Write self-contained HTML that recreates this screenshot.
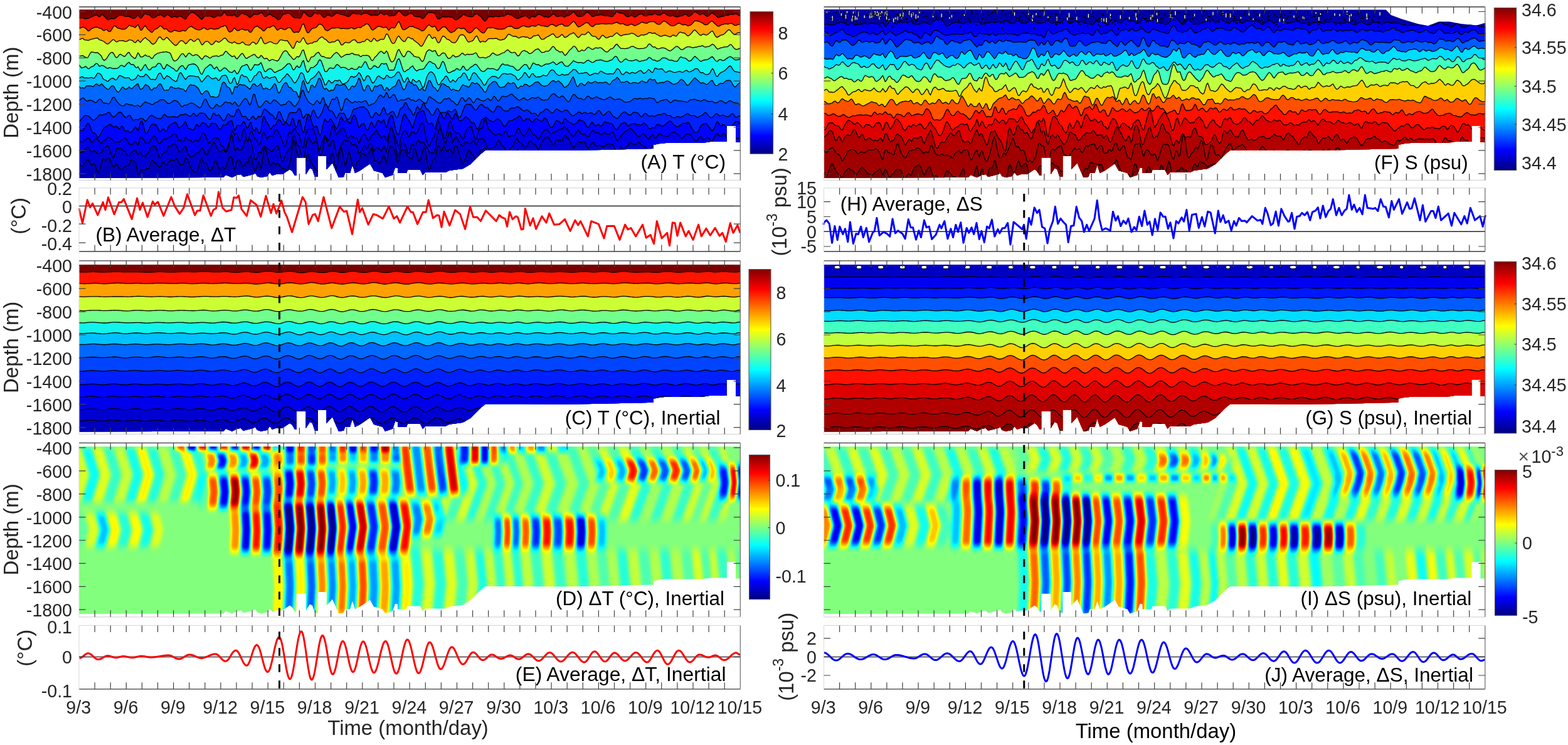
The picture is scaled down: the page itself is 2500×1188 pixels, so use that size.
<!DOCTYPE html><html><head><meta charset="utf-8"><style>html,body{margin:0;padding:0;background:#fff;}svg{display:block}text{font-family:"Liberation Sans",Arial,sans-serif}</style></head><body>
<svg width="2500" height="1188" viewBox="0 0 2500 1188">
<defs><linearGradient id="jetv" x1="0" y1="1" x2="0" y2="0"><stop offset="0.0000" stop-color="#000080"/><stop offset="0.1250" stop-color="#0000ff"/><stop offset="0.3750" stop-color="#00ffff"/><stop offset="0.6250" stop-color="#ffff00"/><stop offset="0.8750" stop-color="#ff0000"/><stop offset="1.0000" stop-color="#800000"/></linearGradient><clipPath id="cA"><path d="M126,15.3 L1180.3,15.3 L1180.3,227 L1173,227 L1173,200.8 L1159,200.8 L1159,226 L1133,226 L1120,228 L1062,228 L1052,229 L1042,231 L1042,237 L1000,238 L960,239 L900,240 L830,239.5 L774,239.5 L766,246 L750,262 L738,269 L716,272 L710,275 L678,275 L674,279 L670,271 L650,271 L648,276 L634,276 L634,268 L630,267 L626,279 L614,283 L610,276 L596,272 L590,261 L574,272 L566,276 L562,263 L558,276 L550,276 L548,282 L540,283 L536,274 L530,260 L520.7,270 L520.7,248.7 L506.8,248.7 L506.8,282 L502,282 L498,270 L494,268 L487.8,278 L487.8,251.3 L472.7,251.3 L472.7,280 L470,280 L466,273 L462,270 L450,278 L440,278 L434,280 L430,275 L426,281 L416,283 L410,281 L407,276 L404,278 L388,282 L384,278 L378,279 L370,283 L360,279 L356,283 L330,283 L126,283.5Z"/></clipPath><clipPath id="cF"><path d="M1313.5,15 L2209.7,15.5 L2218,24 L2234,30 L2259.6,37.8 L2276.8,41.3 L2294,34.4 L2311,34.4 L2328,37.8 L2354,40.4 L2366,37 L2368.5,37 L2367.8,227 L2360.5,227 L2360.5,200.8 L2346.5,200.8 L2346.5,226 L2320.5,226 L2307.5,228 L2249.5,228 L2239.5,229 L2229.5,231 L2229.5,237 L2187.5,238 L2147.5,239 L2087.5,240 L2017.5,239.5 L1961.5,239.5 L1953.5,246 L1937.5,262 L1925.5,269 L1903.5,272 L1897.5,275 L1865.5,275 L1861.5,279 L1857.5,271 L1837.5,271 L1835.5,276 L1821.5,276 L1821.5,268 L1817.5,267 L1813.5,279 L1801.5,283 L1797.5,276 L1783.5,272 L1777.5,261 L1761.5,272 L1753.5,276 L1749.5,263 L1745.5,276 L1737.5,276 L1735.5,282 L1727.5,283 L1723.5,274 L1717.5,260 L1708.2,270 L1708.2,248.7 L1694.3,248.7 L1694.3,282 L1689.5,282 L1685.5,270 L1681.5,268 L1675.3,278 L1675.3,251.3 L1660.2,251.3 L1660.2,280 L1657.5,280 L1653.5,273 L1649.5,270 L1637.5,278 L1627.5,278 L1621.5,280 L1617.5,275 L1613.5,281 L1603.5,283 L1597.5,281 L1594.5,276 L1591.5,278 L1575.5,282 L1571.5,278 L1565.5,279 L1557.5,283 L1547.5,279 L1543.5,283 L1517.5,283 L1313.5,283.5Z"/></clipPath><clipPath id="cC"><path d="M126,422 L1180.3,422 L1180.3,631.8 L1173,631.8 L1173,605.6 L1159,605.6 L1159,630.8 L1133,630.8 L1120,632.8 L1062,632.8 L1052,633.8 L1042,635.8 L1042,641.8 L1000,642.8 L960,643.8 L900,644.8 L830,644.3 L774,644.3 L766,650.8 L750,666.8 L738,673.8 L716,676.8 L710,679.8 L678,679.8 L674,683.8 L670,675.8 L650,675.8 L648,680.8 L634,680.8 L634,672.8 L630,671.8 L626,683.8 L614,687.8 L610,680.8 L596,676.8 L590,665.8 L574,676.8 L566,680.8 L562,667.8 L558,680.8 L550,680.8 L548,686.8 L540,687.8 L536,678.8 L530,664.8 L520.7,674.8 L520.7,653.5 L506.8,653.5 L506.8,686.8 L502,686.8 L498,674.8 L494,672.8 L487.8,682.8 L487.8,656.1 L472.7,656.1 L472.7,684.8 L470,684.8 L466,677.8 L462,674.8 L450,682.8 L440,682.8 L434,684.8 L430,679.8 L426,685.8 L416,687.8 L410,685.8 L407,680.8 L404,682.8 L388,686.8 L384,682.8 L378,683.8 L370,687.8 L360,683.8 L356,687.8 L330,687.8 L126,688.3Z"/></clipPath><clipPath id="cG"><path d="M1313.5,422 L2367.8,422 L2367.8,631.8 L2360.5,631.8 L2360.5,605.6 L2346.5,605.6 L2346.5,630.8 L2320.5,630.8 L2307.5,632.8 L2249.5,632.8 L2239.5,633.8 L2229.5,635.8 L2229.5,641.8 L2187.5,642.8 L2147.5,643.8 L2087.5,644.8 L2017.5,644.3 L1961.5,644.3 L1953.5,650.8 L1937.5,666.8 L1925.5,673.8 L1903.5,676.8 L1897.5,679.8 L1865.5,679.8 L1861.5,683.8 L1857.5,675.8 L1837.5,675.8 L1835.5,680.8 L1821.5,680.8 L1821.5,672.8 L1817.5,671.8 L1813.5,683.8 L1801.5,687.8 L1797.5,680.8 L1783.5,676.8 L1777.5,665.8 L1761.5,676.8 L1753.5,680.8 L1749.5,667.8 L1745.5,680.8 L1737.5,680.8 L1735.5,686.8 L1727.5,687.8 L1723.5,678.8 L1717.5,664.8 L1708.2,674.8 L1708.2,653.5 L1694.3,653.5 L1694.3,686.8 L1689.5,686.8 L1685.5,674.8 L1681.5,672.8 L1675.3,682.8 L1675.3,656.1 L1660.2,656.1 L1660.2,684.8 L1657.5,684.8 L1653.5,677.8 L1649.5,674.8 L1637.5,682.8 L1627.5,682.8 L1621.5,684.8 L1617.5,679.8 L1613.5,685.8 L1603.5,687.8 L1597.5,685.8 L1594.5,680.8 L1591.5,682.8 L1575.5,686.8 L1571.5,682.8 L1565.5,683.8 L1557.5,687.8 L1547.5,683.8 L1543.5,687.8 L1517.5,687.8 L1313.5,688.3Z"/></clipPath><filter id="jetf" filterUnits="userSpaceOnUse" x="0" y="690" width="2500" height="310" color-interpolation-filters="sRGB"><feGaussianBlur stdDeviation="2.6 2.6"/><feComponentTransfer><feFuncR type="table" tableValues="0 0 0 0 .5 1 1 1 .5"/><feFuncG type="table" tableValues="0 0 .5 1 1 1 .5 0 0"/><feFuncB type="table" tableValues=".5 1 1 1 .5 0 0 0 0"/></feComponentTransfer></filter><clipPath id="cD"><path d="M126,712 L1180.3,712 L1180.3,922.4 L1173,922.4 L1173,896.2 L1159,896.2 L1159,921.4 L1133,921.4 L1120,923.4 L1062,923.4 L1052,924.4 L1042,926.4 L1042,932.4 L1000,933.4 L960,934.4 L900,935.4 L830,934.9 L774,934.9 L766,941.4 L750,957.4 L738,964.4 L716,967.4 L710,970.4 L678,970.4 L674,974.4 L670,966.4 L650,966.4 L648,971.4 L634,971.4 L634,963.4 L630,962.4 L626,974.4 L614,978.4 L610,971.4 L596,967.4 L590,956.4 L574,967.4 L566,971.4 L562,958.4 L558,971.4 L550,971.4 L548,977.4 L540,978.4 L536,969.4 L530,955.4 L520.7,965.4 L520.7,944.1 L506.8,944.1 L506.8,977.4 L502,977.4 L498,965.4 L494,963.4 L487.8,973.4 L487.8,946.7 L472.7,946.7 L472.7,975.4 L470,975.4 L466,968.4 L462,965.4 L450,973.4 L440,973.4 L434,975.4 L430,970.4 L426,976.4 L416,978.4 L410,976.4 L407,971.4 L404,973.4 L388,977.4 L384,973.4 L378,974.4 L370,978.4 L360,974.4 L356,978.4 L330,978.4 L126,978.9Z"/></clipPath><linearGradient id="cD0w" x1="0" y1="0" x2="0" y2="1"><stop offset="0" stop-color="#fff" stop-opacity="0"/><stop offset="0.122" stop-color="#fff"/><stop offset="0.878" stop-color="#fff"/><stop offset="1" stop-color="#fff" stop-opacity="0"/></linearGradient><linearGradient id="cD0k" x1="0" y1="0" x2="0" y2="1"><stop offset="0" stop-color="#000" stop-opacity="0"/><stop offset="0.122" stop-color="#000"/><stop offset="0.878" stop-color="#000"/><stop offset="1" stop-color="#000" stop-opacity="0"/></linearGradient><linearGradient id="cD1w" x1="0" y1="0" x2="0" y2="1"><stop offset="0" stop-color="#fff" stop-opacity="0"/><stop offset="0.119" stop-color="#fff"/><stop offset="0.881" stop-color="#fff"/><stop offset="1" stop-color="#fff" stop-opacity="0"/></linearGradient><linearGradient id="cD1k" x1="0" y1="0" x2="0" y2="1"><stop offset="0" stop-color="#000" stop-opacity="0"/><stop offset="0.119" stop-color="#000"/><stop offset="0.881" stop-color="#000"/><stop offset="1" stop-color="#000" stop-opacity="0"/></linearGradient><linearGradient id="cD2w" x1="0" y1="0" x2="0" y2="1"><stop offset="0" stop-color="#fff" stop-opacity="0"/><stop offset="0.155" stop-color="#fff"/><stop offset="0.845" stop-color="#fff"/><stop offset="1" stop-color="#fff" stop-opacity="0"/></linearGradient><linearGradient id="cD2k" x1="0" y1="0" x2="0" y2="1"><stop offset="0" stop-color="#000" stop-opacity="0"/><stop offset="0.155" stop-color="#000"/><stop offset="0.845" stop-color="#000"/><stop offset="1" stop-color="#000" stop-opacity="0"/></linearGradient><linearGradient id="cD3w" x1="0" y1="0" x2="0" y2="1"><stop offset="0" stop-color="#fff" stop-opacity="0"/><stop offset="0.333" stop-color="#fff"/><stop offset="0.667" stop-color="#fff"/><stop offset="1" stop-color="#fff" stop-opacity="0"/></linearGradient><linearGradient id="cD3k" x1="0" y1="0" x2="0" y2="1"><stop offset="0" stop-color="#000" stop-opacity="0"/><stop offset="0.333" stop-color="#000"/><stop offset="0.667" stop-color="#000"/><stop offset="1" stop-color="#000" stop-opacity="0"/></linearGradient><linearGradient id="cD4w" x1="0" y1="0" x2="0" y2="1"><stop offset="0" stop-color="#fff" stop-opacity="0"/><stop offset="0.273" stop-color="#fff"/><stop offset="0.727" stop-color="#fff"/><stop offset="1" stop-color="#fff" stop-opacity="0"/></linearGradient><linearGradient id="cD4k" x1="0" y1="0" x2="0" y2="1"><stop offset="0" stop-color="#000" stop-opacity="0"/><stop offset="0.273" stop-color="#000"/><stop offset="0.727" stop-color="#000"/><stop offset="1" stop-color="#000" stop-opacity="0"/></linearGradient><linearGradient id="cD5w" x1="0" y1="0" x2="0" y2="1"><stop offset="0" stop-color="#fff" stop-opacity="0"/><stop offset="0.286" stop-color="#fff"/><stop offset="0.714" stop-color="#fff"/><stop offset="1" stop-color="#fff" stop-opacity="0"/></linearGradient><linearGradient id="cD5k" x1="0" y1="0" x2="0" y2="1"><stop offset="0" stop-color="#000" stop-opacity="0"/><stop offset="0.286" stop-color="#000"/><stop offset="0.714" stop-color="#000"/><stop offset="1" stop-color="#000" stop-opacity="0"/></linearGradient><linearGradient id="cD6w" x1="0" y1="0" x2="0" y2="1"><stop offset="0" stop-color="#fff" stop-opacity="0"/><stop offset="0.333" stop-color="#fff"/><stop offset="0.667" stop-color="#fff"/><stop offset="1" stop-color="#fff" stop-opacity="0"/></linearGradient><linearGradient id="cD6k" x1="0" y1="0" x2="0" y2="1"><stop offset="0" stop-color="#000" stop-opacity="0"/><stop offset="0.333" stop-color="#000"/><stop offset="0.667" stop-color="#000"/><stop offset="1" stop-color="#000" stop-opacity="0"/></linearGradient><linearGradient id="cD7w" x1="0" y1="0" x2="0" y2="1"><stop offset="0" stop-color="#fff" stop-opacity="0"/><stop offset="0.163" stop-color="#fff"/><stop offset="0.837" stop-color="#fff"/><stop offset="1" stop-color="#fff" stop-opacity="0"/></linearGradient><linearGradient id="cD7k" x1="0" y1="0" x2="0" y2="1"><stop offset="0" stop-color="#000" stop-opacity="0"/><stop offset="0.163" stop-color="#000"/><stop offset="0.837" stop-color="#000"/><stop offset="1" stop-color="#000" stop-opacity="0"/></linearGradient><linearGradient id="cD8w" x1="0" y1="0" x2="0" y2="1"><stop offset="0" stop-color="#fff" stop-opacity="0"/><stop offset="0.227" stop-color="#fff"/><stop offset="0.773" stop-color="#fff"/><stop offset="1" stop-color="#fff" stop-opacity="0"/></linearGradient><linearGradient id="cD8k" x1="0" y1="0" x2="0" y2="1"><stop offset="0" stop-color="#000" stop-opacity="0"/><stop offset="0.227" stop-color="#000"/><stop offset="0.773" stop-color="#000"/><stop offset="1" stop-color="#000" stop-opacity="0"/></linearGradient><linearGradient id="cD9w" x1="0" y1="0" x2="0" y2="1"><stop offset="0" stop-color="#fff" stop-opacity="0"/><stop offset="0.333" stop-color="#fff"/><stop offset="0.667" stop-color="#fff"/><stop offset="1" stop-color="#fff" stop-opacity="0"/></linearGradient><linearGradient id="cD9k" x1="0" y1="0" x2="0" y2="1"><stop offset="0" stop-color="#000" stop-opacity="0"/><stop offset="0.333" stop-color="#000"/><stop offset="0.667" stop-color="#000"/><stop offset="1" stop-color="#000" stop-opacity="0"/></linearGradient><linearGradient id="cD10w" x1="0" y1="0" x2="0" y2="1"><stop offset="0" stop-color="#fff" stop-opacity="0"/><stop offset="0.278" stop-color="#fff"/><stop offset="0.722" stop-color="#fff"/><stop offset="1" stop-color="#fff" stop-opacity="0"/></linearGradient><linearGradient id="cD10k" x1="0" y1="0" x2="0" y2="1"><stop offset="0" stop-color="#000" stop-opacity="0"/><stop offset="0.278" stop-color="#000"/><stop offset="0.722" stop-color="#000"/><stop offset="1" stop-color="#000" stop-opacity="0"/></linearGradient><linearGradient id="cD11w" x1="0" y1="0" x2="0" y2="1"><stop offset="0" stop-color="#fff" stop-opacity="0"/><stop offset="0.235" stop-color="#fff"/><stop offset="0.765" stop-color="#fff"/><stop offset="1" stop-color="#fff" stop-opacity="0"/></linearGradient><linearGradient id="cD11k" x1="0" y1="0" x2="0" y2="1"><stop offset="0" stop-color="#000" stop-opacity="0"/><stop offset="0.235" stop-color="#000"/><stop offset="0.765" stop-color="#000"/><stop offset="1" stop-color="#000" stop-opacity="0"/></linearGradient><linearGradient id="cD12w" x1="0" y1="0" x2="0" y2="1"><stop offset="0" stop-color="#fff" stop-opacity="0"/><stop offset="0.203" stop-color="#fff"/><stop offset="0.797" stop-color="#fff"/><stop offset="1" stop-color="#fff" stop-opacity="0"/></linearGradient><linearGradient id="cD12k" x1="0" y1="0" x2="0" y2="1"><stop offset="0" stop-color="#000" stop-opacity="0"/><stop offset="0.203" stop-color="#000"/><stop offset="0.797" stop-color="#000"/><stop offset="1" stop-color="#000" stop-opacity="0"/></linearGradient><linearGradient id="cD13w" x1="0" y1="0" x2="0" y2="1"><stop offset="0" stop-color="#fff" stop-opacity="0"/><stop offset="0.222" stop-color="#fff"/><stop offset="0.778" stop-color="#fff"/><stop offset="1" stop-color="#fff" stop-opacity="0"/></linearGradient><linearGradient id="cD13k" x1="0" y1="0" x2="0" y2="1"><stop offset="0" stop-color="#000" stop-opacity="0"/><stop offset="0.222" stop-color="#000"/><stop offset="0.778" stop-color="#000"/><stop offset="1" stop-color="#000" stop-opacity="0"/></linearGradient><linearGradient id="cD14w" x1="0" y1="0" x2="0" y2="1"><stop offset="0" stop-color="#fff" stop-opacity="0"/><stop offset="0.229" stop-color="#fff"/><stop offset="0.771" stop-color="#fff"/><stop offset="1" stop-color="#fff" stop-opacity="0"/></linearGradient><linearGradient id="cD14k" x1="0" y1="0" x2="0" y2="1"><stop offset="0" stop-color="#000" stop-opacity="0"/><stop offset="0.229" stop-color="#000"/><stop offset="0.771" stop-color="#000"/><stop offset="1" stop-color="#000" stop-opacity="0"/></linearGradient><linearGradient id="cD15w" x1="0" y1="0" x2="0" y2="1"><stop offset="0" stop-color="#fff" stop-opacity="0"/><stop offset="0.190" stop-color="#fff"/><stop offset="0.810" stop-color="#fff"/><stop offset="1" stop-color="#fff" stop-opacity="0"/></linearGradient><linearGradient id="cD15k" x1="0" y1="0" x2="0" y2="1"><stop offset="0" stop-color="#000" stop-opacity="0"/><stop offset="0.190" stop-color="#000"/><stop offset="0.810" stop-color="#000"/><stop offset="1" stop-color="#000" stop-opacity="0"/></linearGradient><linearGradient id="cD16w" x1="0" y1="0" x2="0" y2="1"><stop offset="0" stop-color="#fff" stop-opacity="0"/><stop offset="0.158" stop-color="#fff"/><stop offset="0.842" stop-color="#fff"/><stop offset="1" stop-color="#fff" stop-opacity="0"/></linearGradient><linearGradient id="cD16k" x1="0" y1="0" x2="0" y2="1"><stop offset="0" stop-color="#000" stop-opacity="0"/><stop offset="0.158" stop-color="#000"/><stop offset="0.842" stop-color="#000"/><stop offset="1" stop-color="#000" stop-opacity="0"/></linearGradient><linearGradient id="cD17w" x1="0" y1="0" x2="0" y2="1"><stop offset="0" stop-color="#fff" stop-opacity="0"/><stop offset="0.160" stop-color="#fff"/><stop offset="0.840" stop-color="#fff"/><stop offset="1" stop-color="#fff" stop-opacity="0"/></linearGradient><linearGradient id="cD17k" x1="0" y1="0" x2="0" y2="1"><stop offset="0" stop-color="#000" stop-opacity="0"/><stop offset="0.160" stop-color="#000"/><stop offset="0.840" stop-color="#000"/><stop offset="1" stop-color="#000" stop-opacity="0"/></linearGradient><linearGradient id="cD18w" x1="0" y1="0" x2="0" y2="1"><stop offset="0" stop-color="#fff" stop-opacity="0"/><stop offset="0.225" stop-color="#fff"/><stop offset="0.775" stop-color="#fff"/><stop offset="1" stop-color="#fff" stop-opacity="0"/></linearGradient><linearGradient id="cD18k" x1="0" y1="0" x2="0" y2="1"><stop offset="0" stop-color="#000" stop-opacity="0"/><stop offset="0.225" stop-color="#000"/><stop offset="0.775" stop-color="#000"/><stop offset="1" stop-color="#000" stop-opacity="0"/></linearGradient><linearGradient id="cD19w" x1="0" y1="0" x2="0" y2="1"><stop offset="0" stop-color="#fff" stop-opacity="0"/><stop offset="0.219" stop-color="#fff"/><stop offset="0.781" stop-color="#fff"/><stop offset="1" stop-color="#fff" stop-opacity="0"/></linearGradient><linearGradient id="cD19k" x1="0" y1="0" x2="0" y2="1"><stop offset="0" stop-color="#000" stop-opacity="0"/><stop offset="0.219" stop-color="#000"/><stop offset="0.781" stop-color="#000"/><stop offset="1" stop-color="#000" stop-opacity="0"/></linearGradient><linearGradient id="cD20w" x1="0" y1="0" x2="0" y2="1"><stop offset="0" stop-color="#fff" stop-opacity="0"/><stop offset="0.232" stop-color="#fff"/><stop offset="0.768" stop-color="#fff"/><stop offset="1" stop-color="#fff" stop-opacity="0"/></linearGradient><linearGradient id="cD20k" x1="0" y1="0" x2="0" y2="1"><stop offset="0" stop-color="#000" stop-opacity="0"/><stop offset="0.232" stop-color="#000"/><stop offset="0.768" stop-color="#000"/><stop offset="1" stop-color="#000" stop-opacity="0"/></linearGradient><linearGradient id="cD21w" x1="0" y1="0" x2="0" y2="1"><stop offset="0" stop-color="#fff" stop-opacity="0"/><stop offset="0.250" stop-color="#fff"/><stop offset="0.750" stop-color="#fff"/><stop offset="1" stop-color="#fff" stop-opacity="0"/></linearGradient><linearGradient id="cD21k" x1="0" y1="0" x2="0" y2="1"><stop offset="0" stop-color="#000" stop-opacity="0"/><stop offset="0.250" stop-color="#000"/><stop offset="0.750" stop-color="#000"/><stop offset="1" stop-color="#000" stop-opacity="0"/></linearGradient><linearGradient id="cD22w" x1="0" y1="0" x2="0" y2="1"><stop offset="0" stop-color="#fff" stop-opacity="0"/><stop offset="0.232" stop-color="#fff"/><stop offset="0.768" stop-color="#fff"/><stop offset="1" stop-color="#fff" stop-opacity="0"/></linearGradient><linearGradient id="cD22k" x1="0" y1="0" x2="0" y2="1"><stop offset="0" stop-color="#000" stop-opacity="0"/><stop offset="0.232" stop-color="#000"/><stop offset="0.768" stop-color="#000"/><stop offset="1" stop-color="#000" stop-opacity="0"/></linearGradient><clipPath id="cI"><path d="M1313.5,712 L2367.8,712 L2367.8,922.4 L2360.5,922.4 L2360.5,896.2 L2346.5,896.2 L2346.5,921.4 L2320.5,921.4 L2307.5,923.4 L2249.5,923.4 L2239.5,924.4 L2229.5,926.4 L2229.5,932.4 L2187.5,933.4 L2147.5,934.4 L2087.5,935.4 L2017.5,934.9 L1961.5,934.9 L1953.5,941.4 L1937.5,957.4 L1925.5,964.4 L1903.5,967.4 L1897.5,970.4 L1865.5,970.4 L1861.5,974.4 L1857.5,966.4 L1837.5,966.4 L1835.5,971.4 L1821.5,971.4 L1821.5,963.4 L1817.5,962.4 L1813.5,974.4 L1801.5,978.4 L1797.5,971.4 L1783.5,967.4 L1777.5,956.4 L1761.5,967.4 L1753.5,971.4 L1749.5,958.4 L1745.5,971.4 L1737.5,971.4 L1735.5,977.4 L1727.5,978.4 L1723.5,969.4 L1717.5,955.4 L1708.2,965.4 L1708.2,944.1 L1694.3,944.1 L1694.3,977.4 L1689.5,977.4 L1685.5,965.4 L1681.5,963.4 L1675.3,973.4 L1675.3,946.7 L1660.2,946.7 L1660.2,975.4 L1657.5,975.4 L1653.5,968.4 L1649.5,965.4 L1637.5,973.4 L1627.5,973.4 L1621.5,975.4 L1617.5,970.4 L1613.5,976.4 L1603.5,978.4 L1597.5,976.4 L1594.5,971.4 L1591.5,973.4 L1575.5,977.4 L1571.5,973.4 L1565.5,974.4 L1557.5,978.4 L1547.5,974.4 L1543.5,978.4 L1517.5,978.4 L1313.5,978.9Z"/></clipPath><linearGradient id="cI0w" x1="0" y1="0" x2="0" y2="1"><stop offset="0" stop-color="#fff" stop-opacity="0"/><stop offset="0.231" stop-color="#fff"/><stop offset="0.769" stop-color="#fff"/><stop offset="1" stop-color="#fff" stop-opacity="0"/></linearGradient><linearGradient id="cI0k" x1="0" y1="0" x2="0" y2="1"><stop offset="0" stop-color="#000" stop-opacity="0"/><stop offset="0.231" stop-color="#000"/><stop offset="0.769" stop-color="#000"/><stop offset="1" stop-color="#000" stop-opacity="0"/></linearGradient><linearGradient id="cI1w" x1="0" y1="0" x2="0" y2="1"><stop offset="0" stop-color="#fff" stop-opacity="0"/><stop offset="0.122" stop-color="#fff"/><stop offset="0.878" stop-color="#fff"/><stop offset="1" stop-color="#fff" stop-opacity="0"/></linearGradient><linearGradient id="cI1k" x1="0" y1="0" x2="0" y2="1"><stop offset="0" stop-color="#000" stop-opacity="0"/><stop offset="0.122" stop-color="#000"/><stop offset="0.878" stop-color="#000"/><stop offset="1" stop-color="#000" stop-opacity="0"/></linearGradient><linearGradient id="cI2w" x1="0" y1="0" x2="0" y2="1"><stop offset="0" stop-color="#fff" stop-opacity="0"/><stop offset="0.119" stop-color="#fff"/><stop offset="0.881" stop-color="#fff"/><stop offset="1" stop-color="#fff" stop-opacity="0"/></linearGradient><linearGradient id="cI2k" x1="0" y1="0" x2="0" y2="1"><stop offset="0" stop-color="#000" stop-opacity="0"/><stop offset="0.119" stop-color="#000"/><stop offset="0.881" stop-color="#000"/><stop offset="1" stop-color="#000" stop-opacity="0"/></linearGradient><linearGradient id="cI3w" x1="0" y1="0" x2="0" y2="1"><stop offset="0" stop-color="#fff" stop-opacity="0"/><stop offset="0.156" stop-color="#fff"/><stop offset="0.844" stop-color="#fff"/><stop offset="1" stop-color="#fff" stop-opacity="0"/></linearGradient><linearGradient id="cI3k" x1="0" y1="0" x2="0" y2="1"><stop offset="0" stop-color="#000" stop-opacity="0"/><stop offset="0.156" stop-color="#000"/><stop offset="0.844" stop-color="#000"/><stop offset="1" stop-color="#000" stop-opacity="0"/></linearGradient><linearGradient id="cI4w" x1="0" y1="0" x2="0" y2="1"><stop offset="0" stop-color="#fff" stop-opacity="0"/><stop offset="0.231" stop-color="#fff"/><stop offset="0.769" stop-color="#fff"/><stop offset="1" stop-color="#fff" stop-opacity="0"/></linearGradient><linearGradient id="cI4k" x1="0" y1="0" x2="0" y2="1"><stop offset="0" stop-color="#000" stop-opacity="0"/><stop offset="0.231" stop-color="#000"/><stop offset="0.769" stop-color="#000"/><stop offset="1" stop-color="#000" stop-opacity="0"/></linearGradient><linearGradient id="cI5w" x1="0" y1="0" x2="0" y2="1"><stop offset="0" stop-color="#fff" stop-opacity="0"/><stop offset="0.200" stop-color="#fff"/><stop offset="0.800" stop-color="#fff"/><stop offset="1" stop-color="#fff" stop-opacity="0"/></linearGradient><linearGradient id="cI5k" x1="0" y1="0" x2="0" y2="1"><stop offset="0" stop-color="#000" stop-opacity="0"/><stop offset="0.200" stop-color="#000"/><stop offset="0.800" stop-color="#000"/><stop offset="1" stop-color="#000" stop-opacity="0"/></linearGradient><linearGradient id="cI6w" x1="0" y1="0" x2="0" y2="1"><stop offset="0" stop-color="#fff" stop-opacity="0"/><stop offset="0.200" stop-color="#fff"/><stop offset="0.800" stop-color="#fff"/><stop offset="1" stop-color="#fff" stop-opacity="0"/></linearGradient><linearGradient id="cI6k" x1="0" y1="0" x2="0" y2="1"><stop offset="0" stop-color="#000" stop-opacity="0"/><stop offset="0.200" stop-color="#000"/><stop offset="0.800" stop-color="#000"/><stop offset="1" stop-color="#000" stop-opacity="0"/></linearGradient><linearGradient id="cI7w" x1="0" y1="0" x2="0" y2="1"><stop offset="0" stop-color="#fff" stop-opacity="0"/><stop offset="0.127" stop-color="#fff"/><stop offset="0.873" stop-color="#fff"/><stop offset="1" stop-color="#fff" stop-opacity="0"/></linearGradient><linearGradient id="cI7k" x1="0" y1="0" x2="0" y2="1"><stop offset="0" stop-color="#000" stop-opacity="0"/><stop offset="0.127" stop-color="#000"/><stop offset="0.873" stop-color="#000"/><stop offset="1" stop-color="#000" stop-opacity="0"/></linearGradient><linearGradient id="cI8w" x1="0" y1="0" x2="0" y2="1"><stop offset="0" stop-color="#fff" stop-opacity="0"/><stop offset="0.163" stop-color="#fff"/><stop offset="0.837" stop-color="#fff"/><stop offset="1" stop-color="#fff" stop-opacity="0"/></linearGradient><linearGradient id="cI8k" x1="0" y1="0" x2="0" y2="1"><stop offset="0" stop-color="#000" stop-opacity="0"/><stop offset="0.163" stop-color="#000"/><stop offset="0.837" stop-color="#000"/><stop offset="1" stop-color="#000" stop-opacity="0"/></linearGradient><linearGradient id="cI9w" x1="0" y1="0" x2="0" y2="1"><stop offset="0" stop-color="#fff" stop-opacity="0"/><stop offset="0.163" stop-color="#fff"/><stop offset="0.837" stop-color="#fff"/><stop offset="1" stop-color="#fff" stop-opacity="0"/></linearGradient><linearGradient id="cI9k" x1="0" y1="0" x2="0" y2="1"><stop offset="0" stop-color="#000" stop-opacity="0"/><stop offset="0.163" stop-color="#000"/><stop offset="0.837" stop-color="#000"/><stop offset="1" stop-color="#000" stop-opacity="0"/></linearGradient><linearGradient id="cI10w" x1="0" y1="0" x2="0" y2="1"><stop offset="0" stop-color="#fff" stop-opacity="0"/><stop offset="0.175" stop-color="#fff"/><stop offset="0.825" stop-color="#fff"/><stop offset="1" stop-color="#fff" stop-opacity="0"/></linearGradient><linearGradient id="cI10k" x1="0" y1="0" x2="0" y2="1"><stop offset="0" stop-color="#000" stop-opacity="0"/><stop offset="0.175" stop-color="#000"/><stop offset="0.825" stop-color="#000"/><stop offset="1" stop-color="#000" stop-opacity="0"/></linearGradient><linearGradient id="cI11w" x1="0" y1="0" x2="0" y2="1"><stop offset="0" stop-color="#fff" stop-opacity="0"/><stop offset="0.255" stop-color="#fff"/><stop offset="0.745" stop-color="#fff"/><stop offset="1" stop-color="#fff" stop-opacity="0"/></linearGradient><linearGradient id="cI11k" x1="0" y1="0" x2="0" y2="1"><stop offset="0" stop-color="#000" stop-opacity="0"/><stop offset="0.255" stop-color="#000"/><stop offset="0.745" stop-color="#000"/><stop offset="1" stop-color="#000" stop-opacity="0"/></linearGradient><linearGradient id="cI12w" x1="0" y1="0" x2="0" y2="1"><stop offset="0" stop-color="#fff" stop-opacity="0"/><stop offset="0.333" stop-color="#fff"/><stop offset="0.667" stop-color="#fff"/><stop offset="1" stop-color="#fff" stop-opacity="0"/></linearGradient><linearGradient id="cI12k" x1="0" y1="0" x2="0" y2="1"><stop offset="0" stop-color="#000" stop-opacity="0"/><stop offset="0.333" stop-color="#000"/><stop offset="0.667" stop-color="#000"/><stop offset="1" stop-color="#000" stop-opacity="0"/></linearGradient><linearGradient id="cI13w" x1="0" y1="0" x2="0" y2="1"><stop offset="0" stop-color="#fff" stop-opacity="0"/><stop offset="0.323" stop-color="#fff"/><stop offset="0.677" stop-color="#fff"/><stop offset="1" stop-color="#fff" stop-opacity="0"/></linearGradient><linearGradient id="cI13k" x1="0" y1="0" x2="0" y2="1"><stop offset="0" stop-color="#000" stop-opacity="0"/><stop offset="0.323" stop-color="#000"/><stop offset="0.677" stop-color="#000"/><stop offset="1" stop-color="#000" stop-opacity="0"/></linearGradient><linearGradient id="cI14w" x1="0" y1="0" x2="0" y2="1"><stop offset="0" stop-color="#fff" stop-opacity="0"/><stop offset="0.276" stop-color="#fff"/><stop offset="0.724" stop-color="#fff"/><stop offset="1" stop-color="#fff" stop-opacity="0"/></linearGradient><linearGradient id="cI14k" x1="0" y1="0" x2="0" y2="1"><stop offset="0" stop-color="#000" stop-opacity="0"/><stop offset="0.276" stop-color="#000"/><stop offset="0.724" stop-color="#000"/><stop offset="1" stop-color="#000" stop-opacity="0"/></linearGradient><linearGradient id="cI15w" x1="0" y1="0" x2="0" y2="1"><stop offset="0" stop-color="#fff" stop-opacity="0"/><stop offset="0.182" stop-color="#fff"/><stop offset="0.818" stop-color="#fff"/><stop offset="1" stop-color="#fff" stop-opacity="0"/></linearGradient><linearGradient id="cI15k" x1="0" y1="0" x2="0" y2="1"><stop offset="0" stop-color="#000" stop-opacity="0"/><stop offset="0.182" stop-color="#000"/><stop offset="0.818" stop-color="#000"/><stop offset="1" stop-color="#000" stop-opacity="0"/></linearGradient><linearGradient id="cI16w" x1="0" y1="0" x2="0" y2="1"><stop offset="0" stop-color="#fff" stop-opacity="0"/><stop offset="0.242" stop-color="#fff"/><stop offset="0.758" stop-color="#fff"/><stop offset="1" stop-color="#fff" stop-opacity="0"/></linearGradient><linearGradient id="cI16k" x1="0" y1="0" x2="0" y2="1"><stop offset="0" stop-color="#000" stop-opacity="0"/><stop offset="0.242" stop-color="#000"/><stop offset="0.758" stop-color="#000"/><stop offset="1" stop-color="#000" stop-opacity="0"/></linearGradient></defs>
<g clip-path="url(#cA)">
<rect x="124" y="0" width="1058.3" height="300" fill="#780000"/>
<path d="M120,28.5 L126,28.5l2 .2 2-.2 2-.2 2 1.4 2 .3 2-.4 2-.1 2-.7 2-.8 2-1.2 2-.9 2-.9 2-.7 2-.3 2 .9 2 2.1 2-1.1 2-2.6 2 .4 2 2 2 2 2 2.1 2 1.9 2-.1 2-1.6 2-.5 2 .3 2 0 2-.7 2-1.8 2-1.7 2-.9 2-.2 2 .1 2 0 2 1.1 2 .3 2 .1 2 .2 2-.2 2 1.4 2 1.2 2 .6 2-.1 2-.9 2-2.4 2-1.8 2 2.6 2 2.5 2-1.2 2-2.8 2-2.6 2-1.3 2 1.8 2 .4 2 0 2 2 2 2.2 2 1 2-.3 2-.9 2-2 2-1 2-.3 2-.9 2 1 2 1.8 2 1.1 2-1.8 2-2 2 .5 2 1.2 2 1.6 2 1.3 2-.7 2-1.2 2 .6 2 1.1 2-.8 2-1.5 2 .2 2 1.3 2 1.6 2 1.6 2 .2 2-3 2-2.9 2-2.2 2-2.2 2-.5 2 .6 2 .8 2 1.5 2 1.7 2 1.6 2 2 2 2.2 2 .8 2-2.3 2-2.7 2-.6 2 .7 2-.3 2-.2 2 .4 2 1 2 1 2 .1 2-1.5 2-1.3 2 .1 2 .1 2 .3 2-1.2 2-3.3 2-1.8 2 2.4 2 3 2 .2 2-.6 2 .2 2 .9 2-1.3 2-.6 2 2.4 2 1.4 2-1.3 2-2 2-2.1 2-.9 2 1 2 1 2 .3 2 .8 2 1.9 2 1.9 2-.6 2-1.9 2-1.8 2-1.1 2 .6 2 0 2-.4 2-1 2-2.1 2 1.2 2 2.7 2 2.5 2 .3 2-1.3 2-1.6 2-.6 2 .7 2 1.8 2 1 2 .6 2 1.4 2 2.4 2 1.1 2-1.2 2-2.8 2-3.2 2-1.8 2-.5 2-.5 2-.6 2 .3 2 .3 2 1.5 2 2.3 2 1.9 2 1 2 .1 2-.4 2 .8 2-.1 2-1.4 2-4.4 2-4.1 2 1.1 2 2.2 2 2.2 2 1.4 2 .8 2-.1 2-1.8 2-3.1 2-1.3 2 .8 2 1.1 2-.6 2 .1 2 1.2 2 2.8 2 1.9 2 0 2-2.1 2-1.4 2-.5 2 1.3 2 1 2-.3 2-1.2 2-1.7 2-1.8 2-.1 2 .8 2 .8 2 .8 2 .1 2 .4 2 .7 2 .8 2 .9 2 .2 2-1.3 2-2.2 2-1.8 2-.2 2 .5 2 1 2 0 2-.9 2 1.5 2 .7 2-1.7 2-.7 2 .1 2-.3 2 .4 2 1.1 2 1 2 1 2 .3 2-.7 2-.2 2 .6 2-.1 2-2 2-1.8 2-.1 2 1.8 2 1.4 2-.6 2-1.6 2 1 2 2.4 2 .3 2-.3 2-.4 2 .2 2-.7 2-2.4 2-2.8 2-1.3 2 1 2 2.1 2 2.2 2 1.6 2 .8 2-.6 2-1.3 2-1.2 2-.8 2 .3 2 .5 2 3.1 2 .9 2 .4 2 .3 2-.3 2 .5 2 1.6 2 1 2-1.2 2-2.6 2-2.8 2-2.1 2-1.1 2 .1 2 .3 2 .1 2 .2 2 2 2 4.3 2 3 2 .5 2-.9 2-2.2 2-.8 2 .6 2 .3 2-.2 2-.5 2 .1 2 .7 2 .1 2 .2 2 2.3 2 1.7 2-.3 2-.9 2-1.5 2-1.6 2-1.8 2-2.2 2-.3 2 1.3 2 .8 2 .6 2 .3 2 .4 2 .3 2-.5 2-2.2 2-1.9 2-.7 2 1.7 2 1.5 2 1.5 2 1.7 2 2.6 2 2.6 2 .5 2-2.5 2-3.4 2-1.5 2 .2 2 .4 2 .3 2-.6 2-1.1 2 .4 2 1 2-.2 2-.7 2-.5 2 0 2 0 2-1.2 2-1.4 2-.7 2 1.1 2 .4 2 .5 2 1.5 2 1.8 2 1 2 1 2 .1 2-.9 2-1.3 2-.5 2-.5 2-1.3 2 .2 2 .7 2 2.1 2 1.6 2-1.9 2-1.8 2-.1 2 1.3 2-.6 2-2.1 2-1.5 2 .4 2 .3 2 .8 2 1.5 2 1 2-.5 2 .5 2 .6 2-.7 2-1.3 2-1.8 2-1.5 2 .4 2 2.6 2 1.2 2-.5 2-.5 2-.2 2-.1 2 1.3 2 .9 2-1.2 2-1.2 2-.1 2-.7 2-1.4 2-2.1 2-2.3 2 1.4 2 3 2 2.4 2 1.3 2-.3 2-.1 2-.4 2-.6 2-2.3 2-2.2 2-.9 2 0 2 1.9 2 2.2 2 2.3 2 .2 2-1 2-.9 2 .2 2-.2 2-.7 2-.3 2 .5 2 .6 2 .5 2 .2 2-.3 2 .2 2 .7 2 .6 2 .2 2-1.4 2-2.8 2-2.8 2-1.1 2 1.4 2 .7 2 .7 2-.2 2 .8 2 1.7 2 1.8 2 1.1 2 0 2-.9 2-1.1 2 .4 2 1.3 2 1.3 2-.9 2-1.6 2-1.2 2-1.1 2-.8 2 .8 2 1.7 2 .7 2 .3 2-.3 2-1.5 2-.2 2 .3 2 .1 2-1.3 2-1.2 2 1.3 2 .9 2 .3 2 .4 2-.9 2-1.7 2-.6 2 .4 2 1.3 2 1.5 2 1 2 .5 2-.3 2-.8 2 .4 2 1.1 2 .7 2 .2 2-.6 2-.9 2-.2 2 0 2-1.4 2-1.3 2 .5 2 1.9 2 1.1 2-.7 2-1.5 2-1.8 2-2.1 2-1.6 2 1.1 2 1.4 2 1.7 2 1.2 2-.8 2-1.7 2 .9 2 1.9 2 1.5 2 .4 2-.8 2-2 2-2.2 2-.3 2 1.7 2 1.3 2 1.6 2 2.2 2 .5 2-.6 2-1.4 2 0 2-.2 2-.9 2-.9 2 .4 2-.4 2-1.1 2 0 2 .6 2-.7 2-1 2 .2 2 1.3 2 1.6 2 0 2-1.1 L1186.3,23.8 V310 H120Z" fill="#ff1400" stroke="#000" stroke-width="1.3" stroke-linejoin="round"/>
<path d="M120,44.7 L126,44.7l2 .1 2-.6 2-1.2 2 1 2 .9 2 1.7 2 2.4 2 .3 2-1.5 2-1.9 2-.9 2-.8 2-.7 2-.2 2 .3 2 1.5 2 .3 2 .6 2 2.1 2 .7 2-1.2 2-.5 2 1.9 2 1.5 2-.5 2-2.5 2-3.8 2-2.6 2 .5 2 1.8 2 1.6 2 .4 2 .5 2 .7 2-.1 2 .3 2-.7 2-1.5 2-2.3 2-2.1 2 1.1 2 .5 2 .3 2 1.3 2 .4 2-2.8 2-1.9 2 4.3 2 4.7 2-.1 2-2.9 2-3 2-.9 2 3.5 2 2.4 2 1.3 2 2.3 2 1.1 2-1.6 2-2.7 2-1.2 2-.7 2-1.2 2-1.9 2-1.4 2 1.4 2 2.4 2 1.7 2-.6 2 .3 2 2.6 2 1.6 2 .6 2-.2 2-1.4 2-1.2 2 .3 2 .7 2 .5 2 .5 2-.1 2-1.3 2-.4 2 .8 2 .1 2-2.6 2-2 2-1.5 2-1.1 2 .4 2 1.4 2 1.2 2 1.2 2 .8 2 .4 2 .2 2-.5 2-1.2 2-1.7 2 .1 2 1.5 2 1.3 2-.4 2-.8 2-.6 2 .2 2 .7 2 .4 2-.6 2-.2 2 .1 2-1.6 2-1.5 2-.3 2-.5 2-1.6 2 .3 2 4.1 2 4.3 2 1.9 2-.5 2-1.1 2-3.1 2-1.8 2 2.2 2 2 2 0 2-.8 2-1.3 2-.7 2 1 2 .9 2 .1 2-.6 2 1 2 2.8 2 .3 2-2.5 2-3.1 2-2.7 2-.9 2-.7 2 1.2 2 1.9 2 .4 2 2.6 2 1.6 2-.6 2-2.6 2-2.1 2-.4 2 .2 2-1 2-1.5 2-.5 2 1.6 2 3 2 2.5 2-.4 2-2.1 2-.3 2 .8 2 .8 2 .6 2-.7 2-1.8 2-.6 2-.3 2 1.5 2 3.4 2 2.6 2 .3 2-.6 2-.2 2 .5 2-2.8 2-4.9 2-4.8 2-1.3 2 5.1 2 5.5 2 3.8 2 .2 2-2.5 2-2.7 2-1.5 2-.8 2-.2 2-.8 2-1.8 2-2.9 2-.6 2 .3 2 1.6 2 2.6 2 3.7 2 1.8 2 .6 2-.8 2-1.3 2-1.6 2-.8 2 .2 2 .1 2-.6 2 0 2 0 2 .6 2 .9 2-.5 2 .1 2 .3 2 .1 2 .1 2-.1 2-1 2-.7 2 .6 2 1.5 2-.2 2-1.1 2-.8 2-.6 2 .8 2-.7 2-2 2-.7 2-1.4 2-1.6 2 .2 2 1.7 2 2.9 2 3.8 2 1.6 2-1 2-1.5 2-1.3 2-1.7 2-.8 2 .6 2 .5 2 .9 2 .4 2-.7 2-.3 2 2.9 2 2.2 2-2.2 2-2 2-.1 2 .9 2-1.1 2-3.6 2-4.3 2-1.6 2 3.7 2 5.4 2 3.4 2 .7 2-.5 2-1.2 2-1.4 2-1.4 2-.9 2 .5 2-.7 2 1.7 2 .4 2 .8 2 .8 2 .7 2 1.5 2 1.2 2 .3 2-1.1 2-2.2 2-2.6 2-2.5 2-1.3 2 1.2 2 1.9 2 .5 2-1.4 2 .4 2 4.2 2 3 2-.5 2-2 2-2.5 2-1.3 2-.4 2 .3 2 2.2 2 2.7 2 1.9 2 1.8 2 .4 2-1.2 2-.6 2-1.7 2-2.6 2-1.2 2-.2 2 .9 2 .4 2-.8 2 .3 2 1.8 2 2.1 2 2.3 2 1 2-.3 2-1.1 2-2 2-2.7 2-1.6 2-.6 2 1.9 2 2 2 2.2 2 1.4 2 1 2-.4 2-2.6 2-3.4 2-2 2 .1 2 .3 2-.6 2-.1 2 1 2 .7 2 .4 2 .5 2 .1 2-.1 2-.1 2-.1 2-.2 2-1.5 2-1.2 2-1.1 2 0 2-.5 2 .3 2 1.5 2 1.5 2 .3 2 0 2-.2 2-.7 2-1.6 2-1 2-.6 2-.4 2 1.4 2 .4 2 0 2 .3 2-1.4 2-.4 2-.1 2 .7 2 0 2-1.2 2-1.6 2 .6 2 1.1 2 .3 2 .1 2 .6 2 .2 2 .6 2-.4 2-1.7 2-1.3 2-.3 2 .5 2 1.1 2 1.5 2-.5 2-1.4 2-.6 2-.6 2-.7 2 1.6 2 1.8 2 .1 2-.1 2 0 2-1.6 2-2.1 2-1.9 2-2.2 2 1.3 2 2.8 2 3 2 2.1 2-.4 2-1.1 2-1.4 2-1 2-1.6 2-1.1 2-.3 2 .7 2 2.6 2 1.9 2 1.2 2-.5 2-1.7 2-1.6 2 0 2 0 2-.4 2-.5 2-.1 2 .2 2 .3 2 .1 2-.2 2-.2 2-.1 2 .2 2 .1 2-.7 2-.7 2-.9 2-.3 2 1.6 2 .8 2 .4 2-.8 2 .5 2 1.3 2 .8 2 .4 2-.1 2-.9 2-1.2 2 .5 2 1.4 2 .9 2-.8 2-1 2-.7 2-1.1 2-1.7 2-.5 2 .8 2 .5 2 .6 2-.2 2-1.6 2-.5 2-.3 2 0 2 .1 2 .5 2 1.9 2 1.3 2 .4 2 0 2-1.5 2-2.4 2-1.2 2 .1 2 1.2 2 1.7 2 1.6 2 1.5 2 1 2 .4 2-.1 2-.6 2-1.2 2-1.4 2-1 2 .2 2 1.3 2 1.3 2-.2 2-.5 2 .8 2 1.2 2 .2 2-.9 2-.8 2-1.9 2-2.6 2-2 2 .4 2 .1 2 .4 2 1.1 2 1 2 .6 2 1.8 2 1.1 2 .2 2-.7 2-1.6 2-2 2-1.7 2 .1 2 2.4 2 1.9 2 1.6 2 1.8 2 .4 2-.7 2-1.6 2-.3 2-.6 2-.7 2-.2 2 .7 2-.4 2-.8 2-.1 2 1 2 1.6 2 .9 2-.3 2-1 2-.2 2-.7 2-.9 L1186.3,37.6 V310 H120Z" fill="#ffa000" stroke="#000" stroke-width="1.3" stroke-linejoin="round"/>
<path d="M120,62.6 L126,62.6l2 .1 2-1.1 2-.6 2 2.1 2 .8 2 0 2 .5 2-.4 2-.9 2-.8 2-.2 2-.5 2-.4 2-.6 2 .2 2 2.3 2 .9 2 .3 2 1.2 2 1 2 1.7 2 1.6 2 .3 2-1.3 2-1.8 2-2.1 2-1.7 2 .4 2 2.3 2 .9 2-.7 2-1.3 2 0 2 .3 2-.4 2 1 2 .6 2-.4 2-1 2-1.5 2 .4 2 .3 2 1.3 2 2.1 2 .6 2-2.3 2-2.2 2 2.6 2 1.4 2-2.5 2-2.3 2-1.8 2-1.1 2 2.4 2 1.5 2 1.2 2 2.5 2 2.2 2 .9 2-.9 2-1.7 2-3.2 2-3.5 2-2.3 2 .2 2 2.8 2 1.5 2-.1 2-2.5 2-1.5 2 1.9 2 2.2 2 2.1 2 2.1 2 2 2 1.9 2 1 2-.9 2-2.3 2-2.7 2-1.6 2-.4 2 1.1 2 2.1 2 2.1 2-1.4 2-2.4 2-2.3 2-1.3 2 1.1 2 2.1 2 .4 2-1.6 2-2 2-.7 2 2.3 2 4.3 2 3.2 2-1.2 2-2.7 2-1.7 2-.3 2 .7 2 2.1 2 2 2 .7 2-1.3 2-2.5 2-2.2 2 .4 2 1.7 2-.5 2-1.5 2-1.5 2-1.9 2-1.4 2 .8 2 2.6 2 2.3 2 1.3 2 .3 2 1 2-1.1 2-1.2 2 1.7 2 1.2 2-.1 2 .4 2-1.1 2-1.8 2 .8 2 2 2 1.7 2 .3 2 .1 2 .1 2-2.2 2-2.4 2 0 2 1.1 2 2.1 2-1 2-3.4 2-3.9 2-3.2 2 3.4 2 5.1 2 2.4 2-.5 2-.8 2-1.1 2-.9 2 .1 2 1.1 2 1.2 2 .7 2 .1 2-.2 2-2.4 2-3.1 2-.7 2 .5 2 .5 2 .6 2-.2 2-.1 2 2.8 2 2.8 2 3.1 2 3.3 2 .4 2-4 2-5.3 2-2.4 2 2 2 .3 2-2.4 2-3.8 2-1.5 2 4.3 2 3.7 2 2.3 2-.2 2-1 2-.2 2 0 2-1.8 2-.8 2 .2 2-1.1 2-3.1 2-1.4 2-1.8 2-.1 2 1.7 2 2 2 .5 2 2.3 2 2 2 .7 2-.8 2-.7 2 .1 2-.3 2-1.8 2-1.1 2 .6 2 3.4 2 4 2 .1 2-2 2-1.9 2-.4 2 .7 2 .3 2-1 2-1.6 2-1.6 2-.7 2 0 2 2.3 2 2.4 2-.4 2 .3 2-.8 2-1.2 2 .6 2-1.2 2-2.7 2-.4 2 1.5 2 2.1 2 .6 2-2.8 2-2.8 2 1.3 2 2.9 2 .5 2-1.4 2-1 2-.9 2 .5 2-.4 2-3.8 2-4.6 2 .6 2 4 2 4 2 4.5 2 2.2 2-.2 2-2.1 2-4.3 2-4.3 2-1.1 2 2.9 2 2.8 2 1.9 2 1.4 2-.5 2-3.5 2-2.9 2-.1 2 1.4 2 1.2 2-.5 2 2.9 2 1.4 2 1.4 2 1.5 2 1.8 2 2.6 2 .9 2-2 2-3.8 2-4 2-3.6 2-3.4 2-2.4 2 1.7 2 4 2 1.1 2-2.3 2 .2 2 4.7 2 3.8 2 .2 2-2.7 2-5 2-3 2 .3 2 1.9 2 2.5 2 .8 2 .5 2 1.9 2 1.9 2 .5 2 .6 2-.6 2-2.2 2-3.4 2-4.1 2-2.3 2-.3 2-.1 2 1.3 2 3 2 3.8 2 3.1 2 .4 2-.8 2-.6 2-.7 2-3 2-3.2 2-1.6 2 3.3 2 4.5 2 2.6 2-1.2 2-.8 2 1.2 2 0 2-2 2-2.3 2-.7 2-.1 2-.2 2 .3 2 0 2-.5 2 .2 2 1.2 2 .9 2 .3 2-.3 2-.5 2-.4 2-1.8 2-2.8 2-3.2 2-.1 2 1 2 1.3 2 .8 2 .2 2-.1 2 1 2 1.4 2 .4 2-1.3 2-.8 2 .1 2-.1 2 .9 2-.4 2 .6 2 1.9 2-.4 2-1.1 2-2.3 2-.7 2-.1 2-.7 2-.9 2 2.6 2 3.4 2 1.5 2-.3 2-.7 2-1.8 2-1.1 2-.8 2-1.3 2-1.2 2-1.3 2-.3 2 1.8 2 3.1 2 .9 2-.5 2-.9 2-2.1 2-1.7 2 2.2 2 2.6 2 0 2-1.1 2-1.4 2-2 2-.9 2-.5 2-1.5 2 1.3 2 2.4 2 2.5 2 1.8 2-1.4 2-2.5 2-1.7 2 .6 2 .3 2-.9 2-2.3 2-1.6 2 2.1 2 2.5 2 2.1 2 .5 2 0 2 .7 2 2.6 2 1.7 2-.9 2-3.1 2-2.4 2 .1 2 2.1 2 1.7 2 0 2-1 2-.9 2-.2 2 0 2-1.5 2-2 2-1.7 2-.6 2 2.2 2 1.5 2 1.2 2-1 2-.7 2-.3 2-.3 2-.2 2-.2 2-.5 2-1 2 .1 2 .5 2 1.1 2 1.4 2 1.7 2 .4 2-1.1 2-1.5 2 0 2 .4 2-.8 2-.3 2-.8 2-2.1 2-.2 2 .5 2 .9 2-.3 2-.5 2 1.8 2 1.2 2 .7 2 1.4 2 .5 2-.8 2-.8 2-.4 2 .6 2 .7 2 .6 2 .8 2-.5 2-1.9 2-.5 2 1.3 2 .6 2-1.9 2-3 2-1.7 2 .3 2 1 2 .1 2 .4 2 2.1 2 1.9 2 0 2-1.6 2-1.8 2-2.6 2-2.5 2-.9 2 2.2 2 2.1 2 2.2 2 1.9 2 .4 2-1.7 2-.3 2 .9 2 .7 2-.8 2-1.5 2-1.6 2-2.1 2-.7 2 3.2 2 4.1 2 2.4 2 .5 2-1.4 2-1.2 2-1.2 2-.1 2-1 2-1.6 2-2.3 2-1.9 2-1.5 2 .8 2 2.5 2 2.5 2 1.4 2 .3 2-1 2-1.5 2-.1 2 .1 2 .6 L1186.3,52.9 V310 H120Z" fill="#ccff33" stroke="#000" stroke-width="1.3" stroke-linejoin="round"/>
<path d="M120,89.3 L126,89.3l2 0 2-.3 2-.5 2 1.7 2 1 2 1 2-.4 2-3.6 2-3.7 2-1.7 2 .4 2 .5 2 .3 2 0 2 0 2 2 2 1.5 2 2.7 2 4.3 2 1.8 2-1 2-2.2 2-2.9 2-3.4 2-2.5 2-.8 2 .5 2 2.8 2 4 2 1.3 2-1.7 2-3.1 2-.9 2 1.3 2 1.1 2 1.3 2-.9 2-2.8 2-2.4 2-.5 2 3.6 2 2.7 2 1.5 2 1.7 2 0 2-4.4 2-4.5 2 2.6 2 3.9 2 .4 2-.8 2-1.4 2-1.4 2 1.9 2 .3 2 0 2 2.3 2 1.7 2-1.7 2-3.4 2-1.4 2-1.3 2-1.1 2-.3 2-.8 2-.3 2-.5 2 .3 2-.6 2 .1 2 1.1 2 .1 2 2 2 5.1 2 4.7 2 1.8 2-.5 2-1.2 2-2 2-3 2-2.8 2-2.3 2 0 2 2.6 2 2.8 2-2.5 2-3.2 2-.5 2 1.3 2 1.9 2 .8 2-.9 2-.8 2 .3 2 1.2 2 1.9 2 2.6 2 1.6 2-2.3 2-2.8 2-.7 2 .9 2 1.2 2 1.6 2-.3 2-1.8 2-1 2 .1 2-.6 2 .1 2 1.1 2-.7 2-1.3 2-.2 2-.9 2-3.4 2-2.3 2 1.5 2 2.5 2 1.9 2 1.3 2 1.9 2-.9 2-.4 2 3.4 2 1.4 2-2.4 2-2.4 2-2.5 2-1.8 2 1.7 2 3.5 2 2.9 2 0 2-1.7 2-1 2-1.1 2-1.1 2-.9 2-.6 2 2.5 2 2.3 2 1 2-1 2-3.2 2 1.4 2 2.8 2 1.5 2-1.1 2 .3 2 2.7 2 1.4 2-1.7 2-1 2 .8 2 .7 2 .6 2 .8 2-1.3 2-3.5 2-3.3 2-3.9 2-3.1 2-1.2 2-.1 2 1.3 2 3.7 2 2.5 2 1.9 2 2.7 2 1.8 2-.7 2-2.4 2-1.7 2 1 2-1.8 2-4.3 2-4.7 2-.8 2 6.5 2 6 2 5.4 2 1.4 2-3.5 2-4.1 2-.5 2-.5 2-2.2 2-2.5 2-1.4 2-.9 2 3.2 2 2.9 2 1.1 2-.4 2 1.3 2 .8 2 .4 2-.1 2 .5 2-1.2 2-2.7 2-2.2 2-1.9 2-1.5 2 1 2 1.9 2 2.5 2 2.5 2-.8 2-1.5 2-1.1 2-1 2-.4 2 .4 2-.4 2-1.4 2-.3 2 1.7 2 .5 2 .3 2 .4 2-.4 2 2.5 2 .5 2-1.9 2-.1 2 .3 2-.5 2 .4 2 .7 2 2.3 2 4.2 2 1.2 2-2.9 2-3.1 2-1.7 2-2.2 2-2.6 2-1.8 2-.9 2 1.6 2 2 2-1 2-3.1 2 2.4 2 6.7 2 5.1 2 3.2 2 0 2-1.8 2-4.1 2-6.1 2-5.9 2-1.9 2 3.3 2 4.1 2 3.2 2 1.4 2-2.1 2-4.5 2-2.5 2 .1 2 .9 2 2.6 2 1.4 2 3.2 2 .3 2 .7 2 .3 2 .3 2 2.7 2 3.1 2 .9 2-3.2 2-6.5 2-5.4 2-2.5 2-1.2 2 .5 2 1.5 2 .7 2-1.3 2-.2 2 4 2 4 2 .6 2-1.2 2-2.4 2-1.2 2 .1 2 1.3 2 3.8 2 3 2 .7 2-.7 2-2.2 2-2.5 2 1.2 2 1.8 2-.4 2-.5 2-.8 2-1.9 2-2.1 2-.4 2 2.3 2 .9 2-1.3 2-.2 2 .5 2-.1 2-.5 2 .2 2-1.3 2-1.1 2 1 2 4.3 2 2.1 2 .5 2-.5 2-.2 2 .8 2 .5 2-.9 2-1.2 2-.5 2-1.8 2-2.7 2-1.2 2 1.2 2 1.6 2 .7 2 0 2-.8 2-1 2-1.1 2-.8 2-.4 2-1.9 2-1.8 2-.7 2 2.2 2 1.8 2 .8 2-.4 2-.5 2 1.1 2 3.2 2 1.8 2-1.3 2-3.2 2-2.5 2-1.4 2-.6 2 1.3 2 .5 2 1.4 2 2.1 2-.6 2-.7 2-2 2-1.7 2-1.6 2-.8 2-.5 2 2 2 2.4 2 1.4 2 0 2-.5 2-1.4 2-.1 2 .1 2-1.2 2-2.3 2-2.9 2-1.4 2 1.5 2 3.5 2 1.3 2 .9 2 1.7 2 .2 2-.9 2 2.4 2 3.3 2 .2 2-2.5 2-2.6 2-2.8 2-1.7 2-1.8 2-2.8 2 0 2 1.7 2 3.2 2 3.4 2 .1 2-1.5 2-1.1 2 1.2 2-.2 2-1.9 2-2.3 2-1.3 2 1.2 2 1.2 2 1.3 2-.4 2-1.4 2-.9 2 .5 2 0 2-.6 2 .2 2 1.2 2 1.8 2 2.1 2 1.4 2 .2 2-1.1 2-2.4 2-1.6 2-.1 2-1.4 2-2.8 2-2.6 2-.4 2 2.8 2 2.1 2 1.9 2 0 2 .1 2 .2 2-.2 2-.4 2-.4 2-.8 2-1.5 2-.5 2 .3 2 1.2 2 1 2 .8 2 .4 2 .2 2-.3 2-.1 2-.2 2-.7 2-.5 2-2 2-3.3 2-.5 2 1.6 2 2.6 2 .8 2-.5 2 1.9 2 1.4 2-.2 2-.4 2-.8 2-.3 2 .2 2 .4 2 1 2 1.4 2 1.2 2 .8 2-.6 2-1.7 2-1.6 2-1.7 2-1.5 2-.1 2 1.4 2 2.1 2 1.5 2 .2 2-1 2-1.4 2-1.4 2-.8 2 0 2 0 2 .7 2 .7 2 0 2-.9 2 .2 2-.7 2-.6 2-.2 2-.5 2-.7 2 1.4 2 1 2-.1 2-.5 2-.3 2-.8 2-1.7 2-1.2 2 1.1 2 2.1 2 2.8 2 1.9 2-.7 2-.8 2-1 2 0 2-.8 2-.2 2-.2 2-.1 2-1.7 2-1.7 2 .1 2 2.4 2 2.9 2 1.6 2 .8 2-.4 2-.5 2-1.3 2-.3 L1186.3,76.4 V310 H120Z" fill="#70ff8c" stroke="#000" stroke-width="1.3" stroke-linejoin="round"/>
<path d="M120,103 L126,103l2 3.1 2 2.2 2-.5 2-.5 2-1.4 2 .9 2 2.6 2 .1 2-1.8 2-1.5 2-.1 2-1.6 2-2.5 2-1 2 1.3 2 3.2 2 0 2-1.3 2 .4 2 .9 2 1.5 2 1.6 2 .5 2-1.2 2-.1 2 1.1 2 .4 2-.1 2 .1 2-.4 2-.3 2-1.7 2-2.3 2-.4 2 .9 2 1.4 2-1.7 2-2.9 2-1.7 2-.8 2 2.7 2 1 2-.4 2 1.4 2 3.3 2 .6 2-1.6 2 3.3 2 3.3 2-1.6 2-3.6 2-3.3 2-1.7 2 3.9 2 3.5 2 1.4 2-.8 2-2.6 2-1.3 2 0 2-.6 2-2.9 2-2.1 2-.3 2 .9 2 3.6 2 3.6 2 1 2-3.8 2-3.4 2 1 2 1.5 2 1.3 2 1.5 2 .9 2 1.5 2 2.4 2 .7 2-2.6 2-3.4 2-1.8 2-1.4 2 .7 2 3.3 2 2.6 2-3.5 2-3.5 2-.9 2-.5 2-.6 2-.3 2 .3 2 1.3 2 1.6 2 2.9 2 5 2 4.6 2 1.2 2-3.7 2-4.2 2-2.6 2-1.2 2-1.9 2-1.6 2-.4 2 1.6 2 3.4 2 1.9 2-2.4 2-.9 2 3.9 2 2.7 2-.4 2-1.8 2-1.9 2-1 2 .6 2 2 2 2.3 2 1.8 2 .2 2 .8 2-2.1 2-1.8 2 3.3 2 2.7 2-1.9 2-3.9 2-4.2 2-2.6 2-.5 2-.7 2-1.2 2-.1 2 3.2 2 5 2 1 2-2.4 2-3.4 2-3.4 2 .3 2 .5 2-.2 2-1.4 2-2.3 2 4.1 2 5.8 2 4.3 2 .1 2-2.1 2-1.8 2-.6 2 .1 2 1.6 2 2.8 2 1.7 2-.9 2-1.2 2-.8 2-1 2-.5 2-1.4 2-1.7 2-1.7 2-2.1 2-2.3 2-.6 2-.2 2 2.7 2 4.9 2 2.7 2-1.7 2-3.6 2-1.4 2 2.5 2 0 2-3.6 2-5.7 2-1.8 2 7.8 2 7.4 2 3.8 2-1.3 2-3.9 2-2.6 2 .2 2-.5 2-1.7 2-1.6 2-2.3 2-5 2-1.5 2 1.8 2 5 2 6 2 5.7 2 .8 2-1.6 2-3.1 2-1.5 2 .1 2 .7 2-.1 2-1.9 2-3.5 2-.7 2 1.3 2 2.2 2 1.8 2-.8 2-.1 2 .6 2 .7 2 1.6 2 1.2 2-1.1 2-1.7 2 .3 2 1.7 2 0 2 0 2-1 2-3.3 2 .5 2 .7 2-3 2-3.8 2-2.5 2 1.3 2 5.2 2 4.3 2 1.3 2-.6 2-2.4 2-2.3 2-.2 2 1.6 2 1.4 2-.5 2-2.8 2-3.1 2 0 2 .9 2-.6 2-.5 2 4.7 2 5.7 2 .4 2-.3 2 .3 2-.6 2-4.3 2-6.7 2-5.5 2-1.5 2 3.9 2 6.4 2 6.6 2 4 2 .1 2-2 2-1.1 2-1 2-2.4 2-1.4 2-1.6 2 3.6 2 2.7 2 1.8 2-.5 2-1.6 2-.3 2 0 2-.1 2-1.2 2-2.9 2-3.1 2-2.5 2-2.5 2-.3 2 1.5 2 1.4 2 .5 2 1.7 2 4 2 2.4 2-.3 2-3 2-5.9 2-2.7 2 2.1 2 5.3 2 7 2 3.8 2 .1 2-.5 2-1 2-1.4 2 0 2-1.7 2-2.2 2 1 2 1.6 2-.1 2-2.8 2-3.4 2 1.2 2 3.9 2 1.7 2-.5 2-2.1 2-2 2-1.4 2-.9 2-2 2-.9 2 .6 2 3.1 2 2.5 2 3 2 1.8 2 .6 2-.2 2-1.6 2-2.1 2-1.3 2 .5 2 .4 2-.4 2 0 2 .7 2 1 2 1 2-.5 2-2.8 2-3.2 2-2.8 2-.8 2 1.4 2 .3 2 0 2-.1 2 1.4 2 .5 2 .2 2 .6 2 1.8 2 2.2 2 1.8 2 .2 2-1 2-2.4 2-2.3 2-1.8 2-1.8 2 0 2 .7 2 3.5 2 3.6 2-2.6 2-4.3 2-3.4 2 .6 2 1.7 2 .6 2-.4 2 1.2 2 1.3 2 .3 2-1.2 2-1.1 2-1.3 2 0 2-.1 2-.5 2-.8 2-1.2 2-.8 2 1.1 2 2.8 2 .4 2-1.6 2-1.3 2-1 2-.6 2 2.6 2 3.1 2 1.2 2 .3 2-.2 2-1.9 2-2 2-2.2 2-2.6 2 .8 2 1.2 2 .6 2 .6 2-.4 2 .1 2 .2 2 1 2-.9 2-1.9 2-1.6 2-.6 2 1.4 2 1.1 2 1.3 2-.3 2-1.3 2-1.6 2-.3 2-.2 2-.3 2-.3 2 .7 2 .7 2 .6 2 .4 2 .2 2-.3 2-1 2-.9 2-.7 2-2.2 2-2.4 2-.8 2 1.7 2 4.2 2 2.3 2 1.6 2-1 2-1.9 2-2.1 2-.6 2 1.3 2 1.1 2 .4 2 .1 2 .2 2-.6 2-.5 2-.7 2 .6 2 1.6 2 .7 2-.8 2-.5 2-.2 2-.8 2-.2 2-1.1 2-2.6 2-.2 2 1.3 2 2.1 2 .8 2-.2 2 1.5 2 .4 2-.7 2-.7 2-2.1 2-1.7 2-.1 2 .1 2 .4 2 1.3 2 1.5 2 .6 2-.2 2 .2 2 .9 2 .6 2 .2 2-.4 2-2.6 2-3.2 2-1 2 1.1 2 .6 2 .3 2 .9 2 1.8 2 1.9 2 .1 2-1 2-2.2 2-2.8 2-1.7 2 1.7 2 1.8 2 1.9 2 2.1 2 .9 2-1.5 2-.8 2-.3 2-.1 2-.6 2-1 2-1.2 2-1.7 2-.4 2 2.5 2 2.7 2 1.9 2 .2 2-2.2 2-.8 2 .5 2 1.4 2-.3 2-1 2-1.8 2-1.2 2-1.4 2-.7 2 .5 2 1.5 2 2 2 1.2 2 .1 2-.5 2-.1 2-1.1 2-1 L1186.3,92.9 V310 H120Z" fill="#10f4ec" stroke="#000" stroke-width="1.3" stroke-linejoin="round"/>
<path d="M120,124.1 L126,124.1l2-.4 2-1 2-.2 2 1.8 2 0 2-.4 2 .5 2-.1 2-.4 2-.5 2 1.1 2 .3 2-2.2 2-3.7 2-2.4 2 .7 2 .7 2 2.7 2 4.5 2 1.8 2 .7 2 1.5 2 .7 2-1.8 2-2 2-1 2-.3 2 1 2 2 2-.7 2-3.1 2-3.2 2-.3 2 1.2 2 .7 2 1.7 2 .3 2-.5 2 0 2 .3 2 2.7 2 1 2-.4 2-1 2-.7 2-2.8 2-3.5 2 1.6 2 1.6 2-.6 2 .4 2-1 2-3.3 2 1 2 2.1 2 2.6 2 2.7 2 .2 2-.3 2 .4 2 .2 2-3.5 2-4.4 2-2.3 2-.2 2 3.5 2 4.3 2 1.7 2-3 2-2.4 2 1 2 .8 2 1.5 2 2.3 2 1.3 2 1.1 2 1.5 2-1.3 2-5.8 2-6.1 2-1.2 2 2.2 2 3.4 2 3.4 2 2 2-2.7 2-2.2 2-.9 2-.4 2 .2 2 .3 2 .2 2 .9 2 .1 2-.1 2 2.7 2 4.1 2 1.7 2-2.3 2-2.5 2-2.3 2-2.5 2-1 2 2 2 2.1 2 1.3 2 .2 2-.8 2-1 2 1.6 2 3 2-.9 2-3.8 2-2.9 2-.4 2-.4 2-.2 2 2.8 2 5.1 2 4.6 2 .8 2-1.9 2-5.9 2-1.8 2 6.5 2 5.1 2-2.3 2-6.5 2-6 2-1.5 2 2.3 2 .9 2-.1 2 1.2 2 3.5 2 3.9 2-.3 2-2.7 2-3.4 2-3.6 2-.3 2-2.4 2-3.2 2-.7 2 1.3 2 6.2 2 3.3 2-.2 2-2.1 2 0 2 1.9 2 .8 2-1.4 2-.5 2-.2 2-.9 2 1.7 2 4.8 2 3 2-.3 2-2.1 2-3.3 2-1.9 2-1.7 2-2.9 2-2.1 2 2.3 2 2.4 2 2.1 2 3.1 2 3.5 2 1.6 2-1.7 2-3.5 2-2.9 2-5.6 2-2.9 2 .8 2 2.4 2 6.7 2 4.5 2 3.1 2-.9 2-3.7 2-2.9 2-.9 2-1.5 2-1.7 2-2.3 2-2.8 2-3.1 2 2.9 2 4.2 2 4.1 2 4.9 2 6 2-.4 2-3.9 2-3.2 2 1.4 2 2.6 2 .1 2-2.3 2-1.6 2 .1 2 .9 2-1.4 2 0 2 3.6 2 2 2 .2 2-.9 2-.9 2-1.4 2-2.8 2-3.7 2-2.2 2 .3 2 1.5 2-1.2 2-1.1 2-2 2-3.6 2 1.7 2 3.7 2 4.2 2 3.9 2-1.9 2-5 2-1.8 2 .9 2 2.8 2 4.9 2 3.2 2-.6 2-3 2-3.5 2-3.3 2-.9 2 1.8 2 1 2 1.3 2 1 2-1.8 2-4.1 2 .1 2 2.5 2 .6 2 .5 2-1.1 2-1.1 2-1.7 2-3.1 2-2.3 2 0 2 2.9 2 4.2 2 5.5 2 3.9 2-.8 2-4.9 2-1.9 2 4.3 2 4.8 2-.3 2-5.9 2 1.2 2 2.1 2 1.3 2-1.3 2-1.6 2 2.2 2 5.1 2 4.3 2-1.2 2-7 2-7.3 2-4.5 2-3.3 2-1.7 2-.2 2 1.7 2 2.2 2 4.1 2 7 2 5 2 1 2-2 2-4 2-2 2-2.3 2-3.6 2-.3 2 2.9 2 4.1 2 2.9 2-1.3 2-2.8 2 2 2 1.8 2-2.5 2-3.2 2-1.6 2-.4 2-2.3 2-3.8 2-.8 2 1.5 2 3.2 2 4.8 2 2.5 2-2.2 2-5.7 2-3.6 2-.9 2 1.1 2 1.8 2 3.7 2 2.1 2 2.3 2 3 2 3.8 2 2.4 2-1 2-3.7 2-4 2-2 2-1.6 2-1.7 2-.5 2 .3 2 .3 2 1 2 1.7 2-.8 2-2.8 2-2.6 2-1.2 2-.2 2 .1 2 1 2-.3 2-.3 2-.5 2 1 2 1.4 2 .9 2 1.5 2 3.8 2 1.8 2-1.5 2-2.1 2-1.4 2-3 2-4 2 .7 2 2.6 2 3.2 2 1.7 2-3.4 2-2.9 2-.3 2 3 2 2 2 .7 2-.7 2 .2 2-.2 2-1.3 2-1.4 2 .8 2 .6 2-.3 2-2.5 2-3.5 2-2.3 2-1 2 .3 2 1.8 2 3.1 2 1.9 2 1.3 2 .8 2-.8 2-1.6 2 .9 2 .9 2-.7 2-.3 2-.2 2-2.2 2-1.9 2-1.5 2-2.6 2 .2 2 .9 2 2.2 2 2.9 2 .3 2-.1 2-.3 2 .2 2-1 2-.5 2 .8 2 1.7 2 2.5 2-.7 2-1 2-.9 2-.8 2-.2 2 1.1 2-.6 2-2.4 2-1.6 2 .9 2 1.4 2 1 2 .8 2 .6 2 0 2-.5 2-.2 2 .6 2-.3 2-2.1 2-3.4 2-2.8 2 .9 2 2 2 4.3 2 2.2 2 .1 2-2.1 2-2 2 .2 2 1.8 2 1 2-1.5 2-.8 2 .5 2 1 2-.5 2-1.3 2-1.5 2-1 2-.1 2 2.3 2 2.2 2-.5 2-1.2 2-2.2 2-2.4 2 1.3 2 2.5 2 1.4 2-2.6 2-4.5 2-.1 2 1.4 2 .2 2-.1 2-.6 2 .4 2 2.2 2 2.4 2 .8 2-1 2-1.3 2 0 2 .6 2 .7 2 .9 2 .3 2-.4 2-.7 2-.7 2-.1 2 1 2 .8 2-.9 2-1.5 2-.9 2 .6 2 1.7 2 .1 2-1 2-1 2-1 2-2 2-.3 2 .3 2 2.4 2 2.9 2 1.3 2-.6 2 1.2 2 1.5 2 .7 2-.3 2-.5 2-1.9 2-4.2 2-2.8 2 2.6 2 5.1 2 4.4 2 .7 2-3.2 2-2.1 2-1.6 2-.6 2-1.2 2-1.2 2-2.1 2-1.8 2-2.2 2-1.2 2 1.6 2 3.3 2 3 2 1.4 2 .3 2 0 2 1 2-.2 2-.9 L1186.3,114.4 V310 H120Z" fill="#00c0ff" stroke="#000" stroke-width="1.3" stroke-linejoin="round"/>
<path d="M120,137.5 L126,137.5l2 2.5 2 .3 2-.7 2 1.2 2-1.6 2-2.2 2-.1 2 .1 2 0 2 .1 2 1 2-.9 2-2.5 2-1 2 1.2 2 2.2 2-1.9 2-1.8 2 2.1 2 2.5 2 1.7 2 1.6 2 1.4 2-.9 2-2.6 2-2.1 2-.6 2 1.9 2 3.7 2 2.9 2 1.8 2-.7 2-2.9 2-3.1 2-1.5 2 2.1 2 1.6 2-.3 2-1.6 2-2 2 2.1 2 .9 2-1.7 2-2.2 2-1 2-2.2 2-1 2 5.4 2 4 2-.9 2-1.6 2-2.9 2-2.9 2 1.8 2 .8 2 1.7 2 4.2 2 1.2 2-2.3 2-2 2 .7 2-1.3 2-2.9 2-2.2 2-.6 2 3.3 2 4.2 2 3.4 2-.2 2-.8 2 .6 2-2.4 2-3.1 2 0 2 1.3 2 .7 2 .3 2-.2 2-.6 2 .4 2 1.5 2 0 2 .2 2 1.9 2 2 2-3.3 2-3.6 2-2.7 2-1.4 2 .7 2 .3 2 0 2 1.3 2 1.6 2 1.9 2 3.6 2 3.9 2 2.3 2-1.9 2-2.4 2-1.3 2-.1 2 1.4 2 4.6 2 3.4 2 .1 2-.4 2 1.1 2 0 2-.3 2-.6 2-5.6 2-8.1 2-6.6 2-3.1 2 .5 2 3.2 2 3.7 2 1.1 2 1.1 2 4.2 2 5.6 2-3.8 2-7.7 2-.5 2 .9 2-2.7 2-1.9 2 .3 2 .7 2 .1 2-.1 2 1.7 2 1.5 2 1.5 2 2 2-2.2 2-4.2 2-2 2-.2 2 2.8 2 1.1 2-.6 2-2.1 2-1.8 2 5.8 2 3.5 2-.8 2-1.5 2 1 2 1.5 2 .7 2-1.5 2-2.8 2-3.5 2-2.3 2 2.5 2 7.6 2 5.2 2-1 2-4.2 2-5 2-3.4 2-2.3 2-.8 2 2 2 4.8 2 1.2 2 .3 2 2.9 2 2.8 2 .2 2 .2 2 3.6 2 5.7 2-3.6 2-11.1 2-10.1 2-2.7 2 6.6 2 5 2 5.6 2 2.7 2-4.5 2-7 2-.8 2 2.9 2 .6 2-3.4 2-4.8 2-5.6 2-.2 2 3.6 2 7.4 2 5.1 2 1.5 2-1.8 2 1.7 2 2.4 2 .2 2-1.5 2 .4 2-.4 2-4 2-4.9 2-.1 2 1.2 2 .2 2 0 2-1.3 2-.4 2 .7 2 2.7 2 3.7 2 2.2 2-1.7 2-3.6 2-1.5 2 1.7 2-.8 2-3.1 2-4.7 2-5.5 2 2.2 2 6.8 2 6.5 2 4.9 2-1.1 2-5.2 2-2.7 2 .6 2 3.8 2 5.1 2-.1 2-5.2 2-3.3 2 1.1 2 0 2-1.8 2-.7 2 0 2 3 2 5 2 .8 2-4.6 2 .6 2 3.8 2-1.1 2-1.8 2-2 2-1 2-.7 2-3.3 2-5.3 2-2.1 2 3.8 2 5.6 2 5.3 2 2.1 2-2.3 2-5.6 2-4.6 2-1 2 .8 2 2.2 2 .1 2 3.1 2-.9 2 .8 2 3.7 2 3.4 2 .5 2-2.6 2 .1 2 3.2 2-.2 2-5.4 2-6.5 2-3.9 2 .6 2 3.8 2 5 2 1.8 2 .9 2 3.9 2 1.2 2-3.5 2-4.3 2-3.9 2-.6 2 1.2 2 1.2 2 1.8 2 .4 2 1 2 3.6 2 1.6 2-1.8 2 .5 2 1.1 2 .2 2 1 2-.6 2-3.1 2-3.8 2-2.4 2 .9 2 1.1 2 .1 2 1.5 2 0 2-3.1 2-3.9 2 0 2 1.5 2 .5 2-1.5 2 1.4 2 1.9 2 2.6 2 2 2 2.8 2 3.4 2 .9 2-3.5 2-5.3 2-2.8 2-1.5 2-2.2 2-1.6 2-.5 2 .2 2 2 2 3.6 2 2.6 2 1.3 2-.2 2-.6 2-.2 2-2 2-2.7 2-2.2 2 1.3 2 .8 2-.7 2-1.1 2 .6 2 2.8 2 4.3 2 1.5 2-1.8 2-2.1 2 .4 2-.3 2-2.8 2 0 2 .5 2 1.4 2 1.6 2-1.4 2-.7 2-2 2-1.6 2-1.2 2-.3 2-.3 2 2 2 2.3 2 1.3 2 .7 2 .8 2-.8 2-.4 2-.9 2-2.1 2-2.4 2-1.9 2-.5 2 .6 2 1.7 2-.7 2-1.3 2 1.1 2 2.1 2 1.4 2 3.4 2 2.6 2-.7 2-1.8 2-1.5 2-3.1 2-3.7 2-4 2-2.5 2 4.7 2 6.7 2 4.1 2 .2 2-3.3 2-1.8 2 0 2 2.4 2 .9 2-1.4 2-2.8 2-1.8 2 1.7 2 .6 2-.2 2-1.2 2-1.1 2-.1 2 1.9 2 .4 2-.7 2 .2 2 .6 2-.5 2-.7 2-.1 2 1.1 2 1.9 2 .8 2-2 2-3.1 2-1.9 2-.5 2-1.8 2-2.3 2 2 2 2.9 2 3 2 .1 2 .1 2-.3 2-1.1 2-.3 2 1.5 2 2 2 .1 2-.8 2-.9 2 .4 2 .1 2 .6 2 .2 2-1.1 2-2.2 2-.3 2 1.1 2 .6 2 1.1 2-.8 2-3.7 2-1.5 2 .4 2 1.3 2-.5 2-.3 2 4 2 2.3 2-.7 2-.4 2-.3 2-.2 2 0 2-.9 2-1.1 2-.4 2 .4 2 1.4 2 1.4 2 1.2 2 .8 2-.3 2-.9 2-.6 2-1.6 2-2.8 2-1.7 2 .8 2 1.5 2 2.4 2 3.1 2 1.8 2-.6 2-2.5 2-2.4 2-2.4 2-2.5 2-1.7 2 2 2 1.8 2 1.8 2 2.1 2 1.1 2-.9 2 .4 2 1.2 2 1.1 2-.4 2-1.7 2-2 2-2 2 .1 2 3.8 2 3.1 2 1.3 2-.1 2-2.3 2-1.1 2-.5 2 .7 2-1.4 2-2.1 2-1.6 2 .2 2-.4 2 .1 2 2.1 2 3.8 2 3.6 2 1 2-1.5 2-2.8 2-1.4 2-1.6 2-.9 L1186.3,130.5 V310 H120Z" fill="#0068ff" stroke="#000" stroke-width="1.3" stroke-linejoin="round"/>
<path d="M120,160.7 L126,160.7l2-1.7 2-1.7 2-1.5 2 1.2 2 2.2 2 1.8 2 .1 2-1.2 2-.2 2 .4 2 .9 2 1.4 2 1.4 2-.6 2-2.8 2-1.8 2-.4 2 1.9 2 3.1 2 1.3 2 0 2 .2 2 .9 2-.2 2-2.6 2-4.2 2-3.3 2-.4 2 2.9 2 3.3 2 2.7 2 2.1 2 1.6 2 1.1 2 .3 2-.5 2-2.1 2-1.3 2 1.1 2 .9 2 .3 2-.1 2 1 2 .6 2 0 2-.7 2-.6 2 1.9 2 .8 2-2.3 2-2.5 2-1.7 2-1.3 2 1.1 2 .8 2 .3 2 1 2 1 2-.2 2-1.7 2-1.3 2-.4 2-.8 2-2.1 2-1.3 2 .4 2-.3 2 .7 2 1.6 2 2.2 2 1.6 2-.1 2-.9 2-1.2 2-1.8 2-.9 2 .4 2 .9 2 1.4 2 2.3 2 3.3 2 1.8 2-.9 2-1.7 2 .3 2-.2 2-1.4 2-1.3 2-.7 2 0 2 .7 2 1.2 2 1.4 2 1.2 2 1.6 2 1.8 2-.7 2-3.7 2-5.4 2-3.7 2-.5 2 3.2 2 4.5 2 3.8 2 2 2 1.2 2-.2 2-2 2-3.2 2-.9 2 2.1 2 1 2-.6 2-1.3 2-1.9 2-2.6 2-1.1 2 1.2 2 .6 2-.6 2 .8 2 2.5 2-1.5 2-2.8 2 1.3 2 3.7 2 2 2-.9 2-3 2-3.1 2-2.7 2-2.4 2-.1 2 2 2 3.9 2 4.3 2-1.9 2-8.3 2-7 2-.1 2 7.2 2 7.6 2 4.9 2 1.6 2-1.6 2-1.7 2-3 2-2.6 2-1.6 2 .2 2 1.8 2 2.2 2-.2 2-2.7 2-2.5 2-.3 2 1.2 2 1.9 2 1.8 2 2 2 1.9 2-.6 2-1.3 2 .4 2-.8 2-3.2 2-1.5 2 .5 2 1.9 2 2.6 2 2.7 2 1 2-1.9 2-2.9 2-2.4 2-5.9 2-7.8 2-5.1 2 1 2 6.5 2 4.2 2 3.7 2 3.5 2 1.4 2 1.1 2 1.9 2 0 2-2.5 2-3.4 2-1.1 2 2.3 2 2.9 2-3.4 2-5.6 2-.2 2 6.7 2 6.1 2 2.9 2-1.4 2-4.4 2-5.7 2-2.8 2 1 2-.3 2-3.4 2 .5 2 7 2 9.3 2 5.1 2-3.1 2-7.9 2-6.9 2-2 2 1.4 2 1.6 2 1.5 2 2.1 2 .7 2-1.2 2-1.4 2 .8 2 .7 2-1.5 2 .5 2 1.1 2-.8 2-1.1 2-.9 2 .7 2 4.1 2 3.4 2-.6 2-1.8 2-.7 2-.2 2-1.8 2-3 2-3 2-3.5 2-2.5 2 .3 2 2.8 2 .8 2-3.8 2-4.1 2 2.4 2 5.3 2 1.2 2-2.2 2-2.9 2-.6 2 2.2 2 4.4 2 4.1 2 .2 2-1.9 2-.7 2 .4 2 0 2-.4 2-1.1 2-1.5 2 .1 2 1.8 2 1.8 2-1 2 1.2 2 1.1 2 .2 2-1.8 2-1.8 2 .7 2 1.9 2 1.7 2 1.3 2 1.4 2-.8 2-5 2-4.9 2 0 2 1.9 2 1.3 2 1.1 2 1.3 2 2.2 2 1.4 2 .6 2 .3 2-1.4 2-2.6 2-2.6 2-.5 2 .8 2-1.1 2-.8 2 2.4 2 2.5 2 .4 2 1.4 2 2.6 2 2 2-.6 2-4 2-4.3 2-2.9 2 .1 2 3.6 2 2.6 2-1.9 2-3.2 2-1 2 1.7 2 2.8 2 3.1 2 0 2-3.2 2-3.1 2 .2 2 1 2 1.2 2 .8 2 .5 2-.2 2-1.1 2-1.7 2-.7 2 1.5 2 1.8 2-1.5 2-3.8 2-1.7 2 1.9 2 3.3 2 2.2 2-.9 2-3.2 2-2.8 2-.9 2 .7 2 .4 2-.3 2-1 2-1.1 2-1.5 2-.2 2 1.5 2 2.3 2 1.7 2 1.6 2 1.8 2 1 2-.8 2-1.4 2-1.2 2-.4 2 2 2 1.3 2-.2 2-.8 2-1.8 2-1.1 2-.1 2 1.1 2 0 2-1 2-.8 2 1.2 2 1.9 2 1.2 2 .4 2 .2 2-.4 2-.2 2-.8 2-2.6 2-3 2-2.1 2-1.1 2 .1 2 1.8 2 2.1 2 1.6 2 .5 2-1.2 2-1.8 2 .9 2 2.4 2 2.3 2 2.4 2 1.9 2-1.3 2-3.6 2-4.1 2-3 2 .3 2 1.9 2 2.4 2 1.8 2-.1 2-.1 2 1.1 2 1.7 2-.6 2-2.4 2-2.6 2-.8 2 1.7 2 1.6 2 .7 2-.5 2-.9 2-1.2 2 .1 2 1.2 2 1.1 2 .5 2 .9 2 .7 2-.1 2-.9 2-1.1 2-1.2 2-1.1 2 .3 2 1.6 2 1.4 2 .9 2-.2 2-.6 2 0 2-.1 2 1 2 .9 2 1.5 2 1.3 2 .2 2-.4 2-.1 2-.3 2-1.1 2-1.5 2-1.8 2-.7 2 .3 2 .6 2-.3 2-.9 2 .2 2 1 2-.1 2-.9 2 .3 2 .3 2-1.3 2-.2 2 .5 2 .4 2 .2 2 1.5 2 3.8 2 1.7 2-1.5 2-1.2 2-.7 2-.7 2-.4 2-.7 2-.4 2 .8 2 2 2 2.1 2 .2 2-1.8 2-1.6 2-.5 2 .3 2 .6 2 .4 2 0 2 .2 2 .4 2 .1 2 .4 2 .7 2-.1 2-1.4 2-1.7 2-.7 2 .1 2-.4 2-.3 2 1.2 2 .7 2 .1 2 .9 2 .5 2-1.5 2-1.3 2 .2 2 1.3 2 1.2 2 .5 2-.2 2-.5 2 .3 2 1.6 2 .6 2 0 2-.5 2-1.8 2-1 2 .1 2 1 2 1.1 2 1.4 2 .2 2-1.3 2-1.8 2-.7 2 1 2 1.2 2 .8 2 .4 2 .2 2 .3 2 1.4 2 1.4 2 .8 L1186.3,168 V310 H120Z" fill="#0044ff" stroke="#000" stroke-width="1.3" stroke-linejoin="round"/>
<path d="M120,194.3 L126,194.3l2-2.2 2-2.6 2-2 2-2.5 2-1 2 .3 2 .3 2 .9 2 1.8 2 2.6 2 1.6 2-.1 2-1.5 2-1.8 2-1.9 2-2.7 2-.8 2 .9 2-.5 2-.8 2-.2 2-.9 2-1.8 2-.5 2 2.1 2 3.1 2 2.2 2 0 2-1.7 2-2 2-2.1 2-1.5 2-.4 2 1.5 2 2.9 2 2.2 2 2.1 2-.1 2-2.3 2-1.3 2 1.1 2 4.1 2 2.7 2-.2 2-.8 2 .2 2 .5 2-1.4 2-1.1 2 .1 2 .5 2 2.1 2 2.4 2-1.9 2-3.3 2-2.5 2-1.6 2-.5 2 .7 2 1.7 2 1.1 2 .9 2 .3 2 .2 2 .6 2-1.7 2-3.6 2-2.3 2 1.8 2 2.2 2 .2 2 .4 2 0 2-.6 2 .1 2 .2 2 .3 2 .6 2-.9 2-1.9 2-1.4 2 .1 2 0 2-.9 2-.5 2 1.4 2 .9 2 1 2 .5 2-2.1 2-2.7 2 .5 2 2.9 2 1.2 2-2.3 2-2.6 2-.2 2 .3 2 .3 2 .2 2 1.9 2 3.2 2 2.7 2 1.6 2-.4 2-4.8 2-4.7 2 .3 2 3.2 2 .5 2-1.7 2 1.2 2 3.3 2 3.1 2 1.6 2-.2 2-3.2 2-5.1 2-2.2 2 1.7 2 2.3 2-.1 2 .7 2-1.1 2-5.5 2-4.5 2-.8 2 2.4 2 5 2 4.1 2 .7 2-.8 2 .6 2 3.1 2 2.3 2-.5 2-1.8 2-2.8 2-.8 2 3.2 2 1.6 2-2 2-2.7 2 .4 2 .8 2-5.2 2-5.6 2-1.9 2 1.1 2 1.5 2 2 2 2.1 2 1.7 2 .8 2 2.1 2 4.2 2 .7 2-6.3 2-6.1 2 .2 2 4.1 2 5.3 2 4.8 2 2.9 2-1 2-4.6 2-6.4 2-3.2 2-.4 2 .1 2-.1 2 .2 2-.2 2-2.1 2-4 2-.2 2 5 2 7.3 2 3.3 2-3.9 2-2.9 2 .4 2 4 2 2.6 2-4.1 2-7.6 2-2.2 2 4.2 2 5.4 2 2.7 2 .8 2-3 2-3.3 2-4.2 2-5.8 2-5.5 2-.4 2 3.6 2 5.1 2 2.1 2 0 2 .9 2 2.6 2 4.2 2 3.9 2-1.6 2-4.6 2-2.1 2 .5 2 .3 2-.6 2 2.7 2 4.9 2 2.3 2-.2 2-1.8 2-4.6 2-6.1 2-3.6 2 .1 2-.5 2-1.6 2-.3 2-.7 2-.3 2-.1 2-.1 2 1.7 2 1.9 2 1.3 2 3.7 2 5.5 2 3.1 2-.5 2-3.3 2-3.6 2-.7 2 2.2 2 2.1 2-.5 2-3.9 2-5.7 2-2.5 2 4.1 2 6.6 2 1.2 2-2.1 2-.9 2-1.8 2-1 2 2 2 4.5 2 3.7 2-.9 2-6.1 2-6.6 2-1.7 2-.8 2-4.1 2-3.9 2 1.2 2 4.5 2 3.9 2 2.2 2 2.7 2 5.3 2 0 2-4.6 2-6.8 2-2.1 2 3.8 2 1.9 2-4 2-6.1 2-.6 2 5.3 2 3.6 2 .7 2 2.5 2 3.7 2 3.2 2 .3 2-2.6 2-4 2-4.1 2-.5 2 3.6 2 2.9 2 .4 2-.8 2 .3 2 .7 2-1.8 2-1.7 2 .7 2 1.1 2 .3 2-.5 2-2.9 2-1 2 4.3 2 6 2 3.3 2-1.2 2-4.5 2-5.5 2-5 2-3.7 2-1.7 2 0 2 .3 2-.2 2 1.6 2 3 2 2.9 2 1.5 2 0 2-3.1 2-3.5 2-2 2-.1 2 1.4 2 2.4 2 1.2 2-.4 2 1 2 2.4 2 1.9 2 1.6 2 1 2-1.2 2-3.9 2-3.8 2-1 2 .7 2 .6 2 2 2 2.9 2 1.1 2 .4 2 .4 2-.3 2-2.3 2-1.9 2-.7 2 .3 2 0 2-1 2-1.1 2 .2 2 1 2 1.6 2 1.7 2 1.7 2 .8 2-1.4 2-.7 2 .8 2 1.6 2 2.3 2 1 2 .4 2-.8 2 .6 2 2.7 2 1.3 2-2.9 2-2.9 2-.5 2-.7 2-2.6 2-1.6 2 .1 2 1.2 2 1.8 2 1.8 2 1.3 2-.3 2-2.4 2-3.1 2-.5 2 1.4 2 1.2 2 1.3 2 1 2-1.2 2-1.6 2-.5 2 .3 2 1.8 2 2.9 2 2.3 2 1.5 2 .7 2-1.6 2-1.1 2-1.2 2-2.3 2-.2 2 1.7 2 1.3 2-1.3 2-1 2 .6 2 1.2 2 .2 2-1 2-.1 2 .3 2 1.5 2 1 2-1.5 2-3.3 2-1.9 2 .6 2 2.7 2 3.3 2 1.3 2-1.2 2-2 2-2.1 2-1.5 2 .5 2 2.8 2 3.2 2 2.1 2 1 2 1.1 2 1.2 2-1.4 2-2.8 2-3 2-1.5 2-1.5 2-.7 2 1.1 2 1.9 2 1.4 2 .7 2-.3 2-2.1 2-1.8 2-.4 2 .8 2 .3 2 1 2 2.8 2 2.5 2-.6 2-2.5 2-2 2-.3 2 2.1 2 2.4 2 0 2-.6 2-.1 2 .8 2 .2 2-1.2 2-.9 2-.5 2-.4 2 .2 2-.7 2-1.4 2 .2 2 1.9 2 1.4 2 .1 2-.1 2 1.3 2 1.7 2 .7 2-.3 2-1 2-.8 2 .4 2 .8 2-.1 2-1 2-1.1 2-1.2 2-1.5 2-.8 2 .7 2 1.8 2 .9 2-.1 2-.5 2 .6 2 1.4 2 1.5 2-.8 2-1.7 2-.8 2-.7 2-2.3 2-1.8 2 .5 2 2.6 2 2.6 2 1.7 2 .9 2-.5 2-2.3 2-2.5 2-1.3 2 .6 2 2.3 2 .8 2-.5 2-.9 2 .5 2 1 2 1 2 .1 2-.4 2-1.4 2-2.4 2-.9 2 1.9 2 3 2 1.3 2-.9 2-1.6 2 .2 2 .8 L1186.3,185.6 V310 H120Z" fill="#0020ff" stroke="#000" stroke-width="1.3" stroke-linejoin="round"/>
<path d="M120,210 L126,210l2-1.7 2-.2 2 0 2-3.6 2-2.1 2-2.9 2-3.4 2 1.5 2 5.3 2 5.8 2 2.6 2 .6 2 .9 2 3.2 2 3.7 2-1.7 2-3.3 2-4.1 2-4.5 2-2.5 2-1.3 2-.8 2-1.5 2-1.3 2-.4 2 1.3 2 2.4 2 .7 2-1.6 2 .3 2 2.3 2 1.9 2-2.1 2-2.9 2 2 2 4 2 3 2-.9 2-.5 2 2.9 2-.3 2-.6 2-2 2-3.6 2-2.3 2 2.8 2 3.2 2-6.3 2-7.8 2-1.2 2 4.3 2 7.9 2 7.7 2-.6 2-2.7 2-3.8 2-5 2-2.7 2-.4 2 1.1 2-.5 2 1.7 2 4.7 2 4.2 2 .9 2-3 2-1.4 2 .9 2 3.4 2-.7 2-6 2-3.3 2-.7 2-1.2 2-1.3 2-1.2 2-.2 2 2.4 2 4.5 2 2.4 2-2 2-1.6 2-1.4 2-3.5 2-2.3 2 5.6 2 4.8 2 1.1 2 .6 2 1.1 2 .7 2-2.2 2-4.8 2-2.4 2 2.1 2 1.8 2-2.3 2-4.1 2 .2 2 .9 2 .7 2 2.7 2 3.3 2-1.9 2-4 2-1.1 2 .8 2-.5 2 1 2 2.8 2 2.8 2 3.3 2-.6 2-4.4 2-3.1 2 .7 2 .2 2-2.3 2-2.2 2-1.5 2-.6 2-.3 2 7.8 2 7.7 2-3.5 2-4.9 2 .3 2 .7 2-.6 2-2.7 2-3.4 2 1 2 4.9 2 4.6 2-1.2 2-7 2-1.1 2 6.8 2 6.2 2 .3 2-4.8 2 1.9 2 5.5 2 1.4 2-3.9 2-14.3 2-8.7 2 1.7 2 5.8 2 2.7 2 3.1 2 4.7 2 2.3 2-2.8 2-2.8 2-.2 2-1.4 2-4.9 2-3.1 2 .8 2 2.2 2 4 2 1.5 2-2.5 2-2 2 2.4 2 2.5 2 1.2 2-5.2 2-6.7 2 .6 2 8.3 2 6.2 2-3.1 2-9.4 2 .1 2 8 2 9.4 2 3.3 2-9.2 2-8.6 2-8.9 2-3.9 2 3.2 2 6.5 2 6.1 2 5.2 2 .4 2-2.1 2 1.5 2 9.6 2 4.5 2-3 2-10 2-8.8 2-4.8 2 2.8 2 2.1 2-.8 2-4 2 0 2 3.5 2 3.4 2 3.7 2 4.5 2-1.5 2-5.7 2-7.3 2-4.4 2 2.9 2 3.9 2 .9 2-2 2 0 2 3.6 2 1.6 2-3.9 2-5.7 2-4.1 2 .8 2 4.1 2 7.3 2 8 2-1.8 2-3.3 2-.6 2-1.3 2 3.5 2 6.5 2 1.1 2-3.6 2-5.5 2-4.2 2 2.4 2 5.5 2 .5 2-5.6 2-4.7 2-.5 2 2 2 1.8 2-3.2 2-1.9 2 5.8 2 6.7 2-4.8 2-8.4 2-3.4 2-3.1 2 2.1 2 7.7 2 9.6 2 7.8 2 4.1 2-1 2-7.8 2-9.6 2-8.8 2-5.2 2-.2 2 3.9 2 3.4 2 2.3 2 4 2 3.7 2 4.5 2-6.3 2-6.8 2-7.2 2-4.1 2-1.1 2-1.1 2-.3 2-.6 2 .8 2 6.1 2 8.4 2 4.6 2 1.6 2-1.1 2-1 2 2 2 6 2 .9 2-8.1 2-6.8 2-4.7 2-5 2 1.2 2 5 2 3.2 2-2.2 2-6.2 2-1.6 2 3.2 2 2.9 2 3 2 1.3 2-5.5 2-3.8 2 3 2 4.5 2 3.8 2 .8 2-1 2-.4 2-2.8 2-2.5 2 1.2 2 1.3 2 1.6 2 3.2 2 2.9 2-1 2 .7 2 4.1 2 5.6 2-.5 2-3.1 2-6.1 2-4.9 2-1.4 2-1 2-1.7 2 .3 2 2.9 2 1.6 2 .6 2 1.2 2 .7 2-.9 2-1.7 2-1.7 2-.4 2 1.4 2 1.4 2 2.9 2 3.9 2 1.9 2-.1 2-2.8 2-3 2-2.9 2 .4 2 0 2-1.4 2-1.6 2-.5 2-1.5 2-1.7 2-1.2 2 1.6 2 3.2 2 2.7 2 .7 2-3 2-.5 2 .1 2-.3 2 3.5 2 1.8 2-.2 2-3.1 2-1.9 2-.1 2 1.4 2 .9 2 1.8 2 .2 2-2.6 2-3.1 2 .9 2 2.3 2 4.4 2 5.3 2 2.3 2-.2 2-1.5 2-3.6 2-4.6 2-.9 2 .6 2 1 2 2.3 2 1.5 2-3.9 2-4.3 2-.1 2 2.4 2 1.8 2 1.5 2 .6 2 1 2 2.2 2-1.3 2-.8 2-1.3 2-3.3 2-1 2 .5 2 1.3 2-.1 2 2.3 2 3.5 2 3.3 2 1.7 2-3.2 2-3.8 2-2 2 2.1 2 2.9 2 1.5 2-1.8 2-1.3 2 1.3 2 1.9 2-1.3 2-3.6 2-2.3 2 .4 2 .9 2 .4 2 .5 2 .4 2 .8 2 3.2 2 3.5 2 2.1 2 .4 2-3.3 2-2.6 2-3.3 2-.7 2-1 2-.6 2 1.6 2 3.1 2 1.1 2-1.7 2-1.4 2-.5 2-.1 2-.5 2 1.1 2 .9 2-.1 2 .3 2 1 2-1.7 2-2.4 2 .9 2 1.7 2 2.3 2 3.7 2 .9 2-.5 2-1.6 2 .2 2 .4 2-3.7 2-1.9 2 .7 2 .2 2 1.3 2 1.2 2-1 2-1.8 2-1.5 2-1.7 2-1.8 2-1.2 2 .9 2 2.6 2 2.4 2 1.7 2 1.4 2 .5 2-.7 2-1.7 2-1.6 2-1.4 2-.3 2 .1 2-.3 2-.9 2 .1 2 3.2 2 3.9 2 3.5 2 2.7 2 2.4 2 0 2-.3 2-2.7 2-4.5 2-3.9 2-1.2 2-1.1 2-.3 2-.3 2 1.6 2 3.2 2 3 2 2.7 2 1.1 2-2.8 2-4.2 2-5.2 2-2.7 2 3 2 3.1 2 1.1 2-2.1 2 0 2 1.6 2 2.2 2 1.6 2 2.4 2 .5 2-3.2 2-4.1 2-2.8 2-1.8 2-1.5 2 0 2 .8 2 3.9 2 4.5 L1186.3,202.8 V310 H120Z" fill="#0004ff" stroke="#000" stroke-width="1.3" stroke-linejoin="round"/>
<path d="M120,226.6 L126,226.6l2-.7 2 .3 2 .2 2-3 2-.9 2-.7 2-1.6 2 .5 2 2.8 2 3.7 2-.3 2-3 2-2.6 2-.7 2 2.1 2 2.2 2 3.5 2 .2 2-3.3 2-1.3 2-.6 2-2.1 2-2.6 2 .5 2 1.6 2 .7 2 1.8 2 2.6 2 .6 2 0 2-.2 2 .3 2-1.3 2-2.1 2-.8 2-2.4 2 0 2 2.7 2 3.3 2 3.9 2 .5 2 .5 2-1.5 2-3 2-1.2 2 3.7 2 2.8 2-7.1 2-6.3 2 .8 2 2 2 3 2 4.5 2-.3 2-.3 2-1 2-3.1 2-3 2-2.8 2-1.3 2 .9 2 4.9 2 4.8 2 1.5 2-.8 2-3.4 2-2 2-1.4 2 .7 2 0 2-2.6 2-.7 2-.3 2-2 2-2.2 2-1.2 2 .8 2 3.6 2 5.2 2 2.2 2-1.5 2 1.4 2 1.7 2-2.9 2-5.1 2 2.2 2 2.4 2-.1 2 1.3 2 2 2 .4 2-1.4 2-1.9 2 .4 2 1.6 2-1.9 2-4.8 2-5.2 2-1.3 2 .8 2 3.4 2 5.7 2 5.5 2 .5 2-2.5 2-2.4 2-1.6 2-2 2 .2 2 1 2-.3 2 4.5 2 6.4 2 1.5 2 .6 2 5.1 2 3.4 2-4.1 2-6.9 2-7.1 2-7.5 2-8.2 2 2.2 2 5.2 2-2.8 2-.1 2 7.1 2 5.8 2-.3 2-8.3 2-10.8 2-.8 2 9.3 2 9.8 2 0 2-9.3 2-6.1 2 .9 2 5.5 2 5.6 2 .4 2 3.8 2 4.7 2 .5 2-3.4 2-11.3 2-5.2 2 1.8 2 6 2 2.7 2-2.1 2-2.5 2 .7 2 .4 2-3.1 2-4.9 2-2.5 2 .7 2 3.4 2 4.3 2 3.4 2 5.4 2 5.8 2 3.6 2-2.3 2-9.3 2-10.2 2-.5 2 1.4 2-3 2-4.1 2-.6 2 3 2 4.2 2 1.2 2 5.2 2 7.4 2 8.8 2 1.7 2-14 2-10.4 2-4.7 2-1.2 2 .4 2 .3 2-1.6 2 2 2 4.8 2 6.2 2 8.1 2 10.8 2 1 2-4.6 2-7.6 2-6.1 2-4.2 2 3.2 2 3.9 2 1.3 2-6.2 2-9.5 2-7.6 2-.6 2 7.2 2 7.1 2-1.4 2-2.5 2-2.1 2-4.1 2-.8 2 1.3 2 4 2 6.5 2 4.9 2 0 2-3.1 2-1.5 2 2.5 2 1.4 2 .1 2-1.3 2 3.2 2 7.2 2-3.9 2-6.6 2-1.9 2-2 2 .3 2 4.3 2 3.9 2 1.1 2-3.1 2-4.6 2-1.4 2-.8 2-3.8 2-2.8 2 2.5 2 4.1 2 2.8 2 3.4 2-1.1 2-3.2 2 2.3 2 5.7 2-3.4 2-7.1 2-1.8 2-2 2 .5 2 2.7 2 5.1 2 7.2 2 6.3 2 1.2 2-7 2-8.4 2-4.9 2-2.1 2-1.7 2 1.9 2 4.9 2 2.8 2-2.6 2-5.9 2 1.9 2-.7 2 2.8 2-.6 2-3.6 2-4.5 2-4.9 2-3.3 2-.8 2 5.8 2 11.1 2 9.7 2 6.5 2 3.9 2-2.7 2-6 2-3.7 2-1.4 2-7.6 2-14.4 2-6.2 2 3.8 2 6 2 7.6 2 5.9 2 5.3 2 1.6 2-7.8 2-10.1 2-7.4 2-3.4 2 4.4 2 9 2 3 2 1.4 2 2.3 2-.4 2 .5 2 3.1 2 4.2 2 2.6 2-3.6 2-7.2 2-5 2-2.7 2-1.4 2-1.2 2 2.2 2 5.6 2 8.3 2 4.9 2-1.1 2-9.5 2-6.3 2-.9 2 .6 2-4.4 2-7.9 2-3.5 2 5.1 2 9.1 2 3.8 2 .7 2 2.8 2 2.4 2 .9 2 1.4 2 0 2-1.9 2-.5 2 1.1 2 2 2-.3 2-4.6 2-3 2 2.1 2 6.1 2 1.4 2-1.2 2-.8 2 .5 2-.3 2-2.7 2-5.7 2-3.7 2 1.2 2 4.6 2 3.5 2 2.2 2 1.5 2-2.7 2-3.1 2-4.5 2-3.4 2 3.7 2 4.2 2 3.4 2 .2 2 .8 2 3 2 3.6 2-1.3 2-4.1 2-4.1 2-3.1 2-2.4 2 0 2-.5 2 1.1 2 3.7 2 1.7 2-1.1 2-1.1 2 0 2-1.3 2-1 2-1.5 2-1.5 2 .1 2 .4 2-2.9 2-1.4 2 1.8 2 2.1 2 1.7 2 3.4 2 2.5 2 1.9 2 2.5 2-2.1 2-3.1 2-3.7 2-2.5 2 2.7 2 3.2 2 2 2-.7 2 .4 2 1.4 2 1.9 2 1 2-3.3 2-3.4 2-3.3 2-.3 2 1.8 2 1.8 2-.6 2 .2 2 1.9 2 1.5 2-.8 2-1.9 2-.9 2 1.3 2 1.8 2-.1 2-.6 2-1.1 2-2.1 2 1 2 4.5 2 5.3 2 3.2 2-1.4 2-2.4 2-4.2 2-1.3 2-1.9 2-2.5 2-1.8 2-.8 2-1.3 2-1.8 2 .5 2 1.7 2 2.1 2 1.5 2 3.5 2 3.1 2 .7 2-.8 2-1.2 2-2.6 2-1.1 2 2.5 2 2.6 2 2.5 2 2.3 2-2 2-3.1 2-2.5 2 1.5 2 4 2-.4 2-2.8 2-2.6 2-1.4 2 1.5 2 1.7 2 .3 2 .4 2 .7 2 .1 2-1.4 2-2.7 2-1.7 2-.6 2-.6 2 .2 2 1.6 2 1.3 2 1.6 2 2.5 2 2.1 2 .2 2-1.6 2-2.7 2-1.8 2-.5 2 0 2 1 2 1.6 2 2.4 2 2.9 2 3 2 .2 2-.5 2-3.1 2-3.3 2 .5 2 4.1 2 .9 2-1.3 2-2.3 2-.9 2 1.2 2 2.1 2 2.3 2 .1 2-3.9 2-3.7 2-2.9 2-.9 2 2.9 2 1.6 2-.4 2-3.5 2-1.2 2 1.8 2 3.7 2 1.9 2 1.7 2 1.1 2-1 2-2.8 2-1.6 2 1.1 2 2 2 .8 2-1.2 2 1.2 2 2.6 L1186.3,223.8 V310 H120Z" fill="#0000ea" stroke="#000" stroke-width="1.3" stroke-linejoin="round"/>
<path d="M120,243.6 L126,243.6l2-.7 2-.2 2-.2 2-3.4 2-1.8 2-1.8 2-1.6 2 2.2 2 4 2 2.5 2-1.4 2-1 2 1 2 2.1 2 2 2-1.1 2 .2 2-1 2-4.7 2-3.3 2-.9 2-.8 2-.9 2 3.1 2 5.9 2 5.5 2 3.7 2-.7 2-6.5 2-6.1 2-1.9 2 .9 2-.3 2 .7 2 2.9 2 .8 2 2.2 2 3 2 1.7 2 .7 2-3.6 2-2.1 2-1.1 2-1.8 2-1.3 2 3.4 2 4.6 2-2.8 2-.7 2 4.4 2 1.5 2-.3 2 1 2-3.5 2-2.4 2-2.2 2-4.8 2-3.3 2-.7 2 .6 2 .3 2 4.7 2 7.2 2 5.2 2 1.3 2-3.8 2-3.7 2-2.3 2 .7 2-2.3 2-6 2-1.6 2-.2 2-2.1 2-1.6 2 .1 2 1.3 2 3.1 2 5.1 2 3.8 2-.5 2-1.9 2-2.8 2-3 2-1.2 2 6.5 2 6 2 3.2 2 1.4 2-.4 2-.7 2-1.2 2-2.8 2-1.4 2-.3 2-1.9 2-3.1 2-2.9 2 1.9 2 4.5 2 4.4 2 .3 2-3.9 2-5 2-2.8 2-3.6 2-3.8 2-.4 2 4.9 2 4.7 2 2 2 3.2 2 .3 2-2.4 2-.9 2 2.2 2 2.2 2-1.9 2-6 2-8.7 2-8.1 2-3.8 2 11.4 2 13.7 2-.5 2-3.6 2 1.7 2 1.6 2 .4 2-1.5 2-5.6 2-6.6 2-3.6 2 1.8 2 .6 2-3.4 2 3.1 2 8.7 2 10.3 2 10.4 2 1.6 2-4 2-6.9 2-2.8 2 2.9 2-5.7 2-4.7 2-1.3 2 2 2 1.8 2 1.1 2 1.5 2 2.4 2-.6 2-2.2 2-2.2 2-3.1 2-2.2 2 3.3 2 8 2 8.4 2 6.6 2-1.4 2-6.9 2-4.4 2-1.9 2-4.6 2-1.1 2-3.2 2-10.2 2-9.1 2 1.7 2 9.1 2 6.5 2-.7 2 4.6 2 9.2 2 10.8 2 3.6 2-13.5 2-13.7 2-10.6 2-2.6 2 2.8 2 4.2 2 1.7 2 .4 2-1.5 2-.6 2 2.9 2 10.6 2 6.5 2 2.1 2-7.4 2-12.4 2-10.5 2 2.2 2 6.9 2 6 2-1.5 2-5.2 2-3.6 2 2 2 10.1 2 12.3 2 1.3 2-6.1 2-6.6 2-4.4 2-1.8 2-4.4 2-2.3 2 1.4 2 1.2 2-.5 2 .6 2 3.1 2 2.8 2-1.2 2 .4 2 1.2 2 4.2 2 8.4 2-.6 2-3.4 2-3.1 2-5.4 2 .4 2 3.9 2-1.3 2-3.7 2-2.9 2 .7 2 6.9 2 5.1 2-2.4 2-3.6 2 .3 2 1.9 2 1.8 2 1.6 2-4.2 2-4.2 2 3.5 2 6.3 2-8.5 2-17.8 2-10.5 2-3.8 2 5.2 2 10.3 2 12.7 2 12.4 2 7.5 2-2.1 2-11.7 2-7.5 2 0 2 1 2 1.1 2 6 2 6.9 2 1.9 2-5.7 2-10.1 2 1.5 2 .8 2 1.1 2-4.9 2-4.1 2 1 2 2.3 2 .7 2-1.4 2 1.3 2 4.1 2 2.7 2 2.9 2 4.9 2 1.8 2-.4 2-.2 2 .3 2-5.3 2-13.4 2-12.1 2-7.1 2-1.6 2 6.9 2 7.5 2 6.1 2 4 2-3.2 2-7.6 2-7.1 2-.4 2 9.1 2 7.8 2-4.6 2-5.6 2 1.4 2 3.2 2 3.8 2 3.4 2 2.8 2 1.3 2-3.4 2-3.3 2 .8 2 1.1 2 .6 2-.4 2-1.4 2-2.6 2 1.1 2 2.8 2 1.9 2-5.1 2-3.5 2-.6 2 .8 2-.4 2 .8 2 4.4 2 6 2 3.9 2-.2 2-.8 2 0 2 .1 2-.4 2-2.1 2-4.9 2-4.1 2 .7 2 3.2 2 3.3 2 2.1 2 1.7 2 3.4 2 1.8 2 .6 2-2.6 2-2.4 2-1.8 2-2.3 2-4.4 2-4.2 2-2.3 2 2.3 2 3.6 2 1.4 2 .1 2 3.2 2 4.5 2-1.3 2-2.1 2-3.3 2-4.6 2 .5 2 1.8 2 2.6 2 .1 2 1.3 2 3.8 2 4 2-2.5 2-5.7 2-4.2 2-2.3 2-3.1 2-1.4 2-1.5 2 .4 2 3.3 2 3.6 2 3.1 2 2.1 2-1.2 2-5.3 2-2.2 2 1.3 2 1.1 2 .2 2 0 2-4.6 2-4.4 2 .8 2 3 2 1.8 2 3 2 4.1 2 5 2 3.6 2-3.3 2-3.3 2-2.2 2-2.6 2 .9 2 1.1 2-.1 2-2.3 2 .8 2 3.8 2 4.8 2 2.3 2-3 2-3.1 2-3.3 2-.4 2 2.5 2 3.6 2 .1 2-1.4 2-.2 2 1.3 2 1.1 2 .2 2-1.5 2-1.7 2-1 2-.6 2 0 2 .2 2 .4 2 2.2 2 4.5 2 5.5 2 2.2 2-4 2-3.7 2-2.6 2 2.6 2 1.6 2-1.1 2-1.9 2-1.9 2-3.2 2-3 2 .2 2 1.6 2 1.9 2 0 2-.8 2-2.1 2-1.7 2 .8 2 3.2 2 1.8 2 .2 2 1.5 2 1.6 2 3 2 3.8 2-1.7 2-4.2 2-3.7 2 .4 2 1.6 2-2.3 2-.8 2 .2 2-.7 2 1.4 2 2.3 2 1 2 .6 2 .1 2-.7 2-1.3 2-2 2-.4 2 .5 2 .2 2 .9 2 1.1 2 .7 2 1.6 2 1 2-1.6 2-1.8 2 1.4 2 1.1 2-2.1 2-2.6 2-.5 2 1.6 2 .3 2 0 2 1.8 2 4.2 2 2.8 2 2.3 2-1.9 2-4.2 2-1.2 2 2.9 2 .4 2-1.7 2-2.4 2-.1 2 3 2 4 2 3.5 2-.2 2-5.6 2-5.4 2-3.7 2-1.5 2 2.7 2 3.1 2 2.4 2-1.7 2-.7 2 2.2 2 3.6 2 0 2-.8 2-.9 2-1.5 2-1.7 2-.9 2 .3 2 .5 2 .5 2-.4 2 .7 2-.2 L1186.3,238 V310 H120Z" fill="#0000d2" stroke="#000" stroke-width="1.3" stroke-linejoin="round"/>
<path d="M120,263.7 L126,263.7l2 .2 2 1.2 2 .2 2-4.2 2-2.2 2-2.2 2-2.1 2 2.4 2 4.2 2 2.4 2-1.4 2-.6 2 2.6 2 6.1 2 5.6 2-2.4 2-6.2 2-8.1 2-6 2 .6 2 1.6 2-1 2-2.7 2-.1 2 3.8 2 6.2 2 4.2 2 .1 2-2.7 2-1 2 1.9 2 4.2 2 1.7 2-.3 2 .1 2-2.6 2-1.9 2-.8 2-1 2-1.5 2-5.7 2-2 2 1.3 2 1.2 2 2.4 2 8.8 2 10 2-1.7 2-5 2-.3 2 .2 2-.5 2 .3 2-2.5 2 .6 2-1 2-6.7 2-5.7 2-.1 2 3 2 1.4 2 2.6 2 2.4 2 .8 2-.2 2-4.2 2-2.8 2 1 2 4.1 2-.4 2-4.7 2-1.6 2-.9 2-1.5 2 .7 2 .8 2-2.2 2-1.2 2 4.3 2 4.6 2 .4 2 1.2 2-.8 2-5.4 2-5.8 2 2.4 2 3.6 2 4 2 5.8 2 4 2 1.7 2 1.6 2 .5 2-1.6 2-4.5 2-7.8 2-7 2-1 2 6 2 2.2 2-1.5 2 2.3 2 6.4 2 3.2 2 .9 2-2.1 2-6.1 2-7 2-.9 2 4.8 2 5.1 2 4 2-.7 2-2.8 2-.1 2 2.6 2-1.4 2-6.8 2-6.7 2-4.5 2-.2 2 2.4 2 11.3 2 7.7 2-7.2 2-7.8 2-1.1 2 .5 2 4.3 2 5.2 2-.1 2-3.3 2-3 2 .9 2-1.3 2-8.4 2-1.6 2 7.7 2 9.4 2 7.7 2-2.3 2-6.6 2-5.3 2 2.9 2 7.3 2-10.6 2-15.8 2-8.3 2 4 2 8.6 2 8.7 2 6.7 2 2.1 2-3.6 2-1.9 2 2.4 2 1.2 2-1.8 2 .4 2 3.3 2 2.9 2 2 2-1.4 2 .7 2 3.8 2 .3 2-6.5 2-4.9 2-10.4 2-17 2-10.3 2 4.1 2 10.8 2 7.9 2 .8 2 5.9 2 11.1 2 16.1 2 8 2-16.5 2-17.1 2-8.7 2 1 2 5.7 2 6 2 2.9 2 3.4 2 3.4 2 2.7 2 1.4 2 1 2-6.6 2-1.9 2-2.4 2-8.2 2-7.6 2 6.5 2 6.6 2 1 2-6 2-7.3 2-3.4 2 6.3 2 12.6 2 6.6 2-8.2 2-12 2-9.6 2-5.2 2 7.4 2 13 2 8.5 2-2.6 2-10.6 2-7.5 2 2.7 2 9 2 9.2 2 4.2 2 .3 2-6.2 2-5.3 2 1.3 2-6.3 2-6.3 2-.3 2-.5 2 2.2 2 2.1 2-2.8 2-2.8 2-3.4 2-4.2 2 4.9 2 11.1 2 5.5 2-.3 2 .8 2 2.5 2 .2 2-3 2-6.7 2-3 2 5 2 6.6 2-7.7 2-12.6 2-3.4 2-2.1 2 1 2 3 2 4.6 2 8.5 2 8.5 2-2.4 2-12.2 2-5.3 2 .7 2-1.2 2 0 2 5.8 2 4.9 2 1.8 2 1.7 2-.5 2-.7 2-12.5 2-2.3 2 6.6 2 8.8 2 4.7 2-2.5 2-5.4 2-7.9 2-6.6 2 3.2 2 12.9 2 13.5 2 6.6 2-3 2-7.2 2-6.2 2-.3 2-1.4 2-11.3 2-9.4 2 .9 2 5.9 2 2.9 2-6.4 2-3.2 2 5.8 2 3.5 2-1 2-2.4 2-.2 2 4.9 2 3.2 2-7.6 2-6.3 2 1.6 2 3.6 2 7 2 8.2 2 6.3 2 3.1 2-3.5 2-5.8 2-5.4 2-6.3 2-1.9 2 3.6 2 4.2 2 .3 2 3.4 2 6.6 2 4.6 2-7.1 2-9.1 2-6 2-.5 2 0 2-2.4 2-1.1 2 4.5 2 7.3 2 4.9 2 3.3 2 .9 2-2.6 2-4.1 2-3 2-1.1 2 1 2 3.3 2 2.2 2 2.2 2 2.5 2 .5 2 1.8 2 2.9 2 1.5 2-4.6 2-4.8 2-3.8 2-2.3 2-1.5 2-2.1 2-4.3 2-1.4 2 2.8 2 6 2 5.1 2 3.3 2 1.9 2-3.6 2-3.9 2-3.6 2-2.4 2 3 2 3.7 2 4.5 2 1.5 2-.5 2-2.4 2-.6 2 0 2 .4 2-2.5 2-4.2 2-3.7 2-.4 2-.9 2-.4 2 2.2 2 3.1 2 2 2-.2 2-.4 2-.7 2 0 2-.1 2 1.1 2 3.7 2 2.6 2-4.4 2-4.7 2-.1 2 1.3 2 .8 2 2.6 2 1.9 2 1.8 2 1.9 2-4.1 2-4.5 2-3.4 2-.7 2 6.5 2 6.2 2 .9 2-5.7 2-4 2 0 2 3.3 2 3.6 2 .2 2 .2 2-2 2-1.6 2-.6 2 .3 2-.7 2-.1 2 .7 2 1.5 2 .7 2-.2 2-.7 2 .1 2 .2 2 .5 2 .7 2-1.4 2-1.7 2 2.9 2 5.8 2 4.7 2 1 2-4.6 2-5.1 2-6.3 2-1.5 2 .4 2 2.2 2 2.3 2 .6 2 .1 2 1.6 2 2.4 2-1 2-2.5 2-3.4 2-2.1 2 .2 2 2.7 2 2.2 2 0 2-1.3 2 1 2 4.3 2 2.4 2 .6 2 1.7 2-.8 2-1.5 2-2.5 2 .3 2 3.1 2-.2 2-1.9 2-4.4 2-4.8 2 1.2 2 4.5 2 2.6 2 .7 2-.5 2-1.2 2-2.3 2-3.4 2-1.9 2-.1 2-.2 2 .5 2 2 2 2.8 2 4.4 2 4.3 2 .5 2-3.2 2-3 2-1.3 2-.2 2 .1 2 1.2 2 2.7 2 2.1 2 1.3 2 0 2-1.6 2-4.3 2-.7 2-.3 2-1.4 2 .2 2 2.3 2-1.5 2-2.8 2-1.3 2 1.1 2 2.3 2 3.2 2 4.2 2 1.1 2-4.2 2-3.7 2-2 2-.9 2 1.7 2 .7 2 0 2-2.1 2 .8 2 2.8 2 5.2 2 5.3 2 3.9 2-1.4 2-4.8 2-5.4 2-4.5 2-1.9 2 .8 2 2 2 .7 2 .9 2 0 L1186.3,256.9 V310 H120Z" fill="#0000bc" stroke="#000" stroke-width="1.3" stroke-linejoin="round"/>
</g>
<g clip-path="url(#cF)">
<rect x="1311.5" y="0" width="1058.3" height="300" fill="#0000a8"/>
<path d="M1307.5,39.6 L1313.5,39.6l2-.5 2-.8 2-.3 2 1.4 2 .4 2-.3 2 .2 2-.5 2-.8 2-.9 2-.5 2-.6 2-.6 2-.4 2 .1 2 1.5 2 .6 2 .8 2 1.7 2-.3 2-2.3 2-1.4 2 1.2 2 1.7 2 1 2-.1 2-1 2-.6 2 .6 2 .1 2-1 2-1.6 2 .1 2 1.5 2 .3 2-.5 2-1 2-.1 2 .6 2 0 2 .5 2-.1 2 .5 2 .5 2-.5 2-1.6 2-.7 2 3.3 2 3.2 2-.9 2-3.1 2-3.3 2-1.9 2 1.2 2 .7 2 .8 2 1.8 2 .5 2-1.6 2-1.9 2 .3 2 .8 2 .3 2-.6 2-1.1 2 .2 2 .5 2-.1 2-1.4 2 .8 2 3 2 1.2 2-.4 2-.1 2 .2 2 .2 2-.3 2-1.2 2-1.7 2-.7 2 1 2 1 2 .9 2 1.1 2 .2 2-2.7 2-2.2 2-1 2-.8 2-.7 2-.3 2-.1 2 .3 2 .8 2 1.9 2 2.9 2 2.9 2 1.9 2-.3 2-1.7 2-1.5 2-1 2-.9 2-.3 2-.6 2-.4 2 .4 2 1.1 2 .1 2 .2 2 1 2-.4 2-1.5 2-1.3 2-.8 2-.5 2 .3 2 .8 2 .3 2-.2 2-.2 2 .6 2-.4 2 .4 2 2.8 2 1.4 2-1.4 2-1.2 2-.3 2 .3 2 .4 2-.4 2-1.1 2-.9 2 .5 2 1.3 2-.5 2-1.4 2-.6 2 0 2 1.3 2 .3 2-.8 2-1.6 2-1.6 2 1.7 2 2.1 2 1.2 2 .3 2 .6 2 .6 2-.8 2-2.2 2-1.2 2 .2 2 .5 2 .8 2 1.7 2 .8 2-.2 2-.1 2-1.1 2-1.8 2-1.4 2-.5 2 0 2 1.3 2 .7 2 .5 2 .7 2 .8 2 .2 2-.1 2-.3 2 .1 2-1.3 2-1.4 2-1.2 2 .1 2 2.5 2 1.2 2 .3 2-.3 2-.1 2 0 2-.2 2-.1 2 .5 2 0 2-1.8 2-2.8 2-.8 2-.1 2 1.2 2 2.3 2 2.5 2 .2 2-.7 2-1.8 2-1.5 2-.1 2 1.8 2 1.2 2-.8 2-1.6 2 .5 2 1.4 2 1 2 .6 2-.1 2 .5 2 .4 2 .4 2 .5 2-.9 2-2.6 2-1.9 2-.1 2 .6 2-.3 2 .3 2 .6 2-.1 2 2.4 2 2.9 2 .3 2-1.8 2-3 2-3 2-.8 2 .6 2 1 2 .8 2 .4 2 .5 2 1 2 .7 2-1.2 2-2.8 2-2.4 2-.6 2 2.4 2 2.7 2 0 2-2.1 2-.1 2 1.4 2 .7 2 1.6 2 1.3 2-.4 2-2.5 2-3 2-2.3 2-.4 2 1.9 2 1.8 2 1.1 2 .4 2-.9 2-2.3 2-1.4 2 .4 2 1.2 2 1.8 2 .9 2 2.5 2 .8 2 .2 2 .1 2 .5 2 .9 2-.2 2-.6 2-1.1 2-3.1 2-4 2-2.7 2-1.3 2 .5 2 2 2 2.5 2 1.8 2 2.3 2 3.1 2 1.2 2-.6 2-1.4 2-3.1 2-2.8 2-1 2 1.4 2 3.7 2 2.6 2 .6 2-.1 2-.3 2-.2 2 .5 2-.6 2-1.5 2-.4 2-.5 2-1 2-1.2 2-.9 2 .1 2 .1 2-.6 2 .4 2 1.2 2 1.3 2 .1 2-1 2-1.5 2-1.2 2-.9 2 1.5 2 2 2 1.6 2 .7 2 .6 2 .4 2-1.2 2-2.1 2-1.1 2 .5 2 0 2-.9 2-.2 2 1 2 1.7 2 1.7 2 .5 2-1.5 2-2 2-.8 2 .3 2 .9 2 .3 2 .1 2-.4 2 .1 2-.1 2 .2 2 .3 2 .8 2 1.7 2 2 2 .3 2-1.4 2-2.2 2-1.5 2-1 2-.7 2 1.1 2 1.2 2 1.6 2 1 2-1.9 2-2.1 2-1.8 2 .1 2 1.1 2 .7 2-.5 2 .3 2 1.4 2 1.7 2 .9 2-.1 2-1.1 2-.4 2-.2 2-.6 2-.8 2-.8 2 .1 2 1.8 2 2.5 2 .3 2-.9 2 0 2 .3 2 .5 2 1.7 2 .5 2-1.5 2-1.7 2-.6 2-.2 2 0 2-.9 2-1.5 2 1.2 2 1.3 2 .9 2 .7 2-1 2-1.5 2-.6 2 1 2-.2 2-.7 2-.3 2 .5 2 1.4 2 .7 2 .5 2-.2 2-.3 2-.4 2 .2 2 .1 2-.6 2-.9 2-.5 2 .3 2 1 2 1.1 2 .7 2 .8 2 .5 2-.3 2-.7 2-1.3 2-1.2 2-.9 2-.1 2 1.5 2 .9 2 1.2 2 .3 2 .7 2 0 2-1.4 2-1.8 2-.7 2 .2 2 0 2 0 2 .2 2 1.2 2 .9 2 .3 2-.6 2-1.1 2-1.1 2-.3 2 .5 2 .5 2 .7 2-.2 2-1.1 2 .4 2 .9 2 .7 2-.4 2-.3 2 1.6 2 .9 2-.1 2 .5 2 .6 2 .4 2 .1 2-.5 2-.6 2 0 2 .5 2 .4 2-.2 2-.3 2 .4 2 .7 2 .1 2-.3 2-1.1 2-1.3 2-.7 2 0 2 .3 2 .8 2 .9 2 .3 2-.3 2-.7 2-.7 2-.9 2-1 2-1.3 2 .1 2 .7 2 1.7 2 1.4 2 .5 2-.1 2 1.1 2 1.1 2 .6 2-.2 2-1 2-1.4 2-1.8 2-.9 2 1.4 2 2 2 1.6 2 1 2 .1 2 .2 2-.7 2-.8 2-1.3 2-1 2-.7 2-.2 2-.5 2 .4 2 .8 2 .8 2 .8 2 .7 2 .2 2-.1 2 .6 2 .1 2 .1 L2373.8,42.7 V310 H1307.5Z" fill="#0000f0" stroke="#000" stroke-width="1.3" stroke-linejoin="round"/>
<path d="M1307.5,49.9 L1313.5,49.9l2 .7 2 .4 2 1.3 2 3.4 2 1.4 2-.8 2-1.3 2-1.6 2-1 2-.9 2-.5 2-1 2-1.5 2-1.8 2-.4 2 3 2 2.8 2 1.8 2 1.2 2 .4 2 .7 2 1.3 2 1 2-.4 2-.8 2-.7 2-1.5 2-1.7 2-.7 2-.6 2-.7 2-.7 2 .3 2 1.1 2 .7 2 1.4 2 .2 2-1 2-1.1 2 0 2 2.5 2 .8 2-.8 2-1.1 2-1.7 2-2.4 2-.5 2 3.7 2 2.5 2-1.1 2-1.8 2-1.7 2-.9 2 1.8 2 1.3 2 1.7 2 2.3 2-.1 2-1.5 2-1.5 2-.6 2-.8 2-.9 2-1.6 2-1.5 2 1.3 2 2 2 .5 2-1.4 2 .2 2 2.6 2 1.2 2 0 2 1.1 2 1.9 2 2.1 2 1.4 2-1.1 2-4 2-3.2 2-.3 2 .1 2 .7 2 1.9 2 1.4 2-3.1 2-3.4 2-1.7 2-.5 2 .4 2 .5 2 .8 2 1.6 2 1.5 2 1.5 2 1.2 2 .5 2 .4 2 0 2-.3 2-.7 2-.9 2-.3 2 .5 2-.2 2-.6 2 .1 2 .6 2-.2 2-.1 2 .3 2-.9 2-.9 2 .6 2 .3 2-1.9 2-1.5 2 2.1 2 3.8 2 2.1 2-.4 2-.8 2-2.9 2-2 2 1.2 2 .7 2-.1 2 .5 2-.2 2-.4 2 1.3 2 .9 2-1.3 2-2 2 .4 2 2.8 2 .8 2-1.4 2-1 2-.7 2 .4 2 .2 2 .3 2-.6 2-1.7 2 1.2 2 .8 2-.2 2-.5 2 .5 2 .6 2 .3 2 .3 2 1.1 2 .1 2-1.5 2-1.4 2-.3 2-.4 2-.1 2 .1 2-.5 2 .3 2 1.1 2 .2 2-.5 2 .3 2-.3 2 .5 2 1.6 2 1.1 2-.4 2-.4 2 1.2 2 2.6 2-.3 2-4.1 2-5.9 2-3 2 2.6 2 2.4 2 2.1 2 .7 2-.7 2-1.1 2-.8 2-1.3 2-.6 2 .3 2-.5 2-2.2 2-.6 2-.6 2 .9 2 2.3 2 2.9 2 1.1 2 1.4 2 1.3 2 .4 2-1.3 2-1.3 2-.1 2 .3 2-.7 2-.4 2-.1 2 .6 2 .4 2-.7 2 0 2 1.1 2 1.4 2 1 2-.8 2-3.6 2-4.2 2-1.2 2 2.7 2 3.2 2 2 2-.4 2-2.1 2 .8 2 .5 2-1.5 2-1.5 2-1.8 2-.9 2 1.2 2 2 2 2.7 2 2.4 2-.1 2-2.2 2-2.8 2-2.1 2-1.1 2-.1 2-.4 2-1 2 .9 2 2 2-.5 2-2.9 2 .3 2 2.5 2 .5 2 .3 2-.5 2-1.1 2-1 2-1 2-.4 2 1.3 2 2.8 2 1.6 2 .4 2 .2 2-.5 2-2.3 2-2.1 2-.2 2 .5 2 1 2-.2 2 1.8 2 .5 2 .5 2 .4 2 .3 2 1 2 1 2 .4 2-1.6 2-3.8 2-4.2 2-3.1 2-1 2 2.1 2 3.9 2 3.5 2 .7 2-.6 2 1.2 2 .3 2-1 2-.4 2-.3 2-.8 2-2.2 2-2.2 2 1 2 3 2 2.7 2 1.6 2-.3 2-1.5 2-.3 2-.7 2-1.8 2-1 2-.4 2-.4 2-1.5 2-1.7 2 1.1 2 3.1 2 2 2 .6 2-1.1 2-1.7 2-1.3 2-.1 2-.4 2-.4 2-.4 2 .8 2 .9 2 1.3 2 .2 2-.2 2 .7 2 .6 2-1.5 2-2.7 2-1 2 .8 2 1.3 2 1 2 1 2 1.6 2 1.4 2 .4 2-1 2-1.5 2-2.1 2-2.3 2-1.7 2-1.5 2-.9 2-.1 2 2.2 2 2.3 2 1.3 2 0 2-.2 2 .1 2 1.2 2 1.2 2-.2 2-1.9 2-2.1 2-1.2 2 .4 2 3.1 2 2.6 2 2 2 1 2-1.9 2-1.6 2-1 2 .9 2 .9 2-.3 2-2 2-.7 2 .5 2 .5 2-.1 2 .2 2 .2 2 1 2 0 2-1.6 2-1.2 2-.6 2-.5 2 .1 2 1.2 2 .5 2 0 2 .2 2 0 2 .8 2 3.5 2 2.2 2-1.8 2-2.9 2-.9 2 .2 2 .2 2-1 2-2.7 2 .1 2 1.9 2 2.7 2 1.9 2-.7 2-1.4 2-1.1 2 .5 2 .4 2 .2 2-1 2-1.5 2 .6 2 1.5 2 1.7 2 0 2-1.2 2-.7 2 1.2 2 .5 2-.8 2-.8 2 .3 2 .4 2-.1 2-.8 2-.5 2 .8 2 1.5 2 1.3 2 .5 2-.8 2-1.2 2-1.5 2-1.4 2 .5 2 .7 2 1.4 2 0 2-.3 2-1 2-.7 2 .3 2 1.3 2 1.3 2 0 2-.4 2-.4 2 .3 2 .4 2 1 2 .4 2-1 2-1.8 2-.4 2 .1 2-1 2-.9 2-1.1 2-1.4 2 1.2 2 2.2 2 1.4 2-.1 2 .2 2 2.3 2 1 2-.7 2-.6 2-.7 2-.7 2-.2 2-.4 2-.5 2-.3 2 .3 2 .7 2 .8 2 .8 2 1.2 2 .3 2-.7 2-.6 2-1 2-1.6 2-.8 2 1.1 2 1.9 2 1.3 2 .6 2 .6 2 .6 2-.6 2-1.8 2-2.3 2-1.8 2-.7 2 1.4 2 1.7 2 2 2 1.6 2 .4 2-1 2 .3 2 .7 2 .3 2-.1 2-.5 2-1.2 2-1.8 2-.5 2 2.3 2 2.2 2 1 2-.4 2-2.1 2-1.6 2-.6 2 1.1 2 0 2-1.3 2-1.7 2-.6 2-.6 2 .3 2 1.8 2 2.4 2 1.8 2 .7 2 .1 2-.2 2 .1 2-.9 2-1 L2373.8,52.4 V310 H1307.5Z" fill="#0018ff" stroke="#000" stroke-width="1.3" stroke-linejoin="round"/>
<path d="M1307.5,67.5 L1313.5,67.5l2 .4 2-.5 2-.7 2 2.4 2 2.6 2 1.7 2 0 2-3 2-3.7 2-1.9 2 1.1 2 1.6 2 0 2-2 2-1.8 2 .3 2-.3 2 .2 2 1.8 2 1.9 2 2.1 2 2 2 .8 2-.9 2-1.4 2-1.9 2-3.1 2-1.8 2 1.8 2 2.1 2 .4 2-1 2-.7 2-.2 2 .3 2 1.4 2-.4 2-1 2 .1 2 .5 2 1.9 2 .1 2-.6 2-.3 2-1.2 2-3.4 2-2 2 4.6 2 4.5 2-.9 2-3 2-2.6 2-1.4 2 1.9 2 1.9 2 2.8 2 4 2 2.1 2-.8 2-2.3 2-1.3 2-1.8 2-2 2-2 2-1.9 2 0 2 .4 2 .6 2-.1 2 1.1 2 2.6 2 .9 2-.2 2-.2 2-.7 2 .5 2 1.9 2 1.2 2-.8 2-1.5 2-.6 2-.8 2-.5 2 .9 2 2.1 2-.2 2-1.9 2-3.8 2-4.4 2-1.9 2 .9 2 2.2 2 1.4 2 .3 2 .9 2 2.8 2 3.3 2 1.8 2-1.1 2-2.1 2-2.3 2-1.3 2 .5 2 1.7 2 .2 2-.2 2 1 2 1.5 2-.1 2-1.6 2-1.6 2-1.3 2-.2 2-.4 2-.6 2-.4 2 .8 2 2.5 2 2.4 2 2.2 2 2.3 2 2 2-1.8 2-2.1 2 1.2 2-.2 2-3.2 2-3.1 2-1.4 2 .7 2 2.3 2 .9 2-1.2 2-1.7 2 .6 2 2.8 2 .3 2-2 2-1.9 2-1.5 2 1.1 2 1.3 2 .4 2-.9 2-2.1 2 1 2 .8 2 0 2 .1 2 1.2 2 .7 2 .1 2-.1 2-.2 2-.4 2-.2 2 .2 2 .4 2 .2 2 0 2 0 2-1 2-1.4 2-1 2-.1 2 .1 2 .3 2 .1 2 2.3 2 4 2 2.5 2-1.5 2-3.4 2-.8 2 3.4 2 .4 2-2.8 2-3.1 2-.4 2 4.6 2 2.7 2-.1 2-2.4 2-2.9 2-2.1 2-.3 2 .5 2 1.4 2 1.2 2-.8 2-3.4 2-1.5 2-1 2 1.9 2 4.7 2 5.1 2 1.1 2-.1 2-.1 2 .2 2-1.8 2-3.4 2-2.6 2-.5 2 .8 2 2.5 2 2.2 2 1.7 2 .9 2-1.2 2-1.5 2-1 2-1.1 2-.7 2-.2 2-.4 2-.6 2-.4 2 .5 2 .4 2 1.1 2 .7 2-.7 2 1.1 2-.1 2-2.8 2-2 2-.3 2 1.5 2 2.6 2 1.5 2 1.3 2 2.5 2 .6 2-3.1 2-3.9 2-1.3 2 1.3 2 3.1 2 2 2-1.5 2-2.1 2-1.5 2-1.6 2-1.7 2 1.6 2 2.9 2 1.3 2 2.2 2 2.2 2 .2 2-3.1 2-5.4 2-5.1 2-1.1 2 4.3 2 5.7 2 3.8 2 1.2 2-2.1 2-4.6 2-3.4 2-.1 2 2.1 2 2.8 2 0 2 2 2 1.3 2 .8 2-.1 2-.2 2 .8 2 .9 2 .6 2-2.1 2-5.1 2-3.7 2-.4 2 .6 2 1.7 2 2.9 2 2 2-1.3 2-1.9 2 .9 2 .6 2-.3 2 .2 2-1.5 2-1.8 2 .1 2 1.7 2 2.2 2 .4 2-.4 2 1.1 2 1 2 .3 2 2.3 2 .7 2-2.9 2-3.3 2-2 2 0 2-.2 2-1.4 2 .3 2 1.4 2 .9 2 1.5 2 1.6 2 .6 2-1.1 2-1.3 2-2 2-1.2 2 .3 2 2.5 2 1.1 2 .3 2-.7 2-1 2 .6 2 1.2 2-.6 2-1.9 2-.3 2 .5 2 .6 2 1.4 2 .9 2-.6 2-.9 2 .2 2 .2 2-.9 2-1.3 2 0 2 .7 2-.6 2-.3 2 .2 2 1.2 2-.2 2-1.1 2-.9 2 1.2 2 2.7 2 2.5 2-.4 2-2.5 2-2.6 2-.7 2 .1 2 .2 2 2.5 2 2.1 2 1.7 2 1.1 2-2.1 2-2.6 2-2.8 2-.7 2 .4 2 .3 2-.9 2-.5 2 .5 2 2 2 1.7 2 .6 2-.3 2 1 2 .3 2-2 2-2.5 2-2 2 0 2 2 2 2.5 2 0 2-.6 2-.3 2-.8 2-.4 2 2 2 1.5 2-.4 2-.5 2-.2 2-1.1 2-1.2 2-2.1 2-2.3 2 1.2 2 2.4 2 1.8 2 .9 2-.8 2-.7 2-.6 2 .3 2-.6 2-1.3 2-1.5 2-.5 2 1.6 2 1.3 2 1.4 2 .6 2-.2 2-.5 2-.3 2-.9 2-1.4 2-.7 2 1.3 2 2.3 2 1.6 2 0 2-1.2 2-1.3 2-.3 2 .7 2 .8 2-.9 2-1.9 2-1.9 2-1.2 2 .7 2 .4 2 .9 2 .7 2 2.4 2 2.6 2 .9 2-.6 2-1.7 2-1.8 2-1 2 .5 2 .4 2 .4 2-.2 2-.2 2 .2 2 .1 2-.3 2 .5 2 .7 2-.3 2-.5 2-1.2 2-2.4 2-.8 2 .1 2 .6 2-.1 2 .6 2 2.5 2 1.1 2-.2 2 0 2-.6 2-.9 2-.4 2 .3 2 .8 2 .6 2-.7 2-1.4 2-.9 2 .2 2 .8 2 .8 2 .3 2 .2 2-.4 2-.9 2-.1 2 1.3 2 .9 2-.4 2-.2 2 1.1 2 1.5 2 0 2-1.5 2-2.7 2-2.6 2-1.4 2 .8 2 .1 2 .4 2 1.6 2 1.3 2-.6 2-.5 2-.2 2 1.1 2 .9 2-.6 2-1.4 2-1.8 2-1.6 2 .3 2 1.9 2 3 2 2.2 2-.6 2-1.3 2-1.3 2 0 2-1 2-1.2 2-1.3 2-.4 2-.9 2-.3 2 1.4 2 2.3 2 1.7 2 .2 2-.4 2-.4 2 0 2-.8 2-.5 L2373.8,63.9 V310 H1307.5Z" fill="#005cff" stroke="#000" stroke-width="1.3" stroke-linejoin="round"/>
<path d="M1307.5,93 L1313.5,93l2 .8 2 .8 2-.3 2 .1 2-.8 2 .5 2 .9 2-2 2-3.7 2-2.2 2 1.1 2 .9 2-.7 2-2 2-1.2 2 2.3 2 2.4 2 2.1 2 2 2-.3 2-.4 2 .8 2 0 2-2.6 2-2.8 2-.8 2 .5 2 1 2 1.5 2 .2 2-1 2-1.2 2 .3 2 1.3 2 1.1 2 1.7 2-.7 2-2.7 2-2.7 2-2 2 1.2 2 .9 2 .2 2 .7 2 .5 2-2 2-1.5 2 4.2 2 2.9 2-2.6 2-3.5 2-2.4 2-2.4 2 .5 2 1.8 2 3.7 2 4.5 2 2 2-.7 2-2.1 2-.9 2-.3 2-.1 2 .2 2 .1 2 .3 2-.9 2-.5 2-.9 2 .4 2 2.6 2 1.3 2-.1 2-.4 2-.9 2-.9 2-1.2 2-2.3 2-2.4 2-.1 2 3 2 3.3 2 2.3 2 1 2-.7 2-4.6 2-3.6 2-1 2 0 2 1.2 2 1.6 2 .4 2-1.1 2-1.2 2 .5 2 2.8 2 3.3 2 1.7 2-1.3 2-1.7 2-1.2 2-.6 2 .6 2 2.3 2 1.7 2 .4 2-.9 2-2.8 2-4.8 2-2.5 2 2.5 2 2.1 2-1.2 2-2.4 2-1.4 2-1.4 2-.3 2 2.8 2 4 2 4 2 3.2 2 1.2 2-4.7 2-4.5 2 2.3 2 3.5 2 .1 2-2.2 2-3.9 2-3.3 2-.1 2 1.3 2 2.1 2 2.4 2 2.9 2 2.4 2-1.6 2-3.8 2-2.8 2-1.7 2 1.4 2 .9 2-.7 2-1.8 2-1.7 2 3 2 1.8 2-.3 2-.5 2 1.7 2 1.7 2-1 2-1.8 2 1.4 2 2.9 2 .9 2-.1 2 1.2 2 1 2 0 2 0 2-1.3 2-2.4 2-3.3 2-4.8 2-4.6 2-1 2 1.1 2 4.5 2 6.4 2 3.2 2-1.6 2-3 2-.6 2 2.6 2-.4 2-3.5 2-3.7 2 .5 2 6.5 2 3.5 2-.1 2-2.5 2-2.7 2-1.1 2 .9 2 1.2 2-.1 2-1.9 2-2.4 2-2.5 2 1.6 2 2.7 2 2.8 2 1.7 2 .9 2-1.4 2-1.4 2-1.2 2 1.3 2 1.9 2-.3 2-2.6 2-2.9 2-1.8 2 .9 2 1.8 2 1.9 2 .6 2-2.6 2-2.1 2 .1 2 2.2 2 3.1 2 1.6 2-1 2-1.8 2-1 2 .7 2 .3 2 .3 2-.5 2-.9 2 2.6 2 1.3 2-1.1 2-.8 2-1.6 2-1 2 2.2 2 2.2 2 .4 2-.3 2-.8 2-1.1 2-.9 2-1.1 2-1.8 2-2 2-1.5 2 .1 2 3.7 2 4 2 .2 2-3 2 .6 2 2.7 2-.4 2-1.2 2-1.2 2-.7 2-.7 2-1.5 2-2.3 2-1.7 2 1.9 2 4 2 3.7 2 1.8 2-1.2 2-3.4 2-1.1 2 1.6 2 .9 2 .4 2-1.5 2 1.6 2 .7 2 1.5 2 .9 2 .1 2 .8 2-.1 2-1.3 2-1.4 2-1.4 2-2.6 2-4 2-2.5 2 2 2 1.6 2-2.3 2-3 2 2.3 2 7.4 2 5.3 2 1.2 2-.8 2-2.7 2-2.1 2-1.6 2-.6 2 2.1 2 2.3 2 1.2 2 .9 2-1 2-2.4 2-.1 2-.3 2-1.2 2 .3 2-.1 2-2.4 2-3.6 2-2.5 2 1.4 2 3 2 1.8 2 1.6 2 1 2-.3 2-1.8 2-1.5 2-2.4 2-1.5 2 .4 2 3.3 2 2.4 2 2.4 2 1.7 2 .6 2-.3 2-1 2-2.9 2-2.6 2 .7 2 1.7 2-.3 2-1.2 2-.4 2 1.3 2 2.6 2 1.4 2-1.1 2-1.8 2-2.3 2-2.1 2-.8 2-1 2-.8 2-.2 2 2.5 2 2.1 2 .3 2-1.3 2-.6 2 1 2 2.8 2 2.5 2 .3 2-2.2 2-2.2 2-1.5 2-1.4 2 .8 2 .9 2 1.4 2 1.5 2-.7 2 .5 2 .2 2 .2 2-.6 2-.8 2-1.3 2 .8 2 2 2 2 2 1.4 2 .6 2-1.1 2-1 2-1.2 2-1.3 2 .1 2 .2 2-1.3 2-1.3 2 .8 2 .4 2-.2 2 .1 2-.5 2-1.1 2 1.9 2 2.7 2 1.3 2 .5 2 0 2-2.3 2-3.4 2-3.2 2-2.2 2 1.7 2 2.9 2 2.5 2 1.6 2-.8 2-.6 2-.3 2 .5 2-1.5 2-2.7 2-2.2 2 0 2 2.9 2 2.3 2 1.8 2 0 2-1.4 2-1.6 2 .2 2 .3 2-.9 2-1 2 .3 2 .4 2 0 2 .2 2 .3 2-.3 2 0 2 1.1 2 .8 2-1.8 2-2.8 2-1.9 2-1.1 2 .8 2 .7 2 1.8 2 0 2-.6 2 .1 2 1.5 2 1.3 2 .5 2-.3 2-1.6 2-1.8 2-.6 2 2 2 2.4 2 1.8 2 .6 2-1.3 2-2.3 2-.8 2 0 2-1.5 2-1.8 2-2 2-2 2 1 2 2.3 2 2.8 2 1 2-.1 2 1.2 2 .3 2-.4 2 .7 2 .2 2-1.3 2-1.6 2-.7 2-.1 2-.3 2-.7 2-.1 2 .4 2 .8 2 1.8 2 1.4 2-1 2-2.1 2-.6 2 1.2 2 1.3 2-.2 2-1.2 2 .1 2 1.3 2 .6 2-.2 2-.5 2-.6 2-1.2 2-1.6 2-1.8 2-.1 2 .2 2 1.1 2 1.4 2 .5 2-.8 2 .7 2 1.1 2 1.1 2-.5 2-1.9 2-2.2 2-2.2 2-.8 2 2.6 2 3.8 2 2.9 2 .3 2-3.3 2-2.8 2-.4 2 2.1 2 .3 2-1.3 2-1.8 2-1.3 2-1.4 2 .3 2 1.8 2 1.7 2 .7 2-.5 2-.6 2-.1 2 .9 2-.2 2-.4 L2373.8,77 V310 H1307.5Z" fill="#00dcff" stroke="#000" stroke-width="1.3" stroke-linejoin="round"/>
<path d="M1307.5,105.5 L1313.5,105.5l2 1.8 2 .6 2 .3 2 1.9 2-.5 2-1.1 2-.5 2-1.5 2-2.1 2-1.4 2 .7 2 .5 2-1.5 2-3 2-1.5 2 2.4 2 2.1 2 1.8 2 1.8 2-.6 2-2 2-2.3 2-1.3 2-.5 2 .7 2 .9 2 .4 2 1.5 2 3.1 2 1.4 2-.9 2-1.3 2 1 2 1.5 2-.5 2-.5 2-1.9 2-2.4 2-1 2 .2 2 3 2 2.2 2 1.4 2 .4 2-.8 2-2.9 2-1.9 2 4.5 2 3.8 2-1.4 2-2.8 2-2.5 2-2.4 2 .8 2-.3 2 .2 2 3.5 2 3.7 2 1 2-1.8 2-2.1 2-3.3 2-3.4 2-2.3 2-.5 2 2.3 2 2.4 2 1.8 2-.9 2-1.2 2 .7 2 .8 2 2.1 2 2.8 2 1.2 2 .6 2 1 2-.3 2-3.3 2-4.4 2-2.5 2-.6 2 2.4 2 4.4 2 3.1 2-2.7 2-3.6 2-2.9 2-3.2 2-2.1 2 0 2 1.3 2 2.1 2 1.7 2 1.7 2 1.9 2 .8 2 1 2 .5 2 .6 2-.7 2-1.6 2-1.2 2 .6 2-.6 2-2 2-.7 2 1.6 2 1.2 2 1.6 2 2.6 2 0 2-2.2 2-2.5 2-1.6 2-1.4 2-.7 2 1.3 2 2 2 1.1 2-.9 2-.7 2-2 2 .4 2 5.1 2 3.2 2-1 2-2.5 2-2.1 2 .9 2 3.8 2 1.8 2-1.5 2-4 2-2 2 3.1 2 2.6 2-.9 2-3.6 2-3.6 2 1.4 2 3.2 2 1.5 2-2.4 2-3.6 2 3.9 2 5.7 2 2.3 2-2.6 2-4 2-3.4 2-3 2-2 2 1.3 2 3.3 2 3.3 2 3.1 2 3 2-.4 2-4.6 2-4.9 2-3.4 2-.5 2-.3 2-2 2-.7 2 3.4 2 3.8 2 3.8 2 3.5 2 1.5 2-2.3 2-4.7 2-2.1 2 2.9 2 .6 2-3.3 2-5.5 2-2 2 6.1 2 4.2 2 1 2-1 2-.6 2 1.7 2 3.2 2 .9 2-1.3 2-2.7 2-3.3 2-4.6 2-1.4 2-.1 2 1.3 2 1.5 2 2 2-1.3 2-1.1 2 1 2 3 2 1.7 2 .4 2-.3 2-2.4 2-4.4 2-1.7 2 1.4 2 3.4 2 2.6 2-1.3 2-2.2 2-1.3 2 .6 2 2.1 2 .7 2-2.7 2-2.7 2 .7 2 3.5 2 2.6 2 1.1 2-1.5 2-3.8 2 .4 2 1.5 2 .6 2 1.7 2-.6 2-3.2 2-.6 2 3.1 2 5.1 2 4.7 2 .5 2-3 2-2.5 2-1.5 2-1.6 2-.2 2 1.4 2 .8 2 0 2-1.4 2-3.2 2-4.3 2 .6 2 4.8 2 3.8 2 2.9 2 .6 2-1.1 2-3.3 2-5 2-4.8 2-1.5 2 3.5 2 3.5 2 1.1 2 .2 2 0 2-1.5 2-1.2 2 1 2 2.1 2 3.1 2 .5 2 2.7 2 .3 2-.5 2-1.7 2-.6 2 2.7 2 3.1 2 .6 2-2 2-3.4 2-3.4 2-2.9 2-2.2 2 .6 2 2.8 2 1.7 2-1.3 2-.9 2 2.1 2 2.3 2 2.7 2 2.2 2-1.9 2-3.4 2-2.9 2-.7 2 3 2 3.4 2 2.3 2 1.2 2-.8 2-1.3 2 1.3 2 .7 2-1.1 2-1.7 2-3.2 2-2.2 2-.4 2-.3 2 1.2 2 1.9 2 .9 2 .3 2-.7 2-1.6 2-2.2 2-1.1 2-1.2 2 .1 2 .9 2 2.9 2 1.5 2 .6 2 0 2 1.6 2 2 2-.7 2-2.8 2-2.1 2-1 2-1.7 2-1.6 2 1.2 2 2.8 2 2.1 2 1.9 2 1.1 2-1.3 2-1.4 2-.6 2-.6 2-1.2 2-2.7 2-2.3 2-1.5 2 1.3 2 1.3 2 1.2 2 1.9 2 2.7 2 1.8 2 1 2-.3 2-.9 2-1 2 .4 2 .3 2-1.4 2-.4 2-1.6 2-1 2 .2 2-1.5 2-.6 2 .1 2 2.5 2 2 2-.7 2-2.6 2 .3 2 1.5 2 .7 2 .3 2 .4 2-1.1 2-.2 2 .2 2-1 2-2 2-2.9 2-1.5 2 2.1 2 4.1 2 .9 2-1.4 2-1.1 2-1 2-.7 2 2.4 2 1.8 2-.9 2-1.1 2 .3 2-.7 2-1.8 2-2.4 2-2.2 2 1.5 2 2.4 2 3.2 2 3 2-1.1 2-3 2-1.5 2 1.5 2 .2 2-1.6 2-2.4 2-1.8 2 1 2 1.7 2 2.6 2 .3 2-2.3 2-2 2 1.6 2 2.2 2 .4 2-.8 2-1 2-.5 2 1.2 2 1.7 2-.3 2-2.2 2-2.5 2-.9 2-.2 2-1.9 2-1.8 2-.1 2 1 2 1.9 2 1.1 2 1.8 2-.1 2 .5 2 .4 2-.6 2-.7 2 .8 2 2 2 .7 2-.4 2-1 2-.3 2-.3 2 .2 2 .2 2 0 2 .3 2 1.4 2 .4 2-2.2 2-2.2 2-1.9 2-2 2 .3 2 1 2 .8 2-.6 2-.6 2 1.9 2 1.1 2 0 2 .4 2-.4 2-1.1 2-.6 2-.2 2 .5 2 .9 2 .6 2 .2 2-.3 2-.6 2-.3 2-.8 2-.9 2-.2 2-.5 2-.6 2 .8 2 1.8 2 .7 2-.8 2-1.1 2-.8 2-.2 2 .2 2 .5 2-.7 2-2 2-1.9 2 .7 2 1.2 2 2.1 2 2.2 2 .2 2-2 2-.4 2 1.2 2 2.4 2 1.6 2-.3 2-2.1 2-3.3 2-2.6 2 .1 2 1.5 2 2.9 2 3.2 2 .5 2-1.2 2-2.4 2-.9 2-.6 2 0 2-.9 2-1.7 2-2.9 2-1.4 2 1 2 2.5 2 2 2 .6 2-.1 2 .6 2 1.7 2-.1 2-1.3 L2373.8,93.5 V310 H1307.5Z" fill="#40ffc0" stroke="#000" stroke-width="1.3" stroke-linejoin="round"/>
<path d="M1307.5,124.4 L1313.5,124.4l2 .1 2-1.1 2-1.2 2 1.6 2 .8 2 .8 2 1.9 2 1.3 2-.1 2-1.7 2-1.4 2-1.5 2-1.3 2-.4 2 .5 2 2.3 2 .1 2-.5 2 1.2 2 .8 2-.2 2 .1 2 2.2 2 1.9 2-.2 2-1.9 2-1.7 2 .4 2 2.1 2 .3 2-2.4 2-4.6 2-2.5 2 1.1 2 1.1 2 1.1 2-.5 2-1 2 .6 2 2 2 4.2 2 1.3 2-1.2 2-1.5 2-1.5 2-3.2 2-2.1 2 5.3 2 4.6 2-2.3 2-4.3 2-2.2 2 .1 2 3.7 2 1 2 .4 2 2.8 2 2 2-.8 2-2.6 2-2.8 2-3.8 2-2 2 .5 2 .8 2 1.8 2 .8 2 .2 2-2 2-1.2 2 2.3 2 2.8 2 2.4 2 1.5 2 .4 2 0 2-.9 2-2.5 2-3 2-1.3 2 .8 2 1.3 2 2.5 2 3.3 2 1.2 2-5.4 2-5.6 2-2.6 2 .5 2 2.6 2 2 2 .1 2-.2 2 .7 2 1.9 2 2.2 2 1 2 .1 2-.9 2-.1 2-1 2-2 2-1.1 2 1.9 2 3.4 2 3.6 2 2.2 2-1 2-4.5 2-3.6 2-.3 2 0 2-.5 2-1.5 2-3.1 2-3.2 2 .4 2 4.4 2 4.3 2 2.4 2 .3 2 .5 2-3.1 2-2.9 2 1.7 2 .2 2-3.5 2-3.4 2-1.7 2 .8 2 3.1 2 1.7 2-.9 2-2.6 2 .1 2 5 2 3.2 2-.7 2-3 2-4.4 2-1.3 2-.3 2 .7 2 0 2-2.6 2 2 2 3.1 2 1.9 2-1.1 2-1.2 2-1.2 2-1.5 2-.9 2 2 2 3.5 2 1.7 2-.3 2 .1 2-.1 2-1.1 2-1.4 2-2.4 2-1.7 2-.5 2-.9 2-1.2 2 1.2 2 1.5 2 3.7 2 4.2 2 .3 2-4.1 2-3.6 2 .2 2 2.8 2-1.6 2-3.3 2-3.3 2-1 2 5.6 2 5.1 2 4.7 2 2 2-.8 2-3.4 2-4 2-3 2-.5 2 .4 2 .3 2-1.3 2 1.5 2 .5 2 1.1 2 3.2 2 4.8 2 1 2-.4 2-1 2 0 2-1.4 2-3.1 2-3.3 2-3 2-3.1 2-.5 2 1.5 2 3.4 2 3 2 .3 2 1.3 2 1.8 2 .7 2 .3 2-.3 2-1.5 2-2.1 2-2 2 .3 2 1.5 2 1.7 2-.7 2-3.8 2-1.1 2-1.1 2-1.1 2 1.7 2 .4 2-1.8 2-.3 2 1.4 2 2.6 2 2.9 2 1.2 2 .1 2 .3 2 .2 2-.9 2-1 2-.3 2 .1 2 .9 2-.7 2-2.7 2-1.1 2 5.8 2 6.8 2 .8 2-1.6 2-2.5 2-1 2-1.4 2-4.2 2-5.9 2-2.6 2 5.2 2 7.9 2 5.5 2 3 2 1.2 2-2.7 2-5.9 2-5.7 2-2.8 2-1.5 2-4.4 2 2.9 2 6.6 2 7.8 2 4.4 2 .9 2 .4 2 .1 2-.7 2-4 2-8.1 2-9.8 2-7.2 2-2.4 2 3.1 2 5.8 2 4.1 2-.9 2 .1 2 6.3 2 5.8 2 1.6 2-1.5 2-5.2 2-4.6 2-2.2 2-.3 2 2.2 2 2.6 2 2.1 2 2.7 2 2 2 1.4 2 2.4 2-.6 2-3 2-2.1 2-3.8 2-4.7 2-3.1 2-.5 2 2.5 2 2.8 2 2.2 2 2.5 2 .7 2-1.2 2-1.4 2 .1 2-.9 2-1 2-.7 2 2.5 2 3 2 3.2 2 1.3 2 .4 2 .9 2 .9 2-1 2-3.8 2-3.7 2-3 2-2.1 2-.7 2 .1 2 .7 2 1.7 2 1.7 2 0 2-.4 2-.5 2-1.3 2-1.4 2-1.2 2-.1 2-.6 2 .6 2 .7 2 2.1 2 2.9 2 2.8 2 2.4 2 2.1 2 .1 2-1.6 2-3 2-3 2-2.8 2-2.4 2 1.4 2 2.6 2 3.4 2 1.9 2-2.7 2-2.7 2-2.6 2-.9 2-.4 2-.4 2 0 2 2.6 2 1.6 2-.7 2-1.3 2-.3 2-.6 2 .4 2-.1 2-.6 2 0 2-.9 2-.7 2 1.3 2 3.3 2 1.5 2-.1 2-.8 2-1.8 2-2 2 1.4 2 2.5 2 .9 2 .1 2-.6 2-3 2-3 2-2.2 2-2 2 1.4 2 2 2 2.6 2 3.1 2 .2 2-1.2 2-1.6 2-.1 2-.3 2-.4 2-.9 2-.9 2 1.3 2 .8 2 .6 2-.5 2-.3 2-.3 2-.1 2-1.2 2-1.3 2 .1 2 1.7 2 1.5 2-.2 2-1.9 2-2 2-.6 2 .1 2 .9 2 1.4 2-.6 2-2.9 2-3.1 2-1 2 3.1 2 3.5 2 3.7 2 .7 2-.8 2-1.5 2-.6 2 .9 2 1.5 2 .9 2-.5 2-.5 2-.7 2-.4 2-1 2-.6 2 .1 2-.4 2-1.2 2 .2 2 1.2 2 .6 2 .7 2-1.3 2-3.5 2-1.1 2 .7 2 .9 2-1.1 2-1 2 2.3 2 1.5 2-.4 2-.6 2-1.4 2-1.1 2 1 2 1.8 2 1.2 2 .7 2 .5 2 1.4 2 .7 2-.8 2-1.4 2-.7 2-.3 2-1.3 2-2.8 2-1.9 2 .7 2 2 2 1.6 2 1.7 2 1.2 2 .1 2-.3 2-.7 2-1.6 2-3 2-3 2-1.6 2 1.9 2 2.1 2 1.5 2 .5 2-1 2-2.2 2 0 2 .6 2 .6 2 .2 2-.7 2-1.8 2-2.4 2-1 2 2.2 2 3.3 2 4.3 2 3.5 2 .1 2-1.4 2-2.3 2-.9 2-1.9 2-3.2 2-3.7 2-1.6 2-.4 2 .8 2 2.2 2 3.2 2 3.2 2 1.9 2 .2 2-1.2 2-.7 2-1.5 2-1.4 L2373.8,107.1 V310 H1307.5Z" fill="#c0ff40" stroke="#000" stroke-width="1.3" stroke-linejoin="round"/>
<path d="M1307.5,144.9 L1313.5,144.9l2-1.7 2-.8 2 1.1 2 3.2 2 .3 2-.4 2 .8 2-.2 2-1.1 2-1.7 2-1.3 2-1.7 2-1.9 2-1.3 2 .3 2 2.8 2 2 2 3.1 2 4.2 2 1.2 2-1.4 2-2 2-1.4 2-1 2-.2 2-.9 2-1.9 2-.5 2 2.2 2 1.6 2-.6 2-2.4 2-.5 2 1.2 2 .1 2 .7 2 0 2-.9 2-1.6 2-2.1 2 2.4 2 2.3 2 1 2 .5 2 .2 2-2.3 2-3.1 2 2.5 2 3.1 2-1.7 2-3.8 2-3.3 2-1.1 2 3.4 2 .8 2-.2 2 3.4 2 4.4 2 2 2-2.1 2-2.6 2-1.9 2-1.6 2-2 2-2 2 .1 2 .7 2 2.2 2 2.2 2 2.3 2 1.8 2-2 2-2.8 2-1 2 .3 2 2.3 2 4 2 2.4 2-.8 2-2.3 2-3.2 2-2.9 2 1.9 2 5.1 2 2.7 2-4.9 2-4.9 2-2.2 2-.5 2 1.9 2 2.1 2 0 2-.5 2-.9 2-.8 2 1.3 2 2.1 2 1 2-.2 2 .5 2-.1 2 0 2-.3 2-.6 2-.7 2 1.5 2 4.2 2 4.4 2-1.2 2-5 2-3 2-2.1 2-1.6 2-1.7 2-2.7 2-3.5 2-.9 2 3.5 2 4.3 2 3.3 2 2.3 2 1.6 2-3.9 2-2.9 2 3.8 2 1 2-7.7 2-9.8 2-4.9 2 2.1 2 6.2 2 4.6 2 2.1 2 1.2 2 2.6 2 3.8 2 1 2-.8 2-.9 2-2.1 2 0 2-.8 2-2.2 2-2.8 2-1.7 2 5.5 2 4.3 2 .8 2-2 2-1.6 2-1.7 2-.8 2 2.3 2 5.8 2 4.6 2-.2 2-3.4 2-2.7 2-1.2 2 .5 2 1.5 2-1.5 2-4.1 2-4.3 2-3 2 .1 2 3.9 2 1.3 2 .3 2 1.7 2 1.2 2-.9 2-1.4 2 1.8 2 5.3 2-.4 2-3.3 2-2.3 2 .9 2 6.3 2 3 2 .8 2-3.2 2-5.9 2-3.8 2 .8 2 .5 2-.8 2-3.1 2-6 2-5.1 2 4.5 2 6.4 2 4.6 2 3.1 2 3.5 2-.8 2-2.1 2-2.9 2-1.2 2 .2 2 1.5 2 .4 2-1.5 2-1.9 2 1 2 2 2 3.1 2 2.4 2-2.1 2-2.7 2-2.2 2-1.4 2 .2 2 1.6 2-.3 2-3.1 2-2 2 2.3 2 1.8 2 .7 2-.4 2-2.1 2 1 2-.1 2-1.8 2 .1 2-.4 2-.5 2 3.5 2 7 2 7.6 2 4.4 2-3.6 2-8.4 2-5.8 2-.8 2-.2 2-1 2-.3 2 .5 2 2 2-.7 2-4.7 2-3.9 2 5.5 2 10 2 4.7 2 .4 2-4.2 2-6.3 2-5.8 2-4.3 2-2.1 2 1.8 2 7.1 2 7.1 2 4.3 2 .9 2-2.8 2-4.6 2-2.4 2-.7 2-1.9 2-2 2-3.8 2 2.2 2 3.1 2 5.4 2 5.3 2 4.8 2 2.9 2-1.6 2-3.9 2-5.8 2-6.4 2-3.8 2-2.9 2-3.7 2-.3 2 2.5 2 2.2 2 .8 2 2.6 2 5.5 2 2.3 2-.3 2 .6 2-1.2 2-1.6 2-2 2-2.8 2-.6 2 .3 2 .3 2 1.9 2 1.1 2-.4 2 3.8 2 3.7 2 1.4 2 1.7 2-1.4 2-6 2-7.3 2-3 2 5.1 2 6 2 1.1 2 0 2 .8 2 .5 2-1.2 2-1.9 2-3.2 2-3 2-2.7 2 .9 2 2 2 3 2 1.9 2 1.7 2 2 2 1.2 2-.5 2-2.1 2-2 2-1.8 2-.8 2 .4 2 .5 2 0 2 1.2 2 2.9 2 2 2-.4 2-2.1 2-1 2 .2 2-2 2-3.6 2-3.4 2-.1 2 .8 2 2.5 2 4 2 2.9 2-.1 2-.3 2-.3 2-.4 2-.1 2 .7 2-1 2-2.7 2 .1 2 .8 2 2.1 2 1.1 2-3.3 2-1.1 2 1.2 2 1.2 2-1.2 2-1.4 2-1.7 2-.5 2 .6 2 1.5 2 1.3 2 .8 2-.4 2 .8 2 .8 2-.5 2-1 2-2.3 2-2.5 2 .1 2 2.8 2 .7 2-1.6 2-.9 2-.1 2 .4 2 2.9 2 1.7 2-1.5 2-1.5 2 .4 2-.3 2-1.5 2-3.3 2-3.6 2 1.6 2 2.5 2 1.8 2 1.6 2-.4 2-.8 2-.7 2 .9 2 .1 2-1 2-2 2-.6 2 3.5 2 3.3 2 1.6 2-1 2-2.1 2-2.1 2 .6 2 1.6 2 .7 2-.6 2-.9 2-.2 2 .5 2-.3 2-1 2-.6 2-.3 2-.2 2-.4 2-2 2-2.6 2-2.5 2-1.4 2 2.4 2 3.5 2 4.5 2 1.1 2-.8 2-1.5 2-1.4 2-.2 2 .5 2-.1 2-1.2 2 0 2 1.3 2 2.1 2-.1 2-1 2-.7 2-.3 2 0 2 1 2-.6 2-3.2 2-1.3 2 .6 2-.4 2 .2 2 .5 2 1.4 2-.1 2-2.2 2-.5 2-.6 2-.5 2 .6 2-.4 2-.3 2 1.9 2 2.6 2 1.7 2 .2 2 0 2 1.3 2 1.9 2 .5 2-1.1 2-1.8 2-2.7 2-2 2-1 2-.8 2 0 2 2 2 1.5 2-.3 2-.9 2-.1 2 .2 2-.7 2-.9 2-1.6 2-2.2 2-1.5 2 1.9 2 1.9 2 2.5 2 2.9 2 .4 2-2.4 2 .1 2 1.4 2 1 2 .2 2-.9 2-2.5 2-3.4 2-1.6 2 1.2 2 1.3 2 2.5 2 3.3 2 .9 2-.3 2-1.6 2-.8 2-1.9 2-2.1 2-2.4 2-1 2-.5 2 .6 2 1.4 2 1.5 2 1.7 2 1.3 2 .7 2 .1 2-.1 2-2.3 2-2 L2373.8,129.2 V310 H1307.5Z" fill="#ffd000" stroke="#000" stroke-width="1.3" stroke-linejoin="round"/>
<path d="M1307.5,161.4 L1313.5,161.4l2 .4 2 2 2 1.1 2 .5 2-.4 2-.3 2-.9 2-2.1 2-.6 2 1.6 2 1.5 2-.9 2-2.4 2-2.6 2-.9 2 1.7 2 1.1 2 .8 2 1 2-.7 2-2.2 2-1.2 2 1.8 2 3.7 2 3.1 2 .4 2-1.3 2-.3 2 1.5 2 1.2 2 .8 2-.2 2-.9 2-1.1 2-1.2 2-.7 2-1.5 2-1.1 2 .6 2 .8 2 .3 2 .3 2 2.5 2 1.9 2-.9 2-1.6 2 .6 2 3.1 2 .7 2-2.9 2-3.2 2-2.8 2-2.7 2-.4 2 .7 2 2.4 2 4 2 2.1 2-1.1 2-2.2 2-1 2-.8 2-.5 2-.2 2-.7 2 .3 2 .6 2-.3 2-1.8 2 1 2 3.8 2 1.1 2-1.3 2-1.1 2 .5 2 1.9 2 1.5 2-.3 2-3 2-3.7 2-.8 2 2.1 2 2.9 2 1.7 2-.1 2-1.8 2-.2 2 1 2-.3 2-2.4 2-3 2-1.1 2 2.3 2 3.2 2 1 2-.9 2-1.1 2 .9 2 2 2-.1 2-3.8 2-2.9 2 .8 2 2.9 2 1.9 2 .9 2-.2 2-3.4 2-5.9 2-2.9 2 2.1 2 3.6 2 3.5 2 4.4 2 3.4 2-1.6 2-3.1 2 1.1 2 2.8 2 .8 2-.1 2-.3 2-3.4 2-1.9 2 3.6 2 4.4 2 .3 2-3.6 2-3.8 2 1 2 5.7 2 3.6 2-1.1 2-4.1 2-4.6 2-2.2 2-1.5 2-2.2 2-1.7 2-1.5 2-.6 2-.4 2-1.1 2-2.2 2-1 2 3.9 2 3.6 2 .2 2-2 2-1.1 2 .4 2 1.6 2 1.2 2-.3 2-.5 2 1.2 2 2.9 2 2.5 2-.5 2-2.8 2-2.1 2-.9 2-.8 2-2.1 2-2.3 2-.4 2 1.8 2 1.8 2 2.5 2 2.1 2-1.1 2-3.5 2-.8 2 4 2 4.7 2 .1 2-2.5 2-3.1 2-1.9 2 1.4 2 1.8 2 3.1 2 2.4 2-.1 2-3.5 2-3.5 2-1 2 1 2 .2 2-2.9 2-6.1 2-2.7 2 2.7 2 5.4 2 2.7 2 .7 2 .7 2 1.3 2 .5 2 .5 2-.7 2-.3 2 2.2 2 2 2-1.6 2-3.9 2-4.4 2-2 2 1.1 2 .6 2 .3 2 2.6 2 5.8 2 4.5 2-.7 2-5 2-4.8 2-.9 2 3.3 2 4.3 2 3.5 2 .2 2-4 2-3.7 2-3 2-1.9 2 .2 2 .7 2-.9 2-1.2 2 .8 2 3.4 2 3.4 2 .1 2-2 2 .6 2 4.1 2 2.5 2-2.1 2-4.6 2-3.7 2 1.9 2 5.7 2 3.1 2-1.7 2-2.6 2-1.8 2-.9 2 1.9 2 2.7 2 .9 2-2.9 2-5.7 2-4.8 2-1 2 3.4 2 5.3 2 4.5 2 1.7 2-2.5 2-7.1 2-6.6 2-.6 2 4.3 2 3.3 2-2.1 2-.8 2 1.6 2 3.9 2 3.3 2 .8 2-2.1 2-3.5 2-1.8 2 .3 2 0 2-1.8 2-2.4 2-.4 2 3 2 2.5 2-.9 2-1.9 2 1.8 2 3.7 2 .3 2-1.1 2-.6 2-1.4 2 .7 2 1.4 2-1.5 2-1.9 2-.3 2 .3 2 1.2 2 1.1 2-.7 2 .3 2 2 2 2.9 2 3.1 2 1.4 2-1 2-3.8 2-3.8 2-.3 2 .4 2-1.1 2 .4 2 3.9 2 3.2 2-.5 2-.5 2 .9 2 .7 2-1.2 2-2.4 2-3.8 2-1.6 2 1.1 2 1.5 2 0 2-.3 2 .1 2 .1 2 .1 2-.7 2-.9 2-.3 2-.1 2-1.6 2-1.7 2 0 2 1 2 1.4 2 1.1 2 .1 2-.8 2-1.3 2-1.9 2-2.5 2-.7 2 1.1 2 3 2 3.9 2 2.9 2 .7 2-.6 2-1.1 2-1.5 2-2 2-1 2 0 2 .4 2 1.3 2 .5 2 .1 2 .6 2-.1 2 .2 2 0 2-.6 2-2.5 2-2.8 2-1.5 2 1.1 2 2.6 2 2.9 2 1 2-1.3 2-2 2-.5 2 .4 2 1.1 2 1.6 2 .3 2-.8 2 .3 2 1.7 2 .3 2-.8 2-.6 2-.8 2-.4 2 1.2 2 1 2-.3 2-.6 2-.3 2-.8 2-1.1 2-.5 2 .7 2 2.6 2 1.9 2-.2 2-1.5 2-2.3 2-.9 2 .9 2 2.3 2 .8 2-.7 2-1 2-.3 2 .8 2 .2 2 0 2-.3 2 .3 2 .7 2 .3 2-1 2-1.3 2 .1 2 1.4 2 1.1 2 .4 2 .4 2 .5 2 .2 2-.2 2-.3 2-.4 2-1.4 2-2.4 2-2 2-.1 2 1.6 2 .7 2 .6 2-.3 2-.5 2-1 2-.2 2 1.6 2 2.1 2 .1 2-1.7 2-.9 2 .5 2 .8 2 0 2 .5 2 1.5 2 1.5 2 .8 2-.2 2-1.6 2-2 2-.6 2 .1 2-.4 2 .3 2 .2 2 0 2-.6 2-.2 2 1.1 2 .6 2 .3 2 .7 2-.2 2-1 2-.2 2 .6 2 .2 2-.5 2-.2 2 1.1 2 1.3 2 .8 2 .5 2 .6 2-.7 2-3.3 2-4.3 2-2.2 2 .4 2 1.3 2 .9 2 .6 2 .8 2 1.2 2 1.1 2 .3 2-.2 2-.4 2-.8 2-1.9 2-.6 2 1.3 2 2.4 2 1.1 2-1.4 2-1.1 2 2 2 2 2 .4 2-.3 2-.8 2-2 2-2.3 2-.8 2 1.2 2 1.2 2 1.2 2 1 2-.9 2-1.3 2 .4 2 3.1 2 2.7 2 1.3 2-1.3 2-3.4 2-3.7 2-2.1 2-.4 2 1.1 2 2 2 1.3 2 1.2 2 .8 2 0 2-.5 2 .2 L2373.8,161.8 V310 H1307.5Z" fill="#ff5000" stroke="#000" stroke-width="1.3" stroke-linejoin="round"/>
<path d="M1307.5,180.9 L1313.5,180.9l2-.2 2 1 2 1.9 2 .2 2-.1 2-.8 2-1.3 2-.1 2 1.1 2 1.8 2 .7 2 .3 2 .1 2-1.1 2-1.4 2-.4 2 1.6 2 1.6 2 .9 2 .7 2-.5 2-1.4 2-1 2 .2 2 0 2-.9 2-.3 2 0 2-.6 2 .3 2 .5 2 .1 2-.6 2 0 2 .6 2 .1 2 1.1 2 0 2-3 2-2.8 2-.2 2 2.5 2 1.1 2-1.1 2-.5 2 1 2 .3 2-2.5 2-1.7 2 1.9 2 2.4 2-.1 2-.4 2 1.5 2 3.9 2 1 2-3.2 2-2.9 2-.3 2 .8 2-.1 2 .9 2 2 2 .5 2-1.8 2-2.9 2-1.5 2 0 2 2.3 2 2.4 2-.3 2-1.2 2-.5 2-.5 2-.5 2 .3 2 .7 2 .7 2-.3 2-3.1 2-4.6 2-1.9 2 .8 2 1.9 2 3.2 2 5.9 2 4.7 2 1.5 2-.2 2-.4 2 .4 2 .6 2-.5 2-1.5 2-2.2 2-4.1 2-5 2-3.7 2-.2 2 3.2 2 4 2 2.1 2 .7 2-.9 2-2.6 2-3 2-.8 2 1.7 2 2.3 2 .4 2-.3 2 1.4 2 1.6 2 1.5 2 2.6 2 1.9 2-1.2 2-2.5 2-3.1 2-4.7 2-2.7 2 .5 2 2.8 2 1.2 2-2.7 2-2.2 2 1.3 2 3.3 2 4.3 2 2 2-1 2 0 2 1.1 2-1 2-6.6 2-8.1 2-.4 2 5.4 2 3.7 2-.2 2-4 2-3.2 2 .8 2 5.1 2 4.5 2-2.1 2-3.2 2-1.5 2-.2 2-1.1 2-1.1 2 .2 2 1.2 2-1 2-4.4 2-2.8 2 1.5 2 2.1 2 2.5 2 4.2 2 4.8 2 2.8 2 .4 2-.3 2-1.7 2-2.5 2-2 2 .5 2-.3 2-2.1 2-1.2 2 .3 2-1.2 2-3.5 2-3.5 2 1.7 2 4.9 2 5 2 2.5 2-1.3 2-1.3 2-2.5 2-.4 2 3.6 2 4.5 2 1.2 2-1.9 2-4 2-3.4 2 .1 2 2.7 2-1.4 2-3.5 2-3.7 2-3.1 2-1 2 3.4 2 2.9 2-.1 2-2.2 2-.9 2 1.7 2 4 2 5.8 2 4.1 2-2.6 2-5.3 2-3.7 2-1.1 2 .2 2-1.9 2-.9 2 3.2 2 2.4 2-2.8 2-4.9 2-1.4 2 4.2 2 5.7 2 3.2 2-.8 2-2.5 2-.9 2 1.1 2 4.6 2 4.4 2 0 2-3.4 2-5.7 2-4.5 2 1 2 3.2 2 1.1 2 .5 2-.2 2-1.5 2-1.4 2-.7 2 .6 2 1.8 2 1.7 2-.2 2-2 2-1.6 2 1.7 2 2 2 1.2 2 1.3 2-.5 2-.8 2-.8 2-2.2 2-2.8 2 .1 2 2.7 2 .6 2-.6 2-1.5 2-2.2 2 .7 2 3.3 2 1.1 2-1 2-1.9 2-3.7 2-1.7 2 .5 2 3.6 2 .8 2-.8 2 1.4 2 3 2 2.8 2 1 2-1.3 2-1.5 2-.3 2-.8 2-1.6 2 .3 2 3.6 2 3.1 2-.7 2-5.9 2-8.2 2-2.6 2 4.3 2 4.9 2 2.1 2-.5 2-.1 2 .1 2-1.1 2-1.6 2-3.9 2-3.4 2 2.9 2 5.7 2 1.4 2-1.8 2-1.5 2-.2 2 1.9 2 2.7 2 1.3 2-1.1 2-2.9 2-2.3 2 .3 2 1.3 2-.3 2-1.6 2 .5 2 3.1 2 3.2 2 0 2-1.9 2-2.4 2-.5 2 1 2 1.3 2-.4 2-2.3 2-2.3 2 .3 2 2.7 2 1.2 2-.3 2-.3 2-.9 2-.9 2 .4 2 .7 2-.2 2-.2 2 .8 2 1.9 2 2.1 2 1.9 2 .6 2-1.7 2-2.1 2-1.1 2 1.1 2 1.6 2 .2 2-.8 2-.6 2 .1 2 1.6 2 1.7 2 .7 2-.7 2-1.3 2-2 2-3 2-1.6 2-1.3 2-2.7 2-1.6 2 .8 2 3.5 2 2.8 2 1.7 2 2 2 2.9 2 1.7 2-.2 2-1.7 2-2.4 2-2.1 2 .1 2 1.4 2 1 2-.5 2 0 2 2.3 2 2.1 2-1.6 2-4 2-2.1 2 .7 2 1.5 2 .4 2-.5 2-1.6 2-1 2 .4 2 .5 2-.3 2-.4 2-.3 2 1.7 2 3.9 2 2 2-.3 2-2.3 2-3.2 2-1.6 2 .1 2 1.6 2 1.8 2 1.1 2-.3 2-.5 2-.1 2-.2 2 .1 2-.3 2 .5 2 .9 2 .8 2-.8 2-1.1 2 .4 2 1.5 2 .7 2-.6 2-.5 2 .5 2-.1 2-2 2-1.7 2-.4 2-.5 2-.4 2 .5 2 1.5 2 1.1 2-.7 2-.5 2 .6 2 2.8 2 .7 2-2 2-2.6 2-2.1 2-1 2 1.1 2 3.1 2 2.7 2 .9 2-1 2-.6 2-.1 2-1 2-1.1 2 .4 2 .7 2 0 2 .4 2 1.4 2 2.1 2 .4 2-2.4 2-1.3 2 .6 2 .6 2-1.3 2-3 2-.9 2 2.6 2 3.5 2 2.5 2-.1 2-2.1 2-.5 2 1.2 2 .6 2-1 2-1.8 2-1.1 2-.6 2-.8 2-.3 2 1.1 2 1.3 2 .8 2 .2 2-.3 2-.4 2-1 2-1.8 2-2.1 2-1.1 2 1.3 2 3.1 2 2.6 2 2 2 1.3 2 .4 2-.7 2-.1 2-.2 2-1.2 2-1.2 2-.2 2-.5 2-.2 2 1 2 1.8 2 1.1 2-.2 2 .4 2 1.1 2 .4 2 .4 2 0 2-1.1 2-1.8 2-2.3 2-1.2 2-.4 2 1.1 2 1.3 2 1 2 .1 2 .2 2 .2 2-.3 2-1 2-1.1 2-.3 2 .5 2 .7 2-.4 2-.1 2 .7 L2373.8,182.2 V310 H1307.5Z" fill="#ff1000" stroke="#000" stroke-width="1.3" stroke-linejoin="round"/>
<path d="M1307.5,206 L1313.5,206l2 .9 2-2.9 2-3.9 2-3.9 2-.2 2-.2 2-.2 2 2.3 2 1.9 2 .8 2-.3 2 1.3 2 3.1 2 2.5 2-.5 2-4.7 2-3.6 2-3 2-3.3 2-.2 2 1.2 2 1 2 1.6 2 2.6 2-.1 2-2.3 2-.3 2 1.6 2 1.6 2 3.2 2 1.8 2-1 2-3.2 2-1.4 2 1.1 2-.3 2 1.2 2 2.1 2 .7 2-.5 2-4.1 2-2 2-.4 2-.4 2 1 2 5.6 2 5.7 2-4.4 2-7.2 2-1.6 2 2.8 2 4.8 2 3.7 2-2.7 2-2.9 2-3.5 2-5.1 2-2.2 2 1.4 2 2.7 2 1.8 2 4.3 2 4.8 2 2.7 2 .9 2-3 2-3.6 2-1.3 2 2.1 2-.6 2-3.5 2 .8 2 2.1 2-.4 2-1.5 2-1.2 2-.3 2 1.6 2 3.5 2 2.7 2-.6 2-2.1 2-3.2 2-3.9 2-1.9 2 4.5 2 3.1 2 1.3 2 3 2 4 2 3.8 2 2.6 2-.1 2-2.2 2-3.9 2-6.1 2-6.5 2-3.6 2 2.1 2 3.4 2 3.9 2 3.1 2 1.1 2-2 2-2 2-.9 2-.4 2-2.2 2-1.8 2-.5 2-.3 2 1.6 2 0 2-1.3 2 3.1 2 7.2 2 2.4 2-4 2-3.4 2-2.2 2-4.5 2-5.9 2 5.1 2 6.8 2-4.6 2-4.7 2 3 2 4.7 2 3.3 2-.1 2-3.6 2-1.6 2 .3 2 .2 2-3 2-5.9 2-.9 2 2.6 2 2.6 2 1.6 2-2.8 2-1.3 2-.4 2 2 2 4.9 2-3.4 2-4.1 2-2.2 2 .3 2 .5 2 .3 2 .5 2 2.7 2 1.8 2-1.3 2-3.5 2-3.2 2-.6 2 4.5 2 5.5 2 1.9 2 2.5 2 3.3 2 3.3 2 3.7 2 .9 2-4.8 2-1.9 2-1.3 2-5.3 2-6.1 2-.6 2 2.6 2-1.2 2-5 2 4.4 2 11.4 2 11.2 2 2.8 2-11.3 2-9.9 2-7.6 2-3.7 2 0 2 2.1 2 2.2 2 4.7 2 4 2 1.9 2 1.7 2 5.5 2 2.3 2 2.3 2-2.9 2-7.5 2-5.9 2 4.2 2 4 2 0 2-4.2 2-4.7 2-3.1 2 1.5 2 5.6 2 4.9 2-4.1 2-8.4 2-6.4 2-3.1 2 1.9 2 3.2 2 3.4 2 2.1 2-.1 2-1.6 2-1.2 2 1.3 2 3.5 2 1 2-1.2 2-1.9 2 2.1 2 6.4 2 .5 2 1.2 2 3.3 2-2.3 2-5.3 2-4.8 2-4.2 2-.5 2 2 2 2 2 4.6 2 6 2 .2 2-4.9 2-2.4 2 .3 2 .4 2 2.5 2 1.6 2 .9 2 2.3 2 2.4 2-5 2-6.1 2-.8 2-2.5 2-1.6 2 .7 2 3.2 2 5.5 2 6 2 1.3 2-6.9 2-8.2 2-7 2-6.6 2-3.3 2 3.8 2 9.2 2 10.3 2 4.4 2-4.1 2-2.3 2-6 2-2.3 2-3.6 2-3.4 2-1.9 2-.9 2 3.1 2 4.6 2 3.9 2 5.7 2 7.6 2 4.7 2-2.2 2-8.8 2-7.8 2-1.4 2 6.7 2 6.4 2-1.9 2-5.2 2-4.4 2-2 2 2.4 2 1.7 2 2.5 2 2.5 2-1.6 2-.1 2 .6 2-3 2-3 2-1.3 2-2.1 2 1.4 2 3.2 2 1.8 2 4.8 2 5.5 2 1.5 2-1.9 2-4.2 2-3.2 2-2 2-2.3 2 .6 2 3.9 2 3.4 2 .6 2 2.1 2 1.4 2-1.4 2-6.7 2-4.7 2-1.1 2 1.8 2-.3 2-2.5 2-.7 2 3.3 2 4.4 2 1.6 2 .7 2 1.1 2-.4 2-1.4 2-1 2-2.3 2-3.6 2-2 2 .1 2 2.6 2 2.8 2 .3 2 1.3 2 2.9 2 2.2 2-3.1 2-3.4 2-1.6 2-.4 2-.9 2-2.2 2-3.2 2-.5 2 2.5 2 3.2 2 1.2 2 1.1 2 1.7 2-.3 2 .7 2-1.4 2-2.6 2 1.6 2 .7 2-.1 2-1.3 2 .9 2 2.3 2 3.1 2 .9 2 .2 2 0 2-.6 2-1.9 2-.4 2 .2 2 2.1 2 2 2-.7 2-1 2 .4 2 .2 2-2.4 2-1.5 2-.3 2-.7 2 .1 2 .1 2-3.1 2-1.1 2 2.7 2 1.1 2-2 2 .2 2 2 2 2.9 2 2.2 2-3.2 2-3.1 2-2.2 2-1.4 2 1.8 2 1.9 2 1.1 2-.6 2 .3 2 .3 2 1.3 2 2.4 2-.6 2-1.3 2-3 2-1.5 2 1 2 1.9 2 .4 2 .5 2 1.1 2 .9 2-.2 2-1.1 2-.8 2 .3 2 1.1 2 1.4 2 1.2 2-.5 2-1.9 2 .2 2 2.8 2 3.6 2 .6 2-4.7 2-3.8 2-2.4 2 1.5 2 .7 2 .1 2 .7 2 .5 2-1.3 2-2 2 .7 2 2.7 2 2.3 2-1 2-1.3 2-1.2 2-.6 2 .3 2 .7 2 0 2 1.2 2 3.4 2 2.3 2 1.8 2 2.9 2 .8 2-.5 2-2.3 2-1.6 2-.6 2-2.6 2-.3 2 .9 2-1.5 2-2 2-.8 2 .7 2 2.3 2 2.4 2 1.3 2-.6 2-2.1 2-1.9 2-.8 2 .2 2 1.6 2 2.5 2 2 2 1.5 2 .2 2-1.3 2-1.6 2 0 2 .3 2-.5 2-.5 2 .5 2 1.1 2 .1 2 .1 2 .5 2 0 2-2.6 2-1.1 2-.3 2 .1 2 2 2 3.1 2-1.5 2-3.4 2-2 2 .4 2 1.6 2 1.9 2 3.8 2 3.5 2-.9 2-3.3 2-4.6 2-4.3 2-.9 2 .9 2 1.9 2-.6 2 .3 2 2.1 2 3.5 2 2.1 2 1.4 2-.3 2-1.9 2-2.5 2-2 2 0 2 2.2 2 2.5 2 .5 2 .9 2 .5 L2373.8,208.3 V310 H1307.5Z" fill="#dc0000" stroke="#000" stroke-width="1.3" stroke-linejoin="round"/>
<path d="M1307.5,219.6 L1313.5,219.6l2-2.4 2-1.6 2-2 2-4.5 2-.9 2 .6 2 1.7 2 6.3 2 6.3 2 1.4 2-3.8 2-3.2 2 1.3 2 5.1 2 2.6 2-4.7 2-3.9 2-1.8 2-1.3 2 1 2 .5 2-2.3 2-4.8 2-3 2 1.1 2 4.4 2 5.4 2 2.6 2-2.4 2-2.9 2 .6 2 4.9 2 3.4 2-.5 2-1.4 2-2 2 1 2 2.2 2 1.2 2 .9 2-1.4 2 .9 2 .4 2-2.3 2-2.3 2 2.4 2 2.9 2-6.3 2-6.8 2 1 2 4.5 2 4.5 2 3.9 2-1.2 2-.7 2-1.5 2-4.9 2-3.6 2-.3 2 1.9 2 .6 2 2 2 4.2 2 5.2 2 3.4 2-2.5 2-4.2 2-2.9 2 2.3 2 1.4 2-3.7 2-1.9 2 .2 2 .2 2 .3 2-.9 2-1.9 2 1.6 2 6.3 2 3.4 2-4.2 2-5.3 2-3.6 2-4.2 2-3.9 2 4.4 2 7.3 2 7.5 2 6.9 2 2.9 2-1.1 2-3.5 2-4.2 2-1.7 2 .9 2 .1 2-2.3 2-4.2 2-2.8 2-3.6 2-2.3 2 .8 2 3.3 2 .6 2-2.3 2-3.3 2-2.5 2 .4 2 6.3 2 7.2 2 2.5 2 1.3 2 .5 2-1.2 2-.8 2 2.6 2 1.9 2-3.8 2-6 2-5.3 2-3.8 2-3.4 2 4.8 2 4.9 2-3.1 2-.4 2 5.4 2 4.8 2 4.6 2 3.3 2-4.2 2-9.1 2-7.1 2-1.1 2 .2 2-1.6 2 2.6 2 4.8 2 3.3 2 3.3 2 1.8 2 5.4 2 5.8 2 4.4 2 .7 2-14.9 2-15.8 2-6.4 2 3.6 2 5.1 2 3.3 2-.9 2-5.8 2-7.7 2-1.7 2 4.4 2 2.9 2-.3 2 2.8 2 4.1 2-1 2-1 2 2.8 2 4.6 2 2.6 2-1.1 2-6.4 2-5.8 2-7.4 2-6.4 2 .5 2 6.6 2 7.6 2 3.1 2-3.7 2 2.6 2 8.1 2 8.7 2 2.9 2-8.4 2-5 2-2.1 2 1.9 2 2.7 2-.6 2-3.8 2 .7 2 4.4 2 3.6 2 2.2 2 4.5 2-1.1 2-2 2-4.3 2-5.9 2-6.7 2 .1 2 1.5 2 1.7 2 .5 2 3 2 4.4 2 2.1 2-1 2-1.9 2-3.9 2-1.4 2-.8 2-3 2-.2 2 .6 2 .5 2-.7 2-2.4 2-1.8 2 2.6 2 4.1 2 1.7 2-1.1 2 .7 2-1 2 .7 2 5.2 2-2.4 2-3.2 2 2.7 2 4.6 2 4.3 2-.7 2-6.3 2-5.1 2-5 2-6.3 2-1.1 2 3.8 2 3.4 2 2.8 2 4.6 2 4.6 2 2.4 2 .4 2-4.3 2-3.3 2 3.9 2 7.3 2-5.3 2-13.4 2-6.6 2-3 2 1.6 2 5.7 2 9.7 2 9.6 2 4.4 2-1.9 2-7.2 2-5.5 2-5.1 2-6.4 2-2.4 2 6.3 2 8 2 3.5 2-.2 2-2.8 2 .9 2-5.6 2-5.5 2-7.3 2-2.6 2 4.2 2 5.4 2 3.9 2 1 2 1 2 4.1 2 7.3 2 7.1 2 2.1 2-4.9 2-4 2 1.2 2 3.2 2-3.2 2-9.3 2-2.9 2 3.4 2 1.9 2 .9 2-1.3 2 .4 2 1.5 2-4.2 2-6.5 2-4 2-.8 2 3.7 2 6.7 2 2.7 2 .6 2 .1 2 1.4 2 6.3 2 4.9 2-.1 2-.8 2-1.3 2-1.3 2-2.4 2-5.4 2-4.1 2 .1 2 4.4 2 4.6 2 3.6 2 .2 2-3.5 2-10.1 2-6 2 .5 2 3.5 2-.4 2-3.7 2-1.4 2 2.4 2 3.9 2 2.7 2 1.4 2 .9 2 .3 2-2.2 2-4.7 2-3.8 2-.4 2 3.5 2 4.1 2 4.2 2 3.6 2 .5 2-1.1 2-.9 2 2.1 2 .3 2-.3 2-1.2 2-2.3 2-1.7 2 .5 2-.7 2-.9 2 .9 2 2.2 2 .4 2-.2 2 .7 2-2 2-1.3 2-1.9 2-2.4 2 1.7 2 .9 2 .8 2-.7 2 .6 2 2.4 2 3.4 2-1 2-4.2 2-4.2 2-1.5 2 1.1 2 2.9 2 .7 2 1.4 2 3.4 2 2.6 2 2.6 2 2.9 2 .5 2-4.2 2-3.9 2-2.2 2-1.1 2 .4 2 .3 2-4.5 2-5 2-.1 2 3.3 2 2.6 2 2.1 2 1.5 2 3.8 2 5.8 2-.8 2-3.3 2-2.8 2-2 2 .4 2-.1 2-.9 2-1.8 2 1.4 2 3 2 2 2-1 2-4.9 2-2.9 2-.7 2 2.3 2 3.8 2 3.2 2-.7 2-1.5 2 1.3 2 3.7 2 1.6 2-2.5 2-3.6 2-1.9 2-.6 2-.5 2 0 2 .5 2 1.3 2 3.5 2 4.1 2 2.8 2 1 2-2.5 2-2.6 2-4 2-1.2 2-.7 2-.3 2 0 2-.9 2-2 2-.8 2 2 2 1.5 2 1.1 2 1.3 2 2.7 2 1.2 2-1.1 2-1.4 2 .8 2 .9 2 1.1 2 2.4 2 .6 2 .3 2 2 2-1.2 2-3.6 2-3.9 2-.3 2 1.6 2-1.8 2-1.5 2-1.1 2-2 2 .6 2 2.9 2 .9 2-1.6 2-1.2 2 1.7 2 2 2-.4 2-1.2 2-.5 2-.5 2 0 2 .4 2-.2 2 0 2 .6 2-.3 2-.6 2 .7 2 .5 2-.7 2-.6 2 .1 2 2.2 2 3.5 2 4.3 2 3.5 2 .9 2-3.8 2-4.2 2-4.5 2-3.3 2 .1 2 3.3 2 1.1 2 0 2 .2 2 1.8 2 1.9 2 .9 2 2.4 2 2.4 2-1.9 2-5 2-6.3 2-2.9 2 3.2 2 2.5 2 .2 2-.8 2 3.3 2 3.2 2 .6 2-1.4 2 .6 2 1.2 2-.3 2-2.8 2-4.4 2-3.3 2-.7 2 .6 2-.2 2 1.5 2 1.6 L2373.8,222.6 V310 H1307.5Z" fill="#b00000" stroke="#000" stroke-width="1.3" stroke-linejoin="round"/>
<path d="M1307.5,241.2 L1313.5,241.2l2 1.1 2 .5 2-.6 2-3.8 2-1.5 2-1.1 2-.7 2 2.7 2 3.9 2 3.2 2 .7 2 1.1 2 3 2 4.1 2 2.5 2-3 2-3 2-3.3 2-4.5 2-2.1 2-.9 2-.7 2-.5 2 .6 2 1.5 2 2.4 2 2.3 2-.2 2-2.3 2-.4 2 .7 2 .9 2-.9 2-1.6 2-.4 2-2.1 2-.2 2 1 2-.5 2 0 2-1.9 2 .6 2 1.7 2 2.6 2 4.1 2 6.1 2 2.1 2-8.9 2-7.2 2 1.6 2 2.6 2 .8 2 1.4 2-.5 2 2.3 2-.2 2-7.4 2-8.6 2-2 2 5.4 2 6.5 2 5.5 2 2.9 2 2 2 1.7 2-2.9 2-4.5 2-4.2 2-.3 2-.3 2-1.9 2 .8 2-.2 2-2.6 2-.7 2 1.6 2 1.5 2 2.1 2 3.4 2 .3 2-2.8 2 .7 2 1.5 2-3.6 2-7.5 2-1.1 2 3 2 5.3 2 5.2 2 1.6 2 .5 2 1.2 2-1.1 2-1.6 2 1 2 1.3 2-.1 2-.8 2 1.1 2 .2 2 1.4 2 2.3 2-.4 2-4.8 2-3.3 2-1.6 2-1.4 2 0 2 3.1 2 .2 2-3.5 2-.6 2-.3 2-1.2 2 2.1 2 7.7 2 6.8 2-.2 2-4.3 2-5.2 2-4 2-2 2 7.2 2 4.7 2-7 2-4.6 2 5.3 2 7.2 2 4.4 2 .7 2-3.7 2-5.2 2-8.3 2-9.4 2-8.1 2-4.5 2 6.3 2 11.5 2 8.9 2 6.5 2 .6 2-1.5 2-4.2 2-2.1 2 3.7 2-4.1 2-5 2-4.4 2-4.5 2-6.9 2-2.2 2 6 2 6.9 2 .8 2-.6 2 3.1 2 3.5 2-.5 2-.5 2 3.3 2 6.5 2 7.7 2 1.3 2-2.3 2 1.4 2 2.5 2-3.3 2-2.5 2-5.2 2-10.2 2-8.6 2-1.6 2 2.7 2 2.2 2-1.4 2 6.4 2 12.3 2 11.9 2 2.1 2-13 2-9.5 2-4.3 2 1.1 2 1.2 2-1.8 2-2.9 2-.6 2-1.9 2-.4 2 4.5 2 8.5 2 1.1 2 1.1 2 1.2 2 1 2-2.8 2-1.7 2-3.7 2-2.9 2-2.2 2 1.7 2 1.2 2-1.7 2-.1 2 4.2 2 1.4 2-2 2-5 2-4.2 2 1.2 2-.1 2-2.2 2-.2 2 0 2-1.7 2 1.7 2 5.1 2 2.6 2-3.1 2-2.2 2-1.4 2 2.6 2 8.7 2 1.8 2-.7 2-.3 2-4.2 2-1.6 2 3.3 2-1.1 2-6.3 2-4.9 2-1 2 4.1 2 6.3 2 1.9 2-3.4 2-3 2-1.3 2 2.5 2 8.5 2 6.4 2 1.6 2 1 2 2.3 2-7.4 2-12.3 2-4.6 2-1 2 .7 2-1.7 2-.3 2 6.1 2 10.1 2 5 2-5.3 2-5.1 2-.2 2 2.5 2 2.7 2 3.1 2 .6 2-2.2 2 .5 2 3.8 2 6.8 2-5 2-5.7 2-7.8 2-5.8 2-1.9 2-.3 2 .7 2-.6 2 1.4 2 6.6 2 8.7 2 5.9 2 .5 2-6.8 2-6.2 2 2.3 2 6.5 2-3.1 2-15.1 2-13 2-3.5 2 7.1 2 16.4 2 11.6 2 2.5 2-2.5 2-4.8 2-1.8 2-1.8 2-5.1 2-1.1 2 3.1 2-4 2-6.9 2-3.4 2 2.6 2 11.4 2 12.4 2 5.6 2-2.9 2-10.3 2-9.2 2-2.6 2 2.1 2 5.8 2 6.2 2 3.3 2-1.5 2 .7 2 3.1 2 2.1 2-4.9 2-4.9 2-4.3 2-2.9 2-2.8 2-3.1 2-1.1 2 3.8 2 6 2 1.5 2-2.3 2-2.5 2-1.7 2-.2 2-.5 2-1.7 2-.2 2 2.6 2 2.5 2 3.8 2 4.3 2 1.4 2 1.7 2 2.8 2 1.6 2-4.9 2-4.3 2-1.1 2 .3 2-1.2 2-2.7 2-3.2 2-.4 2 1.8 2 2.9 2 1.4 2 .8 2 1 2-1.3 2 .2 2-.5 2-.9 2 3.4 2 2.2 2 1.7 2-1 2-1.1 2-.4 2 1.1 2-1 2-2.3 2-2.5 2-.6 2 1.4 2 3.3 2 .9 2-.1 2 .1 2 .7 2 2.4 2 2.4 2-.8 2-4.2 2-2.4 2-1.2 2-1.6 2 .9 2 2.9 2-1.6 2-2.9 2 .1 2 1.2 2 1.3 2 3.1 2 2.5 2 2.5 2 3.1 2-2.4 2-4.3 2-4.7 2-3.6 2 1.4 2 2.3 2 0 2-3.3 2-.3 2 2.4 2 3 2 1 2-3.2 2-2.6 2-2.6 2-.2 2 2.3 2 3.3 2 1.4 2 1.3 2 1.7 2 .8 2-.2 2 .1 2-.3 2 .3 2 1.1 2 1.1 2 0 2-1.8 2-1.6 2 2.4 2 4.5 2 3.8 2 1.1 2-3.8 2-4 2-5.5 2-2.6 2-1.6 2 .1 2 1.8 2 2.4 2 1.5 2 .4 2 0 2-.7 2 .4 2 .3 2 .1 2-1.7 2-1.1 2 1.5 2 2.6 2-.2 2-1.4 2 1.9 2 3 2 2.5 2 1.2 2-3 2-4 2-2.9 2 2.1 2 3.8 2-1.6 2-2.4 2 .3 2 1.1 2 1 2-.6 2-2.5 2-2 2-.3 2 .9 2 .8 2 .4 2 .8 2 .3 2-1.3 2-1.4 2-.1 2 .2 2 .4 2 .7 2 1 2 1.2 2 1.2 2-1.5 2-2.8 2-.5 2 1.5 2 1.9 2 1.2 2 1.9 2 2.3 2 1.8 2-1.4 2-.6 2-1 2-1 2 0 2 .6 2-2.8 2-2.3 2-.7 2 .4 2 1.1 2 2.2 2 3.6 2 1.8 2-3.5 2-5.6 2-5.1 2-2 2 3 2 3.3 2 2.6 2 0 2 1.6 2 1.7 2 1.5 2 1.1 2 2.8 2 1.6 2-1.2 2-2.5 2-2.2 2-1.8 2-1.1 2-.3 2-.9 2 .9 2 1.4 L2373.8,249.2 V310 H1307.5Z" fill="#a00000" stroke="#000" stroke-width="1.3" stroke-linejoin="round"/>
<path d="M1307.5,276.3 L1313.5,276.3l2-.6 2 1.4 2 .8 2-5.6 2-6.2 2-4 2-.4 2 3.7 2 4.5 2 4.1 2 1.9 2 1.4 2 2.2 2 3 2 .9 2-5.7 2-4.1 2-1.8 2-2.8 2-.6 2 1.9 2 1.3 2 0 2 2.5 2 3.4 2 .6 2-2.1 2-3.2 2-3.9 2-2 2 0 2 2.5 2 2.3 2 2.1 2 3 2 .2 2 .7 2 1.1 2-.5 2-1.2 2-3.5 2-.6 2-.8 2-2 2-.8 2 4.7 2 5.1 2-5.1 2-5.1 2 3.3 2 5.7 2 3.5 2 1.1 2-4.2 2-1.5 2-1.2 2-3.7 2-2 2 .3 2 .5 2-.5 2 3.2 2 5.9 2 4.3 2 .8 2-4 2-3 2-.7 2 2.7 2-.8 2-7.3 2-4.4 2-.7 2-1.3 2-1.6 2 .1 2 2.1 2 3.9 2 5.9 2 3.6 2-2.5 2-4.6 2-4 2-1.8 2 1.2 2 7.7 2 5 2 .8 2-.5 2 0 2 3.5 2 4.2 2-.5 2-2.2 2-1 2-2.9 2-5.3 2-4 2 1.2 2 1.7 2 1.8 2 2.8 2 2.6 2-.9 2 1.2 2 3.8 2 .3 2-4.6 2-4.2 2-4.6 2-4.4 2 4 2 7.4 2 5.8 2 5.5 2 4.6 2-1.1 2-5.7 2-5.4 2-6.3 2-8 2-5.3 2 10 2 9.4 2-8 2-7.7 2 4.7 2 10 2 7.7 2-3 2-11.9 2-7.6 2-.7 2 1.2 2-3.9 2-8.3 2 1 2 9.6 2 9.2 2 7.1 2 1.5 2 1.3 2-.4 2 .9 2 2.9 2-9.5 2-11 2-6.8 2 2 2 6.3 2 4.7 2-.4 2-4.4 2-8 2-5.8 2 2.6 2 6.4 2 .4 2-2.7 2-1.8 2-1.3 2 4 2 9.7 2 11 2 6.9 2 .7 2-3.6 2 1.8 2-1.1 2-10 2-11.1 2-3.8 2 .8 2-1.8 2-5.2 2 5.2 2 10.9 2 10.2 2 1.8 2-14.4 2-10.2 2-2.8 2 2.8 2 2 2 .5 2-.3 2 2.5 2 3.6 2 2.8 2 .1 2 .3 2-5.2 2-.5 2 1.9 2 .3 2-4 2 .4 2 1.2 2 2.7 2 1.2 2-.5 2-3.4 2-1.2 2 6.2 2 8.4 2-1.4 2-5.5 2-4.1 2-1.7 2 1.9 2-2.9 2-6.1 2-2.4 2 1.6 2 .7 2 0 2 0 2 .6 2 .6 2 1.4 2-1.4 2 1.9 2 9.6 2 2.6 2-1 2-1.3 2-4.7 2-.9 2 3.2 2-.8 2-4.8 2-6.7 2-5 2 3 2 7.3 2 4.3 2 3 2 6.9 2 9 2 5.1 2-.8 2-7.7 2-6.2 2 2.4 2 5.9 2-7.4 2-13.4 2-4.3 2 1.5 2 7 2 5.6 2 2.1 2 3.8 2 8.1 2 5 2-6.7 2-11.3 2-8.4 2-2 2 2.9 2 5.6 2 3.5 2 .9 2 .6 2-.6 2 3.8 2-6.5 2-7.4 2-6 2 2.3 2 6.6 2 2.5 2-3 2-8.3 2-5.9 2 4.1 2 10.9 2 8.9 2 2 2-5.2 2-4.5 2-1.6 2 .5 2-1.6 2-4.4 2 1.5 2 3.6 2-1.2 2 1.5 2 6.3 2 9.4 2 3.7 2-9.7 2-13.1 2-6.7 2 0 2 3.5 2 1.1 2-6 2-2.9 2 1.9 2 .3 2 .9 2 1.6 2 2.2 2 2.3 2-1.7 2-1.7 2 .6 2-1.2 2-1.5 2 .3 2 2.2 2 1.6 2 3.7 2 2.5 2-.5 2-8.6 2-7.8 2-3.8 2 1.7 2 2.8 2 1.7 2 3.5 2 6 2 5.2 2 0 2-3.2 2-1.9 2 .5 2 .4 2-1.3 2-2.4 2-.6 2 2.8 2 4 2 4.6 2 3.7 2 .3 2 0 2 .8 2 1.8 2-1.3 2-1 2-.8 2-.9 2-2.3 2-5 2-7.7 2-4.7 2 1.3 2 6.1 2 5.2 2 3 2 .8 2-4.6 2-3.2 2-1 2 1.6 2 6.9 2 4.3 2 1.2 2-2.4 2-1.6 2-.1 2 .1 2-2.9 2-2 2 0 2-.1 2-1.7 2 .1 2 .7 2 1.1 2 1.2 2 1.2 2 2 2 1 2-2.2 2-5.2 2-1.4 2 1 2 0 2 .1 2 1.3 2-1.4 2-1.6 2 .7 2 1.3 2 .3 2 1.3 2 .8 2 1.3 2 2.9 2-1.1 2-1.7 2-2.3 2-2.9 2 1.3 2 2.8 2 1.2 2-3 2-1 2 1.8 2 3.2 2 1.9 2-2.1 2-2.1 2-2 2 .9 2 1.5 2-.3 2-2.9 2-.5 2 2.7 2 3.8 2 1.8 2-.6 2-3 2-3.8 2-3.4 2-2.5 2-1.1 2 0 2 1.9 2 5.3 2 5.8 2 4 2 1.8 2-1.6 2-2.1 2-4.3 2-1.2 2-.5 2-.5 2-1.1 2-1.4 2-.7 2 .7 2 2.3 2 1.6 2 1.1 2-.9 2-.3 2-.4 2-1.2 2-.7 2 .8 2-.2 2-.3 2 1.7 2 1.3 2 1.9 2 3.3 2-.1 2-2.2 2-2.3 2 1.1 2 1.6 2-2.9 2-.8 2 1.2 2 .2 2 2.2 2 2.8 2-.7 2-2.4 2-2.5 2-2.2 2-.9 2-.1 2 .2 2-.6 2-1.1 2 .7 2 2.8 2 1.9 2 .9 2 .9 2 .1 2-1.1 2-.4 2-.1 2-.6 2-.5 2 1.4 2 3.3 2 .4 2-1.7 2-1 2 .3 2-1.7 2 .1 2 .3 2-.4 2-.3 2 1 2-1.3 2-1.1 2 .6 2 2.3 2 1.7 2 .2 2 .9 2 .2 2-3.8 2-3.5 2-2.2 2-1.2 2 1.9 2 2.5 2 2.1 2-1.2 2-.4 2 1.1 2 2.6 2 1.8 2 2.9 2 1.7 2-2.5 2-5.8 2-5 2-1.2 2 1.7 2 2.7 2 .6 2 .2 2 0 L2373.8,272.5 V310 H1307.5Z" fill="#800000" stroke="#000" stroke-width="1.3" stroke-linejoin="round"/>
</g>
<path d="M1412.6,24.9h2v6.5h-2zM1326.1,25.2h2v7.9h-2zM1367.9,18.5h2v7.8h-2zM1399.5,19.6h2v6.4h-2zM1439.1,19.7h2v7.3h-2zM1402.4,19.9h2v3.9h-2zM1434.3,21.4h2v5.2h-2zM1397,22.7h2v3h-2zM1347.5,23.1h2v6.8h-2zM1390.8,22.6h2v4h-2zM1413.1,19.4h2v6.6h-2zM1377.2,24.2h2v4.9h-2zM1340.4,19.2h2v6.2h-2zM1349.5,17.2h2v4h-2zM1430.2,26.3h2v5.9h-2zM1365.2,27.6h2v4.3h-2zM1394.1,17.2h2v6.2h-2zM1436.6,26.2h2v3.4h-2zM1388.9,21.1h2v7.6h-2zM1317.3,17.2h2v3.5h-2zM1357.4,28.5h2v5.8h-2zM1397.8,17.6h2v3.9h-2zM1362.6,25.2h2v6.8h-2zM1386.8,20.6h2v3.9h-2zM1367.7,20.3h2v6.8h-2zM1426.6,27.5h2v3.6h-2zM1413.4,17.2h2v3.7h-2zM1402.6,21.2h2v7.1h-2zM1401.1,25.3h2v6h-2zM1429.1,27.8h2v3.1h-2zM1438.1,22.6h2v4.5h-2zM1423.7,28.9h2v6.9h-2zM1405,17.1h2v4.4h-2zM1416.5,30h2v4.4h-2zM1410.1,18.5h2v6.7h-2zM1359.6,18h2v3.9h-2zM1386,23.1h2v6.4h-2zM1358.5,24.8h2v4.9h-2zM1411,17.1h2v5.9h-2zM1388.4,17.8h2v6.8h-2zM1922.2,29.4h2v3.9h-2zM1763,28.2h2v7.7h-2zM1960.8,21.6h2v6.7h-2zM1785.3,23.9h2v6.4h-2zM2146.8,17.1h2v6.5h-2zM2135.1,21.9h2v4.2h-2zM1873,17.4h2v7h-2zM1811,25.6h2v6.9h-2zM1454.9,19.5h2v5.1h-2zM1903.5,21.8h2v4.4h-2zM1459.2,22.6h2v7.7h-2zM1462.8,24.8h2v4h-2zM2178.5,27.5h2v4.1h-2zM2178.1,21h2v6.5h-2zM1638.9,20.8h2v3.3h-2zM1663.4,22.3h2v3.1h-2zM1448.9,17.1h2v7.4h-2zM1755.3,28.9h2v5.4h-2zM1864.9,21.8h2v6.9h-2zM1700.8,27.5h2v5h-2zM1536.6,22.4h2v3.1h-2zM1734.4,22h2v6.5h-2zM2199.1,19h2v6h-2zM2076.3,25.9h2v4.2h-2zM1759,29.1h2v5.6h-2zM1953.8,21h2v7h-2zM1867.3,27.2h2v4.4h-2zM1616.5,19.3h2v6h-2zM1500.1,21.5h2v6.3h-2zM1651.1,20.4h2v4.2h-2zM1799.7,26.8h2v4.3h-2zM1844.5,29.9h2v5.5h-2zM1645,27.9h2v7.5h-2zM2007.3,21.2h2v5.5h-2zM1684.3,29h2v3.1h-2zM2104.4,20.4h2v3.7h-2zM2078.1,27.3h2v3.2h-2zM1664.1,18.2h2v6.7h-2zM2127,20.8h2v4.8h-2zM1465.1,18.3h2v3.3h-2zM1990.4,19.7h2v5.3h-2zM1645.6,23.8h2v5.8h-2zM1703.6,20.4h2v7.5h-2zM2150.8,23.1h2v5h-2zM1833.8,24h2v7.8h-2zM1769.5,21.5h2v7.7h-2zM1933,18.7h2v5.7h-2zM2062.1,24.3h2v4.3h-2zM1715.8,26.5h2v5.8h-2zM1452.2,21.2h2v6.7h-2zM1486.7,22.2h2v5.8h-2zM1670,25.9h2v3.3h-2zM2150.6,26.8h2v7.4h-2zM1836.8,23.1h2v4.5h-2zM1516.4,23.7h2v4.5h-2zM2097,19.1h2v3.2h-2zM2039.3,29.7h2v5.2h-2zM2101.9,26.3h2v6.9h-2zM1888,23.6h2v6.1h-2zM2045.6,29.4h2v7.5h-2zM1997.2,29.1h2v3.1h-2zM1448.1,20.3h2v3h-2zM1865.5,19.6h2v7.4h-2zM1513,27h2v3.3h-2zM2153.4,21.7h2v4.4h-2zM1684,26.2h2v7.3h-2zM1948.8,18.8h2v4.9h-2zM1810.1,20.5h2v7.7h-2zM1977.4,26.1h2v4.2h-2zM1843.5,20h2v4.6h-2z" fill="#fff" stroke="#000" stroke-width="0.6"/>
<path d="M2006,21h2v2h-2zM1530,42h2v2h-2zM1361,20h2v2h-2zM1635,26h2v2h-2zM1589,34h2v2h-2zM1751,34h2v2h-2zM2034,38h2v2h-2zM2004,22h2v2h-2zM1402,41h2v2h-2zM1397,21h2v2h-2zM1422,42h2v2h-2zM1612,27h2v2h-2zM1395,24h2v2h-2zM1550,27h2v2h-2zM1942,34h2v2h-2zM1912,17h2v2h-2zM1689,27h2v2h-2zM1595,35h2v2h-2zM1787,19h2v2h-2zM1885,35h2v2h-2zM1608,31h2v2h-2zM1826,29h2v2h-2zM1348,34h2v2h-2zM1343,24h2v2h-2zM1643,23h2v2h-2zM1693,36h2v2h-2zM1746,31h2v2h-2zM1532,27h2v2h-2zM1827,28h2v2h-2zM1897,43h2v2h-2zM1700,25h2v2h-2zM1967,25h2v2h-2zM1580,21h2v2h-2zM1422,17h2v2h-2zM1444,28h2v2h-2zM2057,18h2v2h-2zM1806,23h2v2h-2zM2167,19h2v2h-2zM2011,20h2v2h-2zM1782,45h2v2h-2zM1365,34h2v2h-2zM2171,25h2v2h-2zM1360,27h2v2h-2zM1806,22h2v2h-2zM1742,26h2v2h-2zM1626,26h2v2h-2zM1878,19h2v2h-2zM1492,29h2v2h-2zM1887,32h2v2h-2zM2197,34h2v2h-2zM1585,35h2v2h-2zM1445,30h2v2h-2zM1549,19h2v2h-2zM1594,35h2v2h-2zM1658,26h2v2h-2zM1808,16h2v2h-2zM1504,23h2v2h-2zM1857,21h2v2h-2zM1757,23h2v2h-2zM2147,20h2v2h-2zM1812,23h2v2h-2zM2169,28h2v2h-2zM1624,29h2v2h-2zM2021,30h2v2h-2zM2108,17h2v2h-2zM1741,20h2v2h-2zM1781,36h2v2h-2zM1928,34h2v2h-2zM2103,24h2v2h-2zM1978,25h2v2h-2zM1817,42h2v2h-2zM1856,23h2v2h-2zM1350,26h2v2h-2zM1593,27h2v2h-2zM1420,27h2v2h-2zM1847,17h2v2h-2zM1959,31h2v2h-2zM2074,23h2v2h-2zM1516,20h2v2h-2zM1431,23h2v2h-2zM1548,16h2v2h-2zM1603,21h2v2h-2zM2056,24h2v2h-2zM2012,35h2v2h-2zM2042,22h2v2h-2zM1557,21h2v2h-2zM2165,18h2v2h-2zM2196,42h2v2h-2zM1926,25h2v2h-2zM1770,32h2v2h-2zM2012,24h2v2h-2zM1999,24h2v2h-2zM1895,23h2v2h-2zM1985,42h2v2h-2zM1507,26h2v2h-2zM1599,36h2v2h-2zM1751,29h2v2h-2zM2016,19h2v2h-2zM2048,34h2v2h-2zM1770,26h2v2h-2zM2091,27h2v2h-2zM2009,33h2v2h-2zM1657,26h2v2h-2zM1945,23h2v2h-2zM1956,25h2v2h-2zM2102,38h2v2h-2zM1993,29h2v2h-2zM1661,16h2v2h-2zM1412,32h2v2h-2zM1960,18h2v2h-2zM1733,41h2v2h-2zM2198,27h2v2h-2zM1706,29h2v2h-2zM1956,30h2v2h-2zM1860,26h2v2h-2zM1850,29h2v2h-2zM2031,22h2v2h-2zM2003,23h2v2h-2zM1435,32h2v2h-2zM2022,18h2v2h-2zM1625,32h2v2h-2zM1585,16h2v2h-2zM1753,29h2v2h-2zM2186,30h2v2h-2zM1577,34h2v2h-2zM1946,17h2v2h-2zM1340,19h2v2h-2zM1654,32h2v2h-2zM1361,21h2v2h-2zM1717,33h2v2h-2zM2035,34h2v2h-2zM1321,34h2v2h-2zM1323,17h2v2h-2zM1565,28h2v2h-2zM1773,35h2v2h-2zM1645,34h2v2h-2zM2020,35h2v2h-2zM2000,30h2v2h-2zM1521,20h2v2h-2zM1948,31h2v2h-2zM1730,28h2v2h-2zM1575,23h2v2h-2zM1888,22h2v2h-2zM2022,25h2v2h-2zM1491,26h2v2h-2zM2084,18h2v2h-2zM1548,22h2v2h-2zM1812,25h2v2h-2zM2069,26h2v2h-2zM2032,40h2v2h-2zM2041,25h2v2h-2zM1710,40h2v2h-2zM1702,35h2v2h-2zM2002,30h2v2h-2zM1385,30h2v2h-2zM1403,27h2v2h-2zM1867,20h2v2h-2zM1846,19h2v2h-2zM1441,16h2v2h-2zM1760,35h2v2h-2zM2112,32h2v2h-2zM1315,44h2v2h-2zM1670,29h2v2h-2zM1833,25h2v2h-2zM1864,40h2v2h-2zM1739,36h2v2h-2zM2109,20h2v2h-2zM1334,27h2v2h-2zM2070,32h2v2h-2zM2142,29h2v2h-2zM1482,30h2v2h-2zM1403,23h2v2h-2zM1852,28h2v2h-2zM1325,29h2v2h-2zM2045,28h2v2h-2zM1865,20h2v2h-2zM1998,19h2v2h-2zM2096,22h2v2h-2zM2155,21h2v2h-2zM1938,44h2v2h-2zM2160,35h2v2h-2zM1729,31h2v2h-2zM1733,38h2v2h-2zM1852,33h2v2h-2zM1388,18h2v2h-2zM1650,26h2v2h-2zM1459,31h2v2h-2zM1316,27h2v2h-2zM1546,35h2v2h-2zM1969,21h2v2h-2zM2113,18h2v2h-2zM1810,36h2v2h-2zM1371,35h2v2h-2zM1966,34h2v2h-2zM1544,28h2v2h-2zM1957,22h2v2h-2zM1639,29h2v2h-2zM1746,27h2v2h-2zM1896,33h2v2h-2zM1629,31h2v2h-2zM1538,30h2v2h-2zM1843,36h2v2h-2zM2171,28h2v2h-2zM2081,31h2v2h-2zM1513,34h2v2h-2zM1583,30h2v2h-2zM1587,34h2v2h-2zM1324,24h2v2h-2zM1794,38h2v2h-2zM1334,31h2v2h-2zM2045,34h2v2h-2zM1614,23h2v2h-2zM2037,42h2v2h-2zM2174,17h2v2h-2zM1682,38h2v2h-2zM1457,28h2v2h-2zM1528,32h2v2h-2zM1485,30h2v2h-2zM1972,18h2v2h-2zM1496,27h2v2h-2zM2093,35h2v2h-2zM1998,17h2v2h-2zM2137,21h2v2h-2zM2022,30h2v2h-2zM1900,29h2v2h-2zM1901,23h2v2h-2zM1598,16h2v2h-2zM1862,36h2v2h-2zM2000,36h2v2h-2zM1597,44h2v2h-2zM1605,32h2v2h-2zM1976,31h2v2h-2zM1831,17h2v2h-2zM2047,23h2v2h-2zM1684,38h2v2h-2zM1848,35h2v2h-2zM1332,19h2v2h-2zM1345,18h2v2h-2zM1736,33h2v2h-2zM1674,26h2v2h-2zM1454,21h2v2h-2zM1797,16h2v2h-2zM2020,29h2v2h-2zM1646,29h2v2h-2zM2182,26h2v2h-2zM2141,36h2v2h-2zM1346,34h2v2h-2zM2151,22h2v2h-2zM2105,19h2v2h-2zM1393,20h2v2h-2zM1459,34h2v2h-2zM2057,18h2v2h-2zM1848,31h2v2h-2zM1918,18h2v2h-2zM1579,27h2v2h-2zM2143,31h2v2h-2zM1587,19h2v2h-2zM1888,32h2v2h-2zM2011,31h2v2h-2zM1471,19h2v2h-2zM2188,32h2v2h-2zM1636,20h2v2h-2zM1440,30h2v2h-2zM1700,25h2v2h-2zM1818,36h2v2h-2zM1476,25h2v2h-2zM1346,26h2v2h-2zM1732,17h2v2h-2zM2164,20h2v2h-2zM1649,18h2v2h-2zM1983,22h2v2h-2zM1957,34h2v2h-2zM1970,35h2v2h-2zM1411,23h2v2h-2zM2097,30h2v2h-2zM1600,33h2v2h-2zM2021,25h2v2h-2zM2121,29h2v2h-2zM1758,21h2v2h-2zM1602,22h2v2h-2zM2053,25h2v2h-2zM1636,35h2v2h-2zM2086,35h2v2h-2zM1841,25h2v2h-2zM1682,22h2v2h-2zM2186,27h2v2h-2zM1865,33h2v2h-2zM2023,17h2v2h-2zM1654,26h2v2h-2zM1582,19h2v2h-2zM1867,17h2v2h-2zM1393,36h2v2h-2zM1688,29h2v2h-2zM1334,36h2v2h-2zM1728,26h2v2h-2zM1848,33h2v2h-2zM1777,33h2v2h-2zM1376,30h2v2h-2zM2129,39h2v2h-2zM1581,19h2v2h-2zM1350,31h2v2h-2zM1837,32h2v2h-2zM1924,32h2v2h-2zM2050,29h2v2h-2zM2114,30h2v2h-2zM1984,18h2v2h-2zM2021,24h2v2h-2zM1666,36h2v2h-2zM1928,25h2v2h-2zM1429,22h2v2h-2zM1915,24h2v2h-2zM1650,31h2v2h-2zM1621,19h2v2h-2zM1651,17h2v2h-2zM1392,21h2v2h-2zM2066,29h2v2h-2zM1510,19h2v2h-2zM1391,23h2v2h-2zM1343,26h2v2h-2zM1709,29h2v2h-2zM1865,19h2v2h-2zM2189,46h2v2h-2zM1533,22h2v2h-2zM1912,27h2v2h-2zM1344,28h2v2h-2zM1706,35h2v2h-2zM1620,28h2v2h-2zM1487,23h2v2h-2zM1630,19h2v2h-2zM1501,29h2v2h-2zM1684,22h2v2h-2zM2107,24h2v2h-2zM1972,36h2v2h-2zM1417,32h2v2h-2zM2093,25h2v2h-2zM2115,16h2v2h-2zM1802,24h2v2h-2zM2006,31h2v2h-2zM1771,20h2v2h-2zM2013,27h2v2h-2zM1919,30h2v2h-2zM1750,39h2v2h-2zM1611,18h2v2h-2zM2102,25h2v2h-2zM1725,24h2v2h-2zM1445,35h2v2h-2zM1871,31h2v2h-2zM2155,32h2v2h-2zM1938,27h2v2h-2zM1867,37h2v2h-2zM1494,31h2v2h-2zM1753,41h2v2h-2zM1574,18h2v2h-2zM1472,34h2v2h-2zM2095,26h2v2h-2zM1528,27h2v2h-2zM1472,26h2v2h-2zM1549,18h2v2h-2zM1975,18h2v2h-2zM2171,24h2v2h-2zM1937,35h2v2h-2zM1676,21h2v2h-2zM2160,32h2v2h-2zM1381,23h2v2h-2zM2101,35h2v2h-2zM1823,29h2v2h-2zM2106,40h2v2h-2zM1569,37h2v2h-2zM1756,31h2v2h-2zM1721,38h2v2h-2zM1870,25h2v2h-2zM1523,31h2v2h-2zM1931,28h2v2h-2zM2106,19h2v2h-2zM2110,31h2v2h-2zM1586,30h2v2h-2zM2102,23h2v2h-2zM1715,18h2v2h-2zM1976,35h2v2h-2zM2137,39h2v2h-2zM1433,31h2v2h-2zM1410,17h2v2h-2zM1842,29h2v2h-2zM1497,16h2v2h-2zM1847,23h2v2h-2zM1441,30h2v2h-2zM1793,29h2v2h-2zM1739,25h2v2h-2zM1838,45h2v2h-2zM1777,38h2v2h-2zM1948,21h2v2h-2zM1838,35h2v2h-2zM1919,16h2v2h-2zM1443,16h2v2h-2zM1827,34h2v2h-2zM1887,34h2v2h-2zM1648,44h2v2h-2zM2035,26h2v2h-2zM1748,32h2v2h-2zM2165,21h2v2h-2zM1632,21h2v2h-2zM1430,21h2v2h-2zM1436,26h2v2h-2zM1453,32h2v2h-2zM1556,39h2v2h-2zM1862,17h2v2h-2zM2175,36h2v2h-2zM2075,24h2v2h-2zM1658,17h2v2h-2zM1949,20h2v2h-2zM1565,30h2v2h-2zM1821,21h2v2h-2zM1461,32h2v2h-2zM1894,17h2v2h-2zM1867,29h2v2h-2zM1354,22h2v2h-2zM1415,26h2v2h-2zM2189,25h2v2h-2zM1967,29h2v2h-2zM1409,27h2v2h-2z" fill="#000"/>
<g clip-path="url(#cC)">
<rect x="124" y="404.8" width="1058.3" height="300" fill="#780000"/>
<path d="M120,433.7 L126,433.7l3 .1 3 .1 3 0 3-.1 3-.1 3-.2 3-.1 3 0 3 .1 3 .1 3 .2 3 .1 3 0 3-.1 3-.1 3-.1 3-.1 3-.1 3-.1 3-.1 3 .1 3 .1 3 .1 3 .1 3 .1 3 0 3 0 3 0 3 0 3-.1 3 .1 3 0 3 .1 3 .1 3 .1 3 .1 3 0 3-.1 3-.1 3-.1 3-.2 3-.2 3 0 3 0 3 .2 3 .1 3 .1 3 .1 3 0 3 0 3-.1 3-.1 3-.2 3-.1 3-.1 3 0 3 0 3 0 3 .1 3 .1 3 0 3 0 3-.1 3-.2 3-.1 3-.1 3 0 3 .1 3 .1 3 .2 3 .2 3 0 3 0 3 0 3-.1 3-.2 3-.1 3 0 3 .1 3 .2 3 .3 3 .3 3 .1 3-.1 3-.1 3-.3 3-.2 3-.3 3-.1 3 .1 3 .3 3 .4 3 .3 3 .2 3-.1 3-.4 3-.4 3-.5 3-.3 3-.1 3 0 3 .2 3 .4 3 .4 3 .4 3 .2 3-.1 3-.3 3-.4 3-.4 3-.4 3-.1 3 .1 3 .4 3 .6 3 .5 3 .5 3 .2 3 0 3-.4 3-.5 3-.5 3-.4 3-.1 3 .2 3 .4 3 .5 3 .4 3 .2 3 0 3-.3 3-.5 3-.6 3-.4 3-.1 3 .2 3 .5 3 .5 3 .4 3 .2 3-.2 3-.4 3-.5 3-.5 3-.3 3 0 3 .2 3 .5 3 .5 3 .4 3 .3 3-.1 3-.3 3-.5 3-.6 3-.3 3-.1 3 .1 3 .4 3 .5 3 .5 3 .3 3 .2 3-.2 3-.4 3-.5 3-.4 3-.3 3 0 3 .2 3 .4 3 .4 3 .3 3 .2 3 0 3-.3 3-.5 3-.4 3-.3 3-.1 3 .1 3 .3 3 .3 3 .5 3 .3 3 .1 3-.2 3-.5 3-.5 3-.3 3-.2 3 0 3 .1 3 .3 3 .5 3 .4 3 .3 3 .1 3-.1 3-.2 3-.3 3-.3 3-.2 3-.1 3-.1 3 .2 3 .3 3 .4 3 .2 3 0 3-.2 3-.4 3-.2 3-.2 3 .1 3 .2 3 .3 3 .4 3 .1 3-.1 3-.3 3-.3 3-.2 3-.2 3 .1 3 .1 3 .2 3 .2 3 .2 3 0 3-.2 3-.3 3-.3 3-.1 3 .1 3 .3 3 .3 3 .3 3 .2 3 0 3-.1 3-.2 3-.3 3-.2 3-.2 3 0 3 .1 3 .2 3 .1 3 .1 3 .1 3-.1 3-.2 3-.2 3-.1 3-.1 3 .2 3 .2 3 .2 3 .2 3 .2 3 0 3 0 3-.2 3-.3 3-.3 3-.2 3-.1 3 0 3 .2 3 .2 3 .3 3 .1 3 0 3-.2 3-.2 3-.3 3-.2 3 0 3 .1 3 .3 3 .4 3 .3 3 .2 3 0 3-.3 3-.5 3-.4 3-.2 3 0 3 .2 3 .3 3 .4 3 .2 3 .1 3 0 3 0 3-.1 3-.1 3 0 3-.1 3 0 3 0 3 .1 3 .2 3 .2 3 0 3-.2 3-.2 3-.4 3-.2 3-.2 3 0 3 0 3 .2 3 .3 3 .3 3 .2 3 .1 3-.1 3-.3 3-.2 3-.3 3-.2 3-.1 3 .2 3 .3 3 .4 3 .1 3 0 3-.2 3-.3 3-.3 3-.2 3 0 3 .2 3 .4 3 .3 3-.1 3-.2 3-.3 3-.2 3 0 3 .2 3 .2 3 .1 3 .2 3 .1 3 0 3-.3 3-.4 3-.1 L1186.3,433 V714.8 H120Z" fill="#ff1400" stroke="#000" stroke-width="1.3" stroke-linejoin="round"/>
<path d="M120,452 L126,452l3 .2 3 .2 3 .1 3-.1 3-.1 3-.2 3-.3 3-.1 3-.1 3 .2 3 .3 3 .2 3 .2 3 0 3-.1 3-.3 3-.2 3-.2 3-.2 3-.1 3 0 3 .1 3 .1 3 .2 3 .2 3 .1 3 0 3-.1 3-.2 3-.2 3 0 3 .2 3 .2 3 .2 3 .1 3 0 3-.1 3-.1 3-.1 3-.2 3-.1 3-.1 3 0 3 0 3 .1 3 .1 3 .1 3 .1 3 .1 3 .1 3-.1 3-.1 3-.2 3-.1 3-.1 3 .1 3 .2 3 .2 3 .3 3 .1 3-.1 3-.1 3-.3 3-.2 3-.1 3-.1 3 .1 3 .1 3 .2 3 .2 3 .1 3-.1 3-.1 3-.2 3-.2 3-.2 3-.1 3 0 3 .1 3 .1 3 .2 3 .2 3 .1 3 0 3 0 3-.1 3-.2 3-.1 3 0 3 .2 3 .3 3 .3 3 .3 3 .2 3-.1 3-.2 3-.4 3-.5 3-.4 3-.2 3 0 3 .3 3 .4 3 .4 3 .4 3 .2 3 0 3-.3 3-.6 3-.6 3-.4 3-.2 3 .2 3 .4 3 .5 3 .5 3 .3 3 .1 3-.2 3-.4 3-.6 3-.6 3-.3 3 0 3 .2 3 .5 3 .6 3 .5 3 .3 3 0 3-.3 3-.5 3-.5 3-.3 3 0 3 .4 3 .5 3 .5 3 .3 3 .1 3-.2 3-.5 3-.5 3-.5 3-.3 3 0 3 .3 3 .4 3 .6 3 .4 3 .1 3-.1 3-.4 3-.6 3-.6 3-.4 3-.1 3 .3 3 .5 3 .6 3 .6 3 .4 3 0 3-.3 3-.5 3-.6 3-.5 3-.2 3 .1 3 .4 3 .6 3 .6 3 .5 3 .1 3-.2 3-.5 3-.6 3-.5 3-.4 3-.2 3 .1 3 .3 3 .5 3 .6 3 .4 3 .2 3-.1 3-.3 3-.5 3-.4 3-.2 3 0 3 .1 3 .3 3 .4 3 .3 3 .2 3 .1 3-.2 3-.3 3-.4 3-.3 3-.2 3 0 3 .2 3 .3 3 .4 3 .3 3 .2 3-.1 3-.2 3-.3 3-.3 3-.3 3 0 3 .1 3 .3 3 .3 3 .1 3-.1 3-.3 3-.4 3-.2 3-.1 3 .2 3 .3 3 .3 3 .3 3 .2 3-.2 3-.3 3-.5 3-.2 3 0 3 .2 3 .4 3 .3 3 .2 3 0 3-.2 3-.3 3-.4 3-.2 3-.2 3 0 3 .1 3 .3 3 .3 3 .3 3 .1 3 0 3-.2 3-.2 3-.3 3-.2 3-.1 3 .1 3 .2 3 .2 3 .3 3 .2 3 0 3 0 3-.2 3-.3 3-.2 3-.2 3 0 3 .2 3 .2 3 .2 3 .3 3 .1 3 0 3-.1 3-.2 3-.2 3-.2 3-.1 3 .1 3 .2 3 .3 3 .2 3 .1 3-.1 3-.3 3-.3 3-.4 3-.2 3-.1 3 .1 3 .2 3 .3 3 .2 3 .1 3 .1 3-.1 3-.1 3-.2 3-.1 3-.1 3-.1 3 .2 3 .2 3 .4 3 .3 3 .1 3-.1 3-.2 3-.3 3-.4 3-.2 3-.1 3 .1 3 .3 3 .3 3 .4 3 .1 3 0 3-.1 3-.3 3-.3 3-.2 3-.1 3 0 3 .1 3 .2 3 .2 3 .1 3-.1 3-.3 3-.3 3-.3 3-.1 3 .3 3 .5 3 .5 3 .3 3-.1 3-.2 3-.4 3-.3 3-.2 3 0 3 .2 3 .2 3 .3 3 .2 3 .1 3-.3 3-.5 3-.1 L1186.3,451.5 V714.8 H120Z" fill="#ffa000" stroke="#000" stroke-width="1.3" stroke-linejoin="round"/>
<path d="M120,473.1 L126,473.1l3 .1 3 .1 3 0 3-.1 3-.1 3-.2 3-.1 3 0 3 0 3 .1 3 .1 3 .2 3 .1 3 0 3 0 3-.1 3-.1 3-.1 3 0 3 0 3 0 3 0 3 0 3 .1 3 .1 3 .1 3-.1 3-.2 3-.2 3-.2 3-.1 3 0 3 .1 3 .1 3 .2 3 .2 3 .1 3 .1 3 0 3-.1 3-.3 3-.1 3-.1 3 .1 3 .1 3 .3 3 .2 3 .1 3 0 3-.1 3-.2 3-.2 3-.2 3 0 3 0 3 .2 3 .2 3 .2 3 .1 3 .1 3-.1 3-.1 3-.2 3-.2 3-.1 3-.2 3 0 3 0 3 .1 3 .2 3 .1 3 0 3 0 3-.1 3-.2 3-.2 3 0 3 0 3 .2 3 .2 3 .2 3 .1 3 0 3-.1 3-.2 3-.3 3-.3 3-.3 3-.1 3 .2 3 .3 3 .6 3 .4 3 .3 3 0 3-.3 3-.4 3-.5 3-.3 3-.1 3 .2 3 .4 3 .6 3 .6 3 .4 3 .1 3-.3 3-.5 3-.7 3-.6 3-.5 3-.1 3 .2 3 .6 3 .7 3 .7 3 .4 3 .2 3-.2 3-.5 3-.8 3-.7 3-.5 3 0 3 .4 3 .6 3 .7 3 .5 3 .2 3-.2 3-.5 3-.8 3-.7 3-.4 3 0 3 .5 3 .8 3 .8 3 .6 3 .1 3-.4 3-.6 3-.7 3-.6 3-.3 3 .1 3 .4 3 .7 3 .7 3 .4 3 0 3-.3 3-.6 3-.7 3-.5 3-.3 3 0 3 .4 3 .6 3 .6 3 .6 3 .4 3 .1 3-.3 3-.6 3-.7 3-.6 3-.4 3 0 3 .3 3 .5 3 .6 3 .5 3 .3 3 0 3-.3 3-.5 3-.6 3-.4 3-.2 3 .1 3 .4 3 .6 3 .5 3 .4 3 .2 3-.2 3-.4 3-.5 3-.4 3-.3 3 0 3 .2 3 .5 3 .5 3 .5 3 .3 3 0 3-.3 3-.5 3-.5 3-.5 3-.2 3 0 3 .3 3 .5 3 .4 3 .3 3 0 3-.1 3-.4 3-.5 3-.4 3-.2 3 .1 3 .3 3 .5 3 .3 3 .1 3-.1 3-.4 3-.4 3-.4 3 0 3 .1 3 .4 3 .5 3 .3 3 0 3-.2 3-.4 3-.5 3-.3 3-.1 3 .1 3 .3 3 .4 3 .3 3 .2 3-.1 3-.1 3-.2 3-.2 3 0 3 .1 3 .2 3 .2 3 .2 3 0 3-.1 3-.2 3-.3 3-.3 3-.2 3-.2 3 0 3 .2 3 .2 3 .2 3 .3 3 .3 3 .1 3-.1 3-.2 3-.2 3-.4 3-.2 3-.1 3 .1 3 .3 3 .5 3 .4 3 .3 3 0 3-.2 3-.3 3-.4 3-.2 3-.1 3 .1 3 .3 3 .2 3 .3 3 .1 3 0 3-.3 3-.4 3-.4 3-.3 3 0 3 .3 3 .3 3 .4 3 .3 3 .3 3 .1 3-.1 3-.3 3-.4 3-.4 3-.2 3-.1 3 0 3 .2 3 .3 3 .4 3 .3 3 .1 3-.1 3-.3 3-.4 3-.3 3 0 3 .1 3 .3 3 .4 3 .3 3 .1 3-.1 3-.3 3-.4 3-.4 3-.3 3 0 3 .2 3 .4 3 .4 3 .4 3 .1 3-.1 3-.4 3-.5 3-.5 3-.3 3 .1 3 .4 3 .5 3 .2 3-.1 3-.3 3-.4 3-.2 3 .1 3 .2 3 .3 3 .3 3 .3 3 .1 3 0 3-.6 3-.5 3 .1 L1186.3,472.7 V714.8 H120Z" fill="#ccff33" stroke="#000" stroke-width="1.3" stroke-linejoin="round"/>
<path d="M120,495.2 L126,495.2l3 .2 3 .2 3 0 3-.2 3-.2 3-.2 3-.1 3 0 3 0 3 0 3 .1 3 .2 3 .1 3 .1 3 0 3-.2 3-.2 3-.2 3-.1 3 .1 3 .2 3 .2 3 .3 3 .2 3 .2 3-.1 3-.2 3-.3 3-.3 3-.2 3 0 3 0 3 .2 3 .2 3 .2 3 .2 3 0 3-.1 3-.1 3-.2 3-.2 3-.2 3 0 3 0 3 .2 3 .2 3 .3 3 .2 3 0 3-.1 3-.2 3-.2 3-.2 3-.1 3 0 3 .1 3 .1 3 .2 3 .1 3 .1 3 0 3-.1 3-.2 3-.3 3-.3 3-.1 3 .2 3 .2 3 .4 3 .3 3 .2 3 0 3-.1 3-.2 3-.3 3-.3 3-.2 3 0 3 .2 3 .3 3 .4 3 .2 3 .1 3-.1 3-.4 3-.5 3-.5 3-.2 3 0 3 .4 3 .6 3 .5 3 .4 3 .1 3-.2 3-.5 3-.7 3-.6 3-.5 3-.1 3 .3 3 .7 3 .8 3 .7 3 .5 3 .1 3-.3 3-.6 3-.7 3-.7 3-.4 3-.1 3 .3 3 .6 3 .6 3 .5 3 .3 3 0 3-.4 3-.7 3-.8 3-.6 3-.2 3 .2 3 .6 3 .8 3 .8 3 .5 3 .2 3-.3 3-.7 3-.9 3-.8 3-.4 3 .1 3 .6 3 .9 3 1 3 .7 3 .2 3-.4 3-.7 3-.9 3-.8 3-.4 3 .1 3 .7 3 .8 3 .9 3 .4 3 0 3-.5 3-.8 3-.9 3-.7 3-.3 3 .1 3 .5 3 .7 3 .8 3 .7 3 .4 3 .1 3-.4 3-.7 3-.9 3-.6 3-.3 3 0 3 .5 3 .6 3 .8 3 .6 3 .3 3 0 3-.4 3-.7 3-.7 3-.6 3-.3 3 .2 3 .5 3 .6 3 .6 3 .4 3 .2 3-.3 3-.5 3-.8 3-.7 3-.4 3 0 3 .4 3 .6 3 .7 3 .6 3 .3 3 0 3-.2 3-.4 3-.6 3-.5 3-.4 3-.1 3 .3 3 .5 3 .5 3 .5 3 .1 3-.3 3-.5 3-.6 3-.5 3-.1 3 .2 3 .4 3 .6 3 .5 3 .2 3-.1 3-.3 3-.5 3-.4 3-.2 3 .1 3 .3 3 .5 3 .4 3 .1 3-.3 3-.6 3-.5 3-.3 3 .1 3 .2 3 .4 3 .4 3 .3 3 0 3-.1 3-.3 3-.3 3-.3 3-.1 3 .1 3 .3 3 .4 3 .4 3 .3 3 .1 3-.2 3-.4 3-.4 3-.5 3-.3 3-.2 3 .1 3 .3 3 .4 3 .5 3 .3 3 .1 3-.2 3-.4 3-.4 3-.3 3-.2 3 0 3 .2 3 .3 3 .4 3 .5 3 .3 3 .2 3 0 3-.3 3-.4 3-.3 3-.1 3 0 3 .2 3 .3 3 .3 3 0 3-.2 3-.3 3-.5 3-.4 3-.3 3 .1 3 .2 3 .4 3 .4 3 .3 3 .3 3 .1 3-.1 3-.2 3-.2 3-.3 3-.3 3 0 3 .1 3 .3 3 .3 3 .2 3-.1 3-.2 3-.3 3-.3 3-.3 3-.2 3 0 3 .2 3 .4 3 .5 3 .5 3 .1 3-.1 3-.3 3-.5 3-.5 3-.3 3-.1 3 .2 3 .3 3 .4 3 .4 3 .2 3 0 3-.3 3-.3 3-.3 3-.1 3 .2 3 .5 3 .5 3 .1 3-.3 3-.5 3-.5 3-.4 3 0 3 .3 3 .4 3 .4 3 .3 3 .1 3-.1 3-.8 3-.5 3 .2 L1186.3,494.7 V714.8 H120Z" fill="#70ff8c" stroke="#000" stroke-width="1.3" stroke-linejoin="round"/>
<path d="M120,514.5 L126,514.5l3 .3 3 .1 3-.1 3-.4 3-.3 3-.3 3 0 3 .1 3 .2 3 .2 3 .3 3 .3 3 .1 3 0 3-.2 3-.3 3-.3 3-.3 3-.1 3 0 3 .2 3 .2 3 .2 3 .2 3 .1 3 .1 3-.1 3-.1 3-.1 3-.2 3 0 3 .1 3 .1 3 .3 3 .2 3 .1 3-.1 3-.2 3-.2 3-.3 3-.1 3-.1 3 .1 3 .1 3 .2 3 .2 3 .1 3 0 3-.1 3-.1 3-.2 3-.2 3-.1 3 0 3 .1 3 .3 3 .2 3 .3 3 .1 3-.1 3-.1 3-.2 3-.2 3-.2 3-.1 3 0 3 .2 3 .2 3 .2 3 .2 3 .1 3-.1 3-.3 3-.5 3-.4 3-.3 3-.1 3 .2 3 .4 3 .5 3 .5 3 .2 3 0 3-.3 3-.5 3-.6 3-.4 3-.3 3 .1 3 .5 3 .6 3 .7 3 .6 3 .1 3-.3 3-.5 3-.7 3-.6 3-.4 3-.1 3 .2 3 .6 3 .7 3 .7 3 .6 3 .2 3-.3 3-.8 3-1 3-.9 3-.5 3 .1 3 .5 3 .8 3 1 3 .7 3 .5 3-.1 3-.5 3-.9 3-.9 3-.7 3-.3 3 .2 3 .7 3 .9 3 .9 3 .7 3 .1 3-.4 3-.9 3-1 3-.8 3-.3 3 .2 3 .7 3 1 3 .9 3 .5 3-.1 3-.7 3-.9 3-1 3-.7 3-.2 3 .4 3 .8 3 1.1 3 1 3 .5 3 0 3-.6 3-1 3-1 3-.9 3-.3 3 .3 3 .7 3 1 3 .8 3 .7 3 .3 3-.2 3-.6 3-.9 3-.9 3-.7 3-.3 3 .2 3 .7 3 .9 3 .8 3 .7 3 .1 3-.4 3-.7 3-.9 3-.8 3-.5 3 0 3 .4 3 .8 3 .9 3 .8 3 .6 3 .1 3-.5 3-.7 3-1 3-.8 3-.5 3 0 3 .5 3 .8 3 .8 3 .6 3 .2 3-.1 3-.5 3-.7 3-.7 3-.6 3-.3 3 0 3 .4 3 .6 3 .7 3 .5 3 .1 3-.2 3-.4 3-.6 3-.3 3-.1 3 .2 3 .6 3 .5 3 .4 3 .1 3-.3 3-.5 3-.5 3-.3 3 0 3 .2 3 .4 3 .4 3 .3 3 .1 3-.3 3-.6 3-.6 3-.3 3 .2 3 .4 3 .7 3 .5 3 .3 3-.1 3-.3 3-.5 3-.5 3-.4 3-.1 3 .2 3 .4 3 .4 3 .3 3 .1 3-.1 3-.3 3-.3 3-.4 3-.3 3-.2 3 0 3 .1 3 .4 3 .6 3 .5 3 .4 3 0 3-.2 3-.4 3-.5 3-.4 3-.3 3-.1 3 .2 3 .4 3 .4 3 .5 3 .2 3-.1 3-.3 3-.4 3-.5 3-.2 3-.1 3 .3 3 .4 3 .6 3 .4 3 .2 3-.1 3-.4 3-.6 3-.6 3-.4 3 0 3 .2 3 .5 3 .6 3 .5 3 .3 3 .1 3-.3 3-.5 3-.6 3-.4 3-.2 3 .1 3 .3 3 .3 3 .4 3 .3 3 .1 3-.2 3-.3 3-.5 3-.4 3-.2 3 .1 3 .3 3 .5 3 .4 3 .3 3 .1 3-.2 3-.4 3-.5 3-.4 3-.4 3 0 3 .2 3 .6 3 .6 3 .4 3 .2 3-.2 3-.5 3-.5 3-.4 3-.1 3 .3 3 .6 3 .4 3 0 3-.4 3-.5 3-.4 3-.2 3 .1 3 .3 3 .3 3 .3 3 .3 3 .1 3-.2 3-.9 3-.3 3 .2 L1186.3,513.7 V714.8 H120Z" fill="#10f4ec" stroke="#000" stroke-width="1.3" stroke-linejoin="round"/>
<path d="M120,531.7 L126,531.7l3 .1 3 0 3-.1 3-.2 3-.2 3-.2 3 0 3 .1 3 .3 3 .3 3 .2 3 .2 3 .1 3-.2 3-.2 3-.4 3-.3 3-.4 3-.1 3 0 3 .3 3 .4 3 .4 3 .3 3 .1 3-.2 3-.3 3-.3 3-.2 3-.2 3 0 3 .2 3 .3 3 .3 3 .3 3 0 3-.2 3-.3 3-.4 3-.4 3-.2 3 0 3 .1 3 .2 3 .3 3 .3 3 .2 3 .1 3 0 3-.2 3-.2 3-.3 3-.2 3 0 3 0 3 .3 3 .4 3 .4 3 .3 3 .1 3-.1 3-.3 3-.3 3-.3 3-.2 3 0 3 .2 3 .2 3 .3 3 .1 3 .1 3-.2 3-.2 3-.3 3-.4 3-.3 3-.1 3 .3 3 .5 3 .6 3 .6 3 .4 3-.1 3-.6 3-.7 3-.9 3-.6 3-.3 3 .1 3 .6 3 .9 3 .9 3 .6 3 .1 3-.3 3-.8 3-.9 3-.9 3-.5 3 0 3 .5 3 .9 3 .9 3 .8 3 .5 3 .1 3-.6 3-.9 3-1.1 3-.9 3-.5 3 .1 3 .7 3 1 3 1.2 3 1 3 .6 3-.1 3-.8 3-1.1 3-1.2 3-.9 3-.2 3 .4 3 .9 3 1.2 3 1 3 .6 3 0 3-.7 3-1.2 3-1.3 3-.9 3-.4 3 .4 3 1 3 1.2 3 1.1 3 .7 3-.1 3-.6 3-1.1 3-1.2 3-.9 3-.3 3 .4 3 1.1 3 1.2 3 1 3 .5 3-.2 3-.7 3-1 3-1.1 3-.7 3-.2 3 .3 3 .8 3 1 3 .9 3 .7 3 .2 3-.3 3-.8 3-1.2 3-1.1 3-.8 3-.2 3 .4 3 .9 3 1.3 3 1.2 3 .7 3 .2 3-.5 3-1 3-1.2 3-1 3-.7 3 0 3 .5 3 .9 3 1.1 3 .9 3 .6 3 .1 3-.5 3-1 3-1.2 3-1.1 3-.6 3-.1 3 .6 3 .9 3 1 3 .9 3 .5 3 0 3-.5 3-.7 3-.8 3-.6 3-.3 3 .1 3 .6 3 .7 3 .7 3 .5 3 0 3-.3 3-.7 3-.7 3-.5 3-.1 3 .3 3 .6 3 .6 3 .4 3 .1 3-.3 3-.6 3-.6 3-.3 3 .1 3 .4 3 .6 3 .6 3 .3 3-.1 3-.6 3-.7 3-.6 3-.2 3 .3 3 .6 3 .6 3 .5 3 .1 3-.1 3-.4 3-.6 3-.5 3-.3 3 0 3 .1 3 .4 3 .4 3 .5 3 .2 3 .1 3-.3 3-.5 3-.5 3-.5 3-.2 3 0 3 .3 3 .5 3 .4 3 .4 3 .2 3 0 3-.2 3-.4 3-.4 3-.5 3-.3 3 0 3 .3 3 .7 3 .7 3 .5 3 .2 3-.2 3-.6 3-.6 3-.5 3-.3 3 0 3 .3 3 .5 3 .5 3 .4 3 .1 3-.2 3-.4 3-.6 3-.4 3-.2 3 .1 3 .3 3 .5 3 .4 3 .3 3 0 3-.2 3-.5 3-.6 3-.5 3-.2 3 0 3 .3 3 .6 3 .7 3 .7 3 .3 3 0 3-.4 3-.6 3-.6 3-.5 3 0 3 .3 3 .4 3 .6 3 .4 3 .2 3 0 3-.2 3-.3 3-.5 3-.5 3-.4 3 0 3 .3 3 .6 3 .7 3 .5 3 .2 3-.2 3-.7 3-.8 3-.6 3-.2 3 .5 3 .8 3 .7 3 .1 3-.3 3-.5 3-.5 3-.3 3 .1 3 .2 3 .3 3 .3 3 .3 3 .1 3-.4 3-1.1 3-.1 3 .3 L1186.3,530.9 V714.8 H120Z" fill="#00c0ff" stroke="#000" stroke-width="1.3" stroke-linejoin="round"/>
<path d="M120,549.3 L126,549.3l3 .1 3 0 3-.1 3-.2 3-.3 3-.2 3-.2 3 0 3 .1 3 .3 3 .3 3 .3 3 .1 3 0 3-.2 3-.3 3-.3 3-.2 3-.1 3 .1 3 .3 3 .3 3 .3 3 .2 3 0 3-.2 3-.3 3-.3 3-.2 3-.1 3 .1 3 .2 3 .3 3 .2 3 .3 3 0 3-.1 3-.2 3-.3 3-.2 3-.1 3 0 3 .2 3 .2 3 .2 3 .2 3 .2 3-.1 3-.2 3-.2 3-.4 3-.3 3-.2 3-.1 3 .1 3 .2 3 .4 3 .4 3 .1 3 0 3-.3 3-.4 3-.3 3-.3 3-.1 3 .1 3 .3 3 .6 3 .5 3 .4 3 .2 3-.2 3-.3 3-.6 3-.5 3-.3 3 0 3 .2 3 .6 3 .7 3 .5 3 .3 3-.1 3-.4 3-.6 3-.8 3-.7 3-.4 3 .1 3 .6 3 1 3 1 3 .6 3 0 3-.5 3-1 3-1.1 3-1 3-.5 3 .1 3 .7 3 1 3 1.2 3 1 3 .6 3-.1 3-.6 3-1.2 3-1.2 3-1 3-.5 3 .2 3 .8 3 1.2 3 1.2 3 .9 3 .4 3-.3 3-1 3-1.3 3-1.2 3-.8 3 0 3 .7 3 1.1 3 1.3 3 1 3 .6 3-.3 3-.9 3-1.4 3-1.3 3-.9 3-.1 3 .7 3 1.3 3 1.5 3 1.2 3 .6 3-.3 3-1 3-1.5 3-1.4 3-1 3-.2 3 .7 3 1.3 3 1.5 3 1.1 3 .4 3-.4 3-1.1 3-1.5 3-1.3 3-.9 3-.1 3 .7 3 1.2 3 1.3 3 1.2 3 .8 3 .1 3-.5 3-1.1 3-1.3 3-1.2 3-.8 3 0 3 .6 3 1.1 3 1.3 3 1.1 3 .5 3-.1 3-.7 3-1.1 3-1.3 3-1 3-.5 3 .1 3 .7 3 1.2 3 1.3 3 1 3 .5 3-.2 3-.8 3-1.2 3-1.3 3-1 3-.4 3 .3 3 .9 3 1.2 3 1.2 3 .9 3 .4 3-.3 3-.7 3-1.1 3-.9 3-.7 3-.3 3 .3 3 .7 3 .9 3 .9 3 .4 3-.1 3-.5 3-.9 3-.7 3-.5 3 .1 3 .5 3 .9 3 .7 3 .4 3-.1 3-.6 3-.8 3-.8 3-.3 3 .3 3 .6 3 .7 3 .7 3 .2 3-.1 3-.7 3-.8 3-.6 3-.1 3 .2 3 .6 3 .6 3 .5 3 .2 3-.2 3-.4 3-.6 3-.5 3-.3 3 .1 3 .3 3 .4 3 .6 3 .4 3 .3 3-.1 3-.3 3-.6 3-.6 3-.4 3-.2 3 .2 3 .4 3 .6 3 .6 3 .4 3 .1 3-.2 3-.3 3-.6 3-.6 3-.5 3-.3 3-.1 3 .4 3 .6 3 .8 3 .5 3 .2 3-.2 3-.5 3-.7 3-.6 3-.3 3 0 3 .4 3 .7 3 .6 3 .5 3 0 3-.3 3-.5 3-.7 3-.5 3-.3 3 .1 3 .4 3 .5 3 .7 3 .5 3 .2 3 0 3-.4 3-.6 3-.6 3-.4 3-.2 3 0 3 .4 3 .4 3 .5 3 .4 3 0 3-.2 3-.5 3-.6 3-.4 3-.1 3 .2 3 .5 3 .5 3 .5 3 .3 3 0 3-.3 3-.4 3-.6 3-.6 3-.3 3 0 3 .3 3 .6 3 .6 3 .4 3 .2 3-.3 3-.5 3-.5 3-.4 3 .1 3 .6 3 .9 3 .4 3-.1 3-.6 3-.7 3-.6 3-.2 3 .1 3 .3 3 .5 3 .5 3 .4 3 .2 3-.5 3-1.1 3-.1 3 .3 L1186.3,548.5 V714.8 H120Z" fill="#0068ff" stroke="#000" stroke-width="1.3" stroke-linejoin="round"/>
<path d="M120,570.2 L126,570.2l3 .1 3-.1 3-.1 3-.2 3-.2 3-.2 3-.1 3 .1 3 .2 3 .3 3 .2 3 .2 3-.1 3-.1 3-.3 3-.3 3-.3 3-.2 3-.1 3 .3 3 .4 3 .4 3 .5 3 .2 3 0 3-.2 3-.4 3-.4 3-.4 3-.1 3 0 3 .1 3 .3 3 .4 3 .2 3 .1 3-.2 3-.4 3-.5 3-.5 3-.2 3 0 3 .2 3 .3 3 .4 3 .5 3 .3 3 .1 3-.1 3-.3 3-.4 3-.3 3-.1 3 0 3 .3 3 .4 3 .3 3 .2 3 .1 3-.2 3-.3 3-.4 3-.4 3-.3 3-.2 3 .2 3 .4 3 .5 3 .6 3 .3 3 .2 3-.3 3-.5 3-.6 3-.6 3-.3 3 0 3 .4 3 .7 3 .8 3 .6 3 .3 3-.2 3-.6 3-.9 3-.9 3-.7 3-.4 3 .2 3 .9 3 1.3 3 1.3 3 .7 3 0 3-.7 3-1.1 3-1.2 3-1.1 3-.5 3 .2 3 .8 3 1.2 3 1.3 3 1 3 .4 3-.2 3-1 3-1.4 3-1.4 3-1 3-.4 3 .4 3 1 3 1.4 3 1.4 3 1 3 .4 3-.6 3-1.3 3-1.7 3-1.5 3-.8 3 .1 3 .9 3 1.4 3 1.5 3 1.1 3 .5 3-.3 3-1.2 3-1.5 3-1.5 3-.9 3 .1 3 .8 3 1.5 3 1.6 3 1.3 3 .6 3-.4 3-1.1 3-1.6 3-1.5 3-.9 3-.1 3 .8 3 1.3 3 1.5 3 1.1 3 .4 3-.5 3-1.2 3-1.4 3-1.3 3-.9 3-.1 3 .6 3 1.1 3 1.5 3 1.4 3 1 3 .2 3-.7 3-1.3 3-1.6 3-1.4 3-.8 3 0 3 .8 3 1.3 3 1.5 3 1.2 3 .5 3-.3 3-.9 3-1.4 3-1.4 3-1.1 3-.4 3 .3 3 1.1 3 1.5 3 1.6 3 1.2 3 .5 3-.3 3-1 3-1.5 3-1.4 3-1.1 3-.4 3 .4 3 .9 3 1.1 3 1.1 3 .8 3 .2 3-.4 3-.9 3-1 3-1 3-.6 3-.1 3 .4 3 .9 3 1.1 3 .9 3 .5 3-.2 3-.6 3-1 3-.8 3-.5 3 0 3 .4 3 .8 3 .7 3 .3 3 0 3-.6 3-.7 3-.6 3-.2 3 .3 3 .6 3 .8 3 .6 3 .3 3-.3 3-.7 3-.8 3-.5 3 0 3 .4 3 .7 3 .8 3 .4 3 .1 3-.4 3-.6 3-.6 3-.5 3-.2 3 .2 3 .5 3 .6 3 .5 3 .4 3 0 3-.2 3-.6 3-.7 3-.7 3-.4 3-.1 3 .3 3 .5 3 .7 3 .6 3 .5 3 .1 3-.2 3-.4 3-.6 3-.7 3-.6 3-.3 3 .1 3 .5 3 .8 3 .8 3 .5 3 0 3-.3 3-.6 3-.7 3-.5 3-.2 3 .1 3 .5 3 .7 3 .7 3 .5 3 0 3-.5 3-.6 3-.7 3-.6 3-.2 3 .1 3 .5 3 .7 3 .7 3 .6 3 .3 3-.2 3-.5 3-.8 3-.8 3-.5 3-.1 3 .4 3 .6 3 .7 3 .4 3 .1 3-.2 3-.5 3-.7 3-.5 3-.4 3 .1 3 .3 3 .5 3 .6 3 .6 3 .3 3 0 3-.3 3-.5 3-.6 3-.5 3-.3 3-.1 3 .4 3 .6 3 .6 3 .4 3 .1 3-.4 3-.5 3-.7 3-.3 3 .1 3 .8 3 .8 3 .4 3-.3 3-.5 3-.7 3-.4 3-.1 3 .2 3 .4 3 .5 3 .4 3 .3 3 0 3-.9 3-1.1 3 .1 3 .3 L1186.3,569 V714.8 H120Z" fill="#0044ff" stroke="#000" stroke-width="1.3" stroke-linejoin="round"/>
<path d="M120,592.1 L126,592.1l3 0 3-.1 3-.2 3-.4 3-.3 3-.3 3-.1 3 .1 3 .3 3 .3 3 .2 3 .2 3 .1 3 0 3-.3 3-.4 3-.3 3-.2 3 0 3 .3 3 .4 3 .3 3 .2 3 0 3-.2 3-.3 3-.4 3-.2 3-.2 3 0 3 .2 3 .2 3 .3 3 .2 3 .2 3 .2 3 0 3-.2 3-.2 3-.4 3-.2 3-.2 3 0 3 .2 3 .3 3 .3 3 .1 3 0 3-.2 3-.3 3-.4 3-.2 3 0 3 .1 3 .3 3 .4 3 .3 3 .3 3 .1 3-.1 3-.4 3-.5 3-.5 3-.3 3-.1 3 .3 3 .5 3 .6 3 .5 3 .3 3-.1 3-.3 3-.6 3-.5 3-.5 3-.4 3 0 3 .4 3 .6 3 .8 3 .7 3 .3 3-.2 3-.6 3-.9 3-1 3-.7 3-.2 3 .5 3 1 3 1.3 3 1.2 3 .6 3-.2 3-.8 3-1.3 3-1.4 3-1.1 3-.3 3 .4 3 1 3 1.4 3 1.4 3 1.1 3 .5 3-.4 3-1.1 3-1.6 3-1.6 3-1.1 3-.3 3 .5 3 1.3 3 1.5 3 1.5 3 .9 3 .2 3-.7 3-1.4 3-1.7 3-1.5 3-.7 3 .1 3 1 3 1.6 3 1.7 3 1.3 3 .5 3-.4 3-1.3 3-1.8 3-1.6 3-.9 3 .1 3 1.2 3 1.7 3 1.9 3 1.2 3 .4 3-.8 3-1.5 3-1.9 3-1.6 3-.9 3 .2 3 1.1 3 1.8 3 1.7 3 1.2 3 .2 3-.8 3-1.4 3-1.7 3-1.5 3-.8 3 0 3 .8 3 1.5 3 1.6 3 1.4 3 1 3 .1 3-.8 3-1.4 3-1.7 3-1.5 3-.9 3 0 3 1 3 1.5 3 1.6 3 1.3 3 .6 3-.2 3-1 3-1.5 3-1.6 3-1.3 3-.6 3 .4 3 1.2 3 1.6 3 1.6 3 1 3 .3 3-.6 3-1.2 3-1.5 3-1.4 3-.9 3-.2 3 .5 3 1.2 3 1.4 3 1.3 3 .8 3 .2 3-.6 3-1.1 3-1.4 3-1.1 3-.7 3 0 3 .7 3 1.1 3 1.2 3 .9 3 .4 3-.2 3-.8 3-1.1 3-.9 3-.4 3 .3 3 .7 3 1 3 .9 3 .3 3-.4 3-.8 3-1 3-.7 3-.1 3 .3 3 .7 3 .8 3 .6 3 .4 3-.3 3-.8 3-1.1 3-.6 3 0 3 .5 3 .9 3 .8 3 .5 3 0 3-.5 3-.8 3-.8 3-.6 3-.3 3 .2 3 .5 3 .6 3 .7 3 .5 3 .1 3-.1 3-.5 3-.6 3-.7 3-.4 3-.2 3 .1 3 .5 3 .7 3 .7 3 .5 3 .4 3-.1 3-.4 3-.6 3-.6 3-.6 3-.2 3 .1 3 .5 3 .7 3 .6 3 .3 3-.1 3-.4 3-.6 3-.6 3-.5 3-.2 3 .2 3 .6 3 .8 3 .6 3 .4 3-.1 3-.4 3-.6 3-.6 3-.5 3-.2 3 .2 3 .4 3 .6 3 .7 3 .5 3 .2 3-.2 3-.6 3-.8 3-.8 3-.5 3-.1 3 .5 3 .8 3 1 3 .7 3 .2 3-.2 3-.7 3-.8 3-.8 3-.4 3 .1 3 .3 3 .6 3 .5 3 .4 3 .2 3 0 3-.3 3-.5 3-.5 3-.5 3-.2 3 .1 3 .5 3 .7 3 .7 3 .3 3-.1 3-.6 3-.7 3-.7 3-.4 3 .3 3 .8 3 .9 3 .2 3-.4 3-.6 3-.7 3-.3 3 .1 3 .4 3 .5 3 .5 3 .4 3 .2 3 0 3-1.1 3-.8 3 .2 3 .5 L1186.3,591.1 V714.8 H120Z" fill="#0020ff" stroke="#000" stroke-width="1.3" stroke-linejoin="round"/>
<path d="M120,613.2 L126,613.2l3 .2 3-.1 3-.2 3-.3 3-.3 3-.2 3-.1 3 .1 3 .3 3 .4 3 .4 3 .2 3-.1 3-.2 3-.3 3-.5 3-.3 3-.2 3 0 3 .3 3 .4 3 .4 3 .4 3 .1 3 0 3-.2 3-.4 3-.5 3-.3 3-.1 3 .2 3 .3 3 .4 3 .3 3 .3 3 .1 3-.1 3-.2 3-.4 3-.3 3-.2 3 0 3 .1 3 .3 3 .3 3 .3 3 0 3-.1 3-.3 3-.4 3-.3 3-.2 3 0 3 0 3 .3 3 .4 3 .4 3 .4 3 .2 3-.1 3-.4 3-.7 3-.6 3-.5 3-.1 3 .4 3 .6 3 .7 3 .6 3 .3 3 0 3-.3 3-.6 3-.7 3-.5 3-.3 3 .1 3 .5 3 .8 3 .9 3 .6 3 .2 3-.3 3-.9 3-1.1 3-1.1 3-.7 3-.2 3 .7 3 1.2 3 1.4 3 1.1 3 .5 3-.4 3-1 3-1.5 3-1.5 3-1.1 3-.3 3 .5 3 1.2 3 1.7 3 1.6 3 1.3 3 .4 3-.5 3-1.4 3-1.9 3-1.9 3-1.1 3-.3 3 .8 3 1.4 3 1.8 3 1.7 3 1 3 .2 3-.8 3-1.6 3-2 3-1.7 3-.8 3 .3 3 1.2 3 1.8 3 1.9 3 1.4 3 .5 3-.6 3-1.6 3-2 3-1.8 3-.9 3 .3 3 1.4 3 2 3 1.9 3 1.3 3 .2 3-.9 3-1.7 3-2 3-1.6 3-.8 3 .3 3 1.4 3 1.9 3 1.9 3 1.2 3 0 3-1 3-1.7 3-2 3-1.5 3-.8 3 .2 3 1.1 3 1.6 3 1.8 3 1.4 3 .8 3-.1 3-1 3-1.8 3-1.9 3-1.5 3-.6 3 .4 3 1.4 3 1.8 3 1.8 3 1.3 3 .3 3-.6 3-1.3 3-1.8 3-1.6 3-1.2 3-.3 3 .6 3 1.4 3 1.8 3 1.7 3 1.1 3 .2 3-.7 3-1.4 3-1.6 3-1.5 3-.9 3-.1 3 .7 3 1.4 3 1.6 3 1.3 3 .8 3-.1 3-.7 3-1.2 3-1.5 3-1.2 3-.7 3 .1 3 .8 3 1.4 3 1.3 3 .9 3 .3 3-.5 3-1 3-1.1 3-.9 3-.3 3 .2 3 .8 3 1 3 .7 3 .2 3-.5 3-.9 3-.9 3-.6 3-.1 3 .5 3 .9 3 .9 3 .7 3 .1 3-.4 3-1 3-.9 3-.5 3 .1 3 .6 3 .9 3 .8 3 .4 3-.1 3-.5 3-.8 3-.8 3-.6 3-.1 3 .2 3 .5 3 .6 3 .6 3 .5 3 .2 3-.2 3-.6 3-.7 3-.7 3-.5 3-.1 3 .4 3 .6 3 .8 3 .7 3 .5 3 0 3-.4 3-.5 3-.7 3-.6 3-.5 3-.2 3 .2 3 .6 3 .8 3 .8 3 .5 3 .1 3-.4 3-.7 3-.8 3-.6 3-.2 3 .2 3 .6 3 .9 3 .8 3 .4 3-.2 3-.5 3-.9 3-.8 3-.5 3-.1 3 .3 3 .6 3 .7 3 .6 3 .3 3-.1 3-.4 3-.6 3-.7 3-.6 3-.3 3 0 3 .4 3 .6 3 .8 3 .6 3 .3 3-.2 3-.6 3-.8 3-.7 3-.4 3 .1 3 .5 3 .7 3 .8 3 .6 3 .2 3-.2 3-.6 3-.8 3-.7 3-.5 3 0 3 .3 3 .6 3 .8 3 .6 3 .3 3-.2 3-.6 3-.9 3-.7 3-.3 3 .5 3 1 3 .9 3 .2 3-.5 3-.7 3-.8 3-.4 3 .1 3 .3 3 .4 3 .6 3 .5 3 .4 3 0 3-1.3 3-.7 3 .2 3 .5 L1186.3,612.6 V714.8 H120Z" fill="#0004ff" stroke="#000" stroke-width="1.3" stroke-linejoin="round"/>
<path d="M120,633.4 L126,633.4l3 .1 3-.1 3-.3 3-.4 3-.5 3-.2 3 0 3 .3 3 .4 3 .5 3 .3 3 .3 3 0 3-.2 3-.5 3-.5 3-.5 3-.3 3 .1 3 .2 3 .5 3 .4 3 .3 3 .1 3-.1 3-.2 3-.4 3-.3 3-.3 3-.1 3 .1 3 .2 3 .4 3 .3 3 .3 3 .2 3-.1 3-.4 3-.4 3-.4 3-.2 3 0 3 .2 3 .3 3 .5 3 .4 3 .3 3 0 3-.3 3-.4 3-.4 3-.4 3-.2 3 .1 3 .3 3 .4 3 .4 3 .3 3 0 3-.3 3-.5 3-.5 3-.4 3-.1 3 0 3 .3 3 .5 3 .5 3 .4 3 .3 3-.1 3-.3 3-.6 3-.6 3-.5 3-.2 3 .3 3 .8 3 1 3 1 3 .6 3 0 3-.7 3-1.1 3-1.3 3-1.1 3-.6 3 .1 3 .8 3 1.4 3 1.6 3 1.2 3 .4 3-.5 3-1.2 3-1.7 3-1.5 3-.9 3-.1 3 .7 3 1.4 3 1.7 3 1.5 3 1 3 .1 3-1 3-1.7 3-2.1 3-1.7 3-1 3 .1 3 1 3 1.7 3 1.9 3 1.7 3 1.1 3 .1 3-1.1 3-1.9 3-2.1 3-1.6 3-.7 3 .4 3 1.5 3 1.9 3 1.9 3 1.2 3 .2 3-1 3-1.8 3-2.2 3-1.6 3-.7 3 .5 3 1.5 3 2.2 3 2 3 1.3 3 0 3-1.2 3-2 3-2.2 3-1.6 3-.6 3 .7 3 1.7 3 2.2 3 1.9 3 1.1 3-.1 3-1.2 3-1.8 3-2 3-1.5 3-.6 3 .3 3 1.2 3 1.8 3 2 3 1.5 3 .7 3-.4 3-1.4 3-2.1 3-2.1 3-1.5 3-.6 3 .5 3 1.5 3 2 3 1.9 3 1.3 3 .4 3-.7 3-1.5 3-1.9 3-1.8 3-1.2 3-.2 3 .8 3 1.6 3 1.9 3 1.8 3 1.1 3 .2 3-.8 3-1.6 3-1.8 3-1.6 3-.8 3 0 3 .9 3 1.6 3 1.7 3 1.4 3 .7 3-.1 3-1 3-1.5 3-1.6 3-1.2 3-.5 3 .3 3 1 3 1.4 3 1.4 3 .8 3 .1 3-.6 3-1.1 3-1.2 3-.8 3-.2 3 .5 3 1 3 1.1 3 .8 3 .1 3-.7 3-1 3-1 3-.7 3 0 3 .5 3 .9 3 .8 3 .5 3 0 3-.7 3-1.1 3-.9 3-.4 3 .2 3 .8 3 1 3 .8 3 .5 3-.1 3-.6 3-.8 3-.8 3-.4 3-.1 3 .4 3 .6 3 .7 3 .6 3 .5 3 0 3-.3 3-.8 3-.8 3-.7 3-.3 3 .2 3 .5 3 .7 3 .7 3 .7 3 .3 3 0 3-.4 3-.7 3-.9 3-.7 3-.5 3-.1 3 .4 3 .8 3 1.1 3 .9 3 .5 3 0 3-.5 3-.9 3-1 3-.7 3-.3 3 .3 3 .6 3 .9 3 .6 3 .3 3-.2 3-.6 3-.8 3-.7 3-.5 3-.1 3 .3 3 .7 3 .8 3 .7 3 .4 3 0 3-.4 3-.7 3-.7 3-.6 3-.2 3 .1 3 .5 3 .7 3 .7 3 .5 3 .1 3-.3 3-.6 3-.7 3-.7 3-.3 3 .1 3 .4 3 .7 3 .8 3 .7 3 .2 3-.1 3-.6 3-.9 3-.8 3-.6 3-.2 3 .3 3 .7 3 .9 3 .8 3 .4 3-.3 3-.9 3-1 3-.8 3-.3 3 .7 3 1.2 3 1 3 .1 3-.5 3-.9 3-.9 3-.6 3 .1 3 .5 3 .7 3 .9 3 .7 3 .4 3-.3 3-1.6 3-.6 3 .2 3 .4 L1186.3,632.4 V714.8 H120Z" fill="#0000ea" stroke="#000" stroke-width="1.3" stroke-linejoin="round"/>
<path d="M120,653.3 L126,653.3l3 0 3-.2 3-.2 3-.3 3-.2 3-.1 3 .1 3 .1 3 .2 3 .3 3 .2 3 .1 3 0 3-.2 3-.4 3-.4 3-.3 3-.2 3-.1 3 .2 3 .4 3 .4 3 .4 3 .2 3 0 3-.3 3-.4 3-.5 3-.3 3-.1 3 .3 3 .4 3 .5 3 .4 3 .2 3 0 3-.2 3-.3 3-.5 3-.3 3-.2 3 .1 3 .3 3 .4 3 .4 3 .2 3 0 3-.2 3-.3 3-.4 3-.5 3-.3 3-.1 3 .2 3 .4 3 .5 3 .5 3 .3 3 0 3-.3 3-.5 3-.5 3-.5 3-.3 3 .2 3 .4 3 .7 3 .7 3 .5 3 .3 3-.1 3-.5 3-.9 3-.8 3-.7 3-.2 3 .3 3 .7 3 .8 3 .9 3 .5 3 0 3-.5 3-.9 3-1.1 3-1 3-.5 3 .2 3 1 3 1.5 3 1.5 3 1.1 3 .2 3-.7 3-1.5 3-1.8 3-1.8 3-1 3 0 3 1 3 1.8 3 2 3 1.7 3 1.1 3 .2 3-1 3-1.8 3-2.3 3-1.9 3-1.1 3 .1 3 1.2 3 1.9 3 2.1 3 1.7 3 .9 3-.2 3-1.4 3-2.3 3-2.2 3-1.5 3-.2 3 1 3 2 3 2.3 3 1.9 3 1.1 3-.2 3-1.5 3-2.3 3-2.5 3-1.8 3-.6 3 .7 3 1.9 3 2.4 3 2.2 3 1.2 3-.1 3-1.4 3-2.3 3-2.4 3-1.8 3-.5 3 .9 3 2 3 2.5 3 2.1 3 1.1 3-.4 3-1.5 3-2.3 3-2.2 3-1.6 3-.4 3 .7 3 1.7 3 2.1 3 2.1 3 1.5 3 .6 3-.5 3-1.6 3-2.3 3-2.2 3-1.5 3-.5 3 .7 3 1.9 3 2.3 3 2.2 3 1.4 3 .2 3-.9 3-1.9 3-2.2 3-2 3-1.3 3-.1 3 1 3 1.8 3 2.2 3 1.9 3 1 3 0 3-1.1 3-1.9 3-2.1 3-1.7 3-.7 3 .3 3 1.2 3 1.8 3 1.8 3 1.4 3 .5 3-.3 3-1.2 3-1.5 3-1.6 3-1.2 3-.5 3 .3 3 1 3 1.5 3 1.3 3 .8 3 .1 3-.8 3-1.2 3-1.3 3-.9 3-.2 3 .7 3 1.3 3 1.2 3 .8 3 0 3-.8 3-1.2 3-1.2 3-.6 3 .1 3 .8 3 1 3 1.1 3 .6 3-.2 3-.9 3-1.2 3-.9 3-.2 3 .5 3 .9 3 1 3 .8 3 .3 3-.2 3-.6 3-.9 3-.8 3-.5 3 0 3 .3 3 .7 3 .8 3 .6 3 .3 3-.1 3-.5 3-.8 3-.9 3-.6 3-.3 3 .2 3 .5 3 .9 3 .9 3 .7 3 .4 3-.2 3-.5 3-.8 3-.8 3-.8 3-.4 3-.1 3 .4 3 .8 3 .9 3 .7 3 .3 3-.2 3-.6 3-.9 3-.8 3-.5 3 0 3 .5 3 .9 3 .9 3 .6 3 .1 3-.4 3-.7 3-.9 3-.7 3-.4 3 .1 3 .5 3 .8 3 .7 3 .7 3 .4 3-.1 3-.5 3-.8 3-.9 3-.6 3-.3 3 .3 3 .7 3 .9 3 .8 3 .5 3 0 3-.5 3-.9 3-.9 3-.7 3-.2 3 .4 3 .7 3 .9 3 .8 3 .6 3 .1 3-.3 3-.7 3-.9 3-.8 3-.7 3-.1 3 .3 3 .9 3 1 3 .8 3 .4 3-.4 3-.8 3-1.1 3-.7 3 0 3 .8 3 1.2 3 .7 3-.1 3-.7 3-.9 3-.8 3-.3 3 .1 3 .5 3 .6 3 .7 3 .6 3 .3 3-.6 3-1.7 3-.3 3 .3 3 .6 L1186.3,652.1 V714.8 H120Z" fill="#0000d2" stroke="#000" stroke-width="1.3" stroke-linejoin="round"/>
<path d="M120,671.5 L126,671.5l3 0 3-.3 3-.3 3-.4 3-.2 3-.1 3 0 3 .2 3 .3 3 .4 3 .2 3 .1 3-.2 3-.3 3-.4 3-.4 3-.2 3-.1 3 .2 3 .5 3 .5 3 .5 3 .3 3-.1 3-.2 3-.4 3-.4 3-.4 3-.2 3 0 3 .2 3 .4 3 .6 3 .4 3 .3 3-.1 3-.5 3-.6 3-.5 3-.4 3 0 3 .2 3 .4 3 .6 3 .5 3 .4 3 0 3-.3 3-.4 3-.6 3-.5 3-.3 3 0 3 .3 3 .4 3 .6 3 .5 3 .3 3 0 3-.2 3-.5 3-.5 3-.5 3-.2 3 0 3 .4 3 .7 3 .7 3 .5 3 .2 3-.3 3-.7 3-.9 3-.9 3-.6 3-.2 3 .4 3 .9 3 1.1 3 1.1 3 .6 3 0 3-.7 3-1.2 3-1.4 3-1.2 3-.8 3 .2 3 1.1 3 1.7 3 1.9 3 1.2 3 .2 3-.9 3-1.8 3-2 3-1.8 3-.9 3 .2 3 1.3 3 1.9 3 2.2 3 1.8 3 .9 3-.1 3-1.3 3-2.2 3-2.3 3-1.9 3-.8 3 .4 3 1.5 3 2.1 3 2.2 3 1.7 3 .7 3-.5 3-1.7 3-2.5 3-2.3 3-1.5 3-.1 3 1.1 3 2 3 2.4 3 2 3 1.2 3-.2 3-1.4 3-2.3 3-2.5 3-1.8 3-.5 3 1 3 2.2 3 2.5 3 2.2 3 1.1 3-.4 3-1.7 3-2.6 3-2.5 3-1.6 3-.2 3 1.4 3 2.4 3 2.6 3 2 3 .7 3-.7 3-1.9 3-2.5 3-2.4 3-1.6 3-.4 3 .9 3 1.9 3 2.4 3 2.3 3 1.6 3 .4 3-.8 3-1.8 3-2.5 3-2.3 3-1.4 3-.2 3 1.2 3 2.1 3 2.4 3 2 3 1.1 3-.1 3-1.2 3-2.1 3-2.3 3-2 3-1.2 3 .1 3 1.2 3 2.2 3 2.5 3 2 3 1.1 3-.2 3-1.4 3-2.3 3-2.5 3-1.9 3-1 3 .4 3 1.3 3 2 3 2.1 3 1.5 3 .5 3-.4 3-1.2 3-1.7 3-1.6 3-1 3-.2 3 .7 3 1.4 3 1.7 3 1.3 3 .7 3-.3 3-1 3-1.5 3-1.3 3-.8 3 0 3 .8 3 1.3 3 1.2 3 .7 3-.2 3-.9 3-1.2 3-1.1 3-.4 3 .3 3 .9 3 1.1 3 .9 3 .4 3-.2 3-.9 3-1.2 3-.8 3-.1 3 .6 3 .9 3 1.1 3 .8 3 .2 3-.5 3-.8 3-1 3-.9 3-.6 3 0 3 .5 3 .8 3 1 3 .7 3 .4 3-.2 3-.6 3-.8 3-.8 3-.7 3-.3 3 .2 3 .6 3 .9 3 .8 3 .7 3 .4 3-.1 3-.5 3-.8 3-.8 3-.8 3-.4 3-.1 3 .5 3 .7 3 .8 3 .6 3 .3 3-.2 3-.7 3-.9 3-.8 3-.5 3 .1 3 .6 3 1 3 1.1 3 .6 3 .1 3-.5 3-.9 3-1.1 3-.9 3-.3 3 .4 3 .8 3 1 3 .9 3 .7 3 .2 3-.2 3-.7 3-.9 3-1 3-.7 3-.3 3 .4 3 .7 3 1.1 3 .8 3 .5 3-.1 3-.7 3-.9 3-1 3-.6 3 0 3 .4 3 .9 3 1 3 .8 3 .5 3 0 3-.4 3-.8 3-.9 3-.7 3-.4 3 0 3 .5 3 .7 3 .7 3 .5 3 0 3-.5 3-.9 3-1 3-.7 3 .1 3 1 3 1.3 3 .8 3-.2 3-.8 3-1 3-.8 3-.2 3 .3 3 .6 3 .7 3 .8 3 .6 3 .2 3-.8 3-1.7 3 0 3 .4 3 .6 L1186.3,670.9 V714.8 H120Z" fill="#0000bc" stroke="#000" stroke-width="1.3" stroke-linejoin="round"/>
</g>
<g clip-path="url(#cG)">
<rect x="1311.5" y="404.8" width="1058.3" height="300" fill="#0000c4"/>
<path d="M1307.5,441.8 L1313.5,441.8l3 .1 3 0 3 0 3-.1 3-.1 3-.1 3-.1 3 0 3 .1 3 0 3 0 3 0 3 0 3 0 3 .1 3 .1 3 0 3 0 3-.1 3-.1 3 .1 3 .1 3 .1 3 0 3 0 3 0 3 .1 3 0 3 0 3-.1 3-.1 3-.1 3 .1 3 .1 3 .2 3 .2 3 0 3 0 3-.2 3-.1 3-.2 3 0 3 0 3 0 3 .1 3 .1 3 0 3 0 3 0 3-.1 3 0 3-.1 3 0 3 0 3 .1 3 .1 3 .2 3 .1 3 .1 3 0 3-.2 3-.1 3-.2 3-.2 3-.2 3-.1 3 0 3 .1 3 .1 3 .2 3 .1 3 0 3 0 3-.2 3-.2 3-.2 3-.1 3-.1 3 .1 3 .2 3 .3 3 .3 3 .2 3 .1 3-.1 3-.1 3-.2 3-.2 3 0 3 .1 3 .1 3 .3 3 .2 3 .2 3 0 3-.1 3-.2 3-.3 3-.2 3-.1 3 0 3 .2 3 .3 3 .2 3 .2 3 .1 3-.1 3-.2 3-.3 3-.3 3-.3 3-.2 3 0 3 .2 3 .4 3 .4 3 .3 3 .1 3-.2 3-.3 3-.4 3-.4 3-.2 3-.1 3 .2 3 .3 3 .5 3 .5 3 .3 3 .1 3-.2 3-.4 3-.5 3-.4 3-.2 3 .1 3 .4 3 .4 3 .5 3 .3 3 .1 3-.2 3-.4 3-.5 3-.4 3-.2 3 .1 3 .4 3 .4 3 .4 3 .1 3-.1 3-.3 3-.5 3-.5 3-.4 3 0 3 .2 3 .4 3 .4 3 .5 3 .2 3 0 3-.2 3-.4 3-.5 3-.4 3-.2 3 0 3 .2 3 .4 3 .5 3 .4 3 .3 3 0 3-.2 3-.4 3-.4 3-.4 3-.3 3 0 3 .2 3 .4 3 .4 3 .4 3 .2 3 .1 3-.2 3-.3 3-.5 3-.4 3-.1 3 0 3 .3 3 .4 3 .4 3 .3 3 .1 3 0 3-.2 3-.3 3-.4 3-.3 3-.1 3 0 3 .2 3 .3 3 .3 3 .2 3 .1 3 0 3-.2 3-.3 3-.3 3-.1 3 0 3 .1 3 .2 3 .2 3 0 3-.1 3-.3 3-.1 3 0 3 .2 3 .3 3 .3 3 .2 3 0 3-.1 3-.4 3-.4 3-.2 3-.1 3 .2 3 .2 3 .3 3 .1 3 0 3-.1 3-.3 3-.2 3-.2 3-.1 3 .2 3 .2 3 .3 3 .3 3 .1 3 .1 3 0 3-.2 3-.2 3-.3 3-.3 3-.2 3-.1 3 .2 3 .2 3 .4 3 .2 3 .1 3-.1 3-.2 3-.3 3-.2 3-.2 3-.1 3 0 3 .1 3 .3 3 .2 3 .3 3 .1 3 .1 3-.2 3-.2 3-.3 3-.2 3 0 3 .3 3 .4 3 .3 3 .2 3 0 3-.2 3-.3 3-.2 3-.2 3-.1 3 0 3 .1 3 .1 3 0 3 .1 3 0 3 0 3-.1 3-.2 3-.2 3-.2 3 0 3 .1 3 .3 3 .3 3 .4 3 .3 3 .1 3-.2 3-.3 3-.3 3-.3 3-.1 3 0 3 .2 3 .3 3 .2 3 .2 3 .1 3-.1 3-.3 3-.3 3-.3 3-.2 3-.1 3 0 3 .2 3 .3 3 .3 3 .2 3 .1 3 0 3-.2 3-.1 3-.1 3 .2 3 .2 3 .1 3 0 3-.3 3-.2 3-.3 3-.1 3 .1 3 .1 3 .1 3 .1 3 0 3 .1 3-.2 3-.3 3 0 L2373.8,441.6 V714.8 H1307.5Z" fill="#0000f0" stroke="#000" stroke-width="1.3" stroke-linejoin="round"/>
<path d="M1307.5,459.8 L1313.5,459.8l3 .1 3 0 3 0 3-.1 3-.1 3-.1 3-.1 3 0 3 0 3 .1 3 0 3 .2 3 .1 3 0 3 0 3 0 3-.2 3-.1 3-.2 3-.1 3 0 3 .1 3 .2 3 .2 3 .2 3 .2 3 .1 3-.1 3-.2 3-.3 3-.3 3-.1 3-.1 3 0 3 .1 3 0 3 .1 3 .1 3-.1 3-.1 3-.1 3-.1 3 0 3 .1 3 .1 3 .1 3 .1 3 0 3-.1 3 0 3-.1 3-.1 3 0 3 .1 3 .1 3 .1 3 .2 3 .1 3 .1 3 .1 3-.1 3-.1 3-.2 3-.1 3-.1 3 0 3 0 3 .1 3 .1 3 .2 3 .1 3 0 3-.1 3-.3 3-.3 3-.3 3 0 3 0 3 .2 3 .2 3 .2 3 .3 3 .1 3 0 3-.3 3-.4 3-.4 3-.4 3-.1 3 .3 3 .5 3 .5 3 .4 3 .2 3 0 3-.2 3-.3 3-.3 3-.3 3-.2 3-.1 3 .2 3 .3 3 .4 3 .5 3 .3 3 0 3-.3 3-.6 3-.7 3-.5 3-.2 3 .2 3 .4 3 .5 3 .6 3 .4 3 .2 3-.2 3-.4 3-.5 3-.6 3-.4 3 0 3 .4 3 .6 3 .8 3 .5 3 .3 3-.2 3-.5 3-.7 3-.7 3-.4 3 0 3 .3 3 .6 3 .7 3 .6 3 .3 3-.2 3-.5 3-.8 3-.8 3-.5 3 0 3 .4 3 .8 3 .8 3 .5 3 .1 3-.3 3-.5 3-.7 3-.6 3-.3 3 0 3 .3 3 .6 3 .6 3 .6 3 .3 3-.1 3-.3 3-.5 3-.5 3-.6 3-.3 3 .1 3 .4 3 .6 3 .6 3 .5 3 .1 3-.2 3-.4 3-.5 3-.6 3-.4 3-.3 3 0 3 .3 3 .5 3 .6 3 .4 3 .2 3-.1 3-.4 3-.6 3-.5 3-.4 3-.1 3 .2 3 .4 3 .6 3 .5 3 .4 3 .1 3-.2 3-.4 3-.5 3-.5 3-.3 3 .1 3 .3 3 .4 3 .5 3 .3 3 .1 3-.1 3-.3 3-.4 3-.4 3-.1 3 0 3 .3 3 .4 3 .3 3 .1 3-.1 3-.4 3-.4 3-.3 3-.1 3 .2 3 .3 3 .4 3 .3 3 .1 3-.1 3-.4 3-.4 3-.3 3-.1 3 .2 3 .2 3 .3 3 .2 3 .1 3-.1 3-.2 3-.3 3-.2 3-.1 3 0 3 .3 3 .3 3 .4 3 .2 3 .1 3-.1 3-.3 3-.4 3-.4 3-.3 3-.1 3 .1 3 .2 3 .3 3 .4 3 .2 3 .1 3-.1 3-.2 3-.3 3-.2 3-.2 3 0 3 .1 3 .2 3 .3 3 .3 3 .2 3 0 3-.2 3-.2 3-.3 3-.2 3 0 3 .1 3 .3 3 .2 3 .3 3 .2 3 0 3-.2 3-.2 3-.4 3-.3 3-.2 3 .1 3 .2 3 .3 3 .4 3 .3 3 .1 3-.1 3-.2 3-.3 3-.3 3-.2 3-.1 3 .1 3 .3 3 .3 3 .2 3 .1 3-.1 3-.2 3-.3 3-.3 3-.2 3 0 3 .2 3 .3 3 .3 3 .3 3 0 3-.1 3-.2 3-.2 3-.2 3-.1 3 0 3 .1 3 .2 3 .3 3 .2 3 .1 3-.1 3-.4 3-.4 3-.4 3-.2 3 .2 3 .4 3 .5 3 .3 3-.1 3-.2 3-.4 3-.2 3-.1 3 0 3 .3 3 .2 3 .3 3 .1 3 0 3-.4 3-.6 3 0 L2373.8,459 V714.8 H1307.5Z" fill="#0018ff" stroke="#000" stroke-width="1.3" stroke-linejoin="round"/>
<path d="M1307.5,474.4 L1313.5,474.4l3 .2 3 .2 3 .1 3 0 3-.1 3-.2 3-.1 3 0 3 .1 3 .2 3 .2 3 .3 3 .1 3-.1 3-.1 3-.2 3-.2 3-.2 3-.2 3 0 3 0 3 .2 3 .2 3 .2 3 .1 3 .1 3 0 3-.2 3-.3 3-.2 3-.2 3-.1 3 .1 3 .2 3 .2 3 .3 3 .1 3 0 3-.1 3-.3 3-.2 3-.2 3 0 3 .1 3 .3 3 .2 3 .2 3 .1 3 0 3-.1 3-.3 3-.2 3-.1 3-.1 3 .1 3 .1 3 .2 3 .2 3 0 3 0 3-.2 3-.1 3-.2 3 0 3 .1 3 .2 3 .1 3 .2 3 .1 3 0 3 0 3-.1 3-.2 3-.3 3-.3 3-.2 3-.1 3 0 3 .2 3 .2 3 .3 3 .3 3 .2 3 .1 3-.2 3-.4 3-.4 3-.3 3-.1 3 .3 3 .5 3 .6 3 .6 3 .3 3-.1 3-.4 3-.7 3-.7 3-.5 3-.2 3 .2 3 .4 3 .7 3 .6 3 .4 3 .2 3-.1 3-.5 3-.8 3-.8 3-.5 3-.2 3 .2 3 .5 3 .8 3 .7 3 .6 3 .2 3-.3 3-.8 3-.9 3-.7 3-.3 3 .1 3 .6 3 .9 3 .8 3 .6 3 .2 3-.4 3-.8 3-.9 3-.7 3-.4 3 .1 3 .6 3 .9 3 .9 3 .6 3 0 3-.4 3-.8 3-.8 3-.7 3-.3 3 .2 3 .6 3 .9 3 .7 3 .5 3 0 3-.5 3-.7 3-.8 3-.6 3-.4 3 0 3 .4 3 .6 3 .8 3 .7 3 .4 3 .1 3-.4 3-.7 3-.8 3-.7 3-.4 3 0 3 .4 3 .6 3 .7 3 .6 3 .4 3 0 3-.3 3-.6 3-.6 3-.6 3-.2 3 .1 3 .5 3 .6 3 .7 3 .6 3 .2 3-.1 3-.5 3-.7 3-.7 3-.6 3-.2 3 .1 3 .5 3 .6 3 .5 3 .3 3 .1 3-.3 3-.4 3-.5 3-.5 3-.3 3-.1 3 .2 3 .5 3 .5 3 .4 3 .2 3-.1 3-.4 3-.5 3-.5 3-.2 3 .2 3 .5 3 .7 3 .5 3 .2 3-.2 3-.4 3-.5 3-.3 3-.2 3 .1 3 .3 3 .4 3 .3 3 .1 3-.1 3-.4 3-.4 3-.1 3 0 3 .3 3 .3 3 .2 3 .1 3-.1 3-.2 3-.4 3-.3 3-.2 3 0 3 .1 3 .3 3 .4 3 .3 3 .2 3 0 3-.1 3-.2 3-.3 3-.2 3 0 3 .1 3 .1 3 .2 3 .2 3 .2 3 .2 3 .1 3-.1 3-.2 3-.4 3-.4 3-.3 3-.2 3 .1 3 .3 3 .4 3 .3 3 .3 3 0 3-.1 3-.4 3-.4 3-.4 3-.2 3 0 3 .3 3 .4 3 .3 3 .2 3 0 3-.3 3-.3 3-.3 3-.2 3 0 3 .2 3 .4 3 .4 3 .4 3 .2 3 .1 3-.2 3-.3 3-.4 3-.3 3-.3 3 0 3 .1 3 .3 3 .2 3 .3 3 .1 3 0 3-.2 3-.4 3-.2 3-.2 3 .1 3 .3 3 .4 3 .4 3 .4 3 .1 3-.1 3-.3 3-.4 3-.4 3-.3 3-.2 3 .1 3 .2 3 .5 3 .3 3 .2 3 0 3-.3 3-.4 3-.4 3-.2 3 .2 3 .4 3 .4 3 .1 3-.2 3-.4 3-.3 3-.1 3 .1 3 .2 3 .3 3 .2 3 .2 3 .1 3 0 3-.7 3-.4 3 .1 L2373.8,474.4 V714.8 H1307.5Z" fill="#005cff" stroke="#000" stroke-width="1.3" stroke-linejoin="round"/>
<path d="M1307.5,495.3 L1313.5,495.3l3 .2 3 .1 3 0 3-.2 3-.2 3-.3 3-.2 3 0 3 .1 3 .2 3 .2 3 .3 3 .1 3 0 3-.1 3-.2 3-.3 3-.3 3-.1 3-.1 3 .1 3 .4 3 .5 3 .5 3 .3 3 0 3-.1 3-.4 3-.4 3-.3 3-.2 3 0 3 .1 3 .2 3 .2 3 .2 3 .1 3 .1 3-.1 3-.2 3-.2 3-.1 3-.1 3 .1 3 .1 3 .1 3 .1 3 .1 3 0 3-.2 3-.3 3-.3 3-.2 3-.1 3 .1 3 .2 3 .3 3 .3 3 .2 3 .1 3-.1 3-.2 3-.3 3-.3 3-.1 3 .1 3 .2 3 .3 3 .3 3 .2 3 .1 3-.2 3-.4 3-.4 3-.5 3-.2 3-.1 3 .3 3 .4 3 .5 3 .5 3 .3 3 .1 3-.2 3-.4 3-.5 3-.5 3-.3 3 0 3 .4 3 .6 3 .8 3 .5 3 .2 3-.2 3-.7 3-.9 3-.9 3-.7 3-.2 3 .3 3 .8 3 .9 3 .9 3 .6 3 .2 3-.4 3-.8 3-1 3-.9 3-.6 3-.1 3 .5 3 .9 3 1 3 1 3 .5 3-.1 3-.6 3-1 3-1.1 3-.8 3-.3 3 .2 3 .8 3 1 3 1 3 .7 3 .3 3-.3 3-.9 3-1 3-.9 3-.5 3 .1 3 .6 3 1 3 .9 3 .7 3 .1 3-.4 3-.9 3-1 3-.9 3-.4 3 .1 3 .8 3 1 3 1 3 .6 3 0 3-.5 3-.9 3-.9 3-.8 3-.4 3 .2 3 .6 3 .9 3 .9 3 .8 3 .4 3 0 3-.6 3-.9 3-1 3-.8 3-.4 3 .2 3 .8 3 1 3 1.1 3 .8 3 .3 3-.3 3-.8 3-1.2 3-1.1 3-.8 3-.2 3 .3 3 .8 3 1 3 .9 3 .6 3 .2 3-.3 3-.7 3-.8 3-.9 3-.5 3-.2 3 .4 3 .7 3 .8 3 .8 3 .5 3 0 3-.4 3-.7 3-.7 3-.6 3-.3 3 0 3 .4 3 .5 3 .6 3 .4 3 .1 3-.1 3-.4 3-.5 3-.5 3-.2 3 .1 3 .4 3 .6 3 .5 3 .1 3-.2 3-.4 3-.6 3-.5 3-.1 3 .1 3 .4 3 .4 3 .3 3 .1 3-.4 3-.5 3-.5 3-.1 3 .2 3 .4 3 .5 3 .4 3 .3 3 0 3-.3 3-.5 3-.5 3-.3 3 0 3 .3 3 .3 3 .4 3 .4 3 .2 3 0 3-.1 3-.2 3-.3 3-.4 3-.2 3-.1 3 .1 3 .3 3 .4 3 .4 3 .2 3 .2 3-.1 3-.2 3-.3 3-.3 3-.3 3-.2 3 0 3 .2 3 .3 3 .4 3 .2 3 0 3-.2 3-.4 3-.3 3-.4 3-.1 3 .1 3 .3 3 .4 3 .4 3 .1 3 0 3-.2 3-.3 3-.3 3-.2 3-.1 3 .2 3 .3 3 .4 3 .4 3 .2 3 0 3-.2 3-.4 3-.5 3-.3 3-.2 3 .1 3 .2 3 .4 3 .4 3 .2 3 0 3-.1 3-.4 3-.4 3-.4 3-.2 3 0 3 .3 3 .4 3 .5 3 .4 3 .1 3 0 3-.3 3-.5 3-.5 3-.4 3-.1 3 .1 3 .4 3 .5 3 .5 3 .1 3-.1 3-.4 3-.4 3-.4 3-.1 3 .2 3 .4 3 .5 3 0 3-.1 3-.3 3-.4 3-.1 3 .1 3 .2 3 .3 3 .3 3 .2 3 0 3-.1 3-.8 3-.4 3 .2 L2373.8,494.7 V714.8 H1307.5Z" fill="#00dcff" stroke="#000" stroke-width="1.3" stroke-linejoin="round"/>
<path d="M1307.5,512.2 L1313.5,512.2l3 .2 3 .1 3-.1 3-.1 3-.2 3-.3 3-.2 3-.1 3 0 3 .2 3 .2 3 .1 3 .1 3-.1 3-.2 3-.3 3-.2 3-.1 3 .1 3 .1 3 .3 3 .2 3 .2 3 .2 3 0 3 .1 3-.1 3-.2 3-.2 3-.2 3-.1 3 0 3 .1 3 .2 3 .3 3 .1 3 .1 3-.1 3-.3 3-.2 3-.2 3-.1 3 .1 3 .1 3 .3 3 .3 3 .2 3 .1 3-.1 3-.3 3-.3 3-.4 3-.2 3-.1 3 .1 3 .2 3 .3 3 .3 3 .3 3 0 3-.1 3-.3 3-.3 3-.3 3-.1 3 .1 3 .1 3 .3 3 .3 3 .2 3 .1 3 0 3-.2 3-.3 3-.3 3-.2 3-.1 3 .1 3 .4 3 .5 3 .6 3 .4 3 .1 3-.3 3-.6 3-.7 3-.7 3-.5 3-.1 3 .4 3 .7 3 .8 3 .6 3 .2 3-.3 3-.7 3-.8 3-.8 3-.5 3 .1 3 .5 3 .9 3 1 3 .8 3 .5 3 0 3-.5 3-1.1 3-1.1 3-1.1 3-.6 3 0 3 .6 3 1 3 1.2 3 1 3 .6 3-.1 3-.7 3-1.1 3-1.3 3-.8 3-.2 3 .5 3 1.1 3 1.3 3 1.1 3 .8 3 0 3-.6 3-1.3 3-1.5 3-1.1 3-.5 3 .4 3 1 3 1.3 3 1.3 3 .8 3 .1 3-.7 3-1.2 3-1.3 3-1 3-.3 3 .4 3 1.1 3 1.3 3 1.1 3 .5 3-.2 3-.8 3-1.2 3-1.3 3-1 3-.4 3 .2 3 .8 3 1.2 3 1.4 3 1.1 3 .5 3-.2 3-.9 3-1.2 3-1.3 3-.9 3-.3 3 .3 3 .9 3 1.1 3 1.2 3 .8 3 .2 3-.4 3-.9 3-1.2 3-1.2 3-.8 3-.2 3 .4 3 .9 3 1.2 3 1.2 3 .8 3 .1 3-.5 3-1 3-1.2 3-1 3-.6 3 0 3 .4 3 .9 3 .9 3 .7 3 .4 3 0 3-.5 3-.8 3-.9 3-.6 3-.2 3 .2 3 .6 3 .8 3 .7 3 .4 3 .1 3-.3 3-.6 3-.6 3-.4 3-.1 3 .3 3 .7 3 .7 3 .4 3 .1 3-.4 3-.6 3-.6 3-.4 3 0 3 .2 3 .5 3 .4 3 .2 3 0 3-.3 3-.6 3-.5 3-.1 3 .1 3 .4 3 .5 3 .5 3 .1 3-.1 3-.4 3-.5 3-.4 3-.2 3 0 3 .2 3 .3 3 .4 3 .5 3 .4 3 .1 3-.1 3-.4 3-.5 3-.4 3-.3 3-.1 3 .3 3 .4 3 .6 3 .5 3 .2 3 0 3-.3 3-.3 3-.4 3-.4 3-.3 3-.1 3 .1 3 .3 3 .4 3 .3 3 .2 3-.1 3-.4 3-.5 3-.5 3-.3 3-.1 3 .2 3 .5 3 .6 3 .5 3 .2 3-.1 3-.3 3-.6 3-.4 3-.2 3 .1 3 .2 3 .4 3 .4 3 .3 3 .1 3 0 3-.3 3-.5 3-.4 3-.4 3-.1 3 0 3 .2 3 .4 3 .5 3 .4 3 .3 3 .1 3-.3 3-.4 3-.4 3-.3 3 .1 3 .2 3 .4 3 .4 3 .3 3 .1 3-.2 3-.3 3-.5 3-.3 3-.3 3 0 3 .2 3 .4 3 .4 3 .3 3 .1 3-.1 3-.4 3-.5 3-.5 3-.1 3 .3 3 .6 3 .5 3 0 3-.3 3-.5 3-.5 3-.2 3 0 3 .3 3 .4 3 .4 3 .3 3 .2 3-.1 3-1 3-.3 3 .1 L2373.8,511.3 V714.8 H1307.5Z" fill="#40ffc0" stroke="#000" stroke-width="1.3" stroke-linejoin="round"/>
<path d="M1307.5,530.8 L1313.5,530.8l3 .2 3 .2 3 0 3-.1 3-.2 3-.2 3-.2 3 0 3 .1 3 .2 3 .2 3 .3 3 .1 3 0 3-.1 3-.3 3-.2 3-.3 3-.2 3-.1 3 .1 3 .3 3 .2 3 .2 3 .1 3-.2 3-.2 3-.3 3-.2 3-.1 3 .1 3 .1 3 .3 3 .3 3 .2 3 .1 3-.2 3-.2 3-.3 3-.3 3-.1 3 0 3 .2 3 .2 3 .2 3 .3 3 .2 3 .1 3-.1 3-.3 3-.3 3-.4 3-.2 3-.1 3 .1 3 .2 3 .4 3 .3 3 .2 3 0 3-.1 3-.3 3-.3 3-.3 3-.2 3 0 3 .3 3 .4 3 .4 3 .4 3 .2 3-.1 3-.3 3-.6 3-.6 3-.5 3-.2 3 .2 3 .5 3 .7 3 .8 3 .5 3 .1 3-.4 3-.7 3-.9 3-.7 3-.5 3 .1 3 .5 3 .9 3 1 3 .8 3 .2 3-.4 3-.9 3-1.2 3-1.1 3-.5 3 0 3 .7 3 1.1 3 1.2 3 1.1 3 .6 3 .1 3-.7 3-1.2 3-1.3 3-1.2 3-.6 3 0 3 .8 3 1.2 3 1.4 3 1.2 3 .6 3-.3 3-1 3-1.5 3-1.5 3-1 3-.2 3 .5 3 1.3 3 1.5 3 1.4 3 .8 3 .1 3-.9 3-1.5 3-1.8 3-1.3 3-.5 3 .5 3 1.4 3 1.7 3 1.6 3 .8 3 0 3-.9 3-1.5 3-1.6 3-1.2 3-.3 3 .6 3 1.4 3 1.7 3 1.3 3 .7 3-.3 3-1 3-1.5 3-1.5 3-1.1 3-.4 3 .4 3 .9 3 1.3 3 1.4 3 1.1 3 .5 3-.2 3-1 3-1.5 3-1.5 3-1 3-.3 3 .4 3 1 3 1.4 3 1.3 3 .9 3 .3 3-.5 3-1 3-1.3 3-1.3 3-.9 3-.1 3 .6 3 1.3 3 1.6 3 1.3 3 .8 3 0 3-.7 3-1.3 3-1.4 3-1.2 3-.8 3 0 3 .7 3 1.3 3 1.3 3 1 3 .5 3-.3 3-.7 3-1.1 3-1.1 3-.7 3-.3 3 .2 3 .8 3 .9 3 .8 3 .4 3 0 3-.5 3-.8 3-.8 3-.4 3 0 3 .5 3 .8 3 .7 3 .4 3 0 3-.5 3-.7 3-.7 3-.3 3 .1 3 .5 3 .5 3 .5 3 .3 3-.2 3-.5 3-.7 3-.6 3-.1 3 .2 3 .6 3 .7 3 .6 3 .2 3-.1 3-.5 3-.5 3-.6 3-.2 3-.1 3 .2 3 .4 3 .4 3 .4 3 .3 3 0 3-.3 3-.4 3-.4 3-.4 3-.2 3 0 3 .3 3 .4 3 .4 3 .4 3 .1 3 0 3-.4 3-.5 3-.5 3-.4 3-.2 3 0 3 .3 3 .4 3 .5 3 .5 3 .3 3 .1 3-.3 3-.5 3-.4 3-.3 3-.1 3 .3 3 .6 3 .5 3 .3 3 .1 3-.3 3-.5 3-.5 3-.3 3-.2 3 .1 3 .3 3 .5 3 .5 3 .4 3 .1 3-.2 3-.5 3-.5 3-.6 3-.4 3-.1 3 .2 3 .4 3 .6 3 .5 3 .4 3 0 3-.3 3-.5 3-.5 3-.2 3-.1 3 .2 3 .4 3 .4 3 .4 3 .2 3 .1 3-.2 3-.3 3-.6 3-.5 3-.4 3-.1 3 .3 3 .6 3 .6 3 .5 3 .1 3-.3 3-.5 3-.6 3-.4 3-.1 3 .3 3 .7 3 .5 3 0 3-.4 3-.5 3-.3 3-.2 3 .2 3 .3 3 .4 3 .3 3 .3 3 .1 3-.3 3-1 3-.1 3 .1 L2373.8,530.2 V714.8 H1307.5Z" fill="#c0ff40" stroke="#000" stroke-width="1.3" stroke-linejoin="round"/>
<path d="M1307.5,551.5 L1313.5,551.5l3 .2 3 .1 3-.2 3-.3 3-.4 3-.3 3-.1 3 0 3 .3 3 .3 3 .3 3 .2 3 0 3-.2 3-.2 3-.3 3-.2 3-.2 3 0 3 .1 3 .2 3 .3 3 .3 3 .1 3 0 3-.1 3-.3 3-.2 3-.2 3-.1 3 .1 3 .1 3 .3 3 .2 3 .3 3 .1 3-.1 3-.3 3-.3 3-.2 3-.1 3 0 3 .1 3 .2 3 .2 3 .3 3 .2 3 .1 3-.1 3-.2 3-.3 3-.3 3-.3 3-.1 3 .1 3 .2 3 .3 3 .3 3 .1 3 0 3-.3 3-.3 3-.3 3-.1 3 0 3 .2 3 .3 3 .4 3 .3 3 .3 3 0 3-.2 3-.5 3-.7 3-.6 3-.4 3-.1 3 .3 3 .5 3 .7 3 .6 3 .5 3 .1 3-.3 3-.7 3-.9 3-.7 3-.4 3 .2 3 .8 3 1.1 3 1.2 3 .7 3 .1 3-.7 3-1.2 3-1.4 3-1.3 3-.7 3 .1 3 .8 3 1.4 3 1.7 3 1.4 3 .9 3-.1 3-1 3-1.7 3-1.9 3-1.4 3-.7 3 .4 3 1.3 3 1.8 3 1.8 3 1.4 3 .5 3-.5 3-1.4 3-1.9 3-1.8 3-1.1 3-.2 3 .8 3 1.5 3 1.8 3 1.6 3 .8 3-.1 3-1.1 3-1.8 3-2 3-1.3 3-.4 3 .8 3 1.6 3 2 3 1.7 3 .8 3-.3 3-1.2 3-1.8 3-1.8 3-1.2 3-.2 3 .7 3 1.6 3 1.8 3 1.4 3 .6 3-.5 3-1.3 3-1.7 3-1.7 3-1.1 3-.1 3 .6 3 1.4 3 1.7 3 1.5 3 1.2 3 .3 3-.6 3-1.4 3-1.9 3-1.8 3-1.1 3-.2 3 .9 3 1.5 3 1.9 3 1.6 3 .9 3 .1 3-.9 3-1.6 3-1.7 3-1.6 3-.9 3 .1 3 .9 3 1.7 3 1.8 3 1.5 3 .7 3-.3 3-1 3-1.6 3-1.7 3-1.3 3-.5 3 .2 3 1 3 1.5 3 1.4 3 1 3 .3 3-.4 3-1 3-1.2 3-1.1 3-.6 3 0 3 .6 3 1 3 1 3 .8 3 .3 3-.3 3-.7 3-1 3-.9 3-.5 3 .1 3 .6 3 .9 3 .8 3 .4 3-.1 3-.5 3-.8 3-.7 3-.3 3 .1 3 .5 3 .7 3 .6 3 .3 3-.1 3-.5 3-.7 3-.5 3 0 3 .4 3 .6 3 .6 3 .5 3 0 3-.2 3-.6 3-.6 3-.6 3-.3 3 0 3 .3 3 .6 3 .7 3 .5 3 .2 3-.2 3-.4 3-.7 3-.6 3-.4 3-.2 3 .1 3 .5 3 .6 3 .6 3 .5 3 .2 3-.2 3-.3 3-.6 3-.6 3-.4 3-.2 3 .1 3 .5 3 .6 3 .6 3 .5 3 .1 3-.2 3-.6 3-.6 3-.5 3-.3 3 0 3 .4 3 .6 3 .6 3 .4 3 0 3-.3 3-.5 3-.5 3-.4 3-.1 3 .1 3 .4 3 .5 3 .5 3 .3 3 .1 3-.1 3-.4 3-.6 3-.5 3-.4 3 0 3 .2 3 .5 3 .5 3 .4 3 .1 3-.1 3-.3 3-.5 3-.5 3-.4 3-.1 3 .2 3 .5 3 .6 3 .5 3 .3 3 0 3-.3 3-.6 3-.7 3-.6 3-.3 3 .1 3 .5 3 .8 3 .7 3 .5 3 0 3-.4 3-.6 3-.6 3-.4 3 0 3 .6 3 .7 3 .4 3-.1 3-.4 3-.5 3-.5 3-.2 3 .1 3 .2 3 .4 3 .4 3 .3 3 .2 3-.6 3-1 3-.1 3 .3 L2373.8,550.4 V714.8 H1307.5Z" fill="#ffd000" stroke="#000" stroke-width="1.3" stroke-linejoin="round"/>
<path d="M1307.5,570.5 L1313.5,570.5l3 .1 3 0 3-.2 3-.2 3-.3 3-.2 3-.1 3 .1 3 .2 3 .2 3 .4 3 .3 3 .1 3 0 3-.3 3-.3 3-.4 3-.3 3-.2 3 .1 3 .2 3 .4 3 .4 3 .2 3 0 3-.2 3-.3 3-.3 3-.3 3-.1 3 .1 3 .2 3 .2 3 .3 3 .3 3 .1 3 0 3-.3 3-.4 3-.4 3-.2 3 0 3 .2 3 .3 3 .4 3 .1 3 .1 3-.1 3-.1 3-.1 3-.2 3-.2 3-.1 3 .1 3 .2 3 .4 3 .3 3 .2 3-.1 3-.2 3-.3 3-.4 3-.4 3-.3 3-.1 3 .2 3 .4 3 .6 3 .5 3 .3 3 0 3-.3 3-.5 3-.7 3-.6 3-.5 3 0 3 .4 3 .7 3 1 3 .8 3 .4 3 0 3-.6 3-1 3-1 3-.9 3-.4 3 .2 3 1 3 1.3 3 1.3 3 .8 3 0 3-.8 3-1.4 3-1.6 3-1.3 3-.6 3 .3 3 1.2 3 1.7 3 1.8 3 1.4 3 .7 3-.3 3-1.2 3-1.9 3-2 3-1.5 3-.6 3 .5 3 1.4 3 1.8 3 1.9 3 1.4 3 .6 3-.6 3-1.5 3-2.2 3-2.1 3-1.2 3 .1 3 1.2 3 1.9 3 2.1 3 1.6 3 .7 3-.5 3-1.6 3-2.2 3-2.1 3-1.3 3 0 3 1.1 3 2.1 3 2.2 3 1.8 3 .7 3-.6 3-1.7 3-2.2 3-2.1 3-1.2 3 0 3 1.2 3 2 3 2.2 3 1.6 3 .5 3-.7 3-1.7 3-2.2 3-2 3-1.2 3 0 3 1 3 1.7 3 2 3 1.7 3 1.1 3 .2 3-.9 3-1.7 3-2 3-1.9 3-1.1 3-.1 3 1 3 1.8 3 2.1 3 1.7 3 .9 3-.1 3-1.2 3-1.8 3-1.9 3-1.5 3-.8 3 .2 3 1.2 3 1.7 3 1.9 3 1.5 3 .7 3-.3 3-1.3 3-1.8 3-1.9 3-1.4 3-.5 3 .5 3 1.3 3 1.8 3 1.7 3 1.1 3 .3 3-.6 3-1.3 3-1.5 3-1.3 3-.8 3-.1 3 .7 3 1.2 3 1.3 3 1.1 3 .5 3-.2 3-.9 3-1.1 3-.9 3-.4 3 .2 3 .7 3 1 3 .8 3 .3 3-.2 3-.8 3-.9 3-.8 3-.4 3 .3 3 .6 3 .8 3 .6 3 .3 3-.3 3-.8 3-.9 3-.6 3 0 3 .5 3 .8 3 .8 3 .6 3 .1 3-.3 3-.7 3-.7 3-.6 3-.3 3 .2 3 .4 3 .7 3 .6 3 .4 3 .2 3-.3 3-.5 3-.6 3-.6 3-.5 3-.1 3 .1 3 .5 3 .6 3 .7 3 .5 3 .1 3-.2 3-.4 3-.6 3-.6 3-.4 3-.3 3 .1 3 .4 3 .6 3 .7 3 .5 3 .2 3-.3 3-.6 3-.7 3-.6 3-.3 3 .1 3 .6 3 .8 3 .7 3 .4 3-.1 3-.4 3-.6 3-.6 3-.5 3-.2 3 0 3 .4 3 .6 3 .5 3 .4 3 .2 3-.2 3-.4 3-.6 3-.5 3-.4 3 0 3 .4 3 .7 3 .7 3 .5 3 .2 3-.2 3-.5 3-.6 3-.7 3-.4 3-.2 3 .2 3 .6 3 .7 3 .7 3 .4 3 .1 3-.3 3-.5 3-.6 3-.7 3-.3 3-.1 3 .4 3 .8 3 .7 3 .5 3 0 3-.5 3-.8 3-.9 3-.6 3 0 3 .8 3 1 3 .5 3-.2 3-.5 3-.6 3-.4 3 0 3 .2 3 .4 3 .5 3 .4 3 .3 3 0 3-.9 3-1.1 3 0 3 .3 L2373.8,569.3 V714.8 H1307.5Z" fill="#ff5000" stroke="#000" stroke-width="1.3" stroke-linejoin="round"/>
<path d="M1307.5,591 L1313.5,591l3 .1 3-.1 3-.3 3-.3 3-.3 3-.2 3 0 3 .1 3 .2 3 .3 3 .2 3 .1 3 0 3-.2 3-.3 3-.3 3-.2 3-.1 3 .1 3 .2 3 .3 3 .4 3 .3 3 .1 3-.1 3-.3 3-.4 3-.4 3-.2 3-.1 3 .2 3 .3 3 .3 3 .4 3 .2 3 0 3-.2 3-.3 3-.3 3-.4 3-.2 3-.1 3 .1 3 .4 3 .5 3 .4 3 .3 3 .1 3-.2 3-.4 3-.4 3-.4 3-.1 3 0 3 .2 3 .4 3 .5 3 .3 3 .2 3-.1 3-.4 3-.4 3-.4 3-.4 3-.1 3 .2 3 .3 3 .5 3 .5 3 .3 3 0 3-.3 3-.6 3-.8 3-.7 3-.3 3 0 3 .5 3 .8 3 1 3 .7 3 .3 3-.3 3-.7 3-1.1 3-1.1 3-.8 3-.2 3 .6 3 1.3 3 1.7 3 1.4 3 .7 3-.3 3-1.3 3-1.7 3-1.8 3-1.3 3-.4 3 .6 3 1.5 3 2 3 2 3 1.6 3 .6 3-.5 3-1.6 3-2.2 3-2.1 3-1.4 3-.4 3 .7 3 1.5 3 1.9 3 2 3 1.4 3 .4 3-.9 3-2.1 3-2.5 3-2.2 3-1.2 3 .3 3 1.5 3 2.3 3 2.3 3 1.9 3 .7 3-.7 3-1.9 3-2.6 3-2.3 3-1.4 3 .2 3 1.5 3 2.5 3 2.5 3 1.9 3 .5 3-1 3-2.1 3-2.6 3-2.3 3-1.1 3 .4 3 1.7 3 2.5 3 2.4 3 1.5 3 .3 3-1.1 3-2 3-2.5 3-2.1 3-1.1 3 .1 3 1.3 3 2 3 2.4 3 2 3 1.1 3 0 3-1.2 3-2.2 3-2.4 3-2 3-1 3 .4 3 1.5 3 2.2 3 2.5 3 1.9 3 .8 3-.5 3-1.6 3-2.2 3-2.4 3-1.7 3-.8 3 .4 3 1.5 3 2.2 3 2.2 3 1.6 3 .6 3-.5 3-1.5 3-2 3-2 3-1.4 3-.5 3 .6 3 1.5 3 1.9 3 1.8 3 1.2 3 .1 3-.8 3-1.5 3-1.6 3-1.4 3-.7 3 0 3 .7 3 1.2 3 1.4 3 1.1 3 .4 3-.2 3-.9 3-1.2 3-1 3-.6 3 .2 3 .8 3 1.1 3 .8 3 .4 3-.3 3-.9 3-1 3-.7 3-.2 3 .5 3 .7 3 .9 3 .6 3 .2 3-.4 3-.8 3-.9 3-.4 3 0 3 .6 3 .7 3 .8 3 .3 3-.1 3-.4 3-.7 3-.7 3-.6 3-.1 3 .2 3 .6 3 .8 3 .8 3 .4 3 .1 3-.4 3-.8 3-.8 3-.6 3-.4 3 0 3 .3 3 .5 3 .8 3 .7 3 .5 3 .2 3-.2 3-.6 3-.6 3-.7 3-.6 3-.2 3 .1 3 .5 3 .7 3 .6 3 .5 3 .1 3-.3 3-.6 3-.7 3-.5 3-.3 3 .2 3 .6 3 .7 3 .7 3 .4 3 0 3-.4 3-.6 3-.7 3-.5 3-.3 3 .2 3 .4 3 .7 3 .6 3 .4 3 .1 3-.2 3-.6 3-.6 3-.6 3-.3 3 0 3 .4 3 .7 3 .6 3 .4 3 .1 3-.3 3-.5 3-.7 3-.5 3-.3 3 0 3 .3 3 .5 3 .6 3 .6 3 .3 3 .1 3-.4 3-.5 3-.8 3-.6 3-.3 3 .1 3 .5 3 .8 3 .8 3 .4 3-.1 3-.5 3-.8 3-.7 3-.3 3 .2 3 .9 3 .8 3 .3 3-.3 3-.7 3-.7 3-.4 3-.1 3 .3 3 .4 3 .5 3 .5 3 .4 3 .1 3-1 3-.8 3 .2 3 .3 L2373.8,590.2 V714.8 H1307.5Z" fill="#ff1000" stroke="#000" stroke-width="1.3" stroke-linejoin="round"/>
<path d="M1307.5,613.5 L1313.5,613.5l3 .2 3-.1 3-.3 3-.4 3-.4 3-.3 3-.1 3 .2 3 .3 3 .4 3 .3 3 .1 3-.2 3-.3 3-.4 3-.5 3-.3 3-.1 3 .2 3 .3 3 .4 3 .3 3 .2 3 .1 3-.1 3-.2 3-.3 3-.3 3-.3 3 0 3 .1 3 .2 3 .3 3 .3 3 .2 3 0 3-.3 3-.3 3-.4 3-.2 3-.2 3 .1 3 .3 3 .4 3 .4 3 .3 3 .1 3-.1 3-.3 3-.4 3-.4 3-.3 3-.1 3 .2 3 .3 3 .5 3 .3 3 .2 3-.1 3-.2 3-.4 3-.4 3-.5 3-.3 3 0 3 .3 3 .6 3 .7 3 .6 3 .4 3-.1 3-.5 3-.7 3-.7 3-.6 3-.2 3 .2 3 .5 3 .9 3 .9 3 .7 3 .2 3-.3 3-1 3-1.2 3-1.3 3-.9 3-.1 3 .8 3 1.6 3 1.9 3 1.5 3 .7 3-.5 3-1.4 3-2.1 3-2.1 3-1.6 3-.4 3 .7 3 1.6 3 2.1 3 2.2 3 1.5 3 .6 3-.7 3-1.9 3-2.4 3-2.2 3-1.4 3-.2 3 1.1 3 2 3 2.5 3 2.4 3 1.4 3 .2 3-1.4 3-2.6 3-2.9 3-2.4 3-1.1 3 .5 3 1.8 3 2.7 3 2.7 3 1.9 3 .6 3-1.1 3-2.4 3-2.8 3-2.5 3-1.2 3 .4 3 1.9 3 2.8 3 2.9 3 2 3 .4 3-1.3 3-2.6 3-2.9 3-2.4 3-.9 3 .6 3 2.2 3 2.8 3 2.6 3 1.5 3 0 3-1.5 3-2.4 3-2.8 3-2.4 3-1.2 3 .3 3 1.6 3 2.4 3 2.6 3 2.1 3 1.1 3-.2 3-1.5 3-2.4 3-2.6 3-2 3-.9 3 .4 3 1.7 3 2.5 3 2.6 3 2 3 .7 3-.6 3-1.9 3-2.5 3-2.4 3-1.9 3-.7 3 .7 3 1.8 3 2.6 3 2.6 3 1.8 3 .5 3-.9 3-2 3-2.6 3-2.3 3-1.4 3-.2 3 1 3 1.9 3 2.3 3 1.9 3 1.1 3 0 3-1 3-1.7 3-2 3-1.5 3-.8 3 .2 3 1.1 3 1.5 3 1.5 3 1 3 .3 3-.5 3-1 3-1.3 3-.9 3-.4 3 .5 3 1 3 1.1 3 .8 3 .2 3-.6 3-1.1 3-1.1 3-.8 3 0 3 .6 3 1 3 1.1 3 .8 3 .3 3-.5 3-1 3-1 3-.5 3 .2 3 .6 3 .8 3 .7 3 .2 3-.2 3-.7 3-.8 3-.8 3-.5 3-.1 3 .3 3 .6 3 .8 3 .8 3 .6 3 .1 3-.4 3-.6 3-.8 3-.7 3-.4 3 0 3 .4 3 .6 3 .7 3 .7 3 .4 3 0 3-.3 3-.6 3-.7 3-.8 3-.5 3-.2 3 .3 3 .7 3 .9 3 .7 3 .4 3 0 3-.5 3-.8 3-.8 3-.7 3-.3 3 .2 3 .7 3 .9 3 .7 3 .3 3-.2 3-.5 3-.8 3-.7 3-.4 3-.1 3 .4 3 .6 3 .8 3 .8 3 .4 3 0 3-.4 3-.8 3-.9 3-.7 3-.3 3 .1 3 .5 3 .7 3 .7 3 .6 3 .2 3-.2 3-.6 3-.7 3-.6 3-.4 3 0 3 .3 3 .5 3 .6 3 .5 3 .3 3 0 3-.3 3-.7 3-.7 3-.5 3-.2 3 .3 3 .7 3 1 3 .9 3 .5 3-.2 3-.6 3-.9 3-.9 3-.4 3 .4 3 .9 3 .8 3 .1 3-.5 3-.9 3-.7 3-.5 3 0 3 .4 3 .5 3 .6 3 .6 3 .4 3 .1 3-1.3 3-.7 3 .1 3 .4 L2373.8,612 V714.8 H1307.5Z" fill="#dc0000" stroke="#000" stroke-width="1.3" stroke-linejoin="round"/>
<path d="M1307.5,636.2 L1313.5,636.2l3 .1 3-.1 3-.4 3-.4 3-.4 3-.3 3 0 3 .1 3 .3 3 .4 3 .3 3 .2 3 0 3-.2 3-.3 3-.4 3-.3 3-.1 3 .1 3 .2 3 .3 3 .3 3 .2 3 0 3-.2 3-.3 3-.5 3-.3 3-.2 3 0 3 .2 3 .4 3 .5 3 .3 3 .2 3 0 3-.2 3-.5 3-.5 3-.4 3-.2 3 .1 3 .3 3 .6 3 .5 3 .4 3 .2 3 0 3-.4 3-.5 3-.6 3-.4 3-.1 3 .2 3 .5 3 .6 3 .4 3 .3 3 0 3-.3 3-.4 3-.5 3-.4 3-.3 3-.1 3 .3 3 .6 3 .7 3 .6 3 .4 3-.1 3-.5 3-.9 3-1 3-.7 3-.3 3 .2 3 .7 3 1 3 1.1 3 .9 3 .4 3-.3 3-1.1 3-1.4 3-1.5 3-.9 3-.1 3 1 3 1.8 3 2 3 1.7 3 .6 3-.6 3-1.6 3-2.3 3-2.3 3-1.6 3-.4 3 .9 3 2 3 2.5 3 2.3 3 1.5 3 .3 3-1.2 3-2.4 3-2.9 3-2.5 3-1.4 3 .1 3 1.5 3 2.5 3 2.9 3 2.6 3 1.4 3-.2 3-1.8 3-3 3-3.1 3-2.4 3-.9 3 .9 3 2.3 3 3 3 3 3 2 3 .5 3-1.4 3-2.9 3-3.3 3-2.7 3-1.2 3 .6 3 2.4 3 3.3 3 3.2 3 1.9 3 .2 3-1.7 3-3 3-3.3 3-2.5 3-.9 3 .9 3 2.5 3 3.3 3 3 3 1.7 3-.2 3-1.8 3-2.8 3-3.1 3-2.3 3-.8 3 .7 3 2.1 3 2.8 3 2.8 3 2 3 .8 3-.8 3-2.2 3-3 3-3 3-2.1 3-.7 3 .9 3 2.2 3 2.9 3 2.9 3 2.1 3 .6 3-1.1 3-2.3 3-3.1 3-2.8 3-1.9 3-.4 3 1 3 2.3 3 2.9 3 2.6 3 1.7 3 .4 3-1.2 3-2.3 3-2.6 3-2.3 3-1.2 3 .1 3 1.2 3 2.1 3 2.4 3 1.9 3 .9 3-.3 3-1.4 3-2.1 3-2.1 3-1.4 3-.5 3 .5 3 1.4 3 1.9 3 1.7 3 1.1 3 .2 3-.8 3-1.5 3-1.6 3-1.1 3-.3 3 .6 3 1.2 3 1.2 3 .8 3 .1 3-.7 3-1 3-1 3-.5 3 .2 3 .7 3 1 3 .9 3 .6 3-.1 3-.8 3-1.2 3-1.1 3-.4 3 .2 3 .8 3 1 3 .8 3 .5 3-.1 3-.5 3-.9 3-.8 3-.6 3-.1 3 .3 3 .6 3 .8 3 .7 3 .4 3 0 3-.5 3-.8 3-.8 3-.6 3-.3 3 .3 3 .5 3 .8 3 .7 3 .6 3 .4 3 0 3-.4 3-.8 3-.9 3-.8 3-.6 3-.1 3 .4 3 .8 3 1.1 3 .9 3 .5 3 0 3-.5 3-.9 3-.9 3-.6 3-.2 3 .3 3 .7 3 .9 3 .7 3 .2 3-.2 3-.7 3-.9 3-.8 3-.6 3-.1 3 .4 3 .7 3 .8 3 .6 3 .4 3 0 3-.3 3-.7 3-.7 3-.5 3-.3 3 .1 3 .5 3 .7 3 .7 3 .5 3 0 3-.4 3-.7 3-.7 3-.5 3-.1 3 .3 3 .6 3 .6 3 .6 3 .4 3 .1 3-.3 3-.5 3-.8 3-.7 3-.4 3-.1 3 .4 3 .7 3 .8 3 .6 3 .3 3-.2 3-.7 3-.8 3-.7 3-.2 3 .6 3 1.1 3 .8 3 0 3-.6 3-.8 3-.7 3-.3 3 .2 3 .4 3 .5 3 .6 3 .5 3 .2 3-.4 3-1.6 3-.6 3 .3 3 .5 L2373.8,634.7 V714.8 H1307.5Z" fill="#b00000" stroke="#000" stroke-width="1.3" stroke-linejoin="round"/>
<path d="M1307.5,660.2 L1313.5,660.2l3 .2 3-.1 3-.3 3-.4 3-.5 3-.3 3-.1 3 .2 3 .4 3 .5 3 .4 3 .2 3-.1 3-.3 3-.5 3-.4 3-.4 3-.2 3 .1 3 .3 3 .4 3 .4 3 .4 3 .1 3-.1 3-.3 3-.4 3-.4 3-.3 3 0 3 .2 3 .3 3 .3 3 .4 3 .2 3 .1 3-.2 3-.4 3-.4 3-.4 3-.3 3 .1 3 .3 3 .5 3 .5 3 .4 3 .2 3-.2 3-.4 3-.5 3-.5 3-.3 3-.1 3 .2 3 .5 3 .5 3 .4 3 .3 3 0 3-.3 3-.4 3-.5 3-.4 3-.3 3 0 3 .3 3 .6 3 .7 3 .7 3 .3 3-.1 3-.5 3-.9 3-1 3-.7 3-.2 3 .3 3 .8 3 1.2 3 1.1 3 .8 3 .1 3-.6 3-1.2 3-1.6 3-1.5 3-.9 3 0 3 1.2 3 2 3 2.2 3 1.5 3 .4 3-1 3-2.1 3-2.6 3-2.3 3-1.2 3 .1 3 1.4 3 2.4 3 2.8 3 2.5 3 1.5 3 .1 3-1.5 3-2.7 3-3.2 3-2.7 3-1.4 3 .2 3 1.8 3 2.9 3 3.2 3 2.7 3 1.4 3-.4 3-2.3 3-3.3 3-3.4 3-2.4 3-.5 3 1.2 3 2.7 3 3.3 3 2.8 3 1.8 3 0 3-1.8 3-3.2 3-3.6 3-2.7 3-.9 3 1.2 3 2.9 3 3.7 3 3.2 3 1.7 3-.4 3-2.2 3-3.5 3-3.6 3-2.5 3-.6 3 1.5 3 3.1 3 3.6 3 3 3 1.5 3-.6 3-2.2 3-3.3 3-3.4 3-2.3 3-.7 3 1 3 2.5 3 3.1 3 3.2 3 2.2 3 .9 3-.9 3-2.5 3-3.5 3-3.4 3-2.3 3-.6 3 1.3 3 2.7 3 3.3 3 3.2 3 2 3 .3 3-1.4 3-2.7 3-3.3 3-3 3-1.8 3-.2 3 1.6 3 2.9 3 3.3 3 2.7 3 1.5 3-.1 3-1.6 3-2.8 3-3 3-2.5 3-1.3 3 .3 3 1.5 3 2.5 3 2.7 3 2.1 3 .9 3-.4 3-1.5 3-2.1 3-2.2 3-1.5 3-.6 3 .4 3 1.4 3 1.9 3 1.6 3 1 3-.1 3-1 3-1.5 3-1.6 3-1 3 0 3 .9 3 1.4 3 1.5 3 .8 3 .1 3-.8 3-1.3 3-1.2 3-.7 3 .1 3 .8 3 1.2 3 1 3 .6 3-.1 3-1 3-1.2 3-1 3-.3 3 .4 3 .9 3 1 3 .9 3 .3 3-.2 3-.7 3-.8 3-.8 3-.4 3 0 3 .4 3 .8 3 .9 3 .7 3 .3 3-.3 3-.6 3-.8 3-.9 3-.7 3-.4 3 .1 3 .5 3 .9 3 1 3 .7 3 .4 3-.1 3-.5 3-.8 3-.8 3-.7 3-.4 3 0 3 .5 3 .8 3 1 3 .7 3 .3 3-.3 3-.8 3-.9 3-.9 3-.5 3 0 3 .5 3 .9 3 .9 3 .6 3 .1 3-.3 3-.6 3-.8 3-.6 3-.3 3 .1 3 .4 3 .7 3 .8 3 .6 3 .3 3-.2 3-.6 3-.9 3-.9 3-.7 3-.2 3 .2 3 .7 3 1 3 .9 3 .5 3 0 3-.5 3-.8 3-1 3-.7 3-.2 3 .2 3 .5 3 .8 3 .9 3 .6 3 .3 3-.2 3-.7 3-.9 3-.9 3-.5 3 0 3 .5 3 .9 3 1 3 .7 3 .2 3-.4 3-.9 3-1 3-.8 3-.1 3 .8 3 1.3 3 .8 3-.1 3-.6 3-.9 3-.6 3-.2 3 .1 3 .4 3 .4 3 .5 3 .4 3 .2 3-.5 3-1.7 3-.2 3 .4 3 .6 L2373.8,659 V714.8 H1307.5Z" fill="#a00000" stroke="#000" stroke-width="1.3" stroke-linejoin="round"/>
<path d="M1307.5,682 L1313.5,682l3 0 3-.1 3-.3 3-.5 3-.4 3-.3 3 0 3 .3 3 .4 3 .5 3 .3 3 .1 3-.1 3-.3 3-.4 3-.3 3-.2 3 0 3 .2 3 .3 3 .5 3 .4 3 .2 3 .1 3-.2 3-.3 3-.5 3-.4 3-.2 3-.1 3 .2 3 .4 3 .4 3 .4 3 .2 3-.1 3-.4 3-.4 3-.5 3-.4 3-.1 3 .1 3 .3 3 .6 3 .6 3 .4 3 0 3-.2 3-.5 3-.5 3-.4 3-.1 3 0 3 .3 3 .4 3 .4 3 .4 3 .2 3-.1 3-.4 3-.7 3-.6 3-.5 3-.2 3 .2 3 .6 3 .9 3 .8 3 .6 3 .1 3-.3 3-.7 3-1 3-.9 3-.6 3-.1 3 .5 3 1 3 1.2 3 1 3 .7 3-.1 3-.9 3-1.4 3-1.6 3-1.3 3-.5 3 .4 3 1.6 3 2.3 3 2.2 3 1.4 3 0 3-1.3 3-2.4 3-2.8 3-2.4 3-1.2 3 .3 3 1.8 3 2.8 3 3 3 2.5 3 1.3 3-.3 3-2 3-3.2 3-3.4 3-2.7 3-1.1 3 .8 3 2.2 3 3.2 3 3.3 3 2.5 3 1.1 3-.8 3-2.6 3-3.6 3-3.6 3-2.3 3-.3 3 1.6 3 3.1 3 3.7 3 3.1 3 1.8 3-.2 3-2.4 3-3.7 3-3.9 3-2.8 3-.7 3 1.6 3 3.4 3 3.9 3 3.2 3 1.5 3-.7 3-2.8 3-3.9 3-3.7 3-2.4 3-.3 3 2.1 3 3.7 3 4.1 3 3.2 3 1.3 3-1 3-2.8 3-3.7 3-3.6 3-2.4 3-.5 3 1.4 3 2.7 3 3.5 3 3.3 3 2.3 3 .7 3-1.2 3-2.9 3-3.7 3-3.4 3-2.1 3-.3 3 1.6 3 2.9 3 3.5 3 3.1 3 1.9 3 .1 3-1.6 3-2.9 3-3.5 3-3.1 3-1.8 3 0 3 1.7 3 3.1 3 3.5 3 3 3 1.7 3-.3 3-2 3-3.1 3-3.5 3-2.7 3-1.3 3 .5 3 2 3 2.9 3 2.9 3 2.2 3 .8 3-.6 3-1.9 3-2.5 3-2.3 3-1.6 3-.5 3 .8 3 1.8 3 2.2 3 1.7 3 .9 3-.3 3-1.2 3-1.8 3-1.5 3-.8 3 .2 3 1 3 1.6 3 1.4 3 .7 3-.3 3-1 3-1.5 3-1.2 3-.6 3 .3 3 .9 3 1.1 3 1 3 .5 3-.3 3-1 3-1.2 3-.9 3-.2 3 .4 3 1 3 1 3 .8 3 .3 3-.3 3-.7 3-1 3-.8 3-.5 3 .2 3 .5 3 1 3 1 3 .8 3 .4 3-.1 3-.7 3-1 3-1 3-.8 3-.3 3 .2 3 .5 3 .8 3 .8 3 .6 3 .3 3 0 3-.5 3-.7 3-.9 3-.7 3-.4 3 .1 3 .6 3 .9 3 .9 3 .7 3 .2 3-.4 3-.8 3-1 3-.9 3-.5 3 0 3 .7 3 1.1 3 1.1 3 .7 3 .2 3-.5 3-.9 3-.9 3-.8 3-.3 3 .1 3 .5 3 .8 3 .8 3 .7 3 .3 3-.1 3-.7 3-.8 3-.9 3-.7 3-.3 3 .2 3 .7 3 1 3 .9 3 .5 3 0 3-.6 3-.8 3-.9 3-.6 3-.2 3 .4 3 .7 3 .9 3 .9 3 .5 3 .1 3-.4 3-.7 3-.9 3-.7 3-.5 3-.1 3 .4 3 .8 3 .9 3 .6 3 .2 3-.5 3-.9 3-.9 3-.6 3 .1 3 1 3 1.4 3 .7 3-.3 3-.8 3-1.1 3-.8 3-.4 3 .2 3 .6 3 .8 3 .7 3 .6 3 .2 3-.8 3-1.7 3 0 3 .5 3 .7 L2373.8,681.5 V714.8 H1307.5Z" fill="#800000" stroke="#000" stroke-width="1.3" stroke-linejoin="round"/>
</g>
<ellipse cx="1335" cy="426" rx="4.8" ry="2.6" fill="#fff" stroke="#000" stroke-width="1"/>
<ellipse cx="1369.6" cy="426" rx="4.3" ry="2.6" fill="#fff" stroke="#000" stroke-width="1"/>
<ellipse cx="1404.2" cy="426" rx="4.6" ry="2.6" fill="#fff" stroke="#000" stroke-width="1"/>
<ellipse cx="1438.8" cy="426" rx="4.4" ry="2.6" fill="#fff" stroke="#000" stroke-width="1"/>
<ellipse cx="1473.4" cy="426" rx="4.5" ry="2.6" fill="#fff" stroke="#000" stroke-width="1"/>
<ellipse cx="1508" cy="426" rx="4.6" ry="2.6" fill="#fff" stroke="#000" stroke-width="1"/>
<ellipse cx="1542.6" cy="426" rx="4.4" ry="2.6" fill="#fff" stroke="#000" stroke-width="1"/>
<ellipse cx="1577.2" cy="426" rx="4.7" ry="2.6" fill="#fff" stroke="#000" stroke-width="1"/>
<ellipse cx="1611.8" cy="426" rx="4.3" ry="2.6" fill="#fff" stroke="#000" stroke-width="1"/>
<ellipse cx="1646.4" cy="426" rx="4.8" ry="2.6" fill="#fff" stroke="#000" stroke-width="1"/>
<ellipse cx="1681" cy="426" rx="4.1" ry="2.6" fill="#fff" stroke="#000" stroke-width="1"/>
<ellipse cx="1715.6" cy="426" rx="4.9" ry="2.6" fill="#fff" stroke="#000" stroke-width="1"/>
<ellipse cx="1750.2" cy="426" rx="4" ry="2.6" fill="#fff" stroke="#000" stroke-width="1"/>
<ellipse cx="1784.8" cy="426" rx="5" ry="2.6" fill="#fff" stroke="#000" stroke-width="1"/>
<ellipse cx="1819.4" cy="426" rx="3.9" ry="2.6" fill="#fff" stroke="#000" stroke-width="1"/>
<ellipse cx="1854" cy="426" rx="5.2" ry="2.6" fill="#fff" stroke="#000" stroke-width="1"/>
<ellipse cx="1888.6" cy="426" rx="3.8" ry="2.6" fill="#fff" stroke="#000" stroke-width="1"/>
<ellipse cx="1923.2" cy="426" rx="5.3" ry="2.6" fill="#fff" stroke="#000" stroke-width="1"/>
<ellipse cx="1957.8" cy="426" rx="3.7" ry="2.6" fill="#fff" stroke="#000" stroke-width="1"/>
<ellipse cx="1992.4" cy="426" rx="5.4" ry="2.6" fill="#fff" stroke="#000" stroke-width="1"/>
<ellipse cx="2027" cy="426" rx="3.6" ry="2.6" fill="#fff" stroke="#000" stroke-width="1"/>
<ellipse cx="2061.6" cy="426" rx="5.5" ry="2.6" fill="#fff" stroke="#000" stroke-width="1"/>
<ellipse cx="2096.2" cy="426" rx="3.5" ry="2.6" fill="#fff" stroke="#000" stroke-width="1"/>
<ellipse cx="2130.8" cy="426" rx="5.6" ry="2.6" fill="#fff" stroke="#000" stroke-width="1"/>
<ellipse cx="2165.4" cy="426" rx="3.4" ry="2.6" fill="#fff" stroke="#000" stroke-width="1"/>
<ellipse cx="2200" cy="426" rx="5.7" ry="2.6" fill="#fff" stroke="#000" stroke-width="1"/>
<ellipse cx="2234.6" cy="426" rx="3.3" ry="2.6" fill="#fff" stroke="#000" stroke-width="1"/>
<ellipse cx="2269.2" cy="426" rx="5.7" ry="2.6" fill="#fff" stroke="#000" stroke-width="1"/>
<ellipse cx="2303.8" cy="426" rx="3.2" ry="2.6" fill="#fff" stroke="#000" stroke-width="1"/>
<ellipse cx="2338.4" cy="426" rx="5.8" ry="2.6" fill="#fff" stroke="#000" stroke-width="1"/>
<g clip-path="url(#cD)"><g filter="url(#jetf)">
<rect x="114" y="690" width="1080" height="310" fill="#808080"/>
<path d="M111.9,708 126.1,708 140.8,757 126.1,806 111.9,806 126.6,757" fill="url(#cD0w)" opacity="0.17"/>
<path d="M129.2,708 143.4,708 158.1,757 143.4,806 129.2,806 143.9,757" fill="url(#cD0k)" opacity="0.24"/>
<path d="M146.5,708 160.7,708 175.4,757 160.7,806 146.5,806 161.2,757" fill="url(#cD0w)" opacity="0.19"/>
<path d="M163.8,708 178,708 192.7,757 178,806 163.8,806 178.5,757" fill="url(#cD0k)" opacity="0.15"/>
<path d="M181.1,708 195.3,708 210,757 195.3,806 181.1,806 195.8,757" fill="url(#cD0w)" opacity="0.14"/>
<path d="M198.4,708 212.6,708 227.3,757 212.6,806 198.4,806 213.1,757" fill="url(#cD0k)" opacity="0.22"/>
<path d="M215.7,708 229.9,708 244.6,757 229.9,806 215.7,806 230.4,757" fill="url(#cD0w)" opacity="0.27"/>
<path d="M233,708 247.2,708 261.9,757 247.2,806 233,806 247.7,757" fill="url(#cD0k)" opacity="0.19"/>
<path d="M250.3,708 264.5,708 279.2,757 264.5,806 250.3,806 265,757" fill="url(#cD0w)" opacity="0.11"/>
<path d="M267.6,708 281.8,708 296.5,757 281.8,806 267.6,806 282.3,757" fill="url(#cD0k)" opacity="0.13"/>
<path d="M284.9,708 299.1,708 313.8,757 299.1,806 284.9,806 299.6,757" fill="url(#cD0w)" opacity="0.27"/>
<path d="M302.2,708 316.4,708 331.1,757 316.4,806 302.2,806 316.9,757" fill="url(#cD0k)" opacity="0.18"/>
<path d="M672,704 686.5,704 709.9,771 686.5,838 672,838 695.5,771" fill="url(#cD1k)" opacity="0.10"/>
<path d="M689.6,704 704.1,704 727.5,771 704.1,838 689.6,838 713.1,771" fill="url(#cD1w)" opacity="0.14"/>
<path d="M707.2,704 721.2,704 744.7,771 721.2,838 707.2,838 730.7,771" fill="url(#cD1k)" opacity="0.12"/>
<path d="M724.2,704 737.3,704 760.7,771 737.3,838 724.2,838 747.6,771" fill="url(#cD1w)" opacity="0.17"/>
<path d="M740,704 752.2,704 775.7,771 752.2,838 740,838 763.5,771" fill="url(#cD1k)" opacity="0.19"/>
<path d="M754.8,704 766.5,704 790,771 766.5,838 754.8,838 778.2,771" fill="url(#cD1w)" opacity="0.08"/>
<path d="M769.1,704 781.3,704 804.7,771 781.3,838 769.1,838 792.5,771" fill="url(#cD1k)" opacity="0.14"/>
<path d="M784,704 795.8,704 819.2,771 795.8,838 784,838 807.5,771" fill="url(#cD1w)" opacity="0.11"/>
<path d="M798.1,704 809.9,704 833.3,771 809.9,838 798.1,838 821.6,771" fill="url(#cD1k)" opacity="0.14"/>
<path d="M812.6,704 825.7,704 849.2,771 825.7,838 812.6,838 836.1,771" fill="url(#cD1w)" opacity="0.09"/>
<path d="M828.7,704 842.7,704 866.1,771 842.7,838 828.7,838 852.1,771" fill="url(#cD1k)" opacity="0.15"/>
<path d="M845.8,704 860.3,704 883.7,771 860.3,838 845.8,838 869.3,771" fill="url(#cD1w)" opacity="0.15"/>
<path d="M863.4,704 878.3,704 901.8,771 878.3,838 863.4,838 886.9,771" fill="url(#cD1k)" opacity="0.14"/>
<path d="M881.7,704 897,704 920.5,771 897,838 881.7,838 905.1,771" fill="url(#cD1w)" opacity="0.10"/>
<path d="M900.4,704 914.8,704 938.3,771 914.8,838 900.4,838 923.8,771" fill="url(#cD1k)" opacity="0.13"/>
<path d="M917.8,704 931.3,704 954.8,771 931.3,838 917.8,838 941.2,771" fill="url(#cD1w)" opacity="0.10"/>
<path d="M934.3,704 947.4,704 970.8,771 947.4,838 934.3,838 957.7,771" fill="url(#cD1k)" opacity="0.09"/>
<path d="M950.1,704 963.2,704 986.7,771 963.2,838 950.1,838 973.6,771" fill="url(#cD1w)" opacity="0.16"/>
<path d="M966.2,704 980.2,704 1003.6,771 980.2,838 966.2,838 989.6,771" fill="url(#cD1k)" opacity="0.10"/>
<path d="M983.3,704 997.8,704 1021.2,771 997.8,838 983.3,838 1006.8,771" fill="url(#cD1w)" opacity="0.20"/>
<path d="M1000.9,704 1014.9,704 1038.4,771 1014.9,838 1000.9,838 1024.4,771" fill="url(#cD1k)" opacity="0.18"/>
<path d="M1017.9,704 1031.4,704 1054.9,771 1031.4,838 1017.9,838 1041.3,771" fill="url(#cD1w)" opacity="0.06"/>
<path d="M1034.4,704 1048.4,704 1071.8,771 1048.4,838 1034.4,838 1057.8,771" fill="url(#cD1k)" opacity="0.16"/>
<path d="M1051.5,704 1066,704 1089.4,771 1066,838 1051.5,838 1075,771" fill="url(#cD1w)" opacity="0.10"/>
<path d="M1069.1,704 1082.7,704 1106.1,771 1082.7,838 1069.1,838 1092.6,771" fill="url(#cD1k)" opacity="0.15"/>
<path d="M1085.4,704 1097.6,704 1121.1,771 1097.6,838 1085.4,838 1108.9,771" fill="url(#cD1w)" opacity="0.15"/>
<path d="M1100.2,704 1110.6,704 1134,771 1110.6,838 1100.2,838 1123.6,771" fill="url(#cD1k)" opacity="0.06"/>
<path d="M1112.5,704 1122.9,704 1146.4,771 1122.9,838 1112.5,838 1136,771" fill="url(#cD1w)" opacity="0.14"/>
<path d="M1125.5,704 1139.1,704 1162.5,771 1139.1,838 1125.5,838 1148.9,771" fill="url(#cD1k)" opacity="0.14"/>
<path d="M1142.4,704 1152.8,704 1176.2,771 1152.8,838 1142.4,838 1165.9,771" fill="url(#cD1w)" opacity="0.13"/>
<path d="M653.7,866 668.3,866 674.7,930.5 668.3,995 653.7,995 660.1,930.5" fill="url(#cD2k)" opacity="0.19"/>
<path d="M671.4,866 685.9,866 692.3,930.5 685.9,995 671.4,995 677.9,930.5" fill="url(#cD2w)" opacity="0.18"/>
<path d="M689,866 703.5,866 709.9,930.5 703.5,995 689,995 695.5,930.5" fill="url(#cD2k)" opacity="0.19"/>
<path d="M706.6,866 721.1,866 727.5,930.5 721.1,995 706.6,995 713.1,930.5" fill="url(#cD2w)" opacity="0.19"/>
<path d="M724.2,866 738.2,866 744.7,930.5 738.2,995 724.2,995 730.7,930.5" fill="url(#cD2k)" opacity="0.12"/>
<path d="M741.2,866 754.3,866 760.7,930.5 754.3,995 741.2,995 747.6,930.5" fill="url(#cD2w)" opacity="0.15"/>
<path d="M757,866 769.2,866 775.7,930.5 769.2,995 757,995 763.5,930.5" fill="url(#cD2k)" opacity="0.21"/>
<path d="M771.8,866 783.5,866 790,930.5 783.5,995 771.8,995 778.2,930.5" fill="url(#cD2w)" opacity="0.13"/>
<path d="M786.1,866 798.3,866 804.7,930.5 798.3,995 786.1,995 792.5,930.5" fill="url(#cD2k)" opacity="0.16"/>
<path d="M801,866 812.8,866 819.2,930.5 812.8,995 801,995 807.5,930.5" fill="url(#cD2w)" opacity="0.15"/>
<path d="M815.1,866 826.9,866 833.3,930.5 826.9,995 815.1,995 821.6,930.5" fill="url(#cD2k)" opacity="0.18"/>
<path d="M829.6,866 842.7,866 849.2,930.5 842.7,995 829.6,995 836.1,930.5" fill="url(#cD2w)" opacity="0.13"/>
<path d="M845.7,866 859.7,866 866.1,930.5 859.7,995 845.7,995 852.1,930.5" fill="url(#cD2k)" opacity="0.14"/>
<path d="M862.8,866 877.3,866 883.7,930.5 877.3,995 862.8,995 869.3,930.5" fill="url(#cD2w)" opacity="0.16"/>
<path d="M880.4,866 895.3,866 901.8,930.5 895.3,995 880.4,995 886.9,930.5" fill="url(#cD2k)" opacity="0.15"/>
<path d="M898.7,866 914,866 920.5,930.5 914,995 898.7,995 905.1,930.5" fill="url(#cD2w)" opacity="0.11"/>
<path d="M917.4,866 931.8,866 938.3,930.5 931.8,995 917.4,995 923.8,930.5" fill="url(#cD2k)" opacity="0.19"/>
<path d="M934.8,866 948.3,866 954.8,930.5 948.3,995 934.8,995 941.2,930.5" fill="url(#cD2w)" opacity="0.09"/>
<path d="M951.3,866 964.4,866 970.8,930.5 964.4,995 951.3,995 957.7,930.5" fill="url(#cD2k)" opacity="0.10"/>
<path d="M967.1,866 980.2,866 986.7,930.5 980.2,995 967.1,995 973.6,930.5" fill="url(#cD2w)" opacity="0.09"/>
<path d="M983.2,866 997.2,866 1003.6,930.5 997.2,995 983.2,995 989.6,930.5" fill="url(#cD2k)" opacity="0.19"/>
<path d="M1000.3,866 1014.8,866 1021.2,930.5 1014.8,995 1000.3,995 1006.8,930.5" fill="url(#cD2w)" opacity="0.13"/>
<path d="M1017.9,866 1031.9,866 1038.4,930.5 1031.9,995 1017.9,995 1024.4,930.5" fill="url(#cD2k)" opacity="0.11"/>
<path d="M1034.9,866 1048.4,866 1054.9,930.5 1048.4,995 1034.9,995 1041.3,930.5" fill="url(#cD2w)" opacity="0.10"/>
<path d="M1051.4,866 1065.4,866 1071.8,930.5 1065.4,995 1051.4,995 1057.8,930.5" fill="url(#cD2k)" opacity="0.17"/>
<path d="M1068.5,866 1083,866 1089.4,930.5 1083,995 1068.5,995 1075,930.5" fill="url(#cD2w)" opacity="0.10"/>
<path d="M1086.1,866 1099.7,866 1106.1,930.5 1099.7,995 1086.1,995 1092.6,930.5" fill="url(#cD2k)" opacity="0.09"/>
<path d="M1102.4,866 1114.6,866 1121.1,930.5 1114.6,995 1102.4,995 1108.9,930.5" fill="url(#cD2w)" opacity="0.18"/>
<path d="M1117.2,866 1127.6,866 1134,930.5 1127.6,995 1117.2,995 1123.6,930.5" fill="url(#cD2k)" opacity="0.10"/>
<path d="M1129.5,866 1139.9,866 1146.4,930.5 1139.9,995 1129.5,995 1136,930.5" fill="url(#cD2w)" opacity="0.14"/>
<path d="M1142.5,866 1156.1,866 1162.5,930.5 1156.1,995 1142.5,995 1148.9,930.5" fill="url(#cD2k)" opacity="0.15"/>
<path d="M1159.4,866 1169.8,866 1176.2,930.5 1169.8,995 1159.4,995 1165.9,930.5" fill="url(#cD2w)" opacity="0.09"/>
<path d="M1170.9,866 1180.6,866 1187.1,930.5 1180.6,995 1170.9,995 1177.4,930.5" fill="url(#cD2k)" opacity="0.07"/>
<rect x="281" y="703" width="14.2" height="18" fill="url(#cD3w)" opacity="0.57"/>
<rect x="298.3" y="703" width="14.2" height="18" fill="url(#cD3k)" opacity="0.88"/>
<rect x="315.6" y="703" width="14.2" height="18" fill="url(#cD3w)" opacity="0.76"/>
<rect x="332.9" y="703" width="14.2" height="18" fill="url(#cD3k)" opacity="0.76"/>
<rect x="350.2" y="703" width="14.2" height="18" fill="url(#cD3w)" opacity="0.72"/>
<rect x="367.5" y="703" width="14.2" height="18" fill="url(#cD3k)" opacity="0.75"/>
<rect x="384.8" y="703" width="14.2" height="18" fill="url(#cD3w)" opacity="0.87"/>
<rect x="402.1" y="703" width="13.7" height="18" fill="url(#cD3k)" opacity="0.78"/>
<rect x="418.8" y="703" width="13.7" height="18" fill="url(#cD3w)" opacity="0.86"/>
<rect x="435.6" y="703" width="14.6" height="18" fill="url(#cD3k)" opacity="0.78"/>
<rect x="437.6" y="703" width="14.6" height="22" fill="url(#cD4w)" opacity="0.28"/>
<rect x="455.2" y="703" width="14.4" height="22" fill="url(#cD4k)" opacity="0.80"/>
<rect x="472.9" y="703" width="14.2" height="22" fill="url(#cD4w)" opacity="0.68"/>
<rect x="490.1" y="703" width="13.9" height="22" fill="url(#cD4k)" opacity="0.60"/>
<rect x="507.1" y="703" width="13.7" height="22" fill="url(#cD4w)" opacity="0.59"/>
<rect x="523.8" y="703" width="13.3" height="22" fill="url(#cD4k)" opacity="0.54"/>
<rect x="540" y="703" width="13.3" height="22" fill="url(#cD4w)" opacity="0.69"/>
<rect x="556.2" y="703" width="13.3" height="22" fill="url(#cD4k)" opacity="0.83"/>
<rect x="572.4" y="703" width="13.7" height="22" fill="url(#cD4w)" opacity="0.64"/>
<rect x="589.1" y="703" width="14.6" height="22" fill="url(#cD4k)" opacity="0.74"/>
<rect x="607.1" y="703" width="14.6" height="22" fill="url(#cD4w)" opacity="0.94"/>
<rect x="624.8" y="703" width="14.3" height="22" fill="url(#cD4k)" opacity="0.50"/>
<rect x="437.6" y="718" width="14.6" height="28" fill="url(#cD5w)" opacity="0.33"/>
<rect x="455.2" y="718" width="14.4" height="28" fill="url(#cD5k)" opacity="0.54"/>
<rect x="472.9" y="718" width="14.2" height="28" fill="url(#cD5w)" opacity="0.61"/>
<rect x="490.1" y="718" width="13.9" height="28" fill="url(#cD5k)" opacity="0.69"/>
<rect x="507.1" y="718" width="13.7" height="28" fill="url(#cD5w)" opacity="0.56"/>
<rect x="507.1" y="718" width="13.7" height="24" fill="url(#cD6w)" opacity="0.06"/>
<rect x="523.8" y="718" width="13.3" height="24" fill="url(#cD6k)" opacity="0.45"/>
<rect x="540" y="718" width="13.3" height="24" fill="url(#cD6w)" opacity="0.50"/>
<rect x="556.2" y="718" width="13.3" height="24" fill="url(#cD6k)" opacity="0.36"/>
<rect x="572.4" y="718" width="13.7" height="24" fill="url(#cD6w)" opacity="0.41"/>
<rect x="589.1" y="718" width="14.6" height="24" fill="url(#cD6k)" opacity="0.51"/>
<rect x="607.1" y="718" width="14.6" height="24" fill="url(#cD6w)" opacity="0.50"/>
<rect x="624.8" y="718" width="14.3" height="24" fill="url(#cD6k)" opacity="0.56"/>
<path d="M636.4,698 651,698 656.9,747 662.8,796 648.2,796 642.3,747" fill="url(#cD7w)" opacity="0.66"/>
<path d="M654.2,698 668.8,698 674.7,747 680.6,796 666,796 660.1,747" fill="url(#cD7k)" opacity="0.48"/>
<path d="M672,698 686.4,698 692.3,747 698.2,796 683.8,796 677.9,747" fill="url(#cD7w)" opacity="0.62"/>
<path d="M689.6,698 704,698 709.9,747 715.8,796 701.4,796 695.5,747" fill="url(#cD7k)" opacity="0.61"/>
<path d="M707.2,698 721.6,698 727.5,747 733.4,796 719,796 713.1,747" fill="url(#cD7w)" opacity="0.82"/>
<path d="M724.8,698 738.8,698 744.7,747 750.5,796 736.6,796 730.7,747" fill="url(#cD7k)" opacity="0.17"/>
<rect x="733.7" y="701" width="14" height="44" fill="url(#cD8k)" opacity="0.71"/>
<rect x="750.6" y="701" width="13.1" height="44" fill="url(#cD8w)" opacity="0.84"/>
<rect x="766.5" y="701" width="12.2" height="44" fill="url(#cD8k)" opacity="0.79"/>
<rect x="781.2" y="701" width="11.7" height="44" fill="url(#cD8w)" opacity="0.62"/>
<rect x="795.5" y="701" width="12.2" height="44" fill="url(#cD8k)" opacity="0.22"/>
<rect x="795.5" y="702" width="12.2" height="24" fill="url(#cD9k)" opacity="0.33"/>
<rect x="810.5" y="702" width="11.7" height="24" fill="url(#cD9w)" opacity="0.47"/>
<rect x="824.6" y="702" width="11.7" height="24" fill="url(#cD9k)" opacity="0.32"/>
<rect x="839.1" y="702" width="13.1" height="24" fill="url(#cD9w)" opacity="0.47"/>
<rect x="855.1" y="702" width="14" height="24" fill="url(#cD9k)" opacity="0.51"/>
<rect x="872.3" y="702" width="14.4" height="24" fill="url(#cD9w)" opacity="0.21"/>
<rect x="889.9" y="702" width="14.9" height="24" fill="url(#cD9k)" opacity="0.33"/>
<path d="M325.8,717 340,717 345.4,735 340,753 325.8,753 331.2,735" fill="url(#cD10w)" opacity="0.50"/>
<path d="M343.1,717 357.3,717 362.7,735 357.3,753 343.1,753 348.5,735" fill="url(#cD10k)" opacity="0.74"/>
<path d="M360.4,717 374.6,717 380,735 374.6,753 360.4,753 365.8,735" fill="url(#cD10w)" opacity="0.47"/>
<path d="M377.7,717 391.4,717 396.8,735 391.4,753 377.7,753 383.1,735" fill="url(#cD10k)" opacity="0.42"/>
<path d="M394.4,717 408.1,717 413.5,735 408.1,753 394.4,753 399.8,735" fill="url(#cD10w)" opacity="0.80"/>
<path d="M411.2,717 425.8,717 431.2,735 425.8,753 411.2,753 416.6,735" fill="url(#cD10k)" opacity="0.42"/>
<path d="M429.2,717 443.8,717 449.2,735 443.8,753 429.2,753 434.6,735" fill="url(#cD10w)" opacity="0.31"/>
<path d="M313.5,750 327.7,750 331.1,784 327.7,818 313.5,818 316.9,784" fill="url(#cD11k)" opacity="0.09"/>
<path d="M330.8,750 345,750 348.4,784 345,818 330.8,818 334.2,784" fill="url(#cD11w)" opacity="0.60"/>
<path d="M348.1,750 362.3,750 365.7,784 362.3,818 348.1,818 351.5,784" fill="url(#cD11k)" opacity="0.79"/>
<path d="M365.4,750 379.6,750 383,784 379.6,818 365.4,818 368.8,784" fill="url(#cD11w)" opacity="0.97"/>
<path d="M382.7,750 396.4,750 399.8,784 396.4,818 382.7,818 386.1,784" fill="url(#cD11k)" opacity="0.76"/>
<path d="M399.4,750 413.1,750 416.5,784 413.1,818 399.4,818 402.8,784" fill="url(#cD11w)" opacity="0.61"/>
<path d="M416.2,750 430.8,750 434.2,784 430.8,818 416.2,818 419.6,784" fill="url(#cD11k)" opacity="0.64"/>
<path d="M434.2,750 448.8,750 452.2,784 448.8,818 434.2,818 437.6,784" fill="url(#cD11w)" opacity="0.46"/>
<path d="M434.6,742 449.2,742 452.2,771.5 449.2,801 434.6,801 437.6,771.5" fill="url(#cD12w)" opacity="0.31"/>
<path d="M452.3,742 466.7,742 469.7,771.5 466.7,801 452.3,801 455.2,771.5" fill="url(#cD12k)" opacity="0.79"/>
<path d="M470,742 484.2,742 487.1,771.5 484.2,801 470,801 472.9,771.5" fill="url(#cD12w)" opacity="0.81"/>
<path d="M487.1,742 501,742 504,771.5 501,801 487.1,801 490.1,771.5" fill="url(#cD12k)" opacity="0.64"/>
<path d="M504.2,742 517.9,742 520.8,771.5 517.9,801 504.2,801 507.1,771.5" fill="url(#cD12w)" opacity="0.58"/>
<path d="M504.4,742 518.1,742 520.8,769 518.1,796 504.4,796 507.1,769" fill="url(#cD13w)" opacity="0.07"/>
<path d="M521.1,742 534.3,742 537,769 534.3,796 521.1,796 523.8,769" fill="url(#cD13k)" opacity="0.43"/>
<path d="M537.3,742 550.5,742 553.2,769 550.5,796 537.3,796 540,769" fill="url(#cD13w)" opacity="0.36"/>
<path d="M553.5,742 566.7,742 569.4,769 566.7,796 553.5,796 556.2,769" fill="url(#cD13k)" opacity="0.44"/>
<path d="M569.7,742 583.4,742 586.1,769 583.4,796 569.7,796 572.4,769" fill="url(#cD13w)" opacity="0.43"/>
<path d="M586.4,742 601,742 603.7,769 601,796 586.4,796 589.1,769" fill="url(#cD13k)" opacity="0.68"/>
<path d="M604.4,742 619,742 621.7,769 619,796 604.4,796 607.1,769" fill="url(#cD13w)" opacity="0.42"/>
<path d="M622.1,742 636.4,742 639.1,769 636.4,796 622.1,796 624.8,769" fill="url(#cD13k)" opacity="0.51"/>
<path d="M116.6,810 130.7,810 139.5,845 130.7,880 116.6,880 125.3,845" fill="url(#cD14k)" opacity="0.06"/>
<path d="M133.9,810 148,810 156.8,845 148,880 133.9,880 142.6,845" fill="url(#cD14w)" opacity="0.18"/>
<path d="M151.2,810 165.3,810 174.1,845 165.3,880 151.2,880 159.9,845" fill="url(#cD14k)" opacity="0.37"/>
<path d="M168.5,810 182.6,810 191.4,845 182.6,880 168.5,880 177.2,845" fill="url(#cD14w)" opacity="0.26"/>
<path d="M185.8,810 199.9,810 208.7,845 199.9,880 185.8,880 194.5,845" fill="url(#cD14k)" opacity="0.19"/>
<path d="M203.1,810 217.2,810 226,845 217.2,880 203.1,880 211.8,845" fill="url(#cD14w)" opacity="0.25"/>
<path d="M220.4,810 234.5,810 243.3,845 234.5,880 220.4,880 229.1,845" fill="url(#cD14k)" opacity="0.23"/>
<path d="M237.7,810 251.8,810 260.6,845 251.8,880 237.7,880 246.4,845" fill="url(#cD14w)" opacity="0.19"/>
<path d="M366.7,804 380.9,804 383,846 380.9,888 366.7,888 368.8,846" fill="url(#cD15w)" opacity="0.47"/>
<path d="M384,804 397.7,804 399.8,846 397.7,888 384,888 386.1,846" fill="url(#cD15k)" opacity="0.81"/>
<path d="M400.7,804 414.4,804 416.5,846 414.4,888 400.7,888 402.8,846" fill="url(#cD15w)" opacity="0.73"/>
<path d="M417.5,804 432.1,804 434.2,846 432.1,888 417.5,888 419.6,846" fill="url(#cD15k)" opacity="0.76"/>
<path d="M435.5,804 450.1,804 452.2,846 450.1,888 435.5,888 437.6,846" fill="url(#cD15w)" opacity="0.44"/>
<path d="M433.5,792 448.1,792 452.2,842.5 448.1,893 433.5,893 437.6,842.5" fill="url(#cD16w)" opacity="0.51"/>
<path d="M451.2,792 465.6,792 469.7,842.5 465.6,893 451.2,893 455.2,842.5" fill="url(#cD16k)" opacity="1.00"/>
<path d="M468.9,792 483.1,792 487.1,842.5 483.1,893 468.9,893 472.9,842.5" fill="url(#cD16w)" opacity="1.00"/>
<path d="M486.1,792 500,792 504,842.5 500,893 486.1,893 490.1,842.5" fill="url(#cD16k)" opacity="1.00"/>
<path d="M503.1,792 516.8,792 520.8,842.5 516.8,893 503.1,893 507.1,842.5" fill="url(#cD16w)" opacity="1.00"/>
<path d="M519.7,792 533,792 537,842.5 533,893 519.7,893 523.8,842.5" fill="url(#cD16k)" opacity="1.00"/>
<path d="M535.9,792 549.2,792 553.2,842.5 549.2,893 535.9,893 540,842.5" fill="url(#cD16w)" opacity="0.45"/>
<path d="M532.5,790 545.7,790 553.2,840 545.7,890 532.5,890 540,840" fill="url(#cD17w)" opacity="0.44"/>
<path d="M548.7,790 561.9,790 569.4,840 561.9,890 548.7,890 556.2,840" fill="url(#cD17k)" opacity="0.81"/>
<path d="M564.9,790 578.6,790 586.1,840 578.6,890 564.9,890 572.4,840" fill="url(#cD17w)" opacity="0.87"/>
<path d="M581.6,790 596.2,790 603.7,840 596.2,890 581.6,890 589.1,840" fill="url(#cD17k)" opacity="0.69"/>
<path d="M599.6,790 614.2,790 621.7,840 614.2,890 599.6,890 607.1,840" fill="url(#cD17w)" opacity="0.60"/>
<path d="M617.3,790 631.6,790 639.1,840 631.6,890 617.3,890 624.8,840" fill="url(#cD17k)" opacity="0.87"/>
<path d="M634.8,790 649.4,790 656.9,840 649.4,890 634.8,890 642.3,840" fill="url(#cD17w)" opacity="0.75"/>
<path d="M652.6,790 667.2,790 674.7,840 667.2,890 652.6,890 660.1,840" fill="url(#cD17k)" opacity="0.08"/>
<path d="M653,792 667.6,792 674.7,827.5 667.6,863 653,863 660.1,827.5" fill="url(#cD18k)" opacity="0.46"/>
<path d="M670.8,792 685.2,792 692.3,827.5 685.2,863 670.8,863 677.9,827.5" fill="url(#cD18w)" opacity="0.53"/>
<path d="M688.4,792 702.8,792 709.9,827.5 702.8,863 688.4,863 695.5,827.5" fill="url(#cD18k)" opacity="0.34"/>
<path d="M434.4,871 449,871 452.2,935 449,999 434.4,999 437.6,935" fill="url(#cD19w)" opacity="0.27"/>
<path d="M452,871 466.5,871 469.7,935 466.5,999 452,999 455.2,935" fill="url(#cD19k)" opacity="0.53"/>
<path d="M469.7,871 483.9,871 487.1,935 483.9,999 469.7,999 472.9,935" fill="url(#cD19w)" opacity="0.27"/>
<path d="M486.9,871 500.8,871 504,935 500.8,999 486.9,999 490.1,935" fill="url(#cD19k)" opacity="0.57"/>
<path d="M503.9,871 517.6,871 520.8,935 517.6,999 503.9,999 507.1,935" fill="url(#cD19w)" opacity="0.49"/>
<path d="M520.6,871 533.8,871 537,935 533.8,999 520.6,999 523.8,935" fill="url(#cD19k)" opacity="0.49"/>
<path d="M536.8,871 550,871 553.2,935 550,999 536.8,999 540,935" fill="url(#cD19w)" opacity="0.53"/>
<path d="M553,871 566.2,871 569.4,935 566.2,999 553,999 556.2,935" fill="url(#cD19k)" opacity="0.42"/>
<path d="M569.2,871 582.9,871 586.1,935 582.9,999 569.2,999 572.4,935" fill="url(#cD19w)" opacity="0.61"/>
<path d="M585.9,871 600.5,871 603.7,935 600.5,999 585.9,999 589.1,935" fill="url(#cD19k)" opacity="0.45"/>
<path d="M603.9,871 618.5,871 621.7,935 618.5,999 603.9,999 607.1,935" fill="url(#cD19w)" opacity="0.43"/>
<path d="M621.6,871 635.9,871 639.1,935 635.9,999 621.6,999 624.8,935" fill="url(#cD19k)" opacity="0.43"/>
<path d="M639.1,871 653.7,871 656.9,935 653.7,999 639.1,999 642.3,935" fill="url(#cD19w)" opacity="0.28"/>
<path d="M786.8,814 799,814 800.7,848.5 799,883 786.8,883 788.5,848.5" fill="url(#cD20k)" opacity="0.54"/>
<path d="M801.8,814 813.5,814 815.2,848.5 813.5,883 801.8,883 803.5,848.5" fill="url(#cD20w)" opacity="0.63"/>
<path d="M815.9,814 827.6,814 829.3,848.5 827.6,883 815.9,883 817.6,848.5" fill="url(#cD20k)" opacity="0.57"/>
<path d="M830.4,814 843.4,814 845.2,848.5 843.4,883 830.4,883 832.1,848.5" fill="url(#cD20w)" opacity="0.58"/>
<path d="M846.4,814 860.4,814 862.1,848.5 860.4,883 846.4,883 848.1,848.5" fill="url(#cD20k)" opacity="0.68"/>
<path d="M863.6,814 878,814 879.7,848.5 878,883 863.6,883 865.3,848.5" fill="url(#cD20w)" opacity="0.73"/>
<path d="M881.2,814 896,814 897.8,848.5 896,883 881.2,883 882.9,848.5" fill="url(#cD20k)" opacity="0.62"/>
<path d="M899.4,814 914.7,814 916.5,848.5 914.7,883 899.4,883 901.1,848.5" fill="url(#cD20w)" opacity="0.73"/>
<path d="M918.1,814 932.5,814 934.3,848.5 932.5,883 918.1,883 919.8,848.5" fill="url(#cD20k)" opacity="0.84"/>
<path d="M935.5,814 949,814 950.8,848.5 949,883 935.5,883 937.2,848.5" fill="url(#cD20w)" opacity="0.62"/>
<path d="M952,814 965.1,814 966.8,848.5 965.1,883 952,883 953.7,848.5" fill="url(#cD20k)" opacity="0.38"/>
<path d="M945.1,726 958.2,726 967.8,750 958.2,774 945.1,774 954.7,750" fill="url(#cD21k)" opacity="0.31"/>
<path d="M961,726 974.1,726 983.7,750 974.1,774 961,774 970.6,750" fill="url(#cD21w)" opacity="0.23"/>
<path d="M977,726 991,726 1000.6,750 991,774 977,774 986.6,750" fill="url(#cD21k)" opacity="0.35"/>
<path d="M994.2,726 1008.6,726 1018.2,750 1008.6,774 994.2,774 1003.8,750" fill="url(#cD21w)" opacity="0.67"/>
<path d="M1011.8,726 1025.8,726 1035.4,750 1025.8,774 1011.8,774 1021.4,750" fill="url(#cD21k)" opacity="0.58"/>
<path d="M1028.7,726 1042.3,726 1051.9,750 1042.3,774 1028.7,774 1038.3,750" fill="url(#cD21w)" opacity="0.53"/>
<path d="M1045.2,726 1059.2,726 1068.8,750 1059.2,774 1045.2,774 1054.8,750" fill="url(#cD21k)" opacity="0.52"/>
<path d="M1062.4,726 1076.8,726 1086.4,750 1076.8,774 1062.4,774 1072,750" fill="url(#cD21w)" opacity="0.65"/>
<path d="M1080,726 1093.5,726 1103.1,750 1093.5,774 1080,774 1089.6,750" fill="url(#cD21k)" opacity="0.53"/>
<path d="M1096.3,726 1108.5,726 1118.1,750 1108.5,774 1096.3,774 1105.9,750" fill="url(#cD21w)" opacity="0.49"/>
<path d="M1111,726 1121.4,726 1131,750 1121.4,774 1111,774 1120.6,750" fill="url(#cD21k)" opacity="0.36"/>
<path d="M1123.4,726 1133.8,726 1143.4,750 1133.8,774 1123.4,774 1133,750" fill="url(#cD21w)" opacity="0.30"/>
<path d="M1145.5,734 1159.1,734 1162.5,768.5 1159.1,803 1145.5,803 1148.9,768.5" fill="url(#cD22k)" opacity="0.69"/>
<path d="M1162.4,734 1172.8,734 1176.2,768.5 1172.8,803 1162.4,803 1165.9,768.5" fill="url(#cD22w)" opacity="0.79"/>
<path d="M1173.9,734 1183.6,734 1187.1,768.5 1183.6,803 1173.9,803 1177.4,768.5" fill="url(#cD22k)" opacity="0.93"/>
</g></g>
<g clip-path="url(#cI)"><g filter="url(#jetf)">
<rect x="1301.5" y="690" width="1080" height="310" fill="#808080"/>
<path d="M1616.4,706 1631.1,706 1640.2,732 1631.1,758 1616.4,758 1625.5,732" fill="url(#cI0k)" opacity="0.07"/>
<path d="M1634.2,706 1648.6,706 1657.7,732 1648.6,758 1634.2,758 1643.3,732" fill="url(#cI0w)" opacity="0.18"/>
<path d="M1651.7,706 1665.7,706 1674.8,732 1665.7,758 1651.7,758 1660.8,732" fill="url(#cI0k)" opacity="0.20"/>
<path d="M1668.7,706 1682.7,706 1691.8,732 1682.7,758 1668.7,758 1677.8,732" fill="url(#cI0w)" opacity="0.17"/>
<path d="M1685.8,706 1699.5,706 1708.6,732 1699.5,758 1685.8,758 1694.9,732" fill="url(#cI0k)" opacity="0.20"/>
<path d="M1702.3,706 1715.8,706 1724.9,732 1715.8,758 1702.3,758 1711.4,732" fill="url(#cI0w)" opacity="0.15"/>
<path d="M1718.8,706 1732.3,706 1741.4,732 1732.3,758 1718.8,758 1727.9,732" fill="url(#cI0k)" opacity="0.16"/>
<path d="M1735.3,706 1748.5,706 1757.6,732 1748.5,758 1735.3,758 1744.4,732" fill="url(#cI0w)" opacity="0.15"/>
<path d="M1751.5,706 1765.2,706 1774.3,732 1765.2,758 1751.5,758 1760.6,732" fill="url(#cI0k)" opacity="0.09"/>
<path d="M1768.3,706 1782.5,706 1791.6,732 1782.5,758 1768.3,758 1777.4,732" fill="url(#cI0w)" opacity="0.10"/>
<path d="M1785.6,706 1800.2,706 1809.3,732 1800.2,758 1785.6,758 1794.7,732" fill="url(#cI0k)" opacity="0.16"/>
<path d="M1803.5,706 1818.2,706 1827.3,732 1818.2,758 1803.5,758 1812.6,732" fill="url(#cI0w)" opacity="0.12"/>
<path d="M1821.3,706 1835.8,706 1844.9,732 1835.8,758 1821.3,758 1830.4,732" fill="url(#cI0k)" opacity="0.19"/>
<path d="M1839,706 1853.5,706 1862.6,732 1853.5,758 1839,758 1848.1,732" fill="url(#cI0w)" opacity="0.19"/>
<path d="M1856.7,706 1871.1,706 1880.2,732 1871.1,758 1856.7,758 1865.8,732" fill="url(#cI0k)" opacity="0.22"/>
<path d="M1874.3,706 1888.7,706 1897.8,732 1888.7,758 1874.3,758 1883.4,732" fill="url(#cI0w)" opacity="0.14"/>
<path d="M1891.9,706 1905.6,706 1914.7,732 1905.6,758 1891.9,758 1901,732" fill="url(#cI0k)" opacity="0.20"/>
<path d="M1908.4,706 1920.3,706 1929.4,732 1920.3,758 1908.4,758 1917.5,732" fill="url(#cI0w)" opacity="0.10"/>
<path d="M1922.7,706 1933.5,706 1942.6,732 1933.5,758 1922.7,758 1931.8,732" fill="url(#cI0k)" opacity="0.09"/>
<path d="M1935.9,706 1947.2,706 1956.3,732 1947.2,758 1935.9,758 1945,732" fill="url(#cI0w)" opacity="0.06"/>
<path d="M1296.7,708 1310.8,708 1328,757 1310.8,806 1296.7,806 1313.8,757" fill="url(#cI1k)" opacity="0.13"/>
<path d="M1314,708 1328.1,708 1345.3,757 1328.1,806 1314,806 1331.1,757" fill="url(#cI1w)" opacity="0.15"/>
<path d="M1331.3,708 1345.4,708 1362.6,757 1345.4,806 1331.3,806 1348.4,757" fill="url(#cI1k)" opacity="0.15"/>
<path d="M1348.6,708 1362.7,708 1379.9,757 1362.7,806 1348.6,806 1365.7,757" fill="url(#cI1w)" opacity="0.18"/>
<path d="M1365.9,708 1380,708 1397.2,757 1380,806 1365.9,806 1383,757" fill="url(#cI1k)" opacity="0.13"/>
<path d="M1383.2,708 1397.3,708 1414.5,757 1397.3,806 1383.2,806 1400.3,757" fill="url(#cI1w)" opacity="0.19"/>
<path d="M1400.5,708 1414.6,708 1431.8,757 1414.6,806 1400.5,806 1417.6,757" fill="url(#cI1k)" opacity="0.12"/>
<path d="M1417.8,708 1431.9,708 1449.1,757 1431.9,806 1417.8,806 1434.9,757" fill="url(#cI1w)" opacity="0.13"/>
<path d="M1435.1,708 1449.2,708 1466.4,757 1449.2,806 1435.1,806 1452.2,757" fill="url(#cI1k)" opacity="0.11"/>
<path d="M1452.4,708 1466.5,708 1483.7,757 1466.5,806 1452.4,806 1469.5,757" fill="url(#cI1w)" opacity="0.17"/>
<path d="M1469.7,708 1483.8,708 1501,757 1483.8,806 1469.7,806 1486.8,757" fill="url(#cI1k)" opacity="0.14"/>
<path d="M1487,708 1501.1,708 1518.3,757 1501.1,806 1487,806 1504.1,757" fill="url(#cI1w)" opacity="0.10"/>
<path d="M1504.3,708 1518.4,708 1535.6,757 1518.4,806 1504.3,806 1521.4,757" fill="url(#cI1k)" opacity="0.22"/>
<path d="M1521.6,708 1535.7,708 1552.9,757 1535.7,806 1521.6,806 1538.7,757" fill="url(#cI1w)" opacity="0.12"/>
<path d="M1538.9,708 1553,708 1570.2,757 1553,806 1538.9,806 1556,757" fill="url(#cI1k)" opacity="0.14"/>
<path d="M1556.2,708 1570.3,708 1587.5,757 1570.3,806 1556.2,806 1573.3,757" fill="url(#cI1w)" opacity="0.16"/>
<path d="M1573.5,708 1587.6,708 1604.8,757 1587.6,806 1573.5,806 1590.6,757" fill="url(#cI1k)" opacity="0.21"/>
<path d="M1590.7,708 1605.1,708 1622.3,757 1605.1,806 1590.7,806 1607.8,757" fill="url(#cI1w)" opacity="0.13"/>
<path d="M1921.5,704 1932.8,704 1956.3,771 1932.8,838 1921.5,838 1945,771" fill="url(#cI2w)" opacity="0.06"/>
<path d="M1935.4,704 1948,704 1971.5,771 1948,838 1935.4,838 1958.8,771" fill="url(#cI2k)" opacity="0.10"/>
<path d="M1951,704 1964.5,704 1988,771 1964.5,838 1951,838 1974.4,771" fill="url(#cI2w)" opacity="0.18"/>
<path d="M1967.5,704 1981,704 2004.5,771 1981,838 1967.5,838 1990.9,771" fill="url(#cI2k)" opacity="0.24"/>
<path d="M1984,704 1997.5,704 2021,771 1997.5,838 1984,838 2007.4,771" fill="url(#cI2w)" opacity="0.17"/>
<path d="M2000.5,704 2014,704 2037.5,771 2014,838 2000.5,838 2023.9,771" fill="url(#cI2k)" opacity="0.22"/>
<path d="M2017,704 2030.5,704 2054,771 2030.5,838 2017,838 2040.4,771" fill="url(#cI2w)" opacity="0.26"/>
<path d="M2033.5,704 2047.5,704 2070.9,771 2047.5,838 2033.5,838 2056.9,771" fill="url(#cI2k)" opacity="0.21"/>
<path d="M2050.6,704 2065.5,704 2089,771 2065.5,838 2050.6,838 2074.1,771" fill="url(#cI2w)" opacity="0.23"/>
<path d="M2068.9,704 2084.2,704 2107.7,771 2084.2,838 2068.9,838 2092.3,771" fill="url(#cI2k)" opacity="0.29"/>
<path d="M2087.6,704 2102.5,704 2125.9,771 2102.5,838 2087.6,838 2111,771" fill="url(#cI2w)" opacity="0.13"/>
<path d="M2105.6,704 2120.1,704 2143.5,771 2120.1,838 2105.6,838 2129.1,771" fill="url(#cI2k)" opacity="0.24"/>
<path d="M2123.2,704 2137.2,704 2160.7,771 2137.2,838 2123.2,838 2146.7,771" fill="url(#cI2w)" opacity="0.09"/>
<path d="M2140.2,704 2153.7,704 2177.2,771 2153.7,838 2140.2,838 2163.6,771" fill="url(#cI2k)" opacity="0.23"/>
<path d="M2156.7,704 2170.2,704 2193.7,771 2170.2,838 2156.7,838 2180.1,771" fill="url(#cI2w)" opacity="0.21"/>
<path d="M2173.2,704 2186.8,704 2210.2,771 2186.8,838 2173.2,838 2196.6,771" fill="url(#cI2k)" opacity="0.17"/>
<path d="M2189.7,704 2202.8,704 2226.3,771 2202.8,838 2189.7,838 2213.2,771" fill="url(#cI2w)" opacity="0.14"/>
<path d="M2205.6,704 2219.1,704 2242.6,771 2219.1,838 2205.6,838 2229,771" fill="url(#cI2k)" opacity="0.20"/>
<path d="M2222.3,704 2236.3,704 2259.7,771 2236.3,838 2222.3,838 2245.7,771" fill="url(#cI2w)" opacity="0.18"/>
<path d="M2239.2,704 2252.8,704 2276.2,771 2252.8,838 2239.2,838 2262.7,771" fill="url(#cI2k)" opacity="0.21"/>
<path d="M2255.7,704 2268.8,704 2292.3,771 2268.8,838 2255.7,838 2279.2,771" fill="url(#cI2w)" opacity="0.15"/>
<path d="M2271.6,704 2284.2,704 2307.7,771 2284.2,838 2271.6,838 2295,771" fill="url(#cI2k)" opacity="0.23"/>
<path d="M2287,704 2298.3,704 2321.8,771 2298.3,838 2287,838 2310.4,771" fill="url(#cI2w)" opacity="0.14"/>
<path d="M2300.5,704 2312.7,704 2336.1,771 2312.7,838 2300.5,838 2323.9,771" fill="url(#cI2k)" opacity="0.18"/>
<path d="M2315.8,704 2329.4,704 2352.8,771 2329.4,838 2315.8,838 2339.3,771" fill="url(#cI2w)" opacity="0.17"/>
<path d="M2332.1,704 2340.7,704 2364.2,771 2340.7,838 2332.1,838 2355.6,771" fill="url(#cI2k)" opacity="0.18"/>
<path d="M2341.8,704 2351.1,704 2374.6,771 2351.1,838 2341.8,838 2365.2,771" fill="url(#cI2w)" opacity="0.06"/>
<path d="M1824,867 1838.5,867 1844.9,931 1838.5,995 1824,995 1830.4,931" fill="url(#cI3k)" opacity="0.17"/>
<path d="M1841.7,867 1856.2,867 1862.6,931 1856.2,995 1841.7,995 1848.1,931" fill="url(#cI3w)" opacity="0.12"/>
<path d="M1859.4,867 1873.8,867 1880.2,931 1873.8,995 1859.4,995 1865.8,931" fill="url(#cI3k)" opacity="0.18"/>
<path d="M1877,867 1891.4,867 1897.8,931 1891.4,995 1877,995 1883.4,931" fill="url(#cI3w)" opacity="0.20"/>
<path d="M1894.6,867 1908.3,867 1914.7,931 1908.3,995 1894.6,995 1901,931" fill="url(#cI3k)" opacity="0.22"/>
<path d="M1911.1,867 1923,867 1929.4,931 1923,995 1911.1,995 1917.5,931" fill="url(#cI3w)" opacity="0.11"/>
<path d="M1925.4,867 1936.2,867 1942.6,931 1936.2,995 1925.4,995 1931.8,931" fill="url(#cI3k)" opacity="0.24"/>
<path d="M1938.6,867 1949.9,867 1956.3,931 1949.9,995 1938.6,995 1945,931" fill="url(#cI3w)" opacity="0.12"/>
<path d="M1952.4,867 1965.1,867 1971.5,931 1965.1,995 1952.4,995 1958.8,931" fill="url(#cI3k)" opacity="0.09"/>
<path d="M1968,867 1981.6,867 1988,931 1981.6,995 1968,995 1974.4,931" fill="url(#cI3w)" opacity="0.12"/>
<path d="M1984.5,867 1998.1,867 2004.5,931 1998.1,995 1984.5,995 1990.9,931" fill="url(#cI3k)" opacity="0.18"/>
<path d="M2001,867 2014.6,867 2021,931 2014.6,995 2001,995 2007.4,931" fill="url(#cI3w)" opacity="0.15"/>
<path d="M2017.5,867 2031.1,867 2037.5,931 2031.1,995 2017.5,995 2023.9,931" fill="url(#cI3k)" opacity="0.19"/>
<path d="M2034,867 2047.6,867 2054,931 2047.6,995 2034,995 2040.4,931" fill="url(#cI3w)" opacity="0.20"/>
<path d="M2050.5,867 2064.5,867 2070.9,931 2064.5,995 2050.5,995 2056.9,931" fill="url(#cI3k)" opacity="0.19"/>
<path d="M2067.7,867 2082.6,867 2089,931 2082.6,995 2067.7,995 2074.1,931" fill="url(#cI3w)" opacity="0.16"/>
<path d="M2085.9,867 2101.3,867 2107.7,931 2101.3,995 2085.9,995 2092.3,931" fill="url(#cI3k)" opacity="0.26"/>
<path d="M2104.6,867 2119.5,867 2125.9,931 2119.5,995 2104.6,995 2111,931" fill="url(#cI3w)" opacity="0.06"/>
<path d="M2122.7,867 2137.1,867 2143.5,931 2137.1,995 2122.7,995 2129.1,931" fill="url(#cI3k)" opacity="0.08"/>
<path d="M2140.3,867 2154.3,867 2160.7,931 2154.3,995 2140.3,995 2146.7,931" fill="url(#cI3w)" opacity="0.14"/>
<path d="M2157.2,867 2170.8,867 2177.2,931 2170.8,995 2157.2,995 2163.6,931" fill="url(#cI3k)" opacity="0.11"/>
<path d="M2190.2,867 2203.8,867 2210.2,931 2203.8,995 2190.2,995 2196.6,931" fill="url(#cI3k)" opacity="0.13"/>
<path d="M2206.8,867 2219.9,867 2226.3,931 2219.9,995 2206.8,995 2213.2,931" fill="url(#cI3w)" opacity="0.13"/>
<path d="M2239.3,867 2253.3,867 2259.7,931 2253.3,995 2239.3,995 2245.7,931" fill="url(#cI3w)" opacity="0.21"/>
<path d="M2256.3,867 2269.8,867 2276.2,931 2269.8,995 2256.3,995 2262.7,931" fill="url(#cI3k)" opacity="0.24"/>
<path d="M2272.8,867 2285.9,867 2292.3,931 2285.9,995 2272.8,995 2279.2,931" fill="url(#cI3w)" opacity="0.23"/>
<path d="M2288.6,867 2301.3,867 2307.7,931 2301.3,995 2288.6,995 2295,931" fill="url(#cI3k)" opacity="0.14"/>
<path d="M2304,867 2315.4,867 2321.8,931 2315.4,995 2304,995 2310.4,931" fill="url(#cI3w)" opacity="0.18"/>
<path d="M2317.5,867 2329.7,867 2336.1,931 2329.7,995 2317.5,995 2323.9,931" fill="url(#cI3k)" opacity="0.11"/>
<path d="M2332.9,867 2346.4,867 2352.8,931 2346.4,995 2332.9,995 2339.3,931" fill="url(#cI3w)" opacity="0.18"/>
<path d="M2349.2,867 2357.8,867 2364.2,931 2357.8,995 2349.2,995 2355.6,931" fill="url(#cI3k)" opacity="0.09"/>
<path d="M2358.8,867 2368.2,867 2374.6,931 2368.2,995 2358.8,995 2365.2,931" fill="url(#cI3w)" opacity="0.10"/>
<path d="M1292.7,754 1306.9,754 1314.7,780 1306.9,806 1292.7,806 1300.5,780" fill="url(#cI4w)" opacity="0.05"/>
<path d="M1310,754 1324.2,754 1332,780 1324.2,806 1310,806 1317.8,780" fill="url(#cI4k)" opacity="0.56"/>
<path d="M1327.3,754 1341.5,754 1349.3,780 1341.5,806 1327.3,806 1335.1,780" fill="url(#cI4w)" opacity="0.46"/>
<path d="M1344.6,754 1358.8,754 1366.6,780 1358.8,806 1344.6,806 1352.4,780" fill="url(#cI4k)" opacity="0.56"/>
<path d="M1361.9,754 1376.1,754 1383.9,780 1376.1,806 1361.9,806 1369.7,780" fill="url(#cI4w)" opacity="0.55"/>
<path d="M1379.2,754 1393.4,754 1401.2,780 1393.4,806 1379.2,806 1387,780" fill="url(#cI4k)" opacity="0.38"/>
<path d="M1301.5,798 1315.7,798 1325.7,838 1315.7,878 1301.5,878 1311.5,838" fill="url(#cI5w)" opacity="0.49"/>
<path d="M1318.8,798 1333,798 1343,838 1333,878 1318.8,878 1328.8,838" fill="url(#cI5k)" opacity="0.78"/>
<path d="M1336.1,798 1350.3,798 1360.3,838 1350.3,878 1336.1,878 1346.1,838" fill="url(#cI5w)" opacity="0.68"/>
<path d="M1353.4,798 1367.6,798 1377.6,838 1367.6,878 1353.4,878 1363.4,838" fill="url(#cI5k)" opacity="0.80"/>
<path d="M1370.7,798 1384.9,798 1394.9,838 1384.9,878 1370.7,878 1380.7,838" fill="url(#cI5w)" opacity="0.66"/>
<path d="M1388,798 1402.2,798 1412.2,838 1402.2,878 1388,878 1398,838" fill="url(#cI5k)" opacity="0.67"/>
<path d="M1405.3,798 1419.5,798 1429.5,838 1419.5,878 1405.3,878 1415.3,838" fill="url(#cI5w)" opacity="0.66"/>
<path d="M1422.6,798 1436.8,798 1446.8,838 1436.8,878 1422.6,878 1432.6,838" fill="url(#cI5k)" opacity="0.21"/>
<path d="M1422.6,798 1436.8,798 1446.8,838 1436.8,878 1422.6,878 1432.6,838" fill="url(#cI6k)" opacity="0.22"/>
<path d="M1439.9,798 1454.1,798 1464.1,838 1454.1,878 1439.9,878 1449.9,838" fill="url(#cI6w)" opacity="0.19"/>
<path d="M1457.2,798 1471.4,798 1481.4,838 1471.4,878 1457.2,878 1467.2,838" fill="url(#cI6k)" opacity="0.23"/>
<path d="M1474.5,798 1488.7,798 1498.7,838 1488.7,878 1474.5,878 1484.5,838" fill="url(#cI6w)" opacity="0.36"/>
<path d="M1491.8,798 1506,798 1516,838 1506,878 1491.8,878 1501.8,838" fill="url(#cI6k)" opacity="0.18"/>
<path d="M1498,754 1512.1,754 1515.3,817 1512.1,880 1498,880 1501.1,817" fill="url(#cI7w)" opacity="0.05"/>
<path d="M1515.3,754 1529.4,754 1532.6,817 1529.4,880 1515.3,880 1518.4,817" fill="url(#cI7k)" opacity="0.37"/>
<path d="M1532.6,754 1546.7,754 1549.9,817 1546.7,880 1532.6,880 1535.7,817" fill="url(#cI7w)" opacity="0.55"/>
<path d="M1549.9,754 1564,754 1567.2,817 1564,880 1549.9,880 1553,817" fill="url(#cI7k)" opacity="0.81"/>
<path d="M1567.2,754 1581.3,754 1584.5,817 1581.3,880 1567.2,880 1570.3,817" fill="url(#cI7w)" opacity="0.75"/>
<path d="M1584.5,754 1598.6,754 1601.8,817 1598.6,880 1584.5,880 1587.6,817" fill="url(#cI7k)" opacity="0.87"/>
<path d="M1601.7,754 1616.1,754 1619.3,817 1616.1,880 1601.7,880 1604.8,817" fill="url(#cI7w)" opacity="0.78"/>
<path d="M1619.4,754 1634,754 1637.2,817 1634,880 1619.4,880 1622.5,817" fill="url(#cI7k)" opacity="0.42"/>
<path d="M1637.2,754 1651.5,754 1654.7,817 1651.5,880 1637.2,880 1640.3,817" fill="url(#cI7w)" opacity="0.10"/>
<path d="M1621.6,782 1636.2,782 1640.2,831 1636.2,880 1621.6,880 1625.5,831" fill="url(#cI8k)" opacity="0.58"/>
<path d="M1639.4,782 1653.8,782 1657.7,831 1653.8,880 1639.4,880 1643.3,831" fill="url(#cI8w)" opacity="1.00"/>
<path d="M1656.9,782 1670.9,782 1674.8,831 1670.9,880 1656.9,880 1660.8,831" fill="url(#cI8k)" opacity="1.00"/>
<path d="M1673.9,782 1687.9,782 1691.8,831 1687.9,880 1673.9,880 1677.8,831" fill="url(#cI8w)" opacity="1.00"/>
<path d="M1691,782 1704.6,782 1708.6,831 1704.6,880 1691,880 1694.9,831" fill="url(#cI8k)" opacity="1.00"/>
<path d="M1707.5,782 1721,782 1724.9,831 1721,880 1707.5,880 1711.4,831" fill="url(#cI8w)" opacity="1.00"/>
<path d="M1724,782 1737.5,782 1741.4,831 1737.5,880 1724,880 1727.9,831" fill="url(#cI8k)" opacity="1.00"/>
<path d="M1740.4,782 1753.7,782 1757.6,831 1753.7,880 1740.4,880 1744.4,831" fill="url(#cI8w)" opacity="0.27"/>
<path d="M1738.5,782 1751.8,782 1757.6,831 1751.8,880 1738.5,880 1744.4,831" fill="url(#cI9w)" opacity="0.48"/>
<path d="M1754.7,782 1768.4,782 1774.3,831 1768.4,880 1754.7,880 1760.6,831" fill="url(#cI9k)" opacity="0.80"/>
<path d="M1771.5,782 1785.7,782 1791.6,831 1785.7,880 1771.5,880 1777.4,831" fill="url(#cI9w)" opacity="0.61"/>
<path d="M1788.8,782 1803.4,782 1809.3,831 1803.4,880 1788.8,880 1794.7,831" fill="url(#cI9k)" opacity="0.77"/>
<path d="M1806.7,782 1821.4,782 1827.3,831 1821.4,880 1806.7,880 1812.6,831" fill="url(#cI9w)" opacity="0.81"/>
<path d="M1824.5,782 1839,782 1844.9,831 1839,880 1824.5,880 1830.4,831" fill="url(#cI9k)" opacity="0.67"/>
<path d="M1842.2,782 1856.7,782 1862.6,831 1856.7,880 1842.2,880 1848.1,831" fill="url(#cI9w)" opacity="0.68"/>
<path d="M1859.9,782 1874.3,782 1880.2,831 1874.3,880 1859.9,880 1865.8,831" fill="url(#cI9k)" opacity="0.75"/>
<path d="M1877.5,782 1891.9,782 1897.8,831 1891.9,880 1877.5,880 1883.4,831" fill="url(#cI9w)" opacity="0.24"/>
<path d="M1622.1,860 1636.7,860 1640.2,928.5 1636.7,997 1622.1,997 1625.5,928.5" fill="url(#cI10k)" opacity="0.23"/>
<path d="M1639.9,860 1654.3,860 1657.7,928.5 1654.3,997 1639.9,997 1643.3,928.5" fill="url(#cI10w)" opacity="0.55"/>
<path d="M1657.4,860 1671.4,860 1674.8,928.5 1671.4,997 1657.4,997 1660.8,928.5" fill="url(#cI10k)" opacity="0.57"/>
<path d="M1674.4,860 1688.4,860 1691.8,928.5 1688.4,997 1674.4,997 1677.8,928.5" fill="url(#cI10w)" opacity="0.41"/>
<path d="M1691.5,860 1705.1,860 1708.6,928.5 1705.1,997 1691.5,997 1694.9,928.5" fill="url(#cI10k)" opacity="0.62"/>
<path d="M1708,860 1721.5,860 1724.9,928.5 1721.5,997 1708,997 1711.4,928.5" fill="url(#cI10w)" opacity="0.49"/>
<path d="M1724.5,860 1738,860 1741.4,928.5 1738,997 1724.5,997 1727.9,928.5" fill="url(#cI10k)" opacity="0.66"/>
<path d="M1740.9,860 1754.2,860 1757.6,928.5 1754.2,997 1740.9,997 1744.4,928.5" fill="url(#cI10w)" opacity="0.41"/>
<path d="M1757.1,860 1770.9,860 1774.3,928.5 1770.9,997 1757.1,997 1760.6,928.5" fill="url(#cI10k)" opacity="0.47"/>
<path d="M1774,860 1788.2,860 1791.6,928.5 1788.2,997 1774,997 1777.4,928.5" fill="url(#cI10w)" opacity="0.41"/>
<path d="M1791.3,860 1805.9,860 1809.3,928.5 1805.9,997 1791.3,997 1794.7,928.5" fill="url(#cI10k)" opacity="0.72"/>
<path d="M1809.2,860 1823.8,860 1827.3,928.5 1823.8,997 1809.2,997 1812.6,928.5" fill="url(#cI10w)" opacity="0.60"/>
<path d="M1827,860 1841.5,860 1844.9,928.5 1841.5,997 1827,997 1830.4,928.5" fill="url(#cI10k)" opacity="0.05"/>
<path d="M1624.3,759 1639,759 1640.2,782.5 1639,806 1624.3,806 1625.5,782.5" fill="url(#cI11k)" opacity="0.38"/>
<path d="M1642.2,759 1656.5,759 1657.7,782.5 1656.5,806 1642.2,806 1643.3,782.5" fill="url(#cI11w)" opacity="0.64"/>
<path d="M1659.6,759 1673.6,759 1674.8,782.5 1673.6,806 1659.6,806 1660.8,782.5" fill="url(#cI11k)" opacity="0.66"/>
<path d="M1676.6,759 1690.6,759 1691.8,782.5 1690.6,806 1676.6,806 1677.8,782.5" fill="url(#cI11w)" opacity="0.57"/>
<path d="M1693.7,759 1707.4,759 1708.6,782.5 1707.4,806 1693.7,806 1694.9,782.5" fill="url(#cI11k)" opacity="0.19"/>
<rect x="1694.9" y="753" width="13.7" height="18" fill="url(#cI12k)" opacity="0.30"/>
<rect x="1711.4" y="753" width="13.4" height="18" fill="url(#cI12w)" opacity="0.38"/>
<rect x="1727.9" y="753" width="13.5" height="18" fill="url(#cI12k)" opacity="0.24"/>
<rect x="1744.4" y="753" width="13.3" height="18" fill="url(#cI12w)" opacity="0.31"/>
<rect x="1760.6" y="753" width="13.7" height="18" fill="url(#cI12k)" opacity="0.49"/>
<rect x="1777.4" y="753" width="14.2" height="18" fill="url(#cI12w)" opacity="0.47"/>
<rect x="1794.7" y="753" width="14.6" height="18" fill="url(#cI12k)" opacity="0.47"/>
<rect x="1812.6" y="753" width="14.7" height="18" fill="url(#cI12w)" opacity="0.34"/>
<rect x="1830.4" y="753" width="14.5" height="18" fill="url(#cI12k)" opacity="0.39"/>
<rect x="1848.1" y="753" width="14.5" height="18" fill="url(#cI12w)" opacity="0.45"/>
<rect x="1865.8" y="753" width="14.4" height="18" fill="url(#cI12k)" opacity="0.50"/>
<rect x="1883.4" y="753" width="14.4" height="18" fill="url(#cI12w)" opacity="0.37"/>
<rect x="1901" y="753" width="13.7" height="18" fill="url(#cI12k)" opacity="0.35"/>
<rect x="1917.5" y="753" width="11.9" height="18" fill="url(#cI12w)" opacity="0.54"/>
<rect x="1931.8" y="753" width="10.8" height="18" fill="url(#cI12k)" opacity="0.45"/>
<rect x="1945" y="753" width="11.3" height="18" fill="url(#cI12w)" opacity="0.41"/>
<rect x="1958.8" y="753" width="12.6" height="18" fill="url(#cI12k)" opacity="0.24"/>
<path d="M1843.5,719 1858,719 1862.6,734.5 1858,750 1843.5,750 1848.1,734.5" fill="url(#cI13w)" opacity="0.45"/>
<path d="M1861.1,719 1875.6,719 1880.2,734.5 1875.6,750 1861.1,750 1865.8,734.5" fill="url(#cI13k)" opacity="0.50"/>
<path d="M1878.7,719 1893.2,719 1897.8,734.5 1893.2,750 1878.7,750 1883.4,734.5" fill="url(#cI13w)" opacity="0.47"/>
<path d="M1896.3,719 1910,719 1914.7,734.5 1910,750 1896.3,750 1901,734.5" fill="url(#cI13k)" opacity="0.25"/>
<path d="M1912.9,719 1924.8,719 1929.4,734.5 1924.8,750 1912.9,750 1917.5,734.5" fill="url(#cI13w)" opacity="0.30"/>
<path d="M1927.1,719 1938,719 1942.6,734.5 1938,750 1927.1,750 1931.8,734.5" fill="url(#cI13k)" opacity="0.45"/>
<path d="M1940.3,719 1951.6,719 1956.3,734.5 1951.6,750 1940.3,750 1945,734.5" fill="url(#cI13w)" opacity="0.31"/>
<path d="M1954.2,719 1966.8,719 1971.5,734.5 1966.8,750 1954.2,750 1958.8,734.5" fill="url(#cI13k)" opacity="0.07"/>
<path d="M1930.3,827 1941.2,827 1942.6,856 1941.2,885 1930.3,885 1931.8,856" fill="url(#cI14k)" opacity="0.12"/>
<path d="M1943.5,827 1954.8,827 1956.3,856 1954.8,885 1943.5,885 1945,856" fill="url(#cI14w)" opacity="0.53"/>
<path d="M1957.4,827 1970,827 1971.5,856 1970,885 1957.4,885 1958.8,856" fill="url(#cI14k)" opacity="0.86"/>
<path d="M1973,827 1986.5,827 1988,856 1986.5,885 1973,885 1974.4,856" fill="url(#cI14w)" opacity="0.99"/>
<path d="M1989.5,827 2003,827 2004.5,856 2003,885 1989.5,885 1990.9,856" fill="url(#cI14k)" opacity="1.00"/>
<path d="M2006,827 2019.5,827 2021,856 2019.5,885 2006,885 2007.4,856" fill="url(#cI14w)" opacity="0.67"/>
<path d="M2022.5,827 2036,827 2037.5,856 2036,885 2022.5,885 2023.9,856" fill="url(#cI14k)" opacity="0.81"/>
<path d="M2039,827 2052.5,827 2054,856 2052.5,885 2039,885 2040.4,856" fill="url(#cI14w)" opacity="0.76"/>
<path d="M2055.5,827 2069.5,827 2070.9,856 2069.5,885 2055.5,885 2056.9,856" fill="url(#cI14k)" opacity="0.93"/>
<path d="M2072.6,827 2087.5,827 2089,856 2087.5,885 2072.6,885 2074.1,856" fill="url(#cI14w)" opacity="0.71"/>
<path d="M2090.9,827 2106.2,827 2107.7,856 2106.2,885 2090.9,885 2092.3,856" fill="url(#cI14k)" opacity="0.94"/>
<path d="M2109.6,827 2124.5,827 2125.9,856 2124.5,885 2109.6,885 2111,856" fill="url(#cI14w)" opacity="0.93"/>
<path d="M2127.6,827 2142.1,827 2143.5,856 2142.1,885 2127.6,885 2129.1,856" fill="url(#cI14k)" opacity="0.91"/>
<path d="M2145.2,827 2159.2,827 2160.7,856 2159.2,885 2145.2,885 2146.7,856" fill="url(#cI14w)" opacity="0.58"/>
<path d="M2162.2,827 2175.7,827 2177.2,856 2175.7,885 2162.2,885 2163.6,856" fill="url(#cI14k)" opacity="0.18"/>
<path d="M2113.7,710 2128.1,710 2143.5,754 2128.1,798 2113.7,798 2129.1,754" fill="url(#cI15k)" opacity="0.19"/>
<path d="M2131.3,710 2145.3,710 2160.7,754 2145.3,798 2131.3,798 2146.7,754" fill="url(#cI15w)" opacity="0.37"/>
<path d="M2148.2,710 2161.8,710 2177.2,754 2161.8,798 2148.2,798 2163.6,754" fill="url(#cI15k)" opacity="0.60"/>
<path d="M2164.7,710 2178.3,710 2193.7,754 2178.3,798 2164.7,798 2180.1,754" fill="url(#cI15w)" opacity="0.42"/>
<path d="M2181.2,710 2194.8,710 2210.2,754 2194.8,798 2181.2,798 2196.6,754" fill="url(#cI15k)" opacity="0.47"/>
<path d="M2197.8,710 2210.9,710 2226.3,754 2210.9,798 2197.8,798 2213.2,754" fill="url(#cI15w)" opacity="0.32"/>
<path d="M2213.6,710 2227.2,710 2242.6,754 2227.2,798 2213.6,798 2229,754" fill="url(#cI15k)" opacity="0.61"/>
<path d="M2230.3,710 2244.3,710 2259.7,754 2244.3,798 2230.3,798 2245.7,754" fill="url(#cI15w)" opacity="0.46"/>
<path d="M2247.3,710 2260.8,710 2276.2,754 2260.8,798 2247.3,798 2262.7,754" fill="url(#cI15k)" opacity="0.52"/>
<path d="M2263.8,710 2276.9,710 2292.3,754 2276.9,798 2263.8,798 2279.2,754" fill="url(#cI15w)" opacity="0.45"/>
<path d="M2279.6,710 2292.3,710 2307.7,754 2292.3,798 2279.6,798 2295,754" fill="url(#cI15k)" opacity="0.21"/>
<path d="M2295,710 2306.4,710 2321.8,754 2306.4,798 2295,798 2310.4,754" fill="url(#cI15w)" opacity="0.26"/>
<path d="M2308.5,710 2320.7,710 2336.1,754 2320.7,798 2308.5,798 2323.9,754" fill="url(#cI15k)" opacity="0.24"/>
<path d="M2323.9,710 2337.4,710 2352.8,754 2337.4,798 2323.9,798 2339.3,754" fill="url(#cI15w)" opacity="0.09"/>
<path d="M2320.6,737 2332.8,737 2336.1,770 2332.8,803 2320.6,803 2323.9,770" fill="url(#cI16k)" opacity="0.81"/>
<path d="M2336,737 2349.5,737 2352.8,770 2349.5,803 2336,803 2339.3,770" fill="url(#cI16w)" opacity="0.67"/>
<path d="M2352.3,737 2360.9,737 2364.2,770 2360.9,803 2352.3,803 2355.6,770" fill="url(#cI16k)" opacity="0.75"/>
<path d="M2361.9,737 2371.3,737 2374.6,770 2371.3,803 2361.9,803 2365.2,770" fill="url(#cI16w)" opacity="0.91"/>
</g></g>
<path d="M126,328.5H1180.3" stroke="#222" stroke-width="1.6"/>
<path d="M1313.5,369.3H2367.8" stroke="#222" stroke-width="1.6"/>
<path d="M126,1047.4H1180.3" stroke="#666" stroke-width="2"/>
<path d="M1313.5,1047.4H2367.8" stroke="#666" stroke-width="2"/>
<polyline points="125.8,332.1 131.5,355.8 139.2,318.7 143.7,330.8 147.5,324.4 155.8,343 164.2,322.5 168,334.7 172.5,314.8 182.1,341.7 189.8,322.5 193.6,322.5 197.4,317.4 210.2,349.4 218.6,316.1 223,334.7 227.5,323.2 235.2,346.2 243.5,321.2 246.7,326.4 251.8,321.9 260.8,344.3 273,314.2 278.7,328.9 286.4,341.1 292.8,331.5 298.6,309.7 310.7,343 314.6,336 319,336 324.2,311.6 336.3,344.3 340.2,334.7 344.6,332.1 348.5,305.9 354.9,331.5 360.6,337.2 369,334.7 372.8,314.8 377.3,315.5 380.5,311.6 385,333.4 393.3,344.3 399.7,319.3 409.3,327 415.7,345.6 424,312.3 432,339.8 436,325.4 440.8,340.6 448.8,319.8 453.6,338.2 457.6,346.2 465.6,370.2 482.4,314.2 487.2,322.2 492,357.4 498.4,343 502.4,341.4 507.2,352.6 516,314.2 528.8,363.8 541.6,329.4 548,337.4 552.8,336.6 561.6,373.4 570.4,318.2 573.6,338.2 577.6,331.8 587.2,358.2 595.2,341.4 600.8,343 610.4,348.6 620,329.4 628,348.6 632.8,344.6 637.6,355 649.6,329.4 655.2,338.2 658.4,338.2 665.6,357.4 674.4,338.2 679.2,338.2 683.2,319 690.4,347.8 696.8,343 700,343.8 704,362.2 708,337.4 716.8,359.8 725.6,335 733.6,341.4 741.6,365.4 749.6,329.4 754.4,346.2 760.8,346.2 766.4,352.6 774.4,335.8 791.2,352.6 796,343 800,346.5 805.5,348.8 808.6,361.3 812.5,337.9 817.2,349.6 822.6,344.9 825.7,346.5 831.2,366 834.3,365.2 837.4,332.4 845.2,359.7 849.9,348 854.6,365.2 864,344.9 871,355.1 875.7,340.2 883.5,358.2 892,357.4 900.6,349.6 909.2,368.3 917,351.2 921.7,359 925.6,352.7 937.3,376.9 942.7,352.7 954.4,357.4 963,380 967.7,360.5 979.4,360.5 988,382.4 996.6,358.2 1001.2,366 1005.9,363.6 1013.7,376.9 1024.6,358.2 1030.1,379.2 1037.1,374.6 1042.6,388.6 1047.3,352.7 1055.1,380 1063.7,371.4 1067.6,391.7 1072.2,355.1 1076.1,355.8 1080,376.1 1084.7,355.1 1093.3,376.9 1098,368.3 1105,382.4 1113.6,358.2 1118.3,376.9 1126,364.4 1132.3,375.3 1140.1,363.6 1147.1,376.1 1151.8,371.4 1157.3,385.5 1164.3,355.8 1169,371.4 1176,359 1179.9,371.4" fill="none" stroke="#ff0000" stroke-width="3.0" stroke-linejoin="round" />
<polyline points="1312.9,358.4 1314.4,354 1318,351.2 1322.3,356.9 1326.6,387.2 1330.9,360.5 1335.2,382.8 1338.8,361.2 1343.9,373.5 1347.5,364.8 1351.8,385.7 1355.4,354 1360.4,388.6 1364.8,372.8 1368.4,373.5 1372.7,361.2 1376.3,378.5 1381.3,363.4 1385.6,385.7 1391.4,371.3 1394.3,368.4 1397.9,347.6 1402.2,375.6 1408.7,369.9 1414.4,372.8 1418.8,377.1 1423.1,349 1427.4,372 1431.7,367.7 1438.9,372.8 1443.2,380.7 1448.3,349.7 1451.9,362.7 1455.5,362.7 1460.5,382.1 1464.9,367.7 1468.5,378.5 1473.5,351.2 1477.1,362.7 1481.4,361.2 1485.7,381.4 1492.2,374.2 1498,358.4 1500.9,364.1 1505.9,352.6 1510.9,380.7 1516,364.8 1519.6,378.5 1523.9,358.4 1527.5,369.9 1531.8,354.8 1536.1,387.2 1541.2,363.4 1544.8,371.3 1549.1,362.7 1552.7,373.5 1557,355.5 1561.3,381.4 1564.9,368.4 1569.3,386.4 1573.6,361.2 1577.2,364.1 1581.5,350.4 1585.8,377.1 1590.9,365.6 1593.7,372 1598.1,364.1 1602.4,363.4 1606.7,355.5 1611,390 1616.1,354 1623.3,359.8 1629.7,365.6 1632.6,358.4 1636.2,380.7 1640.5,347.6 1644.1,358.4 1649.2,331 1653.5,339.6 1657.1,334.6 1661.5,362 1665.8,364.1 1670.1,387.9 1673.7,366.3 1678.8,352.6 1682.4,329.6 1686.7,356.9 1691,348.3 1695.3,354 1699.6,358.4 1703.2,386.4 1707.6,360.5 1711.9,359.8 1716.2,329.6 1720.5,346.8 1724.8,352.6 1728.4,369.9 1732.8,358.4 1736.4,368.4 1745,349 1749.3,319.5 1752.9,349.7 1757.2,367 1763,364.1 1770.2,367.7 1774.5,337.5 1778.8,351.9 1782.4,344.7 1786.8,360.5 1791.1,351.9 1795.4,356.9 1799,348.3 1804,369.9 1808.4,362 1812,367 1816.3,345.4 1820.6,360.5 1824.9,336 1829.3,358.4 1832.9,353.3 1837.2,374.9 1841.5,349 1845.8,367 1850.1,338.9 1854.5,345.4 1858.1,345.4 1862.4,364.8 1866,354.8 1871,380 1875.3,352.6 1878.9,356.2 1884,346.8 1887.6,353.3 1891.9,334.6 1896.2,367.7 1900.5,342.5 1907,341.1 1911.3,363.4 1916.4,346.1 1920.7,361.2 1925.7,337.5 1930.1,338.9 1937.3,372 1942.3,336 1945.9,354 1950.2,343.2 1953.8,355.5 1958.9,351.9 1963.2,367.7 1967.5,352.6 1971.1,359.8 1975.4,347.6 1979.7,352.6 1984.8,351.9 1987.7,354.8 1996.3,344.7 2005,351.9 2010,350.5 2012.9,357.1 2017.3,331.5 2021,340.3 2026.1,359.2 2029.7,356.3 2034.1,337.3 2038.5,360 2042.9,333 2048,344.6 2053.8,353.4 2056,352.7 2059.6,339.5 2064,365.1 2067.7,345.4 2072.1,344.6 2075.7,339.5 2080.1,343.2 2084.5,338.1 2088.8,351.2 2092.5,338.1 2097.6,335.9 2101.3,330.8 2104.9,348.3 2109.3,327.9 2113.7,346.1 2118,336.6 2121.7,333 2125.3,317.6 2130.5,343.2 2134.8,331.5 2139.2,343.2 2143.6,335.9 2147.2,333 2150.9,311.1 2155.3,334.4 2158.9,326.4 2163.3,338.1 2167.7,331.5 2172.1,341.7 2176.4,311.1 2180.1,331.5 2189.6,333 2192.5,331.5 2196.9,336.6 2201.3,317.6 2205.6,329.3 2209.3,330 2214.4,346.8 2218.8,320.6 2222.4,334.4 2230.5,317.6 2235.6,341 2243.6,322.7 2247.3,333 2250.9,332.2 2255.3,316.2 2264,351.2 2268.4,327.1 2272.8,353.4 2281.6,336.6 2285.2,336.6 2288.9,347.6 2293.3,329.3 2297.6,351.2 2309.3,340.3 2314.4,360 2318.8,339.5 2329.8,357.8 2334.9,344.6 2339.2,356.3 2344.4,331.5 2351.6,351.2 2359.7,344.6 2364.1,361.4 2368.4,343.2" fill="none" stroke="#0000ff" stroke-width="3.0" stroke-linejoin="round" />
<polyline points="126.5,1049.5 127.5,1049.4 128.5,1049.1 129.5,1048.7 130.5,1048.1 131.5,1047.3 132.5,1046.5 133.5,1045.7 134.5,1044.8 135.5,1044 136.5,1043.2 137.5,1042.6 138.5,1042.2 139.5,1041.9 140.5,1041.8 141.5,1041.9 142.5,1042.2 143.5,1042.6 144.6,1043.2 145.6,1044 146.6,1044.8 147.6,1045.7 148.6,1046.7 149.6,1047.7 150.6,1048.6 151.6,1049.4 152.6,1050.2 153.7,1050.8 154.7,1051.2 155.7,1051.5 156.7,1051.6 157.7,1051.5 158.7,1051.3 159.7,1051 160.7,1050.6 161.7,1050.1 162.7,1049.6 163.7,1049 164.8,1048.3 165.8,1047.7 166.8,1047.2 167.8,1046.7 168.8,1046.3 169.8,1046 170.8,1045.8 171.8,1045.7 172.8,1045.7 173.8,1045.9 174.8,1046.1 175.8,1046.3 176.8,1046.7 177.8,1047 178.8,1047.4 179.8,1047.7 180.8,1048.1 181.8,1048.3 182.8,1048.5 183.8,1048.7 184.8,1048.7 185.9,1048.7 187,1048.5 188,1048.3 189.1,1048.1 190.2,1047.8 191.3,1047.5 192.4,1047.2 193.5,1047 194.5,1046.8 195.6,1046.6 196.7,1046.6 197.7,1046.6 198.7,1046.7 199.7,1046.8 200.7,1047 201.7,1047.2 202.7,1047.4 203.7,1047.6 204.7,1047.9 205.7,1048.1 206.7,1048.3 207.7,1048.5 208.7,1048.6 209.7,1048.7 210.7,1048.7 211.7,1048.7 212.7,1048.6 213.7,1048.5 214.7,1048.3 215.7,1048.1 216.7,1047.8 217.7,1047.6 218.8,1047.3 219.8,1047.1 220.8,1046.8 221.8,1046.6 222.8,1046.4 223.8,1046.3 224.8,1046.2 225.8,1046.2 226.8,1046.2 227.8,1046.3 228.8,1046.4 229.9,1046.6 230.9,1046.8 231.9,1047 232.9,1047.2 233.9,1047.4 234.9,1047.6 235.9,1047.8 237,1048 238,1048.1 239,1048.2 240,1048.2 241,1048.2 242,1048.2 243,1048.1 244,1048.1 245,1048 246,1047.9 247,1047.8 248,1047.6 249,1047.5 250,1047.3 251,1047.2 252,1047 253,1046.9 254,1046.7 255,1046.5 256,1046.3 257,1046.2 258,1046 259,1045.9 260,1045.7 261,1045.6 262,1045.4 263,1045.3 264,1045.2 265,1045.1 266,1045.1 267,1045 268,1045 269,1045 270,1045.1 271,1045.2 272,1045.5 273.1,1045.9 274.1,1046.3 275.1,1046.8 276.1,1047.4 277.1,1048 278.1,1048.5 279.1,1049.1 280.1,1049.6 281.1,1050 282.2,1050.4 283.2,1050.7 284.2,1050.8 285.2,1050.9 286.2,1050.8 287.2,1050.7 288.3,1050.4 289.3,1050 290.3,1049.5 291.3,1049 292.3,1048.4 293.3,1047.8 294.4,1047.1 295.4,1046.5 296.4,1045.9 297.4,1045.4 298.4,1044.9 299.4,1044.5 300.5,1044.2 301.5,1044.1 302.5,1044 303.5,1044 304.5,1044.2 305.6,1044.4 306.6,1044.6 307.6,1045 308.6,1045.3 309.7,1045.8 310.7,1046.2 311.7,1046.7 312.7,1047.2 313.7,1047.6 314.8,1048 315.8,1048.4 316.8,1048.8 317.8,1049 318.9,1049.2 319.9,1049.4 320.9,1049.4 321.9,1049.4 323,1049.3 324,1049.1 325,1048.9 326,1048.6 327.1,1048.3 328.1,1047.9 329.1,1047.5 330.1,1047.1 331.2,1046.6 332.2,1046.2 333.2,1045.7 334.3,1045.2 335.3,1044.8 336.3,1044.4 337.3,1044 338.4,1043.7 339.4,1043.4 340.4,1043.2 341.4,1043 342.5,1042.9 343.5,1042.9 344.5,1043 345.5,1043.3 346.5,1043.9 347.6,1044.6 348.6,1045.5 349.6,1046.4 350.6,1047.5 351.6,1048.7 352.6,1049.8 353.6,1050.9 354.6,1051.8 355.6,1052.7 356.7,1053.4 357.7,1054 358.7,1054.3 359.7,1054.4 360.7,1054.2 361.7,1053.7 362.7,1052.9 363.8,1051.9 364.8,1050.6 365.8,1049.1 366.8,1047.4 367.8,1045.8 368.8,1044.1 369.8,1042.4 370.8,1040.9 371.8,1039.6 372.9,1038.6 373.9,1037.8 374.9,1037.3 375.9,1037.1 376.9,1037.3 377.9,1037.9 379,1038.9 380,1040.3 381,1041.9 382,1043.8 383,1045.9 384,1048.1 385.1,1050.3 386.1,1052.5 387.1,1054.6 388.1,1056.5 389.1,1058.1 390.1,1059.5 391.2,1060.5 392.2,1061.1 393.2,1061.3 394.2,1061 395.2,1060 396.2,1058.5 397.2,1056.5 398.3,1054 399.3,1051.1 400.3,1048.1 401.3,1044.9 402.3,1041.6 403.3,1038.6 404.3,1035.7 405.3,1033.2 406.4,1031.2 407.4,1029.7 408.4,1028.7 409.4,1028.4 410.4,1028.8 411.4,1029.9 412.5,1031.6 413.5,1034 414.5,1037 415.5,1040.4 416.5,1044.1 417.5,1048 418.6,1052 419.6,1055.9 420.6,1059.6 421.6,1063 422.6,1066 423.6,1068.4 424.7,1070.1 425.7,1071.2 426.7,1071.6 427.7,1071.2 428.7,1069.9 429.8,1067.9 430.8,1065.1 431.8,1061.7 432.8,1057.7 433.9,1053.3 434.9,1048.6 435.9,1043.8 436.9,1038.9 437.9,1034.2 439,1029.8 440,1025.8 441,1022.4 442,1019.6 443.1,1017.6 444.1,1016.3 445.1,1015.9 446.1,1016.5 447.1,1018.2 448.1,1020.9 449.1,1024.6 450.2,1029.2 451.2,1034.5 452.2,1040.2 453.2,1046.3 454.2,1052.5 455.2,1058.6 456.2,1064.3 457.2,1069.6 458.3,1074.2 459.3,1077.9 460.3,1080.6 461.3,1082.3 462.3,1082.9 463.3,1082.3 464.3,1080.6 465.3,1077.8 466.3,1074 467.3,1069.3 468.3,1063.9 469.3,1057.9 470.3,1051.5 471.3,1044.9 472.3,1038.2 473.3,1031.8 474.3,1025.8 475.3,1020.4 476.3,1015.7 477.3,1011.9 478.3,1009.1 479.3,1007.4 480.3,1006.8 481.3,1007.5 482.4,1009.7 483.4,1013.3 484.4,1018.1 485.5,1024 486.5,1030.6 487.6,1037.9 488.6,1045.4 489.6,1052.9 490.7,1060.2 491.7,1066.8 492.8,1072.7 493.8,1077.5 494.8,1081.1 495.9,1083.3 496.9,1084 497.9,1083.4 498.9,1081.6 500,1078.7 501,1074.8 502,1070 503,1064.4 504,1058.3 505,1051.9 506.1,1045.4 507.1,1039 508.1,1032.9 509.1,1027.3 510.1,1022.5 511.1,1018.6 512.2,1015.7 513.2,1013.9 514.2,1013.3 515.2,1013.9 516.2,1015.7 517.2,1018.5 518.2,1022.4 519.3,1027.1 520.3,1032.4 521.3,1038.3 522.3,1044.3 523.3,1050.3 524.3,1056.2 525.3,1061.5 526.4,1066.2 527.4,1070.1 528.4,1072.9 529.4,1074.7 530.4,1075.3 531.4,1074.8 532.4,1073.3 533.4,1070.8 534.5,1067.6 535.5,1063.5 536.5,1059 537.5,1054 538.5,1048.8 539.5,1043.7 540.5,1038.7 541.5,1034.2 542.5,1030.1 543.6,1026.9 544.6,1024.4 545.6,1022.9 546.6,1022.4 547.6,1022.9 548.6,1024.3 549.6,1026.5 550.6,1029.6 551.7,1033.3 552.7,1037.6 553.7,1042.2 554.7,1047 555.7,1051.8 556.7,1056.4 557.7,1060.7 558.8,1064.4 559.8,1067.5 560.8,1069.7 561.8,1071.1 562.8,1071.6 563.8,1071.1 564.8,1069.7 565.8,1067.5 566.8,1064.5 567.9,1060.8 568.9,1056.5 569.9,1052 570.9,1047.2 571.9,1042.4 572.9,1037.9 573.9,1033.6 575,1029.9 576,1026.9 577,1024.7 578,1023.3 579,1022.8 580,1023.2 581,1024.5 582,1026.5 583,1029.3 584.1,1032.7 585.1,1036.6 586.1,1040.9 587.1,1045.4 588.1,1050.1 589.1,1054.6 590.1,1058.9 591.1,1062.8 592.2,1066.2 593.2,1069 594.2,1071 595.2,1072.3 596.2,1072.7 597.2,1072.3 598.2,1071.2 599.3,1069.3 600.3,1066.8 601.3,1063.7 602.3,1060.1 603.4,1056.2 604.4,1051.9 605.4,1047.5 606.4,1043.2 607.4,1038.9 608.5,1035 609.5,1031.4 610.5,1028.3 611.5,1025.8 612.6,1023.9 613.6,1022.8 614.6,1022.4 615.6,1022.8 616.6,1024.1 617.7,1026.3 618.7,1029.2 619.7,1032.7 620.7,1036.8 621.7,1041.2 622.7,1045.9 623.8,1050.7 624.8,1055.4 625.8,1059.8 626.8,1063.9 627.8,1067.4 628.8,1070.3 629.9,1072.5 630.9,1073.8 631.9,1074.2 632.9,1073.7 634,1072.4 635,1070.1 636,1067.1 637.1,1063.4 638.1,1059.2 639.1,1054.5 640.2,1049.6 641.2,1044.5 642.3,1039.6 643.3,1034.9 644.3,1030.7 645.4,1027 646.4,1024 647.4,1021.7 648.5,1020.4 649.5,1019.9 650.5,1020.3 651.5,1021.5 652.5,1023.5 653.5,1026.2 654.5,1029.5 655.5,1033.3 656.5,1037.6 657.5,1042.1 658.5,1046.8 659.5,1051.4 660.5,1055.9 661.5,1060.2 662.5,1064 663.5,1067.3 664.5,1070 665.5,1072 666.5,1073.2 667.5,1073.6 668.5,1073.2 669.6,1071.9 670.6,1069.9 671.6,1067.1 672.7,1063.8 673.7,1059.9 674.7,1055.6 675.8,1051.1 676.8,1046.6 677.9,1042.1 678.9,1037.8 679.9,1033.9 681,1030.6 682,1027.8 683,1025.8 684.1,1024.5 685.1,1024.1 686.1,1024.5 687.2,1025.5 688.2,1027.3 689.2,1029.7 690.3,1032.6 691.3,1036 692.3,1039.7 693.4,1043.6 694.4,1047.5 695.5,1051.4 696.5,1055.1 697.5,1058.5 698.6,1061.4 699.6,1063.8 700.6,1065.6 701.7,1066.6 702.7,1067 703.7,1066.7 704.8,1065.8 705.8,1064.4 706.8,1062.4 707.9,1060 708.9,1057.2 709.9,1054.2 711,1051 712,1047.8 713.1,1044.6 714.1,1041.6 715.1,1038.8 716.2,1036.4 717.2,1034.4 718.2,1033 719.3,1032.1 720.3,1031.8 721.3,1032 722.4,1032.7 723.4,1033.9 724.4,1035.4 725.5,1037.3 726.5,1039.4 727.5,1041.8 728.6,1044.3 729.6,1046.8 730.7,1049.3 731.7,1051.7 732.7,1053.8 733.8,1055.7 734.8,1057.2 735.8,1058.4 736.9,1059.1 737.9,1059.3 738.9,1059.1 740,1058.6 741,1057.7 742,1056.5 743.1,1055.1 744.1,1053.4 745.1,1051.6 746.1,1049.8 747.2,1047.9 748.2,1046.1 749.2,1044.4 750.3,1043 751.3,1041.8 752.3,1040.9 753.4,1040.4 754.4,1040.2 755.4,1040.3 756.5,1040.7 757.5,1041.4 758.5,1042.3 759.5,1043.3 760.6,1044.5 761.6,1045.8 762.6,1047.1 763.6,1048.4 764.7,1049.6 765.7,1050.6 766.7,1051.5 767.7,1052.2 768.8,1052.6 769.8,1052.7 770.8,1052.6 771.8,1052.3 772.9,1051.7 773.9,1051 774.9,1050.2 775.9,1049.3 777,1048.3 778,1047.3 779,1046.4 780,1045.6 781,1044.9 782.1,1044.3 783.1,1044 784.1,1043.9 785.1,1044 786.1,1044.2 787.2,1044.6 788.2,1045.1 789.2,1045.8 790.2,1046.5 791.2,1047.2 792.3,1047.9 793.3,1048.6 794.3,1049.3 795.3,1049.8 796.4,1050.2 797.4,1050.4 798.4,1050.5 799.4,1050.4 800.5,1050.3 801.5,1050 802.5,1049.6 803.5,1049.1 804.6,1048.6 805.6,1048 806.6,1047.5 807.6,1046.9 808.7,1046.4 809.7,1045.9 810.7,1045.5 811.7,1045.2 812.8,1045.1 813.8,1045 814.8,1045.1 815.8,1045.4 816.8,1045.8 817.9,1046.3 818.9,1047 819.9,1047.7 820.9,1048.5 821.9,1049.2 822.9,1049.9 824,1050.4 825,1050.8 826,1051.1 827,1051.2 828,1051.1 829.1,1050.8 830.1,1050.4 831.1,1049.8 832.1,1049.1 833.2,1048.3 834.2,1047.4 835.2,1046.6 836.2,1045.7 837.3,1044.9 838.3,1044.2 839.3,1043.6 840.3,1043.2 841.4,1042.9 842.4,1042.8 843.4,1042.9 844.5,1043.2 845.5,1043.7 846.5,1044.4 847.6,1045.2 848.6,1046.2 849.6,1047.2 850.6,1048.3 851.7,1049.4 852.7,1050.4 853.7,1051.4 854.8,1052.2 855.8,1052.9 856.8,1053.4 857.9,1053.7 858.9,1053.8 859.9,1053.7 861,1053.4 862,1052.8 863,1052.1 864.1,1051.2 865.1,1050.1 866.1,1049 867.2,1047.8 868.2,1046.6 869.3,1045.4 870.3,1044.3 871.3,1043.2 872.4,1042.3 873.4,1041.6 874.4,1041 875.5,1040.7 876.5,1040.6 877.5,1040.7 878.6,1041.1 879.6,1041.7 880.6,1042.5 881.7,1043.4 882.7,1044.6 883.7,1045.8 884.8,1047.1 885.8,1048.4 886.9,1049.7 887.9,1050.9 888.9,1052.1 890,1053 891,1053.8 892,1054.4 893.1,1054.8 894.1,1054.9 895.1,1054.8 896.2,1054.5 897.2,1053.9 898.3,1053.2 899.3,1052.3 900.3,1051.2 901.4,1050.1 902.4,1048.8 903.5,1047.6 904.5,1046.3 905.5,1045 906.6,1043.9 907.6,1042.8 908.6,1041.9 909.7,1041.2 910.7,1040.6 911.8,1040.3 912.8,1040.2 913.8,1040.3 914.9,1040.7 915.9,1041.3 917,1042 918,1043 919,1044.2 920.1,1045.4 921.1,1046.7 922.1,1048.1 923.2,1049.5 924.2,1050.8 925.3,1052 926.3,1053.2 927.3,1054.2 928.4,1054.9 929.4,1055.5 930.5,1055.9 931.5,1056 932.5,1055.8 933.6,1055.3 934.6,1054.6 935.6,1053.5 936.7,1052.2 937.7,1050.7 938.7,1049.1 939.8,1047.4 940.8,1045.7 941.8,1044.1 942.8,1042.6 943.9,1041.3 944.9,1040.2 945.9,1039.5 947,1039 948,1038.8 949,1039 950.1,1039.4 951.1,1040.2 952.1,1041.2 953.2,1042.4 954.2,1043.8 955.2,1045.3 956.2,1046.8 957.3,1048.4 958.3,1049.9 959.3,1051.3 960.4,1052.5 961.4,1053.5 962.4,1054.3 963.5,1054.7 964.5,1054.9 965.5,1054.7 966.6,1054.3 967.6,1053.6 968.6,1052.6 969.6,1051.4 970.7,1050.1 971.7,1048.7 972.7,1047.2 973.7,1045.8 974.8,1044.5 975.8,1043.3 976.8,1042.3 977.8,1041.6 978.9,1041.2 979.9,1041 980.9,1041.1 982,1041.5 983,1042.1 984,1042.9 985.1,1043.8 986.1,1045 987.1,1046.2 988.1,1047.4 989.2,1048.6 990.2,1049.8 991.2,1051 992.3,1051.9 993.3,1052.7 994.3,1053.3 995.4,1053.7 996.4,1053.8 997.4,1053.7 998.5,1053.4 999.5,1052.8 1000.5,1052.1 1001.6,1051.2 1002.6,1050.1 1003.6,1049 1004.7,1047.8 1005.7,1046.6 1006.8,1045.4 1007.8,1044.3 1008.8,1043.2 1009.9,1042.3 1010.9,1041.6 1011.9,1041 1013,1040.7 1014,1040.6 1015,1040.7 1016.1,1041.1 1017.1,1041.8 1018.1,1042.6 1019.2,1043.7 1020.2,1044.9 1021.2,1046.2 1022.3,1047.6 1023.3,1049 1024.4,1050.4 1025.4,1051.7 1026.4,1052.9 1027.5,1054 1028.5,1054.8 1029.5,1055.5 1030.6,1055.9 1031.6,1056 1032.6,1055.8 1033.7,1055.3 1034.7,1054.4 1035.7,1053.3 1036.8,1051.8 1037.8,1050.2 1038.8,1048.5 1039.8,1046.7 1040.9,1044.8 1041.9,1043.1 1042.9,1041.5 1044,1040 1045,1038.9 1046,1038 1047.1,1037.5 1048.1,1037.3 1049.1,1037.5 1050.2,1038.1 1051.2,1039.2 1052.2,1040.5 1053.3,1042.2 1054.3,1044.1 1055.3,1046.2 1056.3,1048.3 1057.4,1050.4 1058.4,1052.5 1059.4,1054.4 1060.5,1056.1 1061.5,1057.4 1062.5,1058.5 1063.6,1059.1 1064.6,1059.3 1065.6,1059.1 1066.7,1058.6 1067.7,1057.7 1068.7,1056.4 1069.8,1054.9 1070.8,1053.2 1071.8,1051.3 1072.9,1049.3 1073.9,1047.3 1075,1045.3 1076,1043.4 1077,1041.7 1078.1,1040.2 1079.1,1038.9 1080.1,1038 1081.2,1037.5 1082.2,1037.3 1083.2,1037.5 1084.3,1037.9 1085.3,1038.7 1086.3,1039.7 1087.4,1041 1088.4,1042.5 1089.4,1044.1 1090.5,1045.8 1091.5,1047.5 1092.6,1049.2 1093.6,1050.8 1094.6,1052.3 1095.7,1053.6 1096.7,1054.6 1097.7,1055.4 1098.8,1055.8 1099.8,1056 1100.8,1055.9 1101.9,1055.5 1102.9,1054.8 1103.9,1054 1104.9,1053 1106,1051.8 1107,1050.6 1108,1049.3 1109,1048.1 1110.1,1046.9 1111.1,1045.9 1112.1,1045.1 1113.1,1044.4 1114.2,1044 1115.2,1043.9 1116.2,1044 1117.2,1044.1 1118.3,1044.4 1119.3,1044.7 1120.3,1045.1 1121.3,1045.6 1122.3,1046.1 1123.4,1046.6 1124.4,1047.1 1125.4,1047.5 1126.4,1047.8 1127.5,1048.1 1128.5,1048.2 1129.5,1048.3 1130.5,1048.2 1131.5,1048 1132.5,1047.7 1133.5,1047.3 1134.5,1046.9 1135.5,1046.4 1136.5,1046 1137.5,1045.6 1138.5,1045.3 1139.5,1045.1 1140.5,1045 1141.5,1045.1 1142.5,1045.4 1143.6,1045.8 1144.6,1046.4 1145.6,1047.2 1146.6,1048 1147.7,1048.8 1148.7,1049.7 1149.7,1050.5 1150.7,1051.3 1151.7,1051.9 1152.8,1052.3 1153.8,1052.6 1154.8,1052.7 1155.8,1052.6 1156.9,1052.3 1157.9,1051.9 1159,1051.3 1160,1050.6 1161.1,1049.8 1162.1,1048.9 1163.2,1047.9 1164.2,1046.9 1165.2,1045.8 1166.3,1044.8 1167.3,1043.9 1168.4,1043.1 1169.4,1042.4 1170.5,1041.8 1171.5,1041.4 1172.6,1041.1 1173.6,1041 1174.7,1041.2 1175.7,1041.7 1176.8,1042.5 1177.9,1043.2 1178.9,1043.7 1180,1043.9" fill="none" stroke="#ff0000" stroke-width="3.0" stroke-linejoin="round" />
<polyline points="1313.6,1040.8 1314.6,1040.9 1315.7,1041.1 1316.7,1041.5 1317.7,1042.1 1318.7,1042.8 1319.8,1043.6 1320.8,1044.5 1321.8,1045.4 1322.8,1046.4 1323.9,1047.5 1324.9,1048.5 1325.9,1049.4 1326.9,1050.3 1328,1051.1 1329,1051.8 1330,1052.4 1331,1052.8 1332.1,1053 1333.1,1053.1 1334.1,1053 1335.1,1052.8 1336.1,1052.4 1337.2,1051.8 1338.2,1051.2 1339.2,1050.4 1340.2,1049.5 1341.2,1048.6 1342.2,1047.7 1343.3,1046.8 1344.3,1045.9 1345.3,1045 1346.3,1044.2 1347.3,1043.6 1348.4,1043 1349.4,1042.6 1350.4,1042.4 1351.4,1042.3 1352.4,1042.4 1353.5,1042.5 1354.5,1042.8 1355.5,1043.2 1356.6,1043.7 1357.6,1044.2 1358.6,1044.8 1359.6,1045.5 1360.7,1046.2 1361.7,1046.9 1362.7,1047.7 1363.8,1048.4 1364.8,1049.1 1365.8,1049.7 1366.8,1050.2 1367.9,1050.7 1368.9,1051.1 1369.9,1051.4 1371,1051.5 1372,1051.6 1373,1051.6 1374,1051.4 1375.1,1051.2 1376.1,1050.8 1377.1,1050.4 1378.2,1050 1379.2,1049.4 1380.2,1048.8 1381.2,1048.2 1382.2,1047.6 1383.3,1047 1384.3,1046.4 1385.3,1045.8 1386.3,1045.2 1387.4,1044.8 1388.4,1044.4 1389.4,1044 1390.5,1043.8 1391.5,1043.6 1392.5,1043.6 1393.5,1043.7 1394.5,1043.8 1395.5,1044.1 1396.6,1044.5 1397.6,1045 1398.6,1045.6 1399.6,1046.2 1400.6,1046.9 1401.7,1047.6 1402.7,1048.3 1403.7,1049 1404.7,1049.6 1405.7,1050.2 1406.7,1050.7 1407.8,1051.1 1408.8,1051.4 1409.8,1051.5 1410.8,1051.6 1411.8,1051.5 1412.8,1051.4 1413.9,1051.1 1414.9,1050.8 1415.9,1050.3 1416.9,1049.8 1418,1049.2 1419,1048.6 1420,1048 1421,1047.4 1422,1046.8 1423.1,1046.2 1424.1,1045.7 1425.1,1045.2 1426.1,1044.9 1427.2,1044.6 1428.2,1044.5 1429.2,1044.4 1430.2,1044.4 1431.2,1044.5 1432.2,1044.6 1433.2,1044.7 1434.2,1044.8 1435.2,1045 1436.2,1045.2 1437.2,1045.5 1438.2,1045.7 1439.2,1046 1440.2,1046.3 1441.2,1046.6 1442.2,1046.9 1443.2,1047.2 1444.3,1047.5 1445.3,1047.8 1446.3,1048.1 1447.3,1048.4 1448.3,1048.7 1449.3,1048.9 1450.3,1049.2 1451.3,1049.4 1452.3,1049.6 1453.3,1049.7 1454.3,1049.8 1455.3,1049.9 1456.3,1050 1457.3,1050 1458.3,1049.9 1459.3,1049.8 1460.3,1049.5 1461.3,1049.1 1462.4,1048.6 1463.4,1048 1464.4,1047.4 1465.4,1046.8 1466.4,1046.1 1467.4,1045.5 1468.4,1044.9 1469.4,1044.3 1470.5,1043.8 1471.5,1043.4 1472.5,1043.1 1473.5,1043 1474.5,1042.9 1475.5,1043 1476.5,1043.2 1477.6,1043.6 1478.6,1044.2 1479.6,1044.8 1480.6,1045.6 1481.6,1046.4 1482.6,1047.3 1483.7,1048.2 1484.7,1049.1 1485.7,1049.9 1486.7,1050.7 1487.7,1051.3 1488.7,1051.9 1489.8,1052.3 1490.8,1052.5 1491.8,1052.6 1492.8,1052.5 1493.8,1052.3 1494.9,1051.9 1495.9,1051.3 1496.9,1050.7 1497.9,1049.9 1499,1049 1500,1048.1 1501,1047.2 1502,1046.3 1503,1045.4 1504.1,1044.5 1505.1,1043.7 1506.1,1043.1 1507.1,1042.5 1508.2,1042.1 1509.2,1041.9 1510.2,1041.8 1511.2,1041.9 1512.2,1042.1 1513.3,1042.6 1514.3,1043.1 1515.3,1043.8 1516.3,1044.7 1517.3,1045.6 1518.4,1046.6 1519.4,1047.6 1520.4,1048.6 1521.4,1049.6 1522.5,1050.6 1523.5,1051.5 1524.5,1052.4 1525.5,1053.1 1526.5,1053.6 1527.6,1054.1 1528.6,1054.3 1529.6,1054.4 1530.6,1054.3 1531.6,1053.9 1532.7,1053.2 1533.7,1052.3 1534.7,1051.3 1535.7,1050 1536.7,1048.7 1537.7,1047.2 1538.8,1045.8 1539.8,1044.3 1540.8,1043 1541.8,1041.7 1542.8,1040.7 1543.8,1039.8 1544.9,1039.1 1545.9,1038.7 1546.9,1038.6 1547.9,1038.8 1548.9,1039.4 1549.9,1040.3 1551,1041.6 1552,1043.2 1553,1044.9 1554,1046.9 1555,1048.8 1556,1050.8 1557,1052.8 1558,1054.5 1559,1056.1 1560.1,1057.4 1561.1,1058.3 1562.1,1058.9 1563.1,1059.1 1564.1,1058.9 1565.1,1058.2 1566.2,1057.1 1567.2,1055.6 1568.2,1053.7 1569.2,1051.6 1570.2,1049.3 1571.2,1046.8 1572.3,1044.4 1573.3,1041.9 1574.3,1039.6 1575.3,1037.5 1576.3,1035.6 1577.3,1034.1 1578.4,1033 1579.4,1032.3 1580.4,1032.1 1581.4,1032.4 1582.4,1033.2 1583.5,1034.6 1584.5,1036.5 1585.5,1038.8 1586.5,1041.5 1587.5,1044.4 1588.5,1047.5 1589.6,1050.6 1590.6,1053.7 1591.6,1056.6 1592.6,1059.3 1593.6,1061.6 1594.6,1063.5 1595.7,1064.9 1596.7,1065.7 1597.7,1066 1598.7,1065.6 1599.7,1064.5 1600.7,1062.7 1601.7,1060.3 1602.8,1057.3 1603.8,1053.9 1604.8,1050.2 1605.8,1046.2 1606.8,1042.2 1607.8,1038.2 1608.8,1034.5 1609.8,1031.1 1610.9,1028.1 1611.9,1025.7 1612.9,1023.9 1613.9,1022.8 1614.9,1022.4 1615.9,1022.8 1616.9,1024.1 1617.9,1026.1 1618.9,1028.9 1619.9,1032.3 1620.9,1036.3 1621.9,1040.7 1622.9,1045.4 1623.9,1050.2 1624.9,1055.1 1625.9,1059.8 1626.9,1064.2 1627.9,1068.2 1628.9,1071.6 1629.9,1074.4 1630.9,1076.4 1631.9,1077.7 1632.9,1078.1 1633.9,1077.5 1635,1075.9 1636,1073.1 1637.1,1069.4 1638.1,1064.9 1639.1,1059.7 1640.2,1053.9 1641.2,1047.9 1642.3,1041.8 1643.3,1035.8 1644.4,1030 1645.4,1024.8 1646.4,1020.3 1647.5,1016.6 1648.5,1013.8 1649.6,1012.2 1650.6,1011.6 1651.6,1012.2 1652.6,1014.1 1653.7,1017.2 1654.7,1021.4 1655.7,1026.5 1656.7,1032.4 1657.7,1038.9 1658.7,1045.7 1659.8,1052.7 1660.8,1059.5 1661.8,1066 1662.8,1071.9 1663.8,1077 1664.8,1081.2 1665.9,1084.3 1666.9,1086.2 1667.9,1086.8 1669,1086.1 1670,1083.9 1671.1,1080.4 1672.1,1075.6 1673.2,1069.8 1674.2,1063.2 1675.2,1056.1 1676.3,1048.7 1677.4,1041.2 1678.4,1034.1 1679.5,1027.5 1680.5,1021.7 1681.5,1016.9 1682.6,1013.4 1683.7,1011.2 1684.7,1010.5 1685.7,1011.1 1686.7,1012.9 1687.8,1015.8 1688.8,1019.8 1689.8,1024.7 1690.8,1030.3 1691.8,1036.4 1692.8,1042.9 1693.9,1049.4 1694.9,1055.9 1695.9,1062 1696.9,1067.6 1697.9,1072.5 1698.9,1076.5 1700,1079.4 1701,1081.2 1702,1081.8 1703,1081.2 1704,1079.3 1705,1076.3 1706,1072.3 1707,1067.4 1708,1061.8 1709,1055.7 1710,1049.4 1711,1043.1 1712,1037 1713,1031.4 1714,1026.5 1715,1022.5 1716,1019.5 1717,1017.6 1718,1017 1719,1017.6 1720.1,1019.2 1721.2,1021.9 1722.2,1025.5 1723.2,1030 1724.3,1035 1725.3,1040.5 1726.4,1046.1 1727.5,1051.8 1728.5,1057.3 1729.5,1062.3 1730.6,1066.8 1731.6,1070.4 1732.7,1073.1 1733.8,1074.7 1734.8,1075.3 1735.8,1074.8 1736.8,1073.2 1737.8,1070.7 1738.8,1067.2 1739.9,1063.1 1740.9,1058.3 1741.9,1053.1 1742.9,1047.8 1743.9,1042.4 1744.9,1037.2 1745.9,1032.4 1747,1028.3 1748,1024.8 1749,1022.3 1750,1020.7 1751,1020.2 1752,1020.7 1753,1022.3 1754,1024.8 1755,1028.3 1756.1,1032.4 1757.1,1037.2 1758.1,1042.4 1759.1,1047.8 1760.1,1053.1 1761.1,1058.3 1762.1,1063.1 1763.2,1067.2 1764.2,1070.7 1765.2,1073.2 1766.2,1074.8 1767.2,1075.3 1768.2,1074.8 1769.2,1073.4 1770.3,1071.2 1771.3,1068.1 1772.3,1064.4 1773.3,1060 1774.3,1055.3 1775.3,1050.3 1776.4,1045.2 1777.4,1040.2 1778.4,1035.5 1779.4,1031.1 1780.4,1027.4 1781.4,1024.3 1782.5,1022.1 1783.5,1020.7 1784.5,1020.2 1785.5,1020.7 1786.5,1022 1787.6,1024.2 1788.6,1027.2 1789.6,1030.9 1790.6,1035.2 1791.6,1039.8 1792.6,1044.7 1793.7,1049.7 1794.7,1054.6 1795.7,1059.2 1796.7,1063.5 1797.7,1067.2 1798.7,1070.2 1799.8,1072.4 1800.8,1073.7 1801.8,1074.2 1802.8,1073.8 1803.8,1072.6 1804.8,1070.6 1805.9,1067.9 1806.9,1064.6 1807.9,1060.7 1808.9,1056.4 1809.9,1051.9 1810.9,1047.2 1812,1042.5 1813,1038 1814,1033.7 1815,1029.8 1816,1026.5 1817,1023.8 1818.1,1021.8 1819.1,1020.6 1820.1,1020.2 1821.1,1020.6 1822.2,1022 1823.2,1024.1 1824.2,1027 1825.2,1030.6 1826.3,1034.7 1827.3,1039.2 1828.3,1044 1829.4,1048.8 1830.4,1053.6 1831.4,1058.1 1832.5,1062.2 1833.5,1065.8 1834.5,1068.7 1835.5,1070.8 1836.6,1072.2 1837.6,1072.6 1838.6,1072.2 1839.7,1071 1840.7,1069 1841.8,1066.3 1842.8,1063 1843.9,1059.2 1844.9,1055 1846,1050.6 1847,1046.1 1848.1,1041.7 1849.1,1037.5 1850.2,1033.7 1851.2,1030.4 1852.3,1027.7 1853.3,1025.7 1854.4,1024.5 1855.4,1024.1 1856.4,1024.5 1857.5,1025.5 1858.5,1027.3 1859.5,1029.6 1860.6,1032.5 1861.6,1035.9 1862.6,1039.5 1863.7,1043.4 1864.7,1047.3 1865.8,1051.2 1866.8,1054.8 1867.8,1058.2 1868.9,1061.1 1869.9,1063.4 1870.9,1065.2 1872,1066.2 1873,1066.6 1874,1066.3 1875.1,1065.5 1876.1,1064.2 1877.1,1062.3 1878.2,1060.1 1879.2,1057.6 1880.2,1054.8 1881.3,1051.8 1882.3,1048.8 1883.4,1045.8 1884.4,1043 1885.4,1040.5 1886.5,1038.3 1887.5,1036.4 1888.5,1035.1 1889.6,1034.3 1890.6,1034 1891.6,1034.2 1892.7,1034.7 1893.7,1035.6 1894.7,1036.9 1895.8,1038.4 1896.8,1040.1 1897.8,1042 1898.9,1044 1899.9,1046 1901,1048 1902,1049.9 1903,1051.6 1904.1,1053.1 1905.1,1054.4 1906.1,1055.3 1907.2,1055.8 1908.2,1056 1909.3,1055.9 1910.3,1055.4 1911.4,1054.7 1912.4,1053.8 1913.5,1052.7 1914.5,1051.4 1915.6,1050.1 1916.6,1048.7 1917.7,1047.4 1918.7,1046.1 1919.8,1045 1920.8,1044.1 1921.9,1043.4 1922.9,1042.9 1924,1042.8 1925,1042.9 1926,1043.2 1927,1043.6 1928.1,1044.1 1929.1,1044.8 1930.1,1045.5 1931.1,1046.3 1932.1,1047 1933.1,1047.7 1934.2,1048.2 1935.2,1048.6 1936.2,1048.9 1937.2,1049 1938.2,1048.9 1939.2,1048.8 1940.2,1048.5 1941.3,1048.2 1942.3,1047.8 1943.3,1047.4 1944.3,1047 1945.3,1046.6 1946.3,1046.2 1947.4,1045.9 1948.4,1045.6 1949.4,1045.5 1950.4,1045.4 1951.4,1045.5 1952.4,1045.7 1953.5,1046.1 1954.5,1046.6 1955.5,1047.3 1956.5,1048 1957.6,1048.7 1958.6,1049.4 1959.6,1050.1 1960.6,1050.8 1961.6,1051.3 1962.7,1051.7 1963.7,1051.9 1964.7,1052 1965.7,1051.9 1966.8,1051.6 1967.8,1051.2 1968.8,1050.7 1969.9,1050 1970.9,1049.2 1971.9,1048.3 1973,1047.4 1974,1046.5 1975,1045.6 1976,1044.8 1977.1,1044.1 1978.1,1043.6 1979.1,1043.2 1980.2,1042.9 1981.2,1042.8 1982.2,1042.9 1983.3,1043.2 1984.3,1043.6 1985.3,1044.2 1986.4,1045 1987.4,1045.9 1988.4,1046.8 1989.5,1047.8 1990.5,1048.7 1991.5,1049.6 1992.5,1050.5 1993.6,1051.3 1994.6,1051.9 1995.6,1052.3 1996.7,1052.6 1997.7,1052.7 1998.7,1052.6 1999.8,1052.3 2000.8,1051.8 2001.8,1051.1 2002.9,1050.3 2003.9,1049.3 2004.9,1048.3 2006,1047.2 2007,1046.1 2008,1045.1 2009,1044.1 2010.1,1043.3 2011.1,1042.6 2012.1,1042.1 2013.2,1041.8 2014.2,1041.7 2015.2,1041.8 2016.3,1042.2 2017.3,1042.8 2018.3,1043.5 2019.4,1044.5 2020.4,1045.6 2021.4,1046.7 2022.5,1048 2023.5,1049.2 2024.5,1050.3 2025.5,1051.4 2026.6,1052.4 2027.6,1053.1 2028.6,1053.7 2029.7,1054.1 2030.7,1054.2 2031.7,1054.1 2032.8,1053.6 2033.8,1052.9 2034.8,1051.9 2035.9,1050.8 2036.9,1049.4 2037.9,1048 2039,1046.5 2040,1045 2041,1043.6 2042,1042.2 2043.1,1041.1 2044.1,1040.1 2045.1,1039.4 2046.2,1038.9 2047.2,1038.8 2048.2,1039 2049.3,1039.5 2050.3,1040.3 2051.3,1041.5 2052.4,1042.9 2053.4,1044.4 2054.4,1046.2 2055.4,1047.9 2056.5,1049.7 2057.5,1051.5 2058.5,1053 2059.6,1054.4 2060.6,1055.6 2061.6,1056.4 2062.7,1056.9 2063.7,1057.1 2064.7,1056.9 2065.8,1056.4 2066.8,1055.6 2067.8,1054.5 2068.9,1053.2 2069.9,1051.6 2070.9,1049.9 2072,1048.1 2073,1046.3 2074.1,1044.5 2075.1,1042.8 2076.1,1041.2 2077.2,1039.9 2078.2,1038.8 2079.2,1038 2080.3,1037.5 2081.3,1037.3 2082.3,1037.5 2083.4,1037.9 2084.4,1038.6 2085.5,1039.6 2086.5,1040.8 2087.5,1042.2 2088.6,1043.8 2089.6,1045.5 2090.7,1047.2 2091.7,1048.9 2092.7,1050.6 2093.8,1052.1 2094.8,1053.6 2095.8,1054.8 2096.9,1055.8 2097.9,1056.5 2099,1056.9 2100,1057.1 2101,1056.9 2102.1,1056.5 2103.1,1055.8 2104.2,1054.8 2105.2,1053.6 2106.2,1052.1 2107.3,1050.6 2108.3,1048.9 2109.3,1047.2 2110.4,1045.5 2111.4,1043.8 2112.5,1042.2 2113.5,1040.8 2114.5,1039.6 2115.6,1038.6 2116.6,1037.9 2117.7,1037.5 2118.7,1037.3 2119.7,1037.5 2120.8,1038 2121.8,1038.8 2122.8,1039.9 2123.9,1041.2 2124.9,1042.8 2125.9,1044.5 2127,1046.3 2128,1048.1 2129.1,1049.9 2130.1,1051.6 2131.1,1053.2 2132.2,1054.5 2133.2,1055.6 2134.2,1056.4 2135.3,1056.9 2136.3,1057.1 2137.3,1057 2138.4,1056.5 2139.4,1055.8 2140.4,1054.8 2141.5,1053.6 2142.5,1052.2 2143.5,1050.7 2144.6,1049.1 2145.6,1047.5 2146.7,1045.9 2147.7,1044.4 2148.7,1043 2149.8,1041.8 2150.8,1040.8 2151.8,1040.1 2152.9,1039.6 2153.9,1039.5 2154.9,1039.6 2156,1040 2157,1040.7 2158,1041.6 2159.1,1042.7 2160.1,1043.9 2161.1,1045.3 2162.2,1046.6 2163.2,1048 2164.2,1049.4 2165.2,1050.6 2166.3,1051.7 2167.3,1052.6 2168.3,1053.3 2169.4,1053.7 2170.4,1053.8 2171.4,1053.7 2172.5,1053.4 2173.5,1052.9 2174.5,1052.2 2175.6,1051.4 2176.6,1050.4 2177.6,1049.4 2178.7,1048.3 2179.7,1047.2 2180.7,1046.2 2181.7,1045.2 2182.8,1044.4 2183.8,1043.7 2184.8,1043.2 2185.9,1042.9 2186.9,1042.8 2187.9,1042.9 2189,1043.1 2190,1043.4 2191,1043.9 2192.1,1044.5 2193.1,1045.2 2194.1,1045.9 2195.2,1046.6 2196.2,1047.4 2197.2,1048.1 2198.2,1048.8 2199.3,1049.4 2200.3,1049.9 2201.3,1050.2 2202.4,1050.4 2203.4,1050.5 2204.4,1050.4 2205.5,1050.2 2206.5,1049.9 2207.6,1049.4 2208.6,1048.8 2209.6,1048.1 2210.7,1047.4 2211.7,1046.7 2212.7,1045.9 2213.8,1045.2 2214.8,1044.5 2215.8,1043.9 2216.9,1043.4 2217.9,1043.1 2219,1042.9 2220,1042.8 2221,1042.9 2222,1043.3 2223.1,1043.9 2224.1,1044.7 2225.1,1045.6 2226.1,1046.7 2227.1,1047.9 2228.2,1049.1 2229.2,1050.3 2230.2,1051.3 2231.2,1052.3 2232.2,1053.1 2233.3,1053.7 2234.3,1054.1 2235.3,1054.2 2236.3,1054.1 2237.4,1053.7 2238.4,1053.1 2239.5,1052.3 2240.5,1051.3 2241.5,1050.1 2242.6,1048.9 2243.6,1047.5 2244.7,1046.2 2245.7,1044.8 2246.8,1043.6 2247.8,1042.4 2248.8,1041.4 2249.9,1040.6 2250.9,1040 2252,1039.6 2253,1039.5 2254,1039.7 2255.1,1040.1 2256.1,1040.9 2257.1,1041.9 2258.1,1043.1 2259.2,1044.5 2260.2,1046 2261.2,1047.5 2262.2,1049.1 2263.2,1050.6 2264.3,1052 2265.3,1053.2 2266.3,1054.2 2267.3,1055 2268.4,1055.4 2269.4,1055.6 2270.4,1055.5 2271.5,1055 2272.5,1054.4 2273.6,1053.5 2274.6,1052.4 2275.6,1051.1 2276.7,1049.7 2277.7,1048.3 2278.7,1046.9 2279.8,1045.5 2280.8,1044.2 2281.8,1043.1 2282.9,1042.2 2283.9,1041.6 2285,1041.1 2286,1041 2287,1041.1 2288,1041.5 2289.1,1042.1 2290.1,1042.9 2291.1,1043.9 2292.1,1045 2293.1,1046.2 2294.2,1047.5 2295.2,1048.7 2296.2,1049.8 2297.2,1050.8 2298.2,1051.6 2299.3,1052.2 2300.3,1052.6 2301.3,1052.7 2302.3,1052.6 2303.4,1052.3 2304.4,1051.9 2305.4,1051.2 2306.5,1050.5 2307.5,1049.7 2308.5,1048.8 2309.6,1047.8 2310.6,1046.9 2311.6,1046.1 2312.7,1045.4 2313.7,1044.7 2314.7,1044.3 2315.8,1044 2316.8,1043.9 2317.8,1044 2318.8,1044.4 2319.8,1045 2320.8,1045.7 2321.8,1046.6 2322.9,1047.5 2323.9,1048.5 2324.9,1049.4 2325.9,1050.1 2326.9,1050.7 2327.9,1051.1 2328.9,1051.2 2329.9,1051.1 2331,1050.9 2332,1050.5 2333,1050.1 2334.1,1049.5 2335.1,1048.8 2336.1,1048 2337.2,1047.2 2338.2,1046.4 2339.3,1045.6 2340.3,1044.8 2341.3,1044.1 2342.4,1043.5 2343.4,1043.1 2344.4,1042.7 2345.5,1042.5 2346.5,1042.4 2347.5,1042.5 2348.6,1042.9 2349.6,1043.5 2350.6,1044.3 2351.6,1045.2 2352.7,1046.3 2353.7,1047.5 2354.7,1048.7 2355.7,1049.9 2356.8,1051 2357.8,1051.9 2358.8,1052.7 2359.8,1053.3 2360.9,1053.7 2361.9,1053.8 2363,1053.6 2364.1,1053.2 2365.3,1052.6 2366.4,1052.2 2367.5,1052" fill="none" stroke="#0000ff" stroke-width="3.0" stroke-linejoin="round" />
<path d="M445.5,309.1V401" stroke="#000" stroke-width="3" stroke-dasharray="12.5 13.5" fill="none"/>
<path d="M445.5,418.8V692.4" stroke="#000" stroke-width="3" stroke-dasharray="12.5 13.5" fill="none"/>
<path d="M445.5,709.5V983.8" stroke="#000" stroke-width="3" stroke-dasharray="12.5 13.5" fill="none"/>
<path d="M445.5,1007.3V1098.8" stroke="#000" stroke-width="3" stroke-dasharray="12.5 13.5" fill="none"/>
<path d="M1632.8,309.1V401" stroke="#000" stroke-width="3" stroke-dasharray="12.5 13.5" fill="none"/>
<path d="M1632.8,418.8V692.4" stroke="#000" stroke-width="3" stroke-dasharray="12.5 13.5" fill="none"/>
<path d="M1632.8,709.5V983.8" stroke="#000" stroke-width="3" stroke-dasharray="12.5 13.5" fill="none"/>
<path d="M1632.8,1007.3V1098.8" stroke="#000" stroke-width="3" stroke-dasharray="12.5 13.5" fill="none"/>
<path d="M126,11H1180.3" stroke="#3a3a3a" stroke-width="1.3"/>
<path d="M126,287.4H1180.3" stroke="#d6d6d6" stroke-width="1.3"/>
<path d="M126,11V287.4" stroke="#e0e0e0" stroke-width="1.2"/>
<path d="M1180.3,11V287.4" stroke="#6a6a6a" stroke-width="1.2"/>
<path d="M151.1,11v10.5M151.1,287.4v-10.5M176.2,11v10.5M176.2,287.4v-10.5M201.3,11v10.5M201.3,287.4v-10.5M226.4,11v10.5M226.4,287.4v-10.5M251.5,11v10.5M251.5,287.4v-10.5M276.6,11v10.5M276.6,287.4v-10.5M301.7,11v10.5M301.7,287.4v-10.5M326.8,11v10.5M326.8,287.4v-10.5M351.9,11v10.5M351.9,287.4v-10.5M377,11v10.5M377,287.4v-10.5M402.1,11v10.5M402.1,287.4v-10.5M427.2,11v10.5M427.2,287.4v-10.5M452.3,11v10.5M452.3,287.4v-10.5M477.4,11v10.5M477.4,287.4v-10.5M502.5,11v10.5M502.5,287.4v-10.5M527.6,11v10.5M527.6,287.4v-10.5M552.7,11v10.5M552.7,287.4v-10.5M577.8,11v10.5M577.8,287.4v-10.5M602.9,11v10.5M602.9,287.4v-10.5M628,11v10.5M628,287.4v-10.5M653.1,11v10.5M653.1,287.4v-10.5M678.3,11v10.5M678.3,287.4v-10.5M703.4,11v10.5M703.4,287.4v-10.5M728.5,11v10.5M728.5,287.4v-10.5M753.6,11v10.5M753.6,287.4v-10.5M778.7,11v10.5M778.7,287.4v-10.5M803.8,11v10.5M803.8,287.4v-10.5M828.9,11v10.5M828.9,287.4v-10.5M854,11v10.5M854,287.4v-10.5M879.1,11v10.5M879.1,287.4v-10.5M904.2,11v10.5M904.2,287.4v-10.5M929.3,11v10.5M929.3,287.4v-10.5M954.4,11v10.5M954.4,287.4v-10.5M979.5,11v10.5M979.5,287.4v-10.5M1004.6,11v10.5M1004.6,287.4v-10.5M1029.7,11v10.5M1029.7,287.4v-10.5M1054.8,11v10.5M1054.8,287.4v-10.5M1079.9,11v10.5M1079.9,287.4v-10.5M1105,11v10.5M1105,287.4v-10.5M1130.1,11v10.5M1130.1,287.4v-10.5M1155.2,11v10.5M1155.2,287.4v-10.5M126,18.5h10.5M1180.3,18.5h-10.5M126,55.4h10.5M1180.3,55.4h-10.5M126,92.3h10.5M1180.3,92.3h-10.5M126,129.2h10.5M1180.3,129.2h-10.5M126,166.1h10.5M1180.3,166.1h-10.5M126,203h10.5M1180.3,203h-10.5M126,239.9h10.5M1180.3,239.9h-10.5M126,276.8h10.5M1180.3,276.8h-10.5" stroke="#404040" stroke-width="1.2" fill="none"/>
<path d="M126,415.8H1180.3" stroke="#3a3a3a" stroke-width="1.3"/>
<path d="M126,692.4H1180.3" stroke="#d6d6d6" stroke-width="1.3"/>
<path d="M126,415.8V692.4" stroke="#e0e0e0" stroke-width="1.2"/>
<path d="M1180.3,415.8V692.4" stroke="#6a6a6a" stroke-width="1.2"/>
<path d="M151.1,415.8v10.5M151.1,692.4v-10.5M176.2,415.8v10.5M176.2,692.4v-10.5M201.3,415.8v10.5M201.3,692.4v-10.5M226.4,415.8v10.5M226.4,692.4v-10.5M251.5,415.8v10.5M251.5,692.4v-10.5M276.6,415.8v10.5M276.6,692.4v-10.5M301.7,415.8v10.5M301.7,692.4v-10.5M326.8,415.8v10.5M326.8,692.4v-10.5M351.9,415.8v10.5M351.9,692.4v-10.5M377,415.8v10.5M377,692.4v-10.5M402.1,415.8v10.5M402.1,692.4v-10.5M427.2,415.8v10.5M427.2,692.4v-10.5M452.3,415.8v10.5M452.3,692.4v-10.5M477.4,415.8v10.5M477.4,692.4v-10.5M502.5,415.8v10.5M502.5,692.4v-10.5M527.6,415.8v10.5M527.6,692.4v-10.5M552.7,415.8v10.5M552.7,692.4v-10.5M577.8,415.8v10.5M577.8,692.4v-10.5M602.9,415.8v10.5M602.9,692.4v-10.5M628,415.8v10.5M628,692.4v-10.5M653.1,415.8v10.5M653.1,692.4v-10.5M678.3,415.8v10.5M678.3,692.4v-10.5M703.4,415.8v10.5M703.4,692.4v-10.5M728.5,415.8v10.5M728.5,692.4v-10.5M753.6,415.8v10.5M753.6,692.4v-10.5M778.7,415.8v10.5M778.7,692.4v-10.5M803.8,415.8v10.5M803.8,692.4v-10.5M828.9,415.8v10.5M828.9,692.4v-10.5M854,415.8v10.5M854,692.4v-10.5M879.1,415.8v10.5M879.1,692.4v-10.5M904.2,415.8v10.5M904.2,692.4v-10.5M929.3,415.8v10.5M929.3,692.4v-10.5M954.4,415.8v10.5M954.4,692.4v-10.5M979.5,415.8v10.5M979.5,692.4v-10.5M1004.6,415.8v10.5M1004.6,692.4v-10.5M1029.7,415.8v10.5M1029.7,692.4v-10.5M1054.8,415.8v10.5M1054.8,692.4v-10.5M1079.9,415.8v10.5M1079.9,692.4v-10.5M1105,415.8v10.5M1105,692.4v-10.5M1130.1,415.8v10.5M1130.1,692.4v-10.5M1155.2,415.8v10.5M1155.2,692.4v-10.5M126,423.3h10.5M1180.3,423.3h-10.5M126,460.2h10.5M1180.3,460.2h-10.5M126,497.1h10.5M1180.3,497.1h-10.5M126,534h10.5M1180.3,534h-10.5M126,570.9h10.5M1180.3,570.9h-10.5M126,607.8h10.5M1180.3,607.8h-10.5M126,644.7h10.5M1180.3,644.7h-10.5M126,681.6h10.5M1180.3,681.6h-10.5" stroke="#404040" stroke-width="1.2" fill="none"/>
<path d="M126,706.4H1180.3" stroke="#3a3a3a" stroke-width="1.3"/>
<path d="M126,983.8H1180.3" stroke="#d6d6d6" stroke-width="1.3"/>
<path d="M126,706.4V983.8" stroke="#e0e0e0" stroke-width="1.2"/>
<path d="M1180.3,706.4V983.8" stroke="#6a6a6a" stroke-width="1.2"/>
<path d="M151.1,706.4v10.5M151.1,983.8v-10.5M176.2,706.4v10.5M176.2,983.8v-10.5M201.3,706.4v10.5M201.3,983.8v-10.5M226.4,706.4v10.5M226.4,983.8v-10.5M251.5,706.4v10.5M251.5,983.8v-10.5M276.6,706.4v10.5M276.6,983.8v-10.5M301.7,706.4v10.5M301.7,983.8v-10.5M326.8,706.4v10.5M326.8,983.8v-10.5M351.9,706.4v10.5M351.9,983.8v-10.5M377,706.4v10.5M377,983.8v-10.5M402.1,706.4v10.5M402.1,983.8v-10.5M427.2,706.4v10.5M427.2,983.8v-10.5M452.3,706.4v10.5M452.3,983.8v-10.5M477.4,706.4v10.5M477.4,983.8v-10.5M502.5,706.4v10.5M502.5,983.8v-10.5M527.6,706.4v10.5M527.6,983.8v-10.5M552.7,706.4v10.5M552.7,983.8v-10.5M577.8,706.4v10.5M577.8,983.8v-10.5M602.9,706.4v10.5M602.9,983.8v-10.5M628,706.4v10.5M628,983.8v-10.5M653.1,706.4v10.5M653.1,983.8v-10.5M678.3,706.4v10.5M678.3,983.8v-10.5M703.4,706.4v10.5M703.4,983.8v-10.5M728.5,706.4v10.5M728.5,983.8v-10.5M753.6,706.4v10.5M753.6,983.8v-10.5M778.7,706.4v10.5M778.7,983.8v-10.5M803.8,706.4v10.5M803.8,983.8v-10.5M828.9,706.4v10.5M828.9,983.8v-10.5M854,706.4v10.5M854,983.8v-10.5M879.1,706.4v10.5M879.1,983.8v-10.5M904.2,706.4v10.5M904.2,983.8v-10.5M929.3,706.4v10.5M929.3,983.8v-10.5M954.4,706.4v10.5M954.4,983.8v-10.5M979.5,706.4v10.5M979.5,983.8v-10.5M1004.6,706.4v10.5M1004.6,983.8v-10.5M1029.7,706.4v10.5M1029.7,983.8v-10.5M1054.8,706.4v10.5M1054.8,983.8v-10.5M1079.9,706.4v10.5M1079.9,983.8v-10.5M1105,706.4v10.5M1105,983.8v-10.5M1130.1,706.4v10.5M1130.1,983.8v-10.5M1155.2,706.4v10.5M1155.2,983.8v-10.5M126,713.9h10.5M1180.3,713.9h-10.5M126,750.8h10.5M1180.3,750.8h-10.5M126,787.7h10.5M1180.3,787.7h-10.5M126,824.6h10.5M1180.3,824.6h-10.5M126,861.5h10.5M1180.3,861.5h-10.5M126,898.4h10.5M1180.3,898.4h-10.5M126,935.3h10.5M1180.3,935.3h-10.5M126,972.2h10.5M1180.3,972.2h-10.5" stroke="#404040" stroke-width="1.2" fill="none"/>
<path d="M1313.5,11H2367.8" stroke="#3a3a3a" stroke-width="1.3"/>
<path d="M1313.5,287.4H2367.8" stroke="#d6d6d6" stroke-width="1.3"/>
<path d="M1313.5,11V287.4" stroke="#e0e0e0" stroke-width="1.2"/>
<path d="M2367.8,11V287.4" stroke="#6a6a6a" stroke-width="1.2"/>
<path d="M1338.6,11v10.5M1338.6,287.4v-10.5M1363.7,11v10.5M1363.7,287.4v-10.5M1388.8,11v10.5M1388.8,287.4v-10.5M1413.9,11v10.5M1413.9,287.4v-10.5M1439,11v10.5M1439,287.4v-10.5M1464.1,11v10.5M1464.1,287.4v-10.5M1489.2,11v10.5M1489.2,287.4v-10.5M1514.3,11v10.5M1514.3,287.4v-10.5M1539.4,11v10.5M1539.4,287.4v-10.5M1564.5,11v10.5M1564.5,287.4v-10.5M1589.6,11v10.5M1589.6,287.4v-10.5M1614.7,11v10.5M1614.7,287.4v-10.5M1639.8,11v10.5M1639.8,287.4v-10.5M1664.9,11v10.5M1664.9,287.4v-10.5M1690,11v10.5M1690,287.4v-10.5M1715.1,11v10.5M1715.1,287.4v-10.5M1740.2,11v10.5M1740.2,287.4v-10.5M1765.3,11v10.5M1765.3,287.4v-10.5M1790.4,11v10.5M1790.4,287.4v-10.5M1815.5,11v10.5M1815.5,287.4v-10.5M1840.7,11v10.5M1840.7,287.4v-10.5M1865.8,11v10.5M1865.8,287.4v-10.5M1890.9,11v10.5M1890.9,287.4v-10.5M1916,11v10.5M1916,287.4v-10.5M1941.1,11v10.5M1941.1,287.4v-10.5M1966.2,11v10.5M1966.2,287.4v-10.5M1991.3,11v10.5M1991.3,287.4v-10.5M2016.4,11v10.5M2016.4,287.4v-10.5M2041.5,11v10.5M2041.5,287.4v-10.5M2066.6,11v10.5M2066.6,287.4v-10.5M2091.7,11v10.5M2091.7,287.4v-10.5M2116.8,11v10.5M2116.8,287.4v-10.5M2141.9,11v10.5M2141.9,287.4v-10.5M2167,11v10.5M2167,287.4v-10.5M2192.1,11v10.5M2192.1,287.4v-10.5M2217.2,11v10.5M2217.2,287.4v-10.5M2242.3,11v10.5M2242.3,287.4v-10.5M2267.4,11v10.5M2267.4,287.4v-10.5M2292.5,11v10.5M2292.5,287.4v-10.5M2317.6,11v10.5M2317.6,287.4v-10.5M2342.7,11v10.5M2342.7,287.4v-10.5M1313.5,18.5h10.5M2367.8,18.5h-10.5M1313.5,55.4h10.5M2367.8,55.4h-10.5M1313.5,92.3h10.5M2367.8,92.3h-10.5M1313.5,129.2h10.5M2367.8,129.2h-10.5M1313.5,166.1h10.5M2367.8,166.1h-10.5M1313.5,203h10.5M2367.8,203h-10.5M1313.5,239.9h10.5M2367.8,239.9h-10.5M1313.5,276.8h10.5M2367.8,276.8h-10.5" stroke="#404040" stroke-width="1.2" fill="none"/>
<path d="M1313.5,415.8H2367.8" stroke="#3a3a3a" stroke-width="1.3"/>
<path d="M1313.5,692.4H2367.8" stroke="#d6d6d6" stroke-width="1.3"/>
<path d="M1313.5,415.8V692.4" stroke="#e0e0e0" stroke-width="1.2"/>
<path d="M2367.8,415.8V692.4" stroke="#6a6a6a" stroke-width="1.2"/>
<path d="M1338.6,415.8v10.5M1338.6,692.4v-10.5M1363.7,415.8v10.5M1363.7,692.4v-10.5M1388.8,415.8v10.5M1388.8,692.4v-10.5M1413.9,415.8v10.5M1413.9,692.4v-10.5M1439,415.8v10.5M1439,692.4v-10.5M1464.1,415.8v10.5M1464.1,692.4v-10.5M1489.2,415.8v10.5M1489.2,692.4v-10.5M1514.3,415.8v10.5M1514.3,692.4v-10.5M1539.4,415.8v10.5M1539.4,692.4v-10.5M1564.5,415.8v10.5M1564.5,692.4v-10.5M1589.6,415.8v10.5M1589.6,692.4v-10.5M1614.7,415.8v10.5M1614.7,692.4v-10.5M1639.8,415.8v10.5M1639.8,692.4v-10.5M1664.9,415.8v10.5M1664.9,692.4v-10.5M1690,415.8v10.5M1690,692.4v-10.5M1715.1,415.8v10.5M1715.1,692.4v-10.5M1740.2,415.8v10.5M1740.2,692.4v-10.5M1765.3,415.8v10.5M1765.3,692.4v-10.5M1790.4,415.8v10.5M1790.4,692.4v-10.5M1815.5,415.8v10.5M1815.5,692.4v-10.5M1840.7,415.8v10.5M1840.7,692.4v-10.5M1865.8,415.8v10.5M1865.8,692.4v-10.5M1890.9,415.8v10.5M1890.9,692.4v-10.5M1916,415.8v10.5M1916,692.4v-10.5M1941.1,415.8v10.5M1941.1,692.4v-10.5M1966.2,415.8v10.5M1966.2,692.4v-10.5M1991.3,415.8v10.5M1991.3,692.4v-10.5M2016.4,415.8v10.5M2016.4,692.4v-10.5M2041.5,415.8v10.5M2041.5,692.4v-10.5M2066.6,415.8v10.5M2066.6,692.4v-10.5M2091.7,415.8v10.5M2091.7,692.4v-10.5M2116.8,415.8v10.5M2116.8,692.4v-10.5M2141.9,415.8v10.5M2141.9,692.4v-10.5M2167,415.8v10.5M2167,692.4v-10.5M2192.1,415.8v10.5M2192.1,692.4v-10.5M2217.2,415.8v10.5M2217.2,692.4v-10.5M2242.3,415.8v10.5M2242.3,692.4v-10.5M2267.4,415.8v10.5M2267.4,692.4v-10.5M2292.5,415.8v10.5M2292.5,692.4v-10.5M2317.6,415.8v10.5M2317.6,692.4v-10.5M2342.7,415.8v10.5M2342.7,692.4v-10.5M1313.5,423.3h10.5M2367.8,423.3h-10.5M1313.5,460.2h10.5M2367.8,460.2h-10.5M1313.5,497.1h10.5M2367.8,497.1h-10.5M1313.5,534h10.5M2367.8,534h-10.5M1313.5,570.9h10.5M2367.8,570.9h-10.5M1313.5,607.8h10.5M2367.8,607.8h-10.5M1313.5,644.7h10.5M2367.8,644.7h-10.5M1313.5,681.6h10.5M2367.8,681.6h-10.5" stroke="#404040" stroke-width="1.2" fill="none"/>
<path d="M1313.5,706.4H2367.8" stroke="#3a3a3a" stroke-width="1.3"/>
<path d="M1313.5,983.8H2367.8" stroke="#d6d6d6" stroke-width="1.3"/>
<path d="M1313.5,706.4V983.8" stroke="#e0e0e0" stroke-width="1.2"/>
<path d="M2367.8,706.4V983.8" stroke="#6a6a6a" stroke-width="1.2"/>
<path d="M1338.6,706.4v10.5M1338.6,983.8v-10.5M1363.7,706.4v10.5M1363.7,983.8v-10.5M1388.8,706.4v10.5M1388.8,983.8v-10.5M1413.9,706.4v10.5M1413.9,983.8v-10.5M1439,706.4v10.5M1439,983.8v-10.5M1464.1,706.4v10.5M1464.1,983.8v-10.5M1489.2,706.4v10.5M1489.2,983.8v-10.5M1514.3,706.4v10.5M1514.3,983.8v-10.5M1539.4,706.4v10.5M1539.4,983.8v-10.5M1564.5,706.4v10.5M1564.5,983.8v-10.5M1589.6,706.4v10.5M1589.6,983.8v-10.5M1614.7,706.4v10.5M1614.7,983.8v-10.5M1639.8,706.4v10.5M1639.8,983.8v-10.5M1664.9,706.4v10.5M1664.9,983.8v-10.5M1690,706.4v10.5M1690,983.8v-10.5M1715.1,706.4v10.5M1715.1,983.8v-10.5M1740.2,706.4v10.5M1740.2,983.8v-10.5M1765.3,706.4v10.5M1765.3,983.8v-10.5M1790.4,706.4v10.5M1790.4,983.8v-10.5M1815.5,706.4v10.5M1815.5,983.8v-10.5M1840.7,706.4v10.5M1840.7,983.8v-10.5M1865.8,706.4v10.5M1865.8,983.8v-10.5M1890.9,706.4v10.5M1890.9,983.8v-10.5M1916,706.4v10.5M1916,983.8v-10.5M1941.1,706.4v10.5M1941.1,983.8v-10.5M1966.2,706.4v10.5M1966.2,983.8v-10.5M1991.3,706.4v10.5M1991.3,983.8v-10.5M2016.4,706.4v10.5M2016.4,983.8v-10.5M2041.5,706.4v10.5M2041.5,983.8v-10.5M2066.6,706.4v10.5M2066.6,983.8v-10.5M2091.7,706.4v10.5M2091.7,983.8v-10.5M2116.8,706.4v10.5M2116.8,983.8v-10.5M2141.9,706.4v10.5M2141.9,983.8v-10.5M2167,706.4v10.5M2167,983.8v-10.5M2192.1,706.4v10.5M2192.1,983.8v-10.5M2217.2,706.4v10.5M2217.2,983.8v-10.5M2242.3,706.4v10.5M2242.3,983.8v-10.5M2267.4,706.4v10.5M2267.4,983.8v-10.5M2292.5,706.4v10.5M2292.5,983.8v-10.5M2317.6,706.4v10.5M2317.6,983.8v-10.5M2342.7,706.4v10.5M2342.7,983.8v-10.5M1313.5,713.9h10.5M2367.8,713.9h-10.5M1313.5,750.8h10.5M2367.8,750.8h-10.5M1313.5,787.7h10.5M2367.8,787.7h-10.5M1313.5,824.6h10.5M2367.8,824.6h-10.5M1313.5,861.5h10.5M2367.8,861.5h-10.5M1313.5,898.4h10.5M2367.8,898.4h-10.5M1313.5,935.3h10.5M2367.8,935.3h-10.5M1313.5,972.2h10.5M2367.8,972.2h-10.5" stroke="#404040" stroke-width="1.2" fill="none"/>
<path d="M126,299.7H1180.3" stroke="#dcdcdc" stroke-width="1.3"/>
<path d="M126,401H1180.3" stroke="#3a3a3a" stroke-width="1.3"/>
<path d="M126,299.7V401" stroke="#e0e0e0" stroke-width="1.2"/>
<path d="M1180.3,299.7V401" stroke="#6a6a6a" stroke-width="1.2"/>
<path d="M151.1,299.7v10.5M151.1,401v-10.5M176.2,299.7v10.5M176.2,401v-10.5M201.3,299.7v10.5M201.3,401v-10.5M226.4,299.7v10.5M226.4,401v-10.5M251.5,299.7v10.5M251.5,401v-10.5M276.6,299.7v10.5M276.6,401v-10.5M301.7,299.7v10.5M301.7,401v-10.5M326.8,299.7v10.5M326.8,401v-10.5M351.9,299.7v10.5M351.9,401v-10.5M377,299.7v10.5M377,401v-10.5M402.1,299.7v10.5M402.1,401v-10.5M427.2,299.7v10.5M427.2,401v-10.5M452.3,299.7v10.5M452.3,401v-10.5M477.4,299.7v10.5M477.4,401v-10.5M502.5,299.7v10.5M502.5,401v-10.5M527.6,299.7v10.5M527.6,401v-10.5M552.7,299.7v10.5M552.7,401v-10.5M577.8,299.7v10.5M577.8,401v-10.5M602.9,299.7v10.5M602.9,401v-10.5M628,299.7v10.5M628,401v-10.5M653.1,299.7v10.5M653.1,401v-10.5M678.3,299.7v10.5M678.3,401v-10.5M703.4,299.7v10.5M703.4,401v-10.5M728.5,299.7v10.5M728.5,401v-10.5M753.6,299.7v10.5M753.6,401v-10.5M778.7,299.7v10.5M778.7,401v-10.5M803.8,299.7v10.5M803.8,401v-10.5M828.9,299.7v10.5M828.9,401v-10.5M854,299.7v10.5M854,401v-10.5M879.1,299.7v10.5M879.1,401v-10.5M904.2,299.7v10.5M904.2,401v-10.5M929.3,299.7v10.5M929.3,401v-10.5M954.4,299.7v10.5M954.4,401v-10.5M979.5,299.7v10.5M979.5,401v-10.5M1004.6,299.7v10.5M1004.6,401v-10.5M1029.7,299.7v10.5M1029.7,401v-10.5M1054.8,299.7v10.5M1054.8,401v-10.5M1079.9,299.7v10.5M1079.9,401v-10.5M1105,299.7v10.5M1105,401v-10.5M1130.1,299.7v10.5M1130.1,401v-10.5M1155.2,299.7v10.5M1155.2,401v-10.5M126,328.5h10.5M1180.3,328.5h-10.5M126,357.1h10.5M1180.3,357.1h-10.5M126,387.2h10.5M1180.3,387.2h-10.5" stroke="#404040" stroke-width="1.2" fill="none"/>
<path d="M1313.5,299.7H2367.8" stroke="#dcdcdc" stroke-width="1.3"/>
<path d="M1313.5,401H2367.8" stroke="#3a3a3a" stroke-width="1.3"/>
<path d="M1313.5,299.7V401" stroke="#e0e0e0" stroke-width="1.2"/>
<path d="M2367.8,299.7V401" stroke="#6a6a6a" stroke-width="1.2"/>
<path d="M1338.6,299.7v10.5M1338.6,401v-10.5M1363.7,299.7v10.5M1363.7,401v-10.5M1388.8,299.7v10.5M1388.8,401v-10.5M1413.9,299.7v10.5M1413.9,401v-10.5M1439,299.7v10.5M1439,401v-10.5M1464.1,299.7v10.5M1464.1,401v-10.5M1489.2,299.7v10.5M1489.2,401v-10.5M1514.3,299.7v10.5M1514.3,401v-10.5M1539.4,299.7v10.5M1539.4,401v-10.5M1564.5,299.7v10.5M1564.5,401v-10.5M1589.6,299.7v10.5M1589.6,401v-10.5M1614.7,299.7v10.5M1614.7,401v-10.5M1639.8,299.7v10.5M1639.8,401v-10.5M1664.9,299.7v10.5M1664.9,401v-10.5M1690,299.7v10.5M1690,401v-10.5M1715.1,299.7v10.5M1715.1,401v-10.5M1740.2,299.7v10.5M1740.2,401v-10.5M1765.3,299.7v10.5M1765.3,401v-10.5M1790.4,299.7v10.5M1790.4,401v-10.5M1815.5,299.7v10.5M1815.5,401v-10.5M1840.7,299.7v10.5M1840.7,401v-10.5M1865.8,299.7v10.5M1865.8,401v-10.5M1890.9,299.7v10.5M1890.9,401v-10.5M1916,299.7v10.5M1916,401v-10.5M1941.1,299.7v10.5M1941.1,401v-10.5M1966.2,299.7v10.5M1966.2,401v-10.5M1991.3,299.7v10.5M1991.3,401v-10.5M2016.4,299.7v10.5M2016.4,401v-10.5M2041.5,299.7v10.5M2041.5,401v-10.5M2066.6,299.7v10.5M2066.6,401v-10.5M2091.7,299.7v10.5M2091.7,401v-10.5M2116.8,299.7v10.5M2116.8,401v-10.5M2141.9,299.7v10.5M2141.9,401v-10.5M2167,299.7v10.5M2167,401v-10.5M2192.1,299.7v10.5M2192.1,401v-10.5M2217.2,299.7v10.5M2217.2,401v-10.5M2242.3,299.7v10.5M2242.3,401v-10.5M2267.4,299.7v10.5M2267.4,401v-10.5M2292.5,299.7v10.5M2292.5,401v-10.5M2317.6,299.7v10.5M2317.6,401v-10.5M2342.7,299.7v10.5M2342.7,401v-10.5M1313.5,321.7h10.5M2367.8,321.7h-10.5M1313.5,345.5h10.5M2367.8,345.5h-10.5M1313.5,369.3h10.5M2367.8,369.3h-10.5M1313.5,393h10.5M2367.8,393h-10.5" stroke="#404040" stroke-width="1.2" fill="none"/>
<path d="M126,997.4H1180.3" stroke="#dcdcdc" stroke-width="1.3"/>
<path d="M126,1098.8H1180.3" stroke="#3a3a3a" stroke-width="1.3"/>
<path d="M126,997.4V1098.8" stroke="#e0e0e0" stroke-width="1.2"/>
<path d="M1180.3,997.4V1098.8" stroke="#6a6a6a" stroke-width="1.2"/>
<path d="M151.1,997.4v10.5M151.1,1098.8v-10.5M176.2,997.4v10.5M176.2,1098.8v-10.5M201.3,997.4v10.5M201.3,1098.8v-10.5M226.4,997.4v10.5M226.4,1098.8v-10.5M251.5,997.4v10.5M251.5,1098.8v-10.5M276.6,997.4v10.5M276.6,1098.8v-10.5M301.7,997.4v10.5M301.7,1098.8v-10.5M326.8,997.4v10.5M326.8,1098.8v-10.5M351.9,997.4v10.5M351.9,1098.8v-10.5M377,997.4v10.5M377,1098.8v-10.5M402.1,997.4v10.5M402.1,1098.8v-10.5M427.2,997.4v10.5M427.2,1098.8v-10.5M452.3,997.4v10.5M452.3,1098.8v-10.5M477.4,997.4v10.5M477.4,1098.8v-10.5M502.5,997.4v10.5M502.5,1098.8v-10.5M527.6,997.4v10.5M527.6,1098.8v-10.5M552.7,997.4v10.5M552.7,1098.8v-10.5M577.8,997.4v10.5M577.8,1098.8v-10.5M602.9,997.4v10.5M602.9,1098.8v-10.5M628,997.4v10.5M628,1098.8v-10.5M653.1,997.4v10.5M653.1,1098.8v-10.5M678.3,997.4v10.5M678.3,1098.8v-10.5M703.4,997.4v10.5M703.4,1098.8v-10.5M728.5,997.4v10.5M728.5,1098.8v-10.5M753.6,997.4v10.5M753.6,1098.8v-10.5M778.7,997.4v10.5M778.7,1098.8v-10.5M803.8,997.4v10.5M803.8,1098.8v-10.5M828.9,997.4v10.5M828.9,1098.8v-10.5M854,997.4v10.5M854,1098.8v-10.5M879.1,997.4v10.5M879.1,1098.8v-10.5M904.2,997.4v10.5M904.2,1098.8v-10.5M929.3,997.4v10.5M929.3,1098.8v-10.5M954.4,997.4v10.5M954.4,1098.8v-10.5M979.5,997.4v10.5M979.5,1098.8v-10.5M1004.6,997.4v10.5M1004.6,1098.8v-10.5M1029.7,997.4v10.5M1029.7,1098.8v-10.5M1054.8,997.4v10.5M1054.8,1098.8v-10.5M1079.9,997.4v10.5M1079.9,1098.8v-10.5M1105,997.4v10.5M1105,1098.8v-10.5M1130.1,997.4v10.5M1130.1,1098.8v-10.5M1155.2,997.4v10.5M1155.2,1098.8v-10.5M126,1047.4h10.5M1180.3,1047.4h-10.5" stroke="#404040" stroke-width="1.2" fill="none"/>
<path d="M1313.5,997.4H2367.8" stroke="#dcdcdc" stroke-width="1.3"/>
<path d="M1313.5,1098.8H2367.8" stroke="#3a3a3a" stroke-width="1.3"/>
<path d="M1313.5,997.4V1098.8" stroke="#e0e0e0" stroke-width="1.2"/>
<path d="M2367.8,997.4V1098.8" stroke="#6a6a6a" stroke-width="1.2"/>
<path d="M1338.6,997.4v10.5M1338.6,1098.8v-10.5M1363.7,997.4v10.5M1363.7,1098.8v-10.5M1388.8,997.4v10.5M1388.8,1098.8v-10.5M1413.9,997.4v10.5M1413.9,1098.8v-10.5M1439,997.4v10.5M1439,1098.8v-10.5M1464.1,997.4v10.5M1464.1,1098.8v-10.5M1489.2,997.4v10.5M1489.2,1098.8v-10.5M1514.3,997.4v10.5M1514.3,1098.8v-10.5M1539.4,997.4v10.5M1539.4,1098.8v-10.5M1564.5,997.4v10.5M1564.5,1098.8v-10.5M1589.6,997.4v10.5M1589.6,1098.8v-10.5M1614.7,997.4v10.5M1614.7,1098.8v-10.5M1639.8,997.4v10.5M1639.8,1098.8v-10.5M1664.9,997.4v10.5M1664.9,1098.8v-10.5M1690,997.4v10.5M1690,1098.8v-10.5M1715.1,997.4v10.5M1715.1,1098.8v-10.5M1740.2,997.4v10.5M1740.2,1098.8v-10.5M1765.3,997.4v10.5M1765.3,1098.8v-10.5M1790.4,997.4v10.5M1790.4,1098.8v-10.5M1815.5,997.4v10.5M1815.5,1098.8v-10.5M1840.7,997.4v10.5M1840.7,1098.8v-10.5M1865.8,997.4v10.5M1865.8,1098.8v-10.5M1890.9,997.4v10.5M1890.9,1098.8v-10.5M1916,997.4v10.5M1916,1098.8v-10.5M1941.1,997.4v10.5M1941.1,1098.8v-10.5M1966.2,997.4v10.5M1966.2,1098.8v-10.5M1991.3,997.4v10.5M1991.3,1098.8v-10.5M2016.4,997.4v10.5M2016.4,1098.8v-10.5M2041.5,997.4v10.5M2041.5,1098.8v-10.5M2066.6,997.4v10.5M2066.6,1098.8v-10.5M2091.7,997.4v10.5M2091.7,1098.8v-10.5M2116.8,997.4v10.5M2116.8,1098.8v-10.5M2141.9,997.4v10.5M2141.9,1098.8v-10.5M2167,997.4v10.5M2167,1098.8v-10.5M2192.1,997.4v10.5M2192.1,1098.8v-10.5M2217.2,997.4v10.5M2217.2,1098.8v-10.5M2242.3,997.4v10.5M2242.3,1098.8v-10.5M2267.4,997.4v10.5M2267.4,1098.8v-10.5M2292.5,997.4v10.5M2292.5,1098.8v-10.5M2317.6,997.4v10.5M2317.6,1098.8v-10.5M2342.7,997.4v10.5M2342.7,1098.8v-10.5M1313.5,1017.8h10.5M2367.8,1017.8h-10.5M1313.5,1047.4h10.5M2367.8,1047.4h-10.5M1313.5,1077h10.5M2367.8,1077h-10.5" stroke="#404040" stroke-width="1.2" fill="none"/>
<rect x="1196" y="18.7" width="36.6" height="226.5" fill="url(#jetv)" stroke="#555" stroke-width="1"/>
<path d="M1232.6,51.4h-3M1232.6,116.7h-3M1232.6,181.8h-3" stroke="#333" stroke-width="1"/>
<rect x="1194" y="429.5" width="35" height="256" fill="url(#jetv)" stroke="#555" stroke-width="1"/>
<path d="" stroke="#333" stroke-width="1"/>
<rect x="1194.5" y="725.4" width="33.1" height="230.3" fill="url(#jetv)" stroke="#555" stroke-width="1"/>
<path d="M1227.6,765.8h-3M1227.6,841.5h-3M1227.6,918.5h-3" stroke="#333" stroke-width="1"/>
<rect x="2382.3" y="12.6" width="35.4" height="258.9" fill="url(#jetv)" stroke="#555" stroke-width="1"/>
<path d="M2417.7,75.8h-3M2417.7,137.6h-3M2417.7,198.2h-3" stroke="#333" stroke-width="1"/>
<rect x="2382.3" y="417.2" width="35.4" height="273.7" fill="url(#jetv)" stroke="#555" stroke-width="1"/>
<path d="M2417.7,484.6h-3M2417.7,549h-3M2417.7,614.1h-3" stroke="#333" stroke-width="1"/>
<rect x="2383.4" y="749.5" width="35" height="231.9" fill="url(#jetv)" stroke="#555" stroke-width="1"/>
<path d="M2418.4,866h-3" stroke="#333" stroke-width="1"/>
<text x="115" y="29.5" font-size="28.6" text-anchor="end" fill="#262626" >-400</text>
<text x="115" y="66.4" font-size="28.6" text-anchor="end" fill="#262626" >-600</text>
<text x="115" y="103.3" font-size="28.6" text-anchor="end" fill="#262626" >-800</text>
<text x="115" y="140.2" font-size="28.6" text-anchor="end" fill="#262626" >-1000</text>
<text x="115" y="177.1" font-size="28.6" text-anchor="end" fill="#262626" >-1200</text>
<text x="115" y="214" font-size="28.6" text-anchor="end" fill="#262626" >-1400</text>
<text x="115" y="250.9" font-size="28.6" text-anchor="end" fill="#262626" >-1600</text>
<text x="115" y="287.8" font-size="28.6" text-anchor="end" fill="#262626" >-1800</text>
<text x="115" y="434.3" font-size="28.6" text-anchor="end" fill="#262626" >-400</text>
<text x="115" y="471.2" font-size="28.6" text-anchor="end" fill="#262626" >-600</text>
<text x="115" y="508.1" font-size="28.6" text-anchor="end" fill="#262626" >-800</text>
<text x="115" y="545" font-size="28.6" text-anchor="end" fill="#262626" >-1000</text>
<text x="115" y="581.9" font-size="28.6" text-anchor="end" fill="#262626" >-1200</text>
<text x="115" y="618.8" font-size="28.6" text-anchor="end" fill="#262626" >-1400</text>
<text x="115" y="655.7" font-size="28.6" text-anchor="end" fill="#262626" >-1600</text>
<text x="115" y="692.6" font-size="28.6" text-anchor="end" fill="#262626" >-1800</text>
<text x="115" y="724.9" font-size="28.6" text-anchor="end" fill="#262626" >-400</text>
<text x="115" y="761.8" font-size="28.6" text-anchor="end" fill="#262626" >-600</text>
<text x="115" y="798.7" font-size="28.6" text-anchor="end" fill="#262626" >-800</text>
<text x="115" y="835.6" font-size="28.6" text-anchor="end" fill="#262626" >-1000</text>
<text x="115" y="872.5" font-size="28.6" text-anchor="end" fill="#262626" >-1200</text>
<text x="115" y="909.4" font-size="28.6" text-anchor="end" fill="#262626" >-1400</text>
<text x="115" y="946.3" font-size="28.6" text-anchor="end" fill="#262626" >-1600</text>
<text x="115" y="983.2" font-size="28.6" text-anchor="end" fill="#262626" >-1800</text>
<text x="115" y="310.8" font-size="28.6" text-anchor="end" fill="#262626" >0.2</text>
<text x="115" y="340.3" font-size="28.6" text-anchor="end" fill="#262626" >0</text>
<text x="115" y="369.7" font-size="28.6" text-anchor="end" fill="#262626" >-0.2</text>
<text x="115" y="399.2" font-size="28.6" text-anchor="end" fill="#262626" >-0.4</text>
<text x="115" y="1009.9" font-size="28.6" text-anchor="end" fill="#262626" >0.1</text>
<text x="115" y="1058.3" font-size="28.6" text-anchor="end" fill="#262626" >0</text>
<text x="115" y="1111.8" font-size="28.6" text-anchor="end" fill="#262626" >-0.1</text>
<text x="1302" y="310.3" font-size="28.6" text-anchor="end" fill="#262626" >15</text>
<text x="1302" y="332" font-size="28.6" text-anchor="end" fill="#262626" >10</text>
<text x="1302" y="355.7" font-size="28.6" text-anchor="end" fill="#262626" >5</text>
<text x="1302" y="379.7" font-size="28.6" text-anchor="end" fill="#262626" >0</text>
<text x="1302" y="402.9" font-size="28.6" text-anchor="end" fill="#262626" >-5</text>
<text x="1302" y="1028" font-size="28.6" text-anchor="end" fill="#262626" >2</text>
<text x="1302" y="1057.8" font-size="28.6" text-anchor="end" fill="#262626" >0</text>
<text x="1302" y="1087" font-size="28.6" text-anchor="end" fill="#262626" >-2</text>
<text x="125.2" y="1138" font-size="28.6" text-anchor="middle" fill="#262626" >9/3</text>
<text x="200.5" y="1138" font-size="28.6" text-anchor="middle" fill="#262626" >9/6</text>
<text x="275.8" y="1138" font-size="28.6" text-anchor="middle" fill="#262626" >9/9</text>
<text x="351.1" y="1138" font-size="28.6" text-anchor="middle" fill="#262626" >9/12</text>
<text x="426.4" y="1138" font-size="28.6" text-anchor="middle" fill="#262626" >9/15</text>
<text x="501.7" y="1138" font-size="28.6" text-anchor="middle" fill="#262626" >9/18</text>
<text x="577" y="1138" font-size="28.6" text-anchor="middle" fill="#262626" >9/21</text>
<text x="652.4" y="1138" font-size="28.6" text-anchor="middle" fill="#262626" >9/24</text>
<text x="727.7" y="1138" font-size="28.6" text-anchor="middle" fill="#262626" >9/27</text>
<text x="803" y="1138" font-size="28.6" text-anchor="middle" fill="#262626" >9/30</text>
<text x="878.3" y="1138" font-size="28.6" text-anchor="middle" fill="#262626" >10/3</text>
<text x="953.6" y="1138" font-size="28.6" text-anchor="middle" fill="#262626" >10/6</text>
<text x="1028.9" y="1138" font-size="28.6" text-anchor="middle" fill="#262626" >10/9</text>
<text x="1104.2" y="1138" font-size="28.6" text-anchor="middle" fill="#262626" >10/12</text>
<text x="1179.5" y="1138" font-size="28.6" text-anchor="middle" fill="#262626" >10/15</text>
<text x="1312.7" y="1138" font-size="28.6" text-anchor="middle" fill="#262626" >9/3</text>
<text x="1388" y="1138" font-size="28.6" text-anchor="middle" fill="#262626" >9/6</text>
<text x="1463.3" y="1138" font-size="28.6" text-anchor="middle" fill="#262626" >9/9</text>
<text x="1538.6" y="1138" font-size="28.6" text-anchor="middle" fill="#262626" >9/12</text>
<text x="1613.9" y="1138" font-size="28.6" text-anchor="middle" fill="#262626" >9/15</text>
<text x="1689.2" y="1138" font-size="28.6" text-anchor="middle" fill="#262626" >9/18</text>
<text x="1764.5" y="1138" font-size="28.6" text-anchor="middle" fill="#262626" >9/21</text>
<text x="1839.9" y="1138" font-size="28.6" text-anchor="middle" fill="#262626" >9/24</text>
<text x="1915.2" y="1138" font-size="28.6" text-anchor="middle" fill="#262626" >9/27</text>
<text x="1990.5" y="1138" font-size="28.6" text-anchor="middle" fill="#262626" >9/30</text>
<text x="2065.8" y="1138" font-size="28.6" text-anchor="middle" fill="#262626" >10/3</text>
<text x="2141.1" y="1138" font-size="28.6" text-anchor="middle" fill="#262626" >10/6</text>
<text x="2216.4" y="1138" font-size="28.6" text-anchor="middle" fill="#262626" >10/9</text>
<text x="2291.7" y="1138" font-size="28.6" text-anchor="middle" fill="#262626" >10/12</text>
<text x="2367" y="1138" font-size="28.6" text-anchor="middle" fill="#262626" >10/15</text>
<text x="522.3" y="1171.5" font-size="32.9" text-anchor="start" fill="#262626" >Time (month/day)</text>
<text x="1714.7" y="1176.6" font-size="32.9" text-anchor="start" fill="#000" >Time (month/day)</text>
<text transform="translate(28.6,147.7) rotate(-90)" font-size="32.9" text-anchor="middle" fill="#262626">Depth (m)</text>
<text transform="translate(28.6,553.8) rotate(-90)" font-size="32.9" text-anchor="middle" fill="#262626">Depth (m)</text>
<text transform="translate(28.6,844.5) rotate(-90)" font-size="32.9" text-anchor="middle" fill="#262626">Depth (m)</text>
<text transform="translate(41.3,344.4) rotate(-90)" font-size="32.9" text-anchor="middle" fill="#262626">(°C)</text>
<text transform="translate(50.9,1033.3) rotate(-90)" font-size="32.9" text-anchor="middle" fill="#262626">(°C)</text>
<text transform="translate(1254.1,337.9) rotate(-90)" font-size="32.9" text-anchor="middle" fill="#262626">(10<tspan dy="-15.5" font-size="23">-3</tspan><tspan dy="15.5"> psu)</tspan></text>
<text transform="translate(1264.8,1047.3) rotate(-90)" font-size="32.9" text-anchor="middle" fill="#262626">(10<tspan dy="-15.5" font-size="23">-3</tspan><tspan dy="15.5"> psu)</tspan></text>
<text x="1021.5" y="269" font-size="31.9" text-anchor="start" fill="#000" >(A) T (°C)</text>
<text x="152.5" y="385.2" font-size="31.55" text-anchor="start" fill="#000" >(B) Average, ΔT</text>
<text x="900.7" y="677.4" font-size="31.5" text-anchor="start" fill="#000" >(C) T (°C), Inertial</text>
<text x="886.1" y="964.8" font-size="31.45" text-anchor="start" fill="#000" >(D) ΔT (°C), Inertial</text>
<text x="821.8" y="1085.7" font-size="31.85" text-anchor="start" fill="#000" >(E) Average, ΔT, Inertial</text>
<text x="2191.1" y="270" font-size="31.3" text-anchor="start" fill="#000" >(F) S (psu)</text>
<text x="2081.3" y="677.4" font-size="31.25" text-anchor="start" fill="#000" >(G) S (psu), Inertial</text>
<text x="1339.8" y="336" font-size="31.5" text-anchor="start" fill="#000" >(H) Average, ΔS</text>
<text x="2073.6" y="964.8" font-size="31.45" text-anchor="start" fill="#000" >(I) ΔS (psu), Inertial</text>
<text x="2016.3" y="1086.8" font-size="31.55" text-anchor="start" fill="#000" >(J) Average, ΔS, Inertial</text>
<text x="1240.5" y="62.8" font-size="28.6" text-anchor="start" fill="#262626" >8</text>
<text x="1240.5" y="127" font-size="28.6" text-anchor="start" fill="#262626" >6</text>
<text x="1240.5" y="192.1" font-size="28.6" text-anchor="start" fill="#262626" >4</text>
<text x="1240.5" y="256.3" font-size="28.6" text-anchor="start" fill="#262626" >2</text>
<text x="1237.5" y="477.2" font-size="28.6" text-anchor="start" fill="#262626" >8</text>
<text x="1237.5" y="550.9" font-size="28.6" text-anchor="start" fill="#262626" >6</text>
<text x="1237.5" y="624.5" font-size="28.6" text-anchor="start" fill="#262626" >4</text>
<text x="1237.5" y="696.7" font-size="28.6" text-anchor="start" fill="#262626" >2</text>
<text x="1236.5" y="776.1" font-size="28.6" text-anchor="start" fill="#262626" >0.1</text>
<text x="1236.5" y="851.8" font-size="28.6" text-anchor="start" fill="#262626" >0</text>
<text x="1236.5" y="928.8" font-size="28.6" text-anchor="start" fill="#262626" >-0.1</text>
<text x="2426" y="25.5" font-size="28.6" text-anchor="start" fill="#262626" >34.6</text>
<text x="2426" y="86.1" font-size="28.6" text-anchor="start" fill="#262626" >34.55</text>
<text x="2426" y="147.9" font-size="28.6" text-anchor="start" fill="#262626" >34.5</text>
<text x="2426" y="208.5" font-size="28.6" text-anchor="start" fill="#262626" >34.45</text>
<text x="2426" y="270.3" font-size="28.6" text-anchor="start" fill="#262626" >34.4</text>
<text x="2426" y="430" font-size="28.6" text-anchor="start" fill="#262626" >34.6</text>
<text x="2426" y="494.9" font-size="28.6" text-anchor="start" fill="#262626" >34.55</text>
<text x="2426" y="559.3" font-size="28.6" text-anchor="start" fill="#262626" >34.5</text>
<text x="2426" y="624.4" font-size="28.6" text-anchor="start" fill="#262626" >34.45</text>
<text x="2426" y="690.1" font-size="28.6" text-anchor="start" fill="#262626" >34.4</text>
<text x="2427" y="761.6" font-size="28.6" text-anchor="start" fill="#262626" >5</text>
<text x="2427" y="876.3" font-size="28.6" text-anchor="start" fill="#262626" >0</text>
<text x="2427" y="993.8" font-size="28.6" text-anchor="start" fill="#262626" >-5</text>
<text x="2420.5" y="738" font-size="30" fill="#555">×</text>
<text x="2441.5" y="738" font-size="28.6" fill="#262626">10<tspan dy="-11" font-size="22">-3</tspan></text>
</svg></body></html>
